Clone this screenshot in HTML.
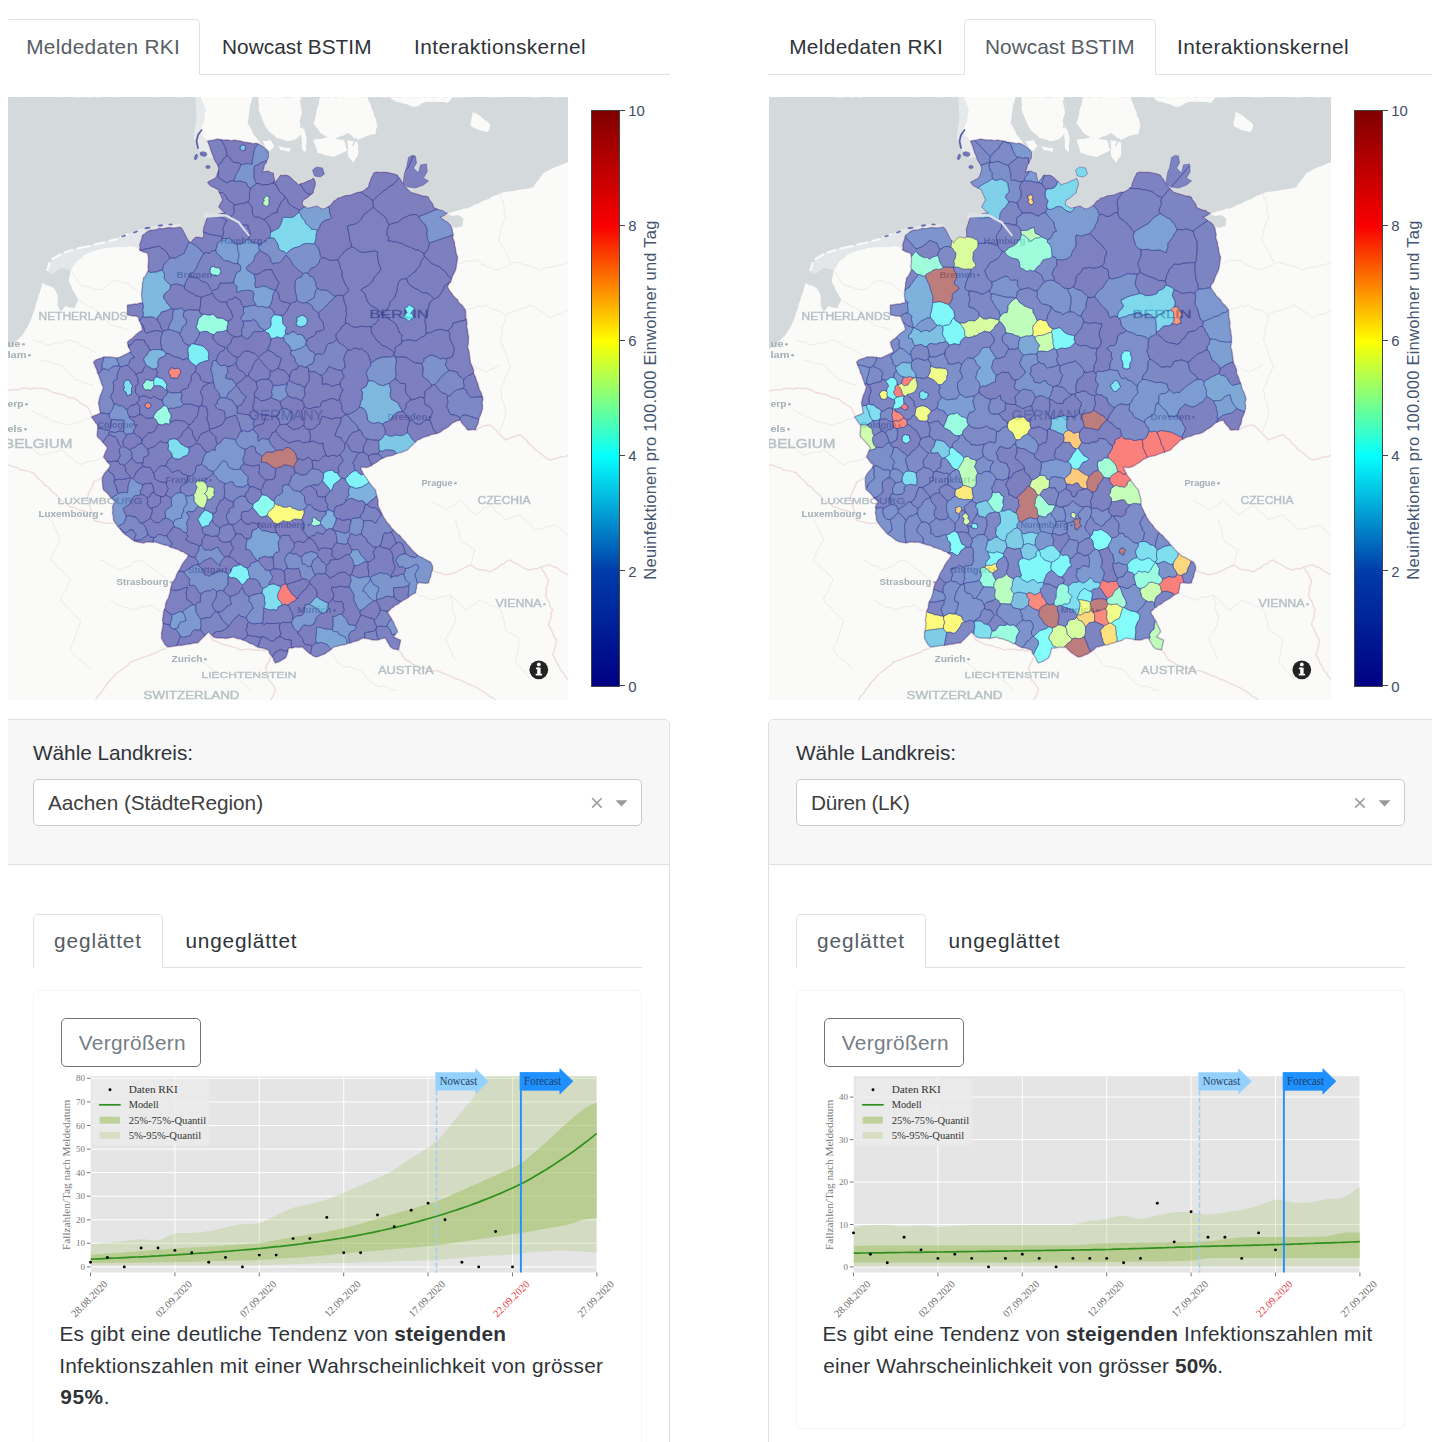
<!DOCTYPE html>
<html lang="de"><head><meta charset="utf-8"><title>BSTIM Covid-19 Dashboard</title>
<style>
html,body{margin:0;padding:0;background:#fff}
body{width:1440px;height:1442px;position:relative;overflow:hidden;font-family:"Liberation Sans",sans-serif;color:#212529}
.panel{position:absolute;top:0;height:1442px;overflow:hidden}
.pin{position:absolute;top:0;width:665px;height:1442px}
.abs,.t,.navline,.tabact,.map,.card,.cardhead,.dd,.inner,.btn{position:absolute;box-sizing:border-box}
.t{white-space:nowrap;font-size:20.8px;line-height:24px;transform-origin:0 50%}
.tab.tact{color:#565d64}.tab.tin{color:#2f3338}
.navline{height:1px;background:#dee2e6}
.tabact{border:1px solid #dee2e6;border-bottom:1px solid #fff;border-radius:5px 5px 0 0;background:#fff;height:56px}
.map{overflow:hidden;background:#fafaf8}
.map svg{filter:blur(.45px)}
.card{border:1px solid #dfdfdf;border-radius:5px 5px 0 0;background:#fff}
.cardhead{background:#f7f7f7;border-bottom:1px solid #dfdfdf;border-radius:4px 4px 0 0}
.lbl{color:#2f3338}
.dd{border:1px solid #ccc;border-radius:5px;background:#fff}
.ddt{color:#404040}
.inner{border:1px solid #f5f5f5;border-radius:5px;box-shadow:0 0 1px rgba(0,0,0,.04)}
.btn{border:1.3px solid #6c757d;border-radius:5px}
.btnt{color:#757e86}
.body{color:#2f3338}
b{font-weight:bold}
.cbar{border:1px solid #444;background:linear-gradient(to top,rgb(0,0,131) 0%,rgb(0,60,170) 20%,rgb(5,255,255) 40%,rgb(255,255,0) 60%,rgb(250,0,0) 80%,rgb(128,0,0) 100%)}
.cbl{font-size:14.9px;line-height:18px;color:#3d4d68;white-space:nowrap}
.cbt{font-size:16.5px;line-height:18px;letter-spacing:.25px;color:#44546e;white-space:nowrap;transform:translate(-50%,-50%) rotate(-90deg);transform-origin:50% 50%}
</style></head><body>
<div class="panel" style="left:8px;width:662.5px"><div class="pin" style="left:-3px">
<div class="navline" style="left:0;top:74px;width:665px"></div>
<div class="tabact" style="left:0px;top:19px;width:194.75px;height:56px"></div>
<span class="t tab tact" style="letter-spacing:0.347px;left:21.2px;top:34.7px">Meldedaten RKI</span>
<span class="t tab tin" style="letter-spacing:0.032px;left:217px;top:34.7px">Nowcast BSTIM</span>
<span class="t tab tin" style="letter-spacing:0.436px;left:409px;top:34.7px">Interaktionskernel</span>
<div class="map" style="left:0.5px;top:97px;width:562.5px;height:602.5px"><svg width="562.5" height="602.5" viewBox="5.5 97 562.5 602.5" style="display:block">
<rect x="0" y="90" width="580" height="620" fill="#fafaf8"/>
<path d="M5 97l4-.2 4-.1 3.9 .5 4-.6 4 .4 4-.1 4-.3 3.9 .4 4-.5 4 .4 4-.3 4 0 3.9 .3 4 .4 4-.7 4 .1 4 .4 3.9 .3 4-.3 4-.2 4 .6 4-1 3.9 .9 4-.6 4-.2 4 0 3.9 .2 4 .5 4-.6 4 .4 4 0 3.9-.2 4 .1 4-.4 4 0 4 .1 3.9 .5 4-.3 4-.1 4 .3 4-.1 3.9-.2 4 .5 4-.1 4-.5 4 .4 3.9-.1 4 .4 4-.4 1.5 4.4 2 4.2 1.5 4.4-1.3 4.2 0 4.5-1.2 4.3-1.4 3-1.8 2.9-1.3 3.1 2.7 2.3 2.3 2.7 4 4 1.5 4 1.5 4 1.9 3.8 1.1 4.2 2 5 1.3 3.1 1.7 2.9-1 5-2 5-4 2-4 2 3 4 4 2 4 2 2 5 2 5-2 3-2 4 3 3 4 3-3.5 .2-3.5 .8-3 .9-3 1.1-5 1-2 5-1.4 2.9-.6 3.1 0 5-1 5-4-1-3 0-3 3-2 3-3-4-2-4-2-4-3-4-3.7 .4-3.8-.1-3.8 .4-3.7 .3-3.8 .4-3.7 .6-3.8 .2-3.7 .8-4 2-4 3-1.4 3.4-.6 3.6-.5 3-.5 3-4.5-1.2-4.5-.8-4.3 .8-4.4-.3-4.3 .5-3.5 .1-3.5-.1-3.5 .4-3.5 .6-3.6 1.2-3.7 .9-3.7 .9-4.6 1.8-4.4 2.2-2.4 2.7-2.9 2-2.7 2.3-2.2 4.2-2.8 3.8-.3 3.4-.6 3.4-1.1 3.2 1.1 3.4 1.9 3.1 1 3.5 2.2 3.2 1.9 3.4 1.9 3.4-2.3 3.8-1.7 4.2-4.6-.6-4.4-1.4-2.5 3-2.5 3-1.5-3.5-1.5-3.5 .4-5-.4-5-1.7-3.7-2.3-3.3-3.5-2-3.9-1.1-3.6-1.9-.9 3.5-1.1 3.5-.9 3.4-1.5 3.2-.6 3.4-1.8 3.9-.5 4.2-1.7 3.9-1.4 4.4-1.7 4.4-1.9 4.2-1.8 3.5-2.2 3.2-2 3.3-3.6 3.4-3.4 3.6-2.8 2.7-3.2 2.3-4 2-.5-4 .4-4 0-4 .2-4 .4-4-.3-4-.2-4 .1-4 .1-4-.6-4 .8-4-.1-4 .1-4-.1-4-.4-4 0-4-.3-4 .5-4-.5-4 0-4 .1-4 0-4 .1-4-.2-4-.1-4 .2-4-.1-4 .3-4-.4-4 .9-4-.3-4-.5-4 .2-4 0-4 .1-4-.3-4 .7-4 .2-4-.5-4 0-4-.4-4 0-4 .2-4 0-4 .5-4-.6-4-.2-4 1-4-.5-4-.4-4 .4-4-.5-4 .5-4 .5-4-.1-4-.2-4-.4-4 .1-4-.2-4 .6-4-.3-4 .3-4zM252 97l4-.3 4 .8 4-.9 4 .6 4-.6 4 .1 4 .8 4-.8 4 .4 4-.1 4 0 4 0 4-.3 4 .6 4-.7 4 .1 4-.2 4 .3 4 .1 4 .5 4-.5 4-.3 4 .2 4 .7 4-.9 4 .5 4-.2 4 .3 4-.4 4 .4 4-.2 4 .1 4 .3 4-.3 4-.5 4 0 4 .8 4-.4 4-.3 4 .7 4-.3 4 .1 4 .2 4-.6 4 .1 4 .5 4-.8 4 .7 4-.7 4 .6 4 0 4 .2 4-.1 4-.3 4-.3 4 0 4 .3 4 0 4-.4 4 .8 4-.4 4 .2 4-.5 4 0 4-.2 4 .3 4 0 4 .1 4 0 4 .4 4 .1 4-.7 4 .2 4-.2 4 .5 4 .3 4-.8 4 .6 4-.3 .2 4.1 .3 4-.8 4.1 .5 4 .1 4.1-.2 4.1 .2 4-.2 4.1 0 4.1 0 4-.2 4.1 .3 4.1 .2 4 0 4.1 0 4-.4 4.1-4.3 1.6-4.3 1.9-4.4 1.5-4.1 1.7-3.9 2.3-4 2-2.7 3.4-2.3 3.6-2.9 3.2-2.1 3.8-3.9 1.2-4 .8-4 .6-4.1 .4-4.2 .9-4.3 .5-4.3 .6-4.2 1-3.7 1.9-4 1.2-3.3 2.6-4 1.3-3.9 1.4-3.5 2.4-4 1.1-3.6 2.1-3.2 1.4-3.6 .2-3.2 1.4-3.4 .8-3.4 .7-3.2 1.5-3 0-3.5-1.6-3.5-1.4-3.6-1.2-3.4-1.8-2-5-3-5-3.9-1.5-4.1-.5-3.5-.9-3.5-1.1-3-1-4-4-2.3-2.2-1.7-2.8-2-4-3-4-3.5-1.1-3.5-.9-3.5-.5-3.5-.5-5 0-5 1-1.5 3.5-1.5 3.5-.7 3.6-1.3 3.4-4 3-4 2-5 1-5 2-3.4 .9-3.6 .1-3 .9-3 1.1-4 3-3 4-3 2-4 2-3-1.5-3-1.5-5 1-5 1-5-3 1-5 5-3 2.3-2.3 2.7-1.7 1-5 1-5-2-5-3 1.6-3 1.4-4 2-5 2-4-4-4-4-5-2-5 0-2 3-3 5-1-4-.3-3-.7-3-5-2-3 .3-3 .7 1-3.5 1-3.5 1.9-3.6 2.1-3.4-.1-3 .1-3-2.7-2.3-2.3-2.7-2.2-2.3-1.8-2.7-2-2.5-2-2.5-2.3-3.3-1.7-3.7-1.8-3.6-2.2-3.4 .9-4.3 .5-4.3 .6-4.4 .5-4.4 1.4-4.3zM446 213.5l6 2.5 6-1 5 4-1 7-7 2-5-3-5-4-4-4z" fill="#d4dadc"/>
<path d="M200 97L205 110 202.5 123 198 132 203 137 207 141 210 149 213 157 206 158 198 150 193 138 196 118 195 97Z" fill="#e6eaeb"/>
<path d="M47 272 50 262 60 254 72 249.5 89 245.5 104 242 116 238.5 127 234 139 229 150 226.5 165 224.5 180 224 180 227 165 228 150 230 142 235 139 248 130 246 117 247 103 248 92 251 83 255 75 262 70 270 60 268 52 274Z" fill="#e3e7e9"/>
<path d="M262 141l4.1 0 3.9-1 1.8 3.1 2.2 2.9-2.2 2.3-1.8 2.7-5-3-1.1-3.7zM258 97l4.2-.4 4.2 .6 4.2 0 4.2-.2 4.2-.3 4.2 .7 4.2 0 4.2-.4 4.2 0 4.2 0 1 4.3 .9 4.3 .1 4.4-.8 4-1.3 4-.9 4 1.5 3.2 .2 3.6 1.3 3.2-2.8 3.7-3.2 3.3-3.3 1-3.3 .9-3.4 .1-3.2-1.6-3.4-.7-3.4-.7-2.4-2.7-2.8-2.1-2.8-2.2-2.5-3.4-1.7-3.8-1.8-3.8-1.3-4-1.8-3.9-.9-4.1 .5-3.7-.7-3.6zM300 124l1.5 3.3 2.5 2.7 1.1 3.9 .8 4 .1 4.1-.9 3.3 .6 3.4-.7 3.3-3-2-.8-4 .3-4-.5-4-.4-3.5 .4-3.5-1.1-3.5zM278 146l3.9 1.2 4 .7 4.1 .1-1 4-4.4-1.5-4.6-.5zM320 97l3.9 .3 3.9 .1 4-.8 3.9 1 3.9-1 3.9 .6 3.9-.7 3.9 .8 3.9-.7 4 .6 3.9 .1 3.9-.3 1.2 3.9 1.9 3.6 1 3.9 1.9 3.6 .4 3.7 2 3.2 .6 3.6 1 3.5-1.5 3.9-.5 4.1-4.6 .7-4.4 1.3-4.5 2.1-4.5 1.9-3.5-2.1-2.9-3-3.6-1.9-3.3 2.2-3.8 1-3.6 1.7-3.3 2.1-3.4-1.4-3.2-1.9-3.3-1.7-3.1-2-2.3-3.4-2.5-3.2-2.2-3.4 1.5-3.9 1-4 .3-4.2 1.2-3.9 1.5-3.2 0-3.6zM313 140l3.5-.9 3.6-.1 3.5-.8 3.4-1.2 4.1 .4 3.8 1.5 4.1 .5 4 .6 1.8 3.1 .4 3.8 1.8 3.1-3.4 2-3.5 1.7-3.6 1.6-3.5 1.7-4-1.1-4.1-.5-3.8-1.6-4.1-.8-1-4.5-1.7-4.2zM347 140l3.3 1 3.4 0 3.3 1 .7 3.6-.2 3.7 .5 3.7-1.2 3.6-2.4 2.9-1.4 3.5-2.3-3.2-2.7-2.8-.8-4.2 .5-4.3-.4-4.3zM389 97l3.9 .2 4 0 3.9 .3 4-.9 3.9-.1 3.9 .9 4-.6 3.9 0 3.9 .6 4-.8 3.9 .9 3.9-.5 4-.5 3.9 1 4-.4 3.9-.1-2.1 3.3-2.9 2.7-3.4-.9-3.6-.1-3.8-.3-3.7 0-3.7 .1-3.8 .2-3.8 1.5-3.2 2.5-3.5 .8-3.5-.3-3.8-2-4.2-1-4-1.2-4-.8-3.2-2zM472 112l3.2 1.3 3 1.6 2.8 2.1 2.9 2.8 3.4 2.2 2.7 3-1.1 3.7-1.9 3.3-4.5-1-4.5-1-4-1.9-4-2.1 .2-3.5 .7-3.5 1-3.4zM312 170l4-3 6 1 2 6-4 3-6-1zM402.5 183.3l1.5-10.3 2-5 2-10.5 3.5-2 3.5 .5 1 7-3 5 5 5 2-8 6-1 .7 7.7-3.7 6.3 5 3-5 4-8 3-8.3-1.3z" fill="#fafaf8"/>
<path d="M47 270L49 263M52 259L60 254.5M64 252.5L72 250M77 248.5L89 246M94 244.5L104 242.5M109 241L116 239M120 237L127 234.5" stroke="#fafaf8" stroke-width="2.2" stroke-linecap="round" fill="none"/>
<path d="M300 100L303 116 300 128M356 138L352 146M262 128 268 137" stroke="#d4dadc" stroke-width="1.6" fill="none"/>
<path d="M5 391l5-1 3.8-.4 3.9 .3 3.7-1.6 3.9 0 3.9 .8 3.8-1.1 4 .6 4-.5 4 .9 3.4 1.1 3 2.1 3.6 .8 4.3 1.2 4.4 .6 3.9 2.6 4.4 .6 4.1 1.7 3.3 3 3.8 2.2 3.8 2.1 2.1 3.3 1.3 3.7 2.6 3M102 477l-2.9 1.8-2.9 1.9-3.2 1.3-1 4.2-2 3.8-2.1 3.8-.9 4.2 .9 3.4 .8 3.4 1.3 3.2 .9 4 1.3 4 .8 4 3.6 1.4 3.7 .7 3.7 .9 3.7 .4 3.6-.1 3.7-.3M5 465l4 0 3.6 1.9 4 .7 3.4 2.4 4.4 .6 4.4 1 4.2 1.4 2.7 3.3 3.1 2.9 3.2 2.8 2.2 3.1 3.6 1.8 2.2 3.1 2.6 2.4 2.9 2.1 2.3 2.7 2.2 2.8 3.3 2.3 3.8 1.7 2.9 3 4.4 .8 4 1.9 4.3 1.1 4.3 1.2M167 647l-3.1 2.3-3.8 .6-3.1 2.4-3.6 1.2-3.4 1.5-4.1 1.1-4.1 1.3-3.8 1.9-4 1.3-4 1.4-2.5 3.1-3.4 2-3 2.6-3.1 2.3-3.1 2.3-2.3 3-2.6 2.7-3 3.1-2.3 3.6-2.7 3.3-1.9 3.6-3.2 2.7-1.9 3.7M208 632l2.1 3.9 1.9 4.1 4.3 1.7 4.2 2.2 4.5 1.1 3.9 .8 3.7 1.3 3.9 .9 3.5 2 3.8-.6 3.7-.2 3.7 .3 3.8 .5 4.3 0 4.4 .8 4.3-.8M270 657l-1.3 3.8-2 3.5-1.7 3.7 1.6 3.8 .7 4.1 .7 4.1 2.9 2.9 2.4 3.3 1.7 3.8-1.4 3.5-1.4 3.4-2.2 3.1M432 570l4.1 2.2 4.6 1 4.3 1.8 4.4-1.2 4.4-.9 4.2-1.9 3.8-2.4 4.2-1.6 4-2 3.3 1.8 3 2.2 3.7 1 3.5-.1 3.3 .8 3.2 1.3 3.2-2.6 3.8-1.6 3-2.8 3.6-1.2 2.8-2.7 3.6-1.1 3 2.6 3.6 1.4 3.4 2 3.1 2 3.3 1.3 3.6 .7 3.1-1.6 3.8 .3 3.1-1.7 3.3-.7 3.3-1.2 3.4-.1 3.6 2 3.9 1.4 3.1 2.9 3.8 1.8 3.6 1.9M475 430l3.9-2.2 4.1-1.8 3.5-.6 3.5-.4 2.7 2.6 2.8 2.6 2.5 2.8 3.5 3.5 3.5 3.5 3.9-1.7 4.1-1.3 3.3-1.7 3.7-.3 2.8 2.6 3.1 2.2 2.1 3.2 3.9 3.1 3.1 3.9 4.2 2.7 3.8 3.3 3.1 2.6 3.9 1.4 3.3-1 3.4-.9 3.3-1.1 4.2-.4 3.8-1.6M540 567l1.9 3.3 2.6 2.9 1.2 3.7 2.3 3.1-.4 3.8-1.8 3.6 .4 3.9-1.2 3.7 1.4 3.9 2.6 3.4 .6 4.3 2.4 3.4-1.6 3.6 .2 4.1-1.8 3.5-.8 3.8 2.4 3.5 1.6 4 1.5 4 2.5 3.5-.5 3.9-1.1 3.7-.7 3.8-1.7 3.6 2.6 3.4 1.4 4.1 2.5 3.5 1.5 4 3.1 3 2 3.9 2.9 3.1M398 650l2.9 2.9 1.9 3.7 2.2 3.4 4 1.5 3.3 2.9 3.9 1.6 3.8 2 4.1 .1 4 .8 3.8 1.9 4.2-.1 3.9 1.3 3.9 1.9 4 1.5 4.1 1.4 3.8 2.1 4.2 1.1 3.3 1.8 3.3 1.6 3.5 1.5 3.4 1.4 3.4 1.5 3.1 2.2 3.1 1.9 3 1.9 2.7 2.6 3.4 1.3 2.8 2.3" stroke="#efdcdc" stroke-width="1.4" fill="none" stroke-linejoin="round"/>
<path d="M70 270l2.3 2.8 1.6 3.3 2.5 2.6 1.1 3.6 2.5 2.7 4 .9 4.1 .8 3.7 2.1 4.1 .8 4.1 .4 3.4-1.4 2.8-2.3 2.5-2.8 3.2-1.7 3.1-1.8 3.9 .8 3.4 2.3 4.3-.3 3.4 2.2 2.4 2.9 3.5 1.6 2.6 2.7 2.5 2.8M78 300l3.4 2 3.3 2.1 3.2 2.4 3.9 1.2 3.2 2.3 3.3 2.7 2.4 3.6 3.3 2.7 3.2 2.8 2.8 3.2 4.3 1.1 4.3 1.1 4.3 .9 4.1 1.9M33 340l4 2.1 4.7-.2 3.8 2.8 4.5 .3 3.9-1.5 4.1-.6 4.2-.1 3.7-2.1 4.1-.7 3.3 1.7 3.7 1 2.6 3.1 3.3 1.7 4.1 .2 3 2.3 3.8 1.7 2.9 2.9 3.3 2.4M40 360l4 .9 4.1 .7 3.7 2.2 4.2 .2 4 1 3.6 2.4 2 4 4 2 2.8 3.2 2.6 3.4 3.8 .2 3.3 2 3.5 1.5 3.7 .5 3.7 .8M30 410l3.4 1.6 3.2 2 3.5 1.2 2.9 2.6 4.1 .1 2.9 2.5 3.8 1.9 4.1 .5 4 1.2 4 1 4.1 .4 3.3-1.9 3.9-.2 3.4-1.6 3.1-2.3 4.1 0 3.2-2M20 440l3.4 2.4 3.5 2.3 2.7 3.4 3.8 1.8 3.2 2.6 3.4 2.5 4-.9 3.9-1.4 4.2-.4 4.1-.5 3.8-1.8 3.8 1.8 2.8 3.3 3.7 2 2.8 3.1 3.4 2.5 3.5 2.3 3.5-2.2 3.9-1.2 4.1-.5 4.1-.8 3.8-1.4 3.6-1.9M50 520l2.4 2.9 1.1 3.7 2 3.2 1.3 3.5 2 3.1 1.2 3.6-2.3 3-1.1 3.6-2 3.2-2 3.2-.9 3.7-1.7 3.3 2.9 2.8 3.3 2.4 2 3.8 3.8 1.8 2.5 3.3 3.1 2.6 2.4 3.3-2.1 3.1-1.2 3.6-1.7 3.3-1.7 3.3-2.2 3.1-1.1 3.6 2.2 3.5 3.7 2 2.1 3.6 3.1 2.6 2.9 2.9 2.5 3.2 3.5 2.2-.7 3.9-1.5 3.7-1.5 3.7-.9 3.8-1.3 3.8-1 3.8-2.6 3.3-.5 4 2.2 3.5 3 2.7 3 2.8 3.4 2.3 3 2.7 2.7 3 2.7 3M100 560l3.7 .9 2.7 2.9 3.2 2 3.8 .7 2.9 2.6 3.7 .9 3.3-1.8 3.5-1.3 3.6-1.1 2.7-3 3.2-2 3.7-.8 3.7 2 3.5 2.3 2.9 3.1 3.7 2 3.4 2.5 2.8 3.1 3.2 1.7 2.9 2.1 2.5 2.8 3.4 1.4M110 600l3.1 2.1 3.2 2 3.5 1.3 3.2 2 4 .2 3 2.4 4-.8 4-1.3 3.9-1.4 4.3 .2 3.8-1.7 3.4 1.7 2.6 3.1 3.9 1 3.1 2.2M456 264l3.9-.4 3.5-2 3.9-.7 3.9 .1 3.8-1 3.5 1.4 2.8 2.7 3.4 1.4 3.3 1.8 3.7 .9 3.3 1.8 4.2-1 3.8-2.1 4.2-1.1 3.7-2.5 4.1-1.3 3.5 1.2 3.7 1 3.6 1.1 3.6 1.1 3.5 1.2 3.7 .6 3.4 1.8 3.8-1.8 4.1-.9 4.2-.4 4-1.2 4-.9 4-1.2 3.9-1.6M500 193l0 3.8 2.1 3.4 .5 3.8 1.4 3.5-.8 4.1 1.8 3.4-.5 4.4-2.2 3.8-1 4.2-1.4 4.2-.6 4.3-1.3 4.1 2.2 3.6 2 3.6 2.6 3.4 1.5 3.9 2.1 3.6 1.6 3.9M465 310l3.9-1.3 4.2-.5 3.7-2.2 4.4 .9 3.8-1.9 3 2.2 3.2 2 4 .4 3.4 1.5 3.5 1.4 2.9 2.5 3.3-2 3.5-1.7 4.1-.2 3.3-2.1 3.9-.6 3.5-1.5 3.4-1.9 3.5 1.9 3.5 1.9 3.2 2.4 3.6 1.7 2.7 3.2 3.5 1.9 3.3-2.2 3.6-1.6 4.2-.3 3.2-2.4 3.7-1.5M505 315l0 4.3-1.9 4-1.6 4 .5 4.4-1.3 4.1-.7 4.2 1.7 3.5 .7 3.8 1.5 3.6 1.6 3.5 .8 3.8 1.9 3.4 1.8 3.4-1.1 3.7-1.5 3.5-1.9 3.4-1.6 3.5-.5 4-2.5 3.1-.9 3.8 .9 4.1 .2 4.3 2.2 3.9 .4 4.3 1.4 4-.1 4.4-1.2 3.7-1.1 3.7-1.6 3.5-1.2 3.7-1.9 3.4M471 365l3.7 1.4 3.3 2.1 3.4 1.9 3.6 1.6 3.7-1.8 3.9-1.5 3.6-2 3.8-1.7M430 500l2.6 2.6 3.4 1.4 3.4 1.4 3 2 2.6 2.6 2.8-2.3 3.6-1.1 3.1-1.9 2.3-2.9 3.2-1.8 3.1 2.9 3 3 2.3 3.7 3.7 2.3 2.9 3.1 2.8-2.3 3.2-1.7 2.4-2.8 3.6-1.2 3-2M455 520l1.1 4 1 4 1.8 3.8-.4 4.3 1.5 3.9 2.8 2.3 3 2 3.2 1.7 2.8 2.3 3.2 1.7-2 3.5-.9 3.9-.6 3.9-1.5 3.7M490 505l3.2 2.8 2.2 3.8 4 2 2.9 3.1 2.7 3.3 3.7-1.4 3.6-1.6 3.8-1.1 3.9-.9 2.5 3.5 3.5 2.5 3.6 2.4 1.9 4.1 3.5 2.5 3.9-1.5 4.2 .1 3.7-2.5 4.3 .2 3.9-1.3 3.1 2.6 3.3 2.6 2.8 3.1 3.8 1.7M415 593l3.5 2.3 4.1 .9 3.9 1.6 3.5 2.2 4.2-.4 3.6-2.3 4.2-.3 4-.9 4-1.1 2.8 3.2 3.7 2.3 2.3 3.7 3.2 2.8 3 3 3.4-1.4 2.1-3.4 4-.4 2.1-3.3 3.4-1.5 3.1 2.2 3.6 1.1 3 2.3 3.9 .5 3.2 1.9 3.2 2M450 595l.2 4.3 2.3 3.9-.8 4.5 1.2 4.1 1.7 3.9 .4 4.3-1.5 3.4-1 3.7-1.9 3.2-2.5 2.9-1.9 3.2-1.2 3.6 2.2 3.1 .8 3.7 2.2 3.1 1.4 3.5 1.1 3.6 2.3 3M500 610l1.7 3.8 .6 4.1 1.4 3.9 .8 4.1 .5 4.1 2.8 2.3 3.6 1.1 2.8 2.4 3.1 1.7 2.7 2.5-1.9 3.8-.1 4.2-.6 4.1-1.2 3.9-1.2 4 2 3.7 3.2 2.8 1.8 3.9 3.2 2.8 2.7 3.2 2.1 3.6M330 652l2.9 3 2 3.6 2.3 3.4 2.8 3 3.8 1.9 4.3-.2 3.9 1.4 4.1 .7 3.9 1.2 2.9 3.1 2.6 3.4 2.8 3.2 3.1 2.9 3.6 2.4 3.8 1.9 4.4-.8 3.9 1.4 3.7 2.4 4.2 .1M200 660l3 2.4 3.1 2.3 2.8 2.6 3.2 2.1 2.9 2.6 3.9 1.3 4.2-.8 3.9 1.2 3.9 1.2 4.1 .1 2.8 3.2 2.6 3.4 3.9 2.1 2.9 3.1 2.8 3.2" stroke="#eeeae8" stroke-width="1" fill="none" stroke-linejoin="round"/>
<path d="M207 141l3.4-.5 3.3-.6 3.3-.9 2.7 .6 2.8 .4 2.7 0 2.8 0 3 .7 3-.7 3 .7 3 .3 3.2 1.1 3.4 .4 3.4 .5 2.6 .8 2.8-.6 2.6 .8 2.5 1.5 2.5 1.5 2.7 2.3 2.3 2.7 0 3 0 3-1.4 2.3-.8 2.6-1.8 2.1-.7 3.6-1.3 3.4 3-.7 3-.3 2.3 1.4 2.7 .6 .2 3 .8 3 1 4 1.2-2.7 1.8-2.3 2-3 2.5 .3 2.5-.3 2.6 .6 2.4 1.4 1.9 2.1 2.1 1.9 2.3 1.7 1.7 2.3 2.3-1.5 2.7-.5 4-2 3.2-1.1 2.8-1.9 1.3 2.4 .7 2.6-.2 2.6-.8 2.4-1 2.4 0 2.6-2.8 1.7-2.2 2.3-2.4 1.7-2.6 1.3-1 2.4 0 2.6 2.5 1.5 2.5 1.5 2.5-.3 2.5-.7 2.4-.8 2.6-.2 2.8 1.9 3.2 1.1 4-2 3-2 1.7-1.9 1.3-2.1 2.3-1.1 1.7-1.9 3.1-.6 2.9-1.4 3.5-.7 3.5-.3 2.4-1.1 2.6-.9 2.4-.9 2.6-.1 4-2 1.8-1.8 2.2-1.2 .5-3.6 1.5-3.4 .8-2.4 1.3-2.2 .9-2.4 2.4-1 2.6 0 2.5 .2 2.5-.2 3.5 .3 3.5 .7 3.6 .8 3.4 1.2 1.2 2.2 1.8 1.8 2 4 2 2.5 2 2.5 2.1 1.9 1.9 2.1 3 1 3.5 1 3.5 1 2.6 .9 2.9 0 2.5 1.1 1.1 2.8 1.9 2.2 1.5 2.3 .5 2.7 2.2 1.3 2.3 1 2.5 .7 2.5 .5 2 1.8 2.5 .7-1.9 1.6-2.1 1.4-3 1 2.4 2.1 2.6 1.9 2.8 1.6 2.2 2.4 1.5 3.4 .5 3.6 .7 2.6-.5 2.8 .8 2.6 1 2.6 .1 2.8 .9 2.6 .2 3.1 .7 3 1.1 2.9-.3 3.5-.7 3.5-.3 3-.7 3-1.4 3-1.5 2.9-1.1 3.1-.9 2.9-2 2.3-1.1 2.8 1.7 3.2 2.3 2.8 1.7 2.7 2.3 2.3 2.1 1.7 .9 2.6 2 1.7 2 1.7 1.5 2.2 1.5 2.1 .2 3.3 0 3.4 .8 3.3 .5 3.3-.3 3.4 .8 3.3 .3 3 .6 3 .1 3-.1 2.7-.2 2.7-.7 2.6 1.1 2.9 .6 3 .3 3.1 .5 3 .3 3.1 1.2 2.9 1.2 2.6 .9 2.6-.1 3 1.3 2.5 1 2.6 .7 2.7 1.3 2.6 .6 2.8 .8 2.7 1.3 2.5 1.1 2.7 .9 2.7 .5 2.7-1 2.6 .5 2.7 0 3.6-1 3.4-1 3-1.4 2.9-.6 3.1-.6 3.1-1.6 2.8-.8 3.1-2.7-.5-2.6 .4-2.7 .1-1.8-2.7-2.2-2.3-1.9-2.3-1.1-2.7-4 1-4 2-2 1.7-1.8 1.9-2.2 1.4-3.2 1.7-2.8 2.3-2.9 1.2-3.1 .8-3.2 .5-2.8 1.5-2.9 .6-2.8 .9-2.5 1.5-2.8 1-2.5 2.5-2.5 2.5-2.7 2.3-2.3 2.7-3 1-2.9 1.2-3.1 .9-3 .9-2.9 1.4-3.1 .7-3.2 .4-2.8 1.5-2.9 1.2-2.5 2-2.6 1.8-2.3 1.3-2.3 1.5-2.4 1.2-2.7 .5-2.6-.2-2.7-.3 .7 2.6 1.3 2.4 1.2 2.7 1.8 2.3 1.8 2.2 1.3 2.6 1.9 2.2 1.4 2.2 1.8 1.9 1.8 1.9 .5 2.7 .6 2.7 .9 2.6 .5 3-.1 3 .6 3 1.5 2.6 1.2 2.7 1.3 2.7 1.4 2.8 1.8 2.6 1.8 2.6 2.2 2.1 1.4 2.7 2.3 2.1 2.1 2.1 1.9 2.1 2.5 1.5 1.6 2.4 2 2 2 1.8 1.4 2.3 1.9 1.9 1.7 2 2.1 2.6 2.5 2.2 2.4 2.2 2.2 1.6 2.5 .9 2.3 1.5 2.9 1.6 3.1 1.4 2 4 0 4-1.3 3.4-.7 3.6-1.3 2.9-.7 3.1-3 .2-3-.2-2.5-.4-2.5 .4-.9 2.4-.1 2.6-.7 2.5-.3 2.5-2.9 1.2-2.7 1.7-2.4 2.1-2.3 1.3-2.4 1.3-2.3 1.4-2.1 2-2.8 1-2.1 2-2.3 1.3-1.7 2.1-2 1.6 1.3 2.6 1.7 2.4 1.3 2.6 1.7 2.4 .8 2.6 1.2 2.4 1.3 2.4 .7 2.6-2.2 2.3-1.8 2.7 2.3 1.1 2.3 1.1 2.4 .8-.4 2.5-.6 2.5-.6 2.5-.4 2.5-2.4-.8-2.6-.2-3-2-1.4-2.6-1.6-2.4-2-4-2.5 .3-2.5 .7-2.4 1-2.6 0-3.1-.1-2.9-.9-3-.4-3-.6-2.4 .8-2.1 1.5-2.5 .7-3.1 .8-2.9 1.2-3 .5-2.9 1.3-3.1 .2-2.7 .7-2.6 .9-2.7 .4-3 3-3 2-2.8 1.9-3.2 1.1-2.9 1.4-3.1 .6-2.6-1.3-2.4-1.7-2.7-1.7-2.3-2.3-3-3-3.5 .3-3.5-.3-3.4 1-3.6 0-.5 2.5-.5 2.5-.9 2.5-1.1 2.5-2.6 1.4-2.4 1.6-2.5 .9-2.5 1.1-1.6-2.2-.7-2.7-1.7-2.1-2-2.8-1-3.2-3-.9-3-1.1-2.5-.3-2.5-.7-2.6-1.4-2.4-1.6-2.7-.6-2.3-1.4-2.2-1.3-2.5-.6-2.3-1.1-3.6-.5-3.4-1.5-2.5 .4-2.5 .6-2.5 .4-2.5-.4-2.5 0-2.5 0-2.5-.3-2.5-.7-2.4-2.6-2.6-2.4-3 3-2 2-3 3-3 3-3.6 0-3.4 1-3.5 .2-3.5 .8-2.7 .4-2.7-.1-2.6 .7-2.7 .2-2.6 .6-2.7 .2-2.3-2.3-1.7-2.7-2-4 .1-2.5-.1-2.5 .6-2.5 .4-2.5 .5-2.7 0-2.6-.5-2.7 .6-3.5 .4-3.5 .5-2.7 1.3-2.5 .2-2.8 .5-2.5 1.1-2.3 1.4-2.2 .7-2.6 .8-2.7 .5-2.7 .6-3.6 1.4-3.4 1.5-2.6 1.6-2.5 .9-2.9 1.2-2.4 1.4-2.3 1.4-2.3 1.1-2.5 1.4-2.3 1.5-2.2 2.4-2.7 1.6-3.3-2.7-1.2-2.4-1.9-2.9-.9-2.2-1.4-2.4-.7-2.4-.9-3.1-.7-2.7-1.8-3.2-.5-3-1-3-.9-3-1.1-3 .2-3-.2-3.1 0-2.9 1-3-.5-3-.5-2.6-.8-2.4-1.2-2.5-2-2.5-2-2.8-1.7-2.2-2.3-1.6-2.1-1.8-1.9-1.6-2-2.2-2.9-1.8-3.1-.2-3.5-.8-3.5 .4-3-.4-3 1-2.8 2-2.2-2-2-2.2-1.8-1.8-2.2-1.7-2.3-2.1-1.9-2.2-1.8-.8-3.5-.2-3.5-.3-3 .3-3 1.7-3.2 2.3-2.8 2.4-2.7 1.6-3.3-2.2-1.8-1.8-2.2-1.4-2.1-1.6-1.9 1-2.5 1-2.5 2-4-1.5-2.1-1.7-2-1.8-1.9-2.3-2.7-2.7-2.3-.4-3 .4-3 .3-3-.3-3-1.7-1.9-1.3-2.1-1.5-2-1.5-2 2.4-1.2 2.6-.8 4-2-.7-2.5-.3-2.5-.5-2.5-.5-2.5 .6-2.7 .6-2.7 .8-2.6 1.3-2.6 .8-2.7 .9-2.7-1.5-2.1-.8-2.5-.7-2.4-1-2.3-.6-2.5-1.4-2.2-.6-3.1-1.4-2.9-1-2.5-1-2.5 2.2-2 2.8-1 2.6-.7 2.4-1.3 3.5-.1 3.5 .1 3.5 .6 3.5 .4 2.4-.8 2.3-1.1 2.3-1.1 3-1.5 3-1.5-.6-2.7-1.4-2.3-.6-2.5-.4-2.5 2.3-2.1 2.6-1.6 2.1-2.3 2.5-2.3 2.7-1.9 2.8-1.8-.7-3.6-1.3-3.4-1.5-2.8-.5-3.2-2.9-.9-3.1-.1-2.5-.7-2.5-.3-.1-2.5 .1-2.5-.2-2.5 .2-2.5 3.5-.2 3.5-.8 2.7 .1 2.6-1.2 2.7 .1-.4-2.7-.2-2.6-.4-2.7 .3-3 .2-3 .5-3 0-2.7 .8-2.6 .2-2.7 1.8-1.8 1.2-2.2 2-4-.5-3 .2-3 .3-3 0-2.7-.3-2.7-.7-2.6-4-1-4-2 .5-2.6-.4-2.8 .9-2.6 1.2-3.4 .8-3.6 2.3-1.1 1.7-1.9 4-2 3.1 .1 2.9-.7 2.9-1.1 3.1 .5 3-.8 3-.5 3 .3 3 .1 3-.5 3-.4 1.8 1.8 1.2 2.2 2 4 2 4 1.7 1.9 1.3 2.1 2-3 3-3 3 0 4 1 1-2.4 0-2.6-.4-2.5 .4-2.5 1.1-3 .9-3 .9-2.5 1.1-2.5 2.4-.9 2.6-.1 3-.9 3-1.1 3.4-1 3.6 0-2.3-1.2-1.7-1.8-3-3 2-4 2-3-1.1-2.5-.9-2.5-1.4-2.3-.6-2.7-4-2-4-2-1.9-1.7-1.1-2.3 4-2 4-2 1.1-2.5 .9-2.5 .8-2.4 .2-2.6-1.1-3.2-1.9-2.8-1.4-2.4-.6-2.6-1.1-2.6-1.1-2.7-.8-2.7-.9-2.7-1.1-2.6z" stroke="#ecd9d9" stroke-width="2" fill="none"/>
<text x="38" y="319.5" font-family="Liberation Sans,sans-serif" font-weight="normal" stroke="#b7c0c5" stroke-width=".38" font-size="10" fill="#b7c0c5" textLength="89" lengthAdjust="spacingAndGlyphs">NETHERLANDS</text>
<text x="3.5" y="448" font-family="Liberation Sans,sans-serif" font-weight="normal" stroke="#b7c0c5" stroke-width=".38" font-size="12.6" fill="#b7c0c5" textLength="68.5" lengthAdjust="spacingAndGlyphs">BELGIUM</text>
<text x="57" y="504" font-family="Liberation Sans,sans-serif" font-weight="normal" stroke="#b7c0c5" stroke-width=".38" font-size="9.6" fill="#b7c0c5" textLength="85" lengthAdjust="spacingAndGlyphs">LUXEMBOURG</text>
<text x="38" y="516.5" font-family="Liberation Sans,sans-serif" font-weight="bold"  font-size="8.8" fill="#a3aeb5" textLength="60" lengthAdjust="spacingAndGlyphs">Luxembourg</text>
<circle cx="101" cy="513.7" r="1.3" fill="#a3aeb5"/>
<text x="248" y="419.5" font-family="Liberation Sans,sans-serif" font-weight="normal" stroke="#c2cacf" stroke-width=".38" font-size="14" fill="#c2cacf" textLength="75" lengthAdjust="spacingAndGlyphs">GERMANY</text>
<text x="477" y="503.5" font-family="Liberation Sans,sans-serif" font-weight="normal" stroke="#b7c0c5" stroke-width=".38" font-size="10" fill="#b7c0c5" textLength="53" lengthAdjust="spacingAndGlyphs">CZECHIA</text>
<text x="495" y="607" font-family="Liberation Sans,sans-serif" font-weight="normal" stroke="#b7c0c5" stroke-width=".38" font-size="10" fill="#b7c0c5" textLength="46" lengthAdjust="spacingAndGlyphs">VIENNA</text>
<circle cx="544" cy="604.2" r="1.3" fill="#b7c0c5"/>
<text x="377.5" y="673.5" font-family="Liberation Sans,sans-serif" font-weight="normal" stroke="#b7c0c5" stroke-width=".38" font-size="10" fill="#b7c0c5" textLength="55.5" lengthAdjust="spacingAndGlyphs">AUSTRIA</text>
<text x="201" y="677.5" font-family="Liberation Sans,sans-serif" font-weight="normal" stroke="#b7c0c5" stroke-width=".38" font-size="9.6" fill="#b7c0c5" textLength="95" lengthAdjust="spacingAndGlyphs">LIECHTENSTEIN</text>
<text x="143" y="699" font-family="Liberation Sans,sans-serif" font-weight="normal" stroke="#b7c0c5" stroke-width=".38" font-size="10.4" fill="#b7c0c5" textLength="96" lengthAdjust="spacingAndGlyphs">SWITZERLAND</text>
<text x="116" y="585" font-family="Liberation Sans,sans-serif" font-weight="bold"  font-size="8.8" fill="#a3aeb5" textLength="52" lengthAdjust="spacingAndGlyphs">Strasbourg</text>
<circle cx="171" cy="582.2" r="1.3" fill="#a3aeb5"/>
<text x="171" y="662" font-family="Liberation Sans,sans-serif" font-weight="bold"  font-size="8.8" fill="#a3aeb5" textLength="31" lengthAdjust="spacingAndGlyphs">Zurich</text>
<circle cx="205" cy="659.2" r="1.3" fill="#a3aeb5"/>
<text x="421" y="486" font-family="Liberation Sans,sans-serif" font-weight="bold"  font-size="8.8" fill="#a3aeb5" textLength="31" lengthAdjust="spacingAndGlyphs">Prague</text>
<circle cx="455" cy="483.2" r="1.3" fill="#a3aeb5"/>
<text x="220" y="244" font-family="Liberation Sans,sans-serif" font-weight="bold"  font-size="8.8" fill="#b2bac4" textLength="42" lengthAdjust="spacingAndGlyphs">Hamburg</text>
<circle cx="265" cy="241.2" r="1.3" fill="#b2bac4"/>
<text x="176" y="278" font-family="Liberation Sans,sans-serif" font-weight="bold"  font-size="8.8" fill="#b2bac4" textLength="36" lengthAdjust="spacingAndGlyphs">Bremen</text>
<circle cx="215" cy="275.2" r="1.3" fill="#b2bac4"/>
<text x="369" y="317.5" font-family="Liberation Sans,sans-serif" font-weight="normal" stroke="#98a1ae" stroke-width=".38" font-size="11.5" fill="#98a1ae" textLength="59" lengthAdjust="spacingAndGlyphs">BERLIN</text>
<text x="387" y="420" font-family="Liberation Sans,sans-serif" font-weight="bold"  font-size="8.8" fill="#b2bac4" textLength="40" lengthAdjust="spacingAndGlyphs">Dresden</text>
<circle cx="430" cy="417.2" r="1.3" fill="#b2bac4"/>
<text x="97" y="428" font-family="Liberation Sans,sans-serif" font-weight="bold"  font-size="8.8" fill="#b2bac4" textLength="36" lengthAdjust="spacingAndGlyphs">Cologne</text>
<circle cx="136" cy="425.2" r="1.3" fill="#b2bac4"/>
<text x="165" y="483" font-family="Liberation Sans,sans-serif" font-weight="bold"  font-size="8.8" fill="#b2bac4" textLength="42" lengthAdjust="spacingAndGlyphs">Frankfurt</text>
<circle cx="210" cy="480.2" r="1.3" fill="#b2bac4"/>
<text x="257" y="528" font-family="Liberation Sans,sans-serif" font-weight="bold"  font-size="8.8" fill="#b2bac4" textLength="48" lengthAdjust="spacingAndGlyphs">Nuremberg</text>
<circle cx="308" cy="525.2" r="1.3" fill="#b2bac4"/>
<text x="187.5" y="572.5" font-family="Liberation Sans,sans-serif" font-weight="bold"  font-size="8.8" fill="#b2bac4" textLength="40" lengthAdjust="spacingAndGlyphs">Stuttgart</text>
<circle cx="230.5" cy="569.7" r="1.3" fill="#b2bac4"/>
<text x="297" y="613" font-family="Liberation Sans,sans-serif" font-weight="bold"  font-size="8.8" fill="#b2bac4" textLength="34" lengthAdjust="spacingAndGlyphs">Munich</text>
<circle cx="334" cy="610.2" r="1.3" fill="#b2bac4"/>
<text x="7" y="347" font-family="Liberation Sans,sans-serif" font-weight="bold"  font-size="8.8" fill="#a3aeb5" textLength="13" lengthAdjust="spacingAndGlyphs">ue</text>
<circle cx="23" cy="344.2" r="1.3" fill="#a3aeb5"/>
<text x="7" y="358" font-family="Liberation Sans,sans-serif" font-weight="bold"  font-size="8.8" fill="#a3aeb5" textLength="19" lengthAdjust="spacingAndGlyphs">lam</text>
<circle cx="29" cy="355.2" r="1.3" fill="#a3aeb5"/>
<text x="7" y="407" font-family="Liberation Sans,sans-serif" font-weight="bold"  font-size="8.8" fill="#a3aeb5" textLength="16" lengthAdjust="spacingAndGlyphs">erp</text>
<circle cx="26" cy="404.2" r="1.3" fill="#a3aeb5"/>
<text x="7" y="432" font-family="Liberation Sans,sans-serif" font-weight="bold"  font-size="8.8" fill="#a3aeb5" textLength="15" lengthAdjust="spacingAndGlyphs">els</text>
<circle cx="25" cy="429.2" r="1.3" fill="#a3aeb5"/>
<g fill-rule="evenodd" fill-opacity=".5" stroke="#2c3488" stroke-opacity=".42" stroke-width=".95" stroke-linejoin="round">
<path fill="#029ed4" d="M239.7 147.3l0 1.6 1 1 1.1 1 1.5-.4 1.4-.5 0-1.5 .6-1.4-.5-1.6-1.6-.4-1.6 0-1.3 .9z"/>
<path fill="#fa1a00" d="M144.4 404.6l.2 1.6 1 1.1 1 1 1.6 0 1.3-.6 .7-1.4 .2-1.5-1-1.1-1-1-1.5 .1-1.4 .5zM169.7 375l.5 2.9 3.5 .2 3.6 .2 1-2.8 1.9-2.3-.3-3-2.1-2.1-3.6 .6-3.5-1-1.6 2.4-1.3 2.7z"/>
<path fill="#50ffb2" d="M312 521.5l-1.8 2.4 1.7 1.3 1.8 1 3.4-.9 3.5-.8-.6-1.4 .1-1.5-3.1-1.6-2.7-2.2-1.4-.3-1.2 .9z"/>
<path fill="#3cffc7" d="M209.8 272.5l1 1.8 3.3 1 3.4 .5 1.8-1.9 1.1-2.4-.9-1.8-.3-2-3.5 .1-3.2-1.6-2.4 1.5-.5 2.8zM142.7 387.5l1.9 2.4 3-.2 2.9 .6 1.4-2.3 1.7-2.1-.4-2.8-.1-2.8-2.6 .6-2.5-.9-2.5-.3-1.3 2.7-2.1 2.1zM153.5 415.2l-.6 2.3 2.2 1.8 1.4 2.4 1.5 2.4 3.5 1 3.5-1.7 3.5 .8 1-1.3-.2-2.9 1.3-3-.3-2.8-2-2.6-.7-2.8-1.6-2.6-2.9-.8-1.8 2.2-2.4 1.7-2.3 1.6-1.8 2.4zM197.3 321.1l-.5 3.1-1.3 2.6 1.8 2.9 1.9 2.7 2.5-.6 2.6-.5 2.7 .3 3 2 3.4 1.2 1.3-1.4 1.4-1.3 2.7-.3 2.7-.1 2.6-.8 2.6-1-.2-2.9 1-2.9-.1-2.9-2.8-1.1-2.5-1.9-3.1 0-3-.5-1.7-1.9-1.6-1.9-2.5 1.1-2.7 .1-2.3-.5-2.3-.4-2.1 2.2-2.6 1.8z"/>
<path fill="#04e4f3" d="M202.7 512.2l-2.3 1.9-1.3 2.8-2 2.2 1.6 2.9 1.4 3 2.1 2.6 2.8-1.5 3.5-.6 1.2-3.4 2-2.4 .9-3.1-.8-3.1-2.4-1.2-2.3-1.3-2.5-1.1zM187.4 348.4l0 3.2 .7 3.4-.4 3.2 1.5 2.5 1.6 2.3 2.6 1.4 2.1 1.9 2.1-2.3 2.5-1.3 2.7-1 2.8-.9 2.9-.6-.8-3 .8-3.4-1.1-2.8-2.4-2.4-2.3-2.4-2.8-.9-3.1-.5-2.9-.8-2.5-.3-1.9 1.8z"/>
<path fill="#04d4ec" d="M296.6 320.6l-1 2.9 1.7 2.8 3.2 .6 2.8-.9 2.5-1.6 1.1-2.9-.5-3-2.1-2.1-2.8-1.3-2.5 1.5-2.8 1z"/>
<path fill="#0286ca" d="M313.6 598.9l-2.1 2.8-2.6 2.4 2.6 1.6 2.5 1.6 2.8 1.2 1.9 2.4 2.2 2.2 2.9 .3 2-2.1 1.9-2.5-.3-3 .4-2.8-3.1-1.1-3-1.5-2.8-1.6-2.6-2.2z"/>
<path fill="#04ebf6" d="M153.2 383.1l.4 2.8 3.1-.2 2.9 .1 2.5 1.3 2.1 2.1 2.4 1.5-.8-3 .5-3.1-1.8-2.8-1.9-2.8-3.3-1-3-1.3-2.2 1.3-1 2.3zM345.8 481.7l1.8 2.4 2 2.3 2.9 .7 2.8 1.4 3-.8 3-.7 2.8-1.7 3-1.5 1.1-1.8-.1-.2-1.3-2.6-1.8-2.2-1.8-2.3-.2-.4-2.3 .4-2.6-1.8-2.4-2.4-2.9 .7-2.2 1.6-2.2 1.8-1.7 2.3-2 1.9zM227.9 575.9l2.2 1.8 3.3-.1 2.7 1 2.1 1.9 1.6 2.7 2.3 1.6 2.6-2.2 1.9-3.1 3-1.7-1.3-3.2-.4-3.4-1.4-3.1-2.5-.8-2.1-1.6-2.2-1.2-3.1 1.3-3.7 .5-1.9 2.8-1.1 3.6-2.4 2.1zM323 477.2l-1 3.6 2 2.5 2.2 2.4 2.1 2.5 1.8 2.7 .7-.1 1.5-3 1-3.3 2.6-2.1 2.9-1.9 1.9-2.7-2.3-1.7-.8-2.8-3.3-.8-2.7-2.4-3.6 .5-2.7 1-2.3 1.9zM271.6 316.9l-1.4 2.8 .5 4.1-.8 3.1-2.7 2-3.3 1.5 1.9 1.9 2.6 1.3 .9 2.6 1.4 2.3 3-.2 3-1.6 3.2 1.4 3.1-.6 .7-2 1.6-1.4-.7-3.2 1.5-3-1.8-2.2-2-2.1-.1-3.1-.1-3.1-2.3-2-2.9-.3-3-.4z"/>
<path fill="#0050b2" d="M283.7 340.6l1.9 2.5 2.6 1.9 1.5 2.7 1.2 2.9 3.4-.2 2.9-1.2 3.1-.9 2.7-1.8 2.7-1.8-.6-1.6 1-1.4-1.6-2.8-1.6-3-3.1-1.6-2.9 .3-2.9-2.6-2.9-.1-2.9 2.3-2.9-.1-1.6 1.4-.7 2zM246.1 542.4l-.7 3.4-.1 3.5 2.4 .2 2.1 1.2 1.5 2.6 1.4 2.6 2.3 2.1 1.1 2.9 1.7 0 .9-2.9 3-.8 2.6-1.1 2.8 1.2 2.7-.4 2.7 0 1.2-2.6 1.9-2.2 1.9 .2 1.2-1.6-.4-2.9-.4-2.8-.3-2.9 1.8-2.8-.1-2.9-1-.8-1-.8-1-1.9-2.9-.4-2.9 .1-2.8-.9-2.8-.8-2.9-.1-2.3-1.8-1.6-2.5-2.3 2.5-3.9 1.4-.7 3.6-.5 3.6-2 1.4-2.4-.1z"/>
<path fill="#fa0500" d="M279.6 589.2l-1.5 2.7-1 2.8 0 3.1 1.4 2.5 2.3 2 .7 2.9 2.9-.9 2.9 .9 2.2-1.6 2.2-1.7 2.8-.9 1.5-2.6-1.7-2.3-2.5-1.7-1.6-2.4-1.6-2.3-1.6-2.4-.7-2.9-.9-.5-2.8 .6-1.9 1.9z"/>
<path fill="#0167bd" d="M325.6 514.5l-2.6 2-1.6 2.4-1.3 2.7-.1 1.5 .6 1.4 1.9 1.7 1.7 1.9 1.7 1.9 2.9-1.5 3.1 .6 1.1-2.6 1.3-2.6 1.1-2.7 .4-2.9-2.2-2.8-.3-3.5-2.4-1-2.5-1-1.7 0-1.1 1.2zM347.7 491.6l.8 3.3-1.3 2.4-2.3 2.1 .4 1.1 3.2-1.7 3.1-.5 3.1 1.5 3.2 1.4 3.1-.7 2.6 1.3 1.3 2.5 1.9-.2 2.1-2 2.3-1.9 2.5-1.6 1.9-2.3 .5-.6 0-.3-.6-2.7-.5-2.7-1.8-1.9-1.8-1.9-1.4-2.2-1.8-2-1.1 1.8-3 1.5-2.8 1.7-3 .7-3 .8-2.8-1.4-2.9-.7-1.1 2.6z"/>
<path fill="#04c4e6" d="M169.4 451.2l1.8 2.1 .4 2.9 2.3 2.3 2.9 .6 3.1-.3 2.8-2.2 3.4-1.1 2-2.3 .5-2.8-.5-3-3-.7-2.3-1.5-2.5-1.3-1.8-2.3-1.9-2.2-2.7-.6-2.7 .2-2.7 .8-1.1 2.6 .7 3.4-.6 3.4zM124 388.1l-1.5 1.9 3 2.2 1.2 3.6 .6 .1 1.7-1.1 2-.5 0-3.4 .2-3.4 1.2-1.5-2.2-2.8-1.7-3.2-.8-.1-2.2 .4-1.7 1.3-.7 3.3zM261.6 593.1l1.6 2 .9 2.4-.3 2.7 1 2.8-.9 2.6-.3 2.7 3.1 .9 3.1 .8 3.4-.6 3.1 1.2 1.5-3.8 3.7-1.6-.7-2.9-2.3-2-1.4-2.5 0-3.1 1-2.8 1.5-2.7 1.1-2.8-3-.5-2.9-1.7-3-.2-3.2 .8-2.8 2.2-3.4 1.5-.5 2.2z"/>
<path fill="#1effe5" d="M252.3 506l-.1 1.5 2.1 2.4 2 2.5 1.8 2.6 2.5 2.1 3.2-.5 3-1.4 .9-2.7 1.6-2.2 2.6-1.6 1.7-2.3 .6-2.9-.3-1.3-.5-1.3-3-1.4-2.4-2.7-2.9-1.5-3.5-.5-2 2.7-1.7 3-3.1 1.7-2.3 2.3z"/>
<path fill="#0276c4" d="M144.1 362.3l1.8 3.2 3 1.7 3.1 1.7 3.6 0 2-2.7-.3-4.2 1-3.2 3.4-1.6 3.3-1.6 .4-2.4-1.6-1.9-2.1-1.2-3-.6-3 .3-3.1-.4-2.9 1.1-2 1.8-1.2 2.4-1.8 2.1-1.7 2zM389.4 386.6l-.6-3.3-3 1.1-3 1.3-3.1-.7-3.1-1.2-2.6-2.2-3-.7-3.3-.1-.9 3-1.3 2.7-2.8 1.4-2.3 1.9 1.9 2.9-.7 3.4 .3 3.1-1.7 2.5-.4 2.8-1 2.8 3.7 .6 2.5 2.8 1.1 3 .7 3.2 .3 3.3 2.9 2.2 2.6 1 2.6-.3 2.6-.9 2.2 1 2.3 .9 2.3-2 3.3-.8 2.5-1.8 1.5-3 2.2-2.2 2.3-1.8 2.7-1 2.9 0-1.6-2.9-1.5-2.8-1.5-3-2.8-1.8-3.3-1.4-1.5-2.9-.1-3.4 .7-3.4zM158.8 270.9l-2.8 1.1-2.9 .1-2.9 .4-2.7-1.4-1.5 2.9-1.2 2.2-1.8 1.8-.2 2.7-.3 1-.5 1.6 0 2.7-.5 3-.2 3-.3 3 .2 1.7 .2 1 .2 2.6 .4 2.7 .2 .5 .8 3.2-1 3.5 1 3.1-.5 1.7-.1 1.6 2.8 .7 3.1-.5 2.9 .1 2.9 .8 2.6 1.7 .8-2.9 2.1-2.2 1.7-2.5 3.3-.7 3.1-1.2 3-1.6-1.8-2.6-2.2-2.3-1.6-2.8-2-2.6 0-2.2 1.7-2.7 2.6-2 2.2-2.3 .5-3.5-2.6-2.4-2.4-2.6-1.5-2.3 .5-3.1-1-2.5-1.5-2.4z"/>
<path fill="#000788" d="M365.7 441.7l-1.3 2.5-1.5 2.5 0 2.8-.3 2.7 3 1.4 2.2 2.3 3.2-1.5 3.5-.4 3.4-.1 .1-1.7 1.4-1-1-2.7 .3-2.7-.6-2.7 .4-2.7-3.1-.4-3.1 .1-3.1-.7-3.1-.4zM389.4 386.6l1 3.3-.7 3.4 .1 3.4 1.5 2.9 3.3 1.4 2.8 1.8 1.5 3 1.5 2.8 1.6 2.9 .6 0 1.7-2.2 1.4-2.4-.1-3.4 2.3-1.8 2.5-1.7-1.3-2.7-2.3-2.3-1.6-2.5-.3-3.1 .5-3.3-1.2-2.7-3.1 .2-2.3-1.2-2-2.2-2.3-1.2-3.1 1.9-2.6 2.4zM353 568.8l-1.1 3-1.1 3 2.8 1.2 2.8 1.3 2.9 .7 3-.9 3-.3 3-.4-.3-2.9 .1-2.9-.9-2.8 .5-3-.5-2.8-1.3-.5-3.1 .9-2.7 1.9-3 1.1-3.3 .3zM140.5 323.5l2.2 1.9 .9 2.8 .5 3 1.6 2.3 3.2-1.3 3.3-.9 3.2-.7 3.3 .2 3.4 1.3 1.2-1.4-2.7-2.2-.8-3.4-1.6-2.8-1.5-2.9-2.6-1.7-2.9-.8-2.9-.1-3.1 .5-2.8-.7-2 2.6-1.5 1.7 1.1 2.1 .1 .2zM312.9 488.2l2.8 1.9 .7 3.4 1.2 3 3.8 .4 3.7-.4 2.2-3.1 2.8-2.5-1.8-2.7-2.1-2.5-2.2-2.4-2-2.5-2.4 2.3-2.5 2.2-3.9-.8-2.7 1.6zM309.9 337.5l2.9-1.2 2.2-1.8 .9-3 2.9-.4 2.8-.7 2.5-1.5-1.1-2.6-.1-3-1.6-2.4-1.9-2.3-.9-2.7-.5-2.8 0-.1-2.4-2-2.6-1.8-1.3-3.3-2.5-1.9-2.9-1.5-1.9 .1-1.8 .5-3-.8-2.7-1.4-2.4 1-2.6 .7-2.1 1.6-1.8 3.3-1.4 3.4-2 1.9-1.8 2.2-3 .4 2.3 2 .1 3.1 .1 3.1 2 2.1 1.8 2.2-1.5 3 .7 3.2 2.9 .1 2.9-2.3 2.9 .1 2.9 2.6 2.9-.3 3.1 1.6 1.6 3 1.6 2.8 1.2-2.7zM303.3 326l-2.8 .9-3.2-.6-1.7-2.8 1-2.9-.4-3 2.8-1 2.5-1.5 2.8 1.3 2.1 2.1 .5 3-1.1 2.9zM348.5 235l.5 3 .6 3 1 2.9 .8 3 2.8 1.1 2.6 2.2 2.7 1.5 2.9 .7 3-.1 3.2-.6 3.1-.6 3.1 0 2.7 1.2-1 3.1 1 2.7 .3 2.9 .4 2.8 1.2 2.7 1.3 2.7-1.7 2.4-1.9 2.2-2.1 2-1.8 2.4-1 3-2.3 1.9-1.8 2.2-2.8 1.4-2.7 1.4-2.3 1.8 2.4 2 1.8 2.5 1.1 3.2 1.1 3.2 1.5 2.7 2.4 2.1 2.8 1.6 3 1.4 2.3 2.1 2.3 2.2 3-.8 2-1.9 1.4-2.6 1.7-2.2 .3-3 1.9-2 2.1-2.1 1.3-2.4 .7-2.7 1.3-2.5 .1-2.8 .5-2.7 .7-2.7 1.6-2.4 3-1.4 3.4 .2 1.8-2.2 2.7-1.6 1.8-2.2 2.7-1.5 1.4-2.6 2.2-1.9 1.4-2.6 .6-3.2 1.8-2.3 1.6-2.4-.7-1.5 .3-1.6-2.7-1.2-2.5-1.8-3-.5-2.7-1.2-2.7-1.2-2.9-.9-2.7-1.2-2.6-1.7-2.9-.6-2.7-1.3-3.2 .2-2.8-.8-3-.4 1.2-3.1-2.2-3.4 .2-3.2 .9-3.2 1.3-3.1-1.5-2.6-1.2-2.8-1.5-2.7-2.7-1.5-1.8-2.3-2.7-1.5-2.2-2-2.1-2.1-2.2 1.9-2.4 1.7-2.3 1.8-2.3 1.8-1.7 2.7-1.7 2.6-2.1 2.1-2.3 1.8-3 .9-3.2 .6-2.9 .8 .6 3 .6 3zM130.7 344.8l2-3.2 2.4-1.7 2.8-.3 3 .3 3 .2 .8 3 2.4 2 1.1 2.8 1.5 2.6 2.9-1.1 3.1 .4 3-.3 3 .6-.7-3.1-.8-3-.3-3 .4-3 1-3 .8-2.9-3.4-1.3-3.3-.2-3.2 .7-3.3 .9-3.2 1.3-1.6-2.3-.5-3-.9-2.8-2.2-1.9-.4-.3 1.2 3.2 .7 3.6-2.8 1.8-2.7 1.9-2.5 2.3-2.1 2.3-2.6 1.6-2.3 2.1 .4 2.5 0 .3 .4 .2zM237.1 368l1.6 2.2 3.3 1 2 2 1.4 2.4 1.3 .4 1.3-.5 .6-3 2.1-2.1 .8-2.8 1.3-2.6 1.3-2.6 1.7-2.3 2.4-2 1.9 2.2 1.8 2.2 1.9 2.3 2 2.1 2.1 2 1.9 2.2 2.9-.1 2.5-1.5 2.5-1.3 1.1-3.3 1.3-3.2 .9-3.4-2.7-1.7-3.1-1-2.1-2.8-2.9-1.4-3-1.3-2.3 1.7-2.3 1.7-2.2 1.8-2.4 1.6-2.1-1.8-2.1-1.9-2.8-.6-2.4-1.3-3.2-.3-2.6 1-1.9 2.2-1.8 2.4-2.5 1.1 .2 2.7-1.7 2.1 1.2 2.5zM269.4 344.5l-1.2 2.7-1 2.9 3 1.3 2.9 1.4 2.1 2.8 3.1 1 2.7 1.7-.9 3.4-1.3 3.2-1.1 3.3 2.5 1.5 3.2 .6 2.2 1.8 1.8 2.4 1.7 2.6 .7-3 .9-2.8 2.3-1.7 3.5-.7 1.4-2.4-1.2-2.8-2.1-2.1-.3-3.4-1.7-2.4-2.9-1.6 .6-1.8 .6-1.8-1.2-2.9-1.5-2.7-2.6-1.9-1.9-2.5-.7-3.1-3.1 .6-3.2-1.4-3 1.6-3 .2-.6 3zM343.7 301.8l1.2 2.9 1.1 2.8-.5 3.1 .6 2.9-.4 3.1-.8 3 .2 3 2.7 1.3 2.6 2 2.7 1.2 2.9 .1 3.1-.6 3-.5 2.8 .7 3-.4 2.9 .5 1.7-2.2 2.8-1.3 1.8-2.2 1-2.7 .8-2.9 2-2 .1-.7-2.3-2.2-2.3-2.1-3-1.4-2.8-1.6-2.4-2.1-1.5-2.7-1.1-3.2-1.1-3.2-1.8-2.5-2.4-2 2.3-1.8 2.7-1.4 2.8-1.4 1.8-2.2 2.3-1.9 1-3 1.8-2.4 2.1-2 1.9-2.2 1.7-2.4-1.3-2.7-1.2-2.7-.4-2.8-.3-2.9-1-2.7 1-3.1-2.7-1.2-3.1 0-3.1 .6-3.2 .6-3 .1-2.9-.7-2.7-1.5-2.6-2.2-2.8-1.1-2.8 1.6-3 1.4-2 2.5-2.3 2.1-2 2.5-1.8 2.7 .8 2.8 1.4 2.6 .2 3.1 1.4 2.6 .4 3-.2 3.2 1.5 2.6 .9 2.8 1.4 2.6 1.6 2.6 1.4 2.7-1.7 2-2 1.8-2 1.8 .7 2.9zM150.2 272.5l2.9-.4 2.9-.1 2.8-1.1 2.8-.9 1.1-2.6 .6-3.1 2.2-1.9 1.9-2.2 2-2.1-1.5-2.9-1.6-2.9-2.2-2.4-3.1-1.5-2.2-2.3-3 .7-3 .6-2.9 .7-3 .5-2.9 .6-2.9 1-1.6 .1 3.5 1.7 4 1 .7 2.6 .3 2.7 0 2.7-.3 3-.2 3 .5 3-.5 1.1zM140.4 319.2l2-2.6 .1-1.6 .5-1.7-1-3.1 1-3.5-.8-3.2-.2-.5-2.7-.1-2.6 1.2-2.7-.1-3.5 .8-3.5 .2-.2 2.5 .2 2.5-.1 2.5 .1 2.5 2.5 .3 2.5 .7 3.1 .1 2.9 .9 .5 3.2 .4 .7zM429.2 416.7l.1 3.2 1.2 2.7 1.1 2.8 .7 3 2 2.2 1.5 2.5 .3 .4 1-.3 2.9-1.2 2.8-2.3 3.2-1.7 2.2-1.4 1.8-1.9 2-1.7 4-2 3-.8 .4-2.1-2.3-2-3.2-1.2-3.8-.4-1.7-2.6-1.1-3.3-1.3-3.1 1.5-3-.7-3.3 .4-3.1-1.9-2.4-3.2-.7-2.4-1.6-1.9-2.2-1.6-2.7-2.2-1.8-1.4 .2-1.4-.1-1.2 2.8-3.1 1.6-2.6 2 .1 3.6-.8 3 .4 3.6 .8 3.2 3.4 1.7 2.5 2.1 1.4 3-.8 2.9zM182.2 612.1l2.2-2.6 2.8-1.7 2.6-2 3.2-1.2-2.2-1.9-2.1-2-2.6-1.6-.1-3.5-.5-3 .7-2.7 1.1-2.7-3 .5-3 1.4-3 .7-3 .6-3.1 0-2.1-1-.1 .6-.5 2.7-.8 2.7-.7 2.6-.1 .2-1.3 2-1.1 2.3-.5 2.5-.2 2.8-.9 1.6 2.4 1.6 2.3 2 2.6 1.6 3.1-.6 2.7-1.5 2.8-1.3 1 1.1zM444.6 365.1l2.2 2.7 1.3 2.8 3.3 .2 3 .6 2.8 1.2 1.3 3.4 2.5 1.5 2.1 2.1 2.3-1.8 2.1-2.1 2.8-1.1 2.5-1.6 .2-.1 .1-2.7-.9-2.6-1.2-2.6-1.2-2.9-.3-3.1-.5-3-.3-3.1-.6-2.9 0-.1-1.1-2.9 .7-2.6 .2-2.7 .1-2.7-.1-3-.6-3-.3-3-.8-3.3 .3-3.4-.5-3.3-.1-.3-2 .5-2.9 .7-2.9 .8-2.9 .8-2.9 .7-.5 3.2-1.9 2.2-2.3 2 1.7 2.5-.2 3.2 .4 2.9 1.2 2.7 1.5 2.6 1 2.8 .8 2.8-1.4 2.8-.5 3.7-2.9 1.2-3.4 .9 .2 3z"/>
<path fill="#002a9e" d="M422.4 366.5l.1 3-.1 3-.5 2.9 2.1 2.6 2.9 1.8 2.1 2.6 2.2 2.4 1.4 .1 1.4-.2 2-1.9 2-2.1 1.5-2.5 2-2 2-2.1 2.4-1.7 2.2-1.8-1.3-2.8-2.2-2.7 1.4-3.4-.2-3-2.9-.6-3.1 .9-2.6-1.5-2.8-1.3-2.7-1-3.1 .4-2.1 1.8-2.9 1-.4 3.3-2 2z"/>
<path fill="#000486" d="M423.3 254.9l.7 1.5 2.3 2.1 2.3 2 2 2.4 2.7 1.6 3 1.2 3.1 1.1 1.9 2.5 2.9 1.3 1.7 2.7 1.9 2.6 2.1 2.3 1.1 .8 1.1-3.1 1.5-2.9 1.4-3 .7-3 .3-3 .7-3.5 .3-3.5-1.1-2.9-.7-3-.2-3.1-.9-2.6-.1-2.8-1-2.6-.8-2.6 .4-2.4-23.5 7.9-.7 2.9-.8 2.9-1.3 2.7-2.7 1.9zM270.1 573.5l2 3-.7 2.8-2.5 2.6-.3 2.9 3.2-.8 3 .2 2.9 1.7 3 .5 1.9-1.9 2.8-.6-1.1-3 0-3.2-.2-3.1-.6-3.1-3-2.1-3.5-.4-3.6-.2-2 .5-1.8 1.3zM288.8 378.7l.3 1.5 2.2 1.9 2.7 1 2.5 1.2 3 .2 2.2 1.9 2.6 .9 .9-.6 1-2.6 2.1-2.4 .6-2.7-.3-2.9-.1-2.8-.4-2.8-.1-2.2-1.8-1.2-2.8 0-2.7-1.6-2.8 1-1.4 2.4-3.5 .7-2.3 1.7-.9 2.8-.7 3zM259.6 563.1l1.7 2.2 1.9 2 1.4 2.5 2.5 .5 2.5 .3 1.8-1.3 2-.5-.3-3 0-3-.4-3-.2-2.9-2.7 0-2.7 .4-2.8-1.2-2.6 1.1-3 .8-.9 2.9zM347.3 444.5l1.3 3.1 1.6 2.7 2.3 1.6 3.4 .1 2.9 .8 1.9-.3 1.9-.3 .3-2.7 0-2.8 1.5-2.5 1.3-2.5 .4-2.7-2.1-1.8-1.9-1.9-.7-2.8-1.3-2.2-1.4-.2-3 1.4-3.6 .8-2.1 2.3-1.8 2.7-1.5 3-1.8 2.7zM133.7 405l2.6-1.9 2.1-2.6 .5-3.3 .1-.1-2-2.4-2.5-2.4 .7-3.4-.1-3.2 1.5-.4 1.1-1.1-.1-3.3-.5-3.2-1.9-2.8 .3-.8-2-2.3-2.1-2.2-2.2-2.1-2.3-2-2.1-.2-1.6 1.3-1.7 0-1.8-.1-1 3.1-1.6 2.9-.4 3.2 0 3.2-2.4 1.2-1.7 2.1 .6 2.9-.2 2.9 0 2.9-1.7 2.8-1.4 2.9 1.5 2.4 1 2.6 1.4 2.4 2 .2 2.6 1.7 3.5-.3 2.1 2.5 2.7 1.5 2-2 1.7-2.2zM125.5 392.2l-3-2.2 1.5-1.9-.9-3.2 .7-3.3 1.7-1.3 2.2-.4 .8 .1 1.7 3.2 2.2 2.8-1.2 1.5-.2 3.4 0 3.4-2 .5-1.7 1.1-.6-.1zM216 317.7l3 .5 3.1 0 2.5 1.9 2.8 1.1 2.9-1.5 2.2-2.5-.9-2.6-.8-2.7-1.2-2.5-1.9-2.3-1-2.6-.4-2.8-3.4 .4-3.3-.3-2.4-1.8-2.5-1.9-1.6-2.5-1.4-2.8-2.4 1.7-2.9 .8-2.8 .9-2.7 1.2-.9 3.3 0 3.4-.4 3.3-.7 3.3 1 2.9 3 .6 2.3 .4 2.3 .5 2.7-.1 2.5-1.1 1.6 1.9zM415 188l8-3 5-4-5-3 3.7-6.3-.7-7.7-6 1-2 8-5-5 3-5-1-7-2.2-.3-5.1 12.1-2.2 2.1-.4 .3-1.1 2.8-1.5 10.3 4.2 3.4 1.5 .2zM416.3 214.7l1.9 2 18.7-7.6-1.7-.8-2.2-1.3-.5-2.7-1.5-2.3-1.9-2.2-1.1-2.8-2.5-1.1-2.9 0-2.6-.9-3.5-1-3.5-1-3-1-1.9-2.1-.2-.2-1.9-1.7-2-2.5-2-2.5-2-4-1.4-1.4-1.2 1.3-1.7 2.6-2.1 2.1-2.4 1.8-2.9 1.3-1.9 2.3-2.7 1.6-2.4 1.9-2.3 1.9-2.1 2.1-2.4 1.9-2 2.3 .1 3.2 .3 3.3 2.1 2.1 2.2 2 2.7 1.5 1.8 2.3 2.7 1.5 1.5 2.7 1.2 2.8 1.5 2.6 2.7-1.1 3-.8 3.1-.3 2.3-2.4 2.5-1.8 2.8-1.1 2.7-1.4 2.9-.9 3-.4zM304.4 395.7l-2 2.5-.8 2.6 1.7 2.6 .5 3 3.2 2 3.3 .2 3.4-1.5 3.3 .2 3-1 .5-3.3 1.8-2.1 2.8-.1 2.7-1.3 2.7-1 2.8 .2 2.9 1.7 2.8-.6 .5-2.7 .5-2.6 1.3-2.4 1.4-2.4-2.5-2.3-.4-3.3-3 .5-2.9 1.2-3 .4-3-1.8-3-.5-3 .5-.3-3 .5-3.2-1.6-2.8-2.9-1.6-2.8-2.1-3.7 .1-3-1.3 .4 2.8 .1 2.8 .3 2.9-.6 2.7-2.1 2.4-1 2.6-.9 .6-.6 2.7 .8 3zM160.4 502.5l-2 2.2-2.4 2-2.4 .6-2.3 .9 .6 3.5-1.3 3.3-.6 3.3 2.3 2.4 2.6 1.8 3.5 .3 2.1-1.8 1.9-2 2.7-.8-.2-3.2-.4-3.1 1.7-2.6 2.7-1.5 2.4-1.8-.3-2.8-.1-2.7-.6-2.7-2.7-1.4-2.7-1.3-2 1.6-2.6-.2-.4 2.8zM327.2 548.4l3.6 .4 2.1-1.7 1.1-2.6 2.2-1.6 .1-2.9-.2-2.7-.4-2.8-1.1-2.5-2.1-2.3-.6-.6-3.1-.6-2.9 1.5-1.6 2-1.6 2.2-3-.6-3.2-1.6-2.5 3.6-2.9 .3-1.3 1.2-1.7 .6 3.2 1.7 2.4 2.3 1.8 2.7 1.7 2.8 1.1 3.4 2.3-2.2 3.1-.6zM307.2 552.7l3.2-1.3 3.2 .9 3.1 1.1 .8 1.5-.4 1.7 2.5 1.9 1.6 2.8 2.8 1.5 2 2.4 2.5-1.6 1.2-3.6 3.2-.3 3.2-.4-2.7-2-2.4-2 1-3.8-1.2-2.7-3.6-.4-3.5-.6-3.1 .6-2.3 2.2-1.1-3.4-1.7-2.8-1.8-2.7-2.4-2.3-3.2-1.7-.5 0-2 2.9-2.8 2.1-3.1-1.4-3 .3-3 1.5 .2 3.7-2.1 3-1.8 3 2.5 1.4 3.2-.5 2.3 2.1 2.7 .7 2.2-1.1 1.1-2zM125.2 471l1.6 2.2 2.1 2.1 1 2.5-3.1 .7-3.1 .7-3.2 .2-3.2-.1-3.1 1-1 1.9 1.7 2.6 1 2.8 .6 3 1.1 2.8 3.1-.7 3.1-.3 3.2 .3 .3-3 .2-3 .6-2.9 1.2-2.8 1.5-2.6 1.2-.2 2.3-2.3 1.1-3.4 2.4-2.1 2.1-2.5 3.1-1.6-1.4-1.4 .8-1.8-3.2-.1-3.2-.2-2.4-2-2.2-2.6-2 1.7-1.7 2.1-2 1.7-1.9 1.8 1.3 2.4zM309.8 438.4l-.3 3.1 3.4-.5 3.2 1.3 3.1 1.7 3.5-1.1-.1 3.3 .7 3.2 1.2 3 1.1 3 1.9 1.3 2.8-1.1 3-.4 3.2 1.2 2.8-1.5 2.1-2.6 2.2-2.5 .8-3.1-.3-3.6-2.2-2.1-1.5-3.2-3.2-.8-2.8-1.3 1-3 1-2.9 1.5-2.8 1.4-2.8 1.1-2.9 .1-3.3-3.2-.4-3.2 .5-3.3 1.1-3.1-1.3-3.1-.9-3.1-.8-.8 2.5-1.1 2.4-.2 2.6-2.7 1.4-2 2.7-2.6 1.4-3.3 .3 .4 3 .8 2.9z"/>
<path fill="#000586" d="M392.9 590.7l.5 3 .1 3 1.7 2.6 3.1 1.6 2.4 .7 1.6-1 2.4-1.3 2.3-1.3 .8-.7-.1-2.9 .3-3 .2-3 .1-3-2.9 1-3 .9-3.1 0-3 .3-3.1 0zM133.9 540.9l.5 .3 2.6 .8 3 .5 3 .5 2.9-1 3.1 0 3 .2 .3 0 .4-1.6 .4-3-3.2-.8-2.5-2.3-2.3 2-2.5 1.5-2.3 2.2-3.2-.2-3 .5zM273.3 293l-1.2 2.7-.1 3.2-.9 2.9-1.1 2.7-1.8 2.6 2.8 1.8 2.3 2.3 .6 3.5 3 .4 2.9 .3 3-.4 1.8-2.2 2-1.9 1.4-3.4 1.8-3.3-2.6-1.5-3.5-.6-3.3-.9-1.7-2.5-.3-4-1.3-2.9-2.3-1.8-.4 .2zM377.7 603.7l1.3 3.1 .9 3.3 3.2 .5 3.1 .7 1.7 0 1.1-.9 1.7-2.1 2.3-1.3 2.1-2 2.8-1 2.1-2 .7-.4-2.4-.7-3.1-1.6-1.7-2.6-3 .2-3.1-.7-2.9 .5-2.7 1.6-2.8 .7-2.8 1.1-.8 .9zM356.5 454.8l-1.2 2.8-1.3 2.6-1.7 2.5 1.3 2.5 .2 3.1 1.9 2.2 2.4 2.4 2.6 1.8 2.3-.4-1-2.3-1.3-2.4-.7-2.6 2.7 .3 2.6 .2 2.7-.5 2.4-1.2 .4-.6-.7-3.1-2.1-3.1-.2-3.1-2.2-2.3-3-1.4-1.9 .3-1.9 .3zM159.6 314.3l-2.1 2.2-.8 2.9 1.5 2.9 1.6 2.8 .8 3.4 2.7 2.2 2.1-.4 2.1-.8 .9-2.8 .9-2.9 1.6-2.7 1.4-2.8-.1-3.1 .2-3.1 .8-2.9-1.3-.1-1.2-.8-3 1.6-3.1 1.2-3.3 .7zM243.8 593.1l2.5 1.8 2.5 1.8 3-1.8 3.2-.6 3.3-.8 3.3-.4 .3-2.4 .5-2.2-2.3-2.2-1.1-3.3-1.8-2.6-3.2-1.5-2.5 .4-1.9-1.5-3 1.7-1.9 3.1-2.6 2.2-2.3-1.6-1.6-2.7-2.1-1.9-2.7-1-3.3 .1-2.2-1.8-.6 3.2 .4 3.4-.6 3.1-3.1 2.4-.9 3 2 2 2.1 2.1 2.6 1.4 3-1 2.9-1.2 2.6-1.6 1.6-2.9 1.9-2.4 1.2 2.7zM229.5 554.6l-2.1 1.9 2.9 .8 2.5 1.4 2 2.3 2.2 1.9 2.6 1.3 .1 .3 2.2 1.2 2.1 1.6 2.5 .8 2.6-1.5 1.3-3.3 3.1-.9 2.6-1.5-1.1-2.9-2.3-2.1-1.4-2.6-1.5-2.6-2.1-1.2-2.4-.2 .1-3.5 .7-3.4 .2-3.5-3.1-1.6-1.9-2.9-3.2-.8-3.1 .9-1.2 2.6-1.8 2.1-2 1.9 1 3.6 2.3 2.8-1.5 2.2-1.3 2.4zM345.1 572.3l2.1 2 2.5 1.3 1.1-.8 1.1-3 1.1-3 .8-3.1-.9-3-.8-3-1.8-2.5-1.4-2.8-3.3 .4-2.6 1.9-2.8 1.5-2.8 1.6-1.3-.5-3.2 .4-3.2 .3-1.2 3.6-2.5 1.6-.5 2.8 .4 3-1.7 2.5 3.1 1.9 2.2 2.9 2.4-1.4 2.6-1.2 2.1-1.9 2.6-1.2 2.9-.3zM213.1 434.9l2.3 2.5 .2 3.6 1.4 3 2.9-1.1 2.2-3.5 2.7-1.7 3.6 .8 3.5 .5 1.6 .1 1.4 .6 2.4-2.4 1.1-3.3 2.1-2.6-.3-2.9-1.1-2.6-.2-3-1.7-2.4-.6-2.8-1.4-2.6-3.3 1.1-3.3 .9-3.3 1.2-1.8 3.2-1.9 3.1-3 1.6-3 1.1-3 1.4-3.4-.1-.2 1.2 1.3 3zM295 453l.8 3.1 1.1 2.9 2.8-.1 3 1.2 2.6-1 2.4-2.1 2.1 1.5 1.6 1.9 3.1-.3 3.5 .9 2.4-2.2 2.4-2.3 2.8-1.1-1.1-3-1.2-3-.7-3.2 .1-3.3-3.5 1.1-3.1-1.7-3.2-1.3-3.4 .5-.5 .4-3 .3-3.1 .7-3.1-1.7-3.1-.5-3 .7-3.1 1-1.1 1-2.8-1.5-2.6-1.7-2.6-1.7-2.3-2.1-1.9-2.5-1.9-2.6-1.7 .9-1.8 .4-1.4 3.5-2.3 3 1 3.4 2.2 2.6 2.1 2.6 1.9 2.8 3.5-.6 3.5 .2 2.5-2.1 3.1-.8 2.6 1.7 2.2 2zM225.9 196.6l1.1 3 2.5 1.7 2.5 1.6 2 2.1 2.8-.3 2.5-1.1 2.9-.1 2.6-.8 2.6-1.1 1.2-2 .5-2.3-.2-3.1 .4-3 1-2.9-2.7-1.7-1.8-3.9-3.1-.9-3.1-.7-3.5 .3-3.2-.6-3.6 .2-3 1.9-2.6-1.6-2.8-1.6-2.6-1.6-.5-3.2 .2-3.7-.2-.7 0 .1-.8 2.4-.9 2.5-1.1 2.5-4 2-4 2 1.1 2.3 1.9 1.7 4 2 4 2 .6 2.7 .1 .2 .1 0 3.1-.5 2.2 2zM205 232.6l2.6 1.3 2.8 .7 2.9 .5 3 .5 3 .4 2.5 1.4 .8-2.8 .7-2.8-1.2-3.4 1.4-2.6 1.2-2.7 1.7-2.5-2.8-1.4-2.5-1.8-3.2-.7-2.9-1.3-.2-.2-2.8 .8-2.6 .1-2.4 .9-1.1 2.5-.9 2.5-.9 3-1.1 3-.4 2.5 .2 1.4zM319.4 318.6l1.9 2.3 1.6 2.4 .1 3 1.1 2.6-2.5 1.5-2.8 .7-2.9 .4-.9 3-2.2 1.8-2.9 1.2-2.6 1.5-1.2 2.7-1 1.4 .6 1.6 2 2.8 1.6 3 3.4 1.5 2 2.7 3.6-1.1 3.5 1 2.2-2.2 1.1-3.1 .9-3.3 1.8-2.5 3.8-.6 2.8-1.7 2-2.3-1.2-2.5 .5-2.7 2.2-1.9 2-2.2 1.2-2.7 2.5-1.8 1.5-2.5-.2-3 .8-3 .4-3.1-.6-2.9 .5-3.1-1.1-2.8-1.2-2.9-.4-3-.7-2.9-2.5-.5-2.6-.3-2.4 1.3-2.4 1.9-1.7 2.5-2.4 1.8-1.9 2.3-2.2 2-2 2.3-2.4 1.7-2.1 2.1 0 .1 .5 2.8zM357.9 620.5l-1.3 2.7-1.6 2.4 .8 1.6-1.3 2.6-3.9 1.6-1.7 2.4-1.1 2.7 1 3.6 .4 3 .8-.1 2.9-1.2 3.1-.8 2.5-.7 2.1-1.5 2.4-.8 1.2 .2 0-2.5 0-3 2.9-.5 2.9-.5 2.9-.5 2.4-2 1.1-1.8-.9-2.5-1.3-2.3-.3-2.7-2.5-1.6-2.8-.6-2.8-.7-2.5-1.3-2.9-.5-1.3 2.6zM214.4 289.7l-2.6 1.4-1.8-2.1-1.2-2.5-1.3-2.4-2-1.9-2.9-.2-2.5-1.5-2.2-2.3-2.9-.5-2.8-.5-2.7-1-2.4 2.1-1.3 2.7-1.1 2.7-.7 3-.2 1.6 1 1.2 2.7 1.4 2.4 1.8 2.9 1 2.3 2 3.1 .5 2.7 1.2 2.7-1.2 2.8-.9 2.9-.8 2.4-1.7 1.4 2.8 1.6 2.5 2.5 1.9 2.4 1.8 3.3 .3 3.4-.4 2.2-2.3 3.6-.2 2.1-2.6 2.3 1.6 2.6 1.3 1.4 2.5 .9 2.9 1.8 2 3.1-.2 3.1-.8 3.1-.6 3.1 .1-1.3-2.7-1.7-2.6 .3-3.1 .5-3.2-1.3-2.8-3.2-.6-3.2 0-3.2 .2-3.1 .7-3.1 1.1 0-2.9 .4-2.9-2.6-2-1.1-2.5-3.3 1-3.3 0-3.4 .2-3.3-.3-1.2 2.8-1.2 2.8zM185.5 592.6l.5 3 .1 3.5 2.6 1.6 2.1 2 2.2 1.9 2 .3 2-2.4 3.1-.7-.3-2.8 .3-2.8 .8-2.7-2.7-1.3-1.4-2.4-1.3-2.4-1.7-2.1-2.4 .3-2.5-.3-.2-3.1 .5-3.4-2.8-2.1-1.6-2.5-1.7-2.5-2.8-.5-2.7 .7-.4 .7-1.2 2.4-.9 2.9-1.6 2.5-1.5 2.6-1.4 3.4-.5 3 2.1 1 3.1 0 3-.6 3-.7 3-1.4 3-.5-1.1 2.7zM146 467.3l3.8 0 1.6 3.1 1.7 2.9 1.8-2.1 1.7-2.2 2-1.8 2.2-1.6 2 .4 2-.4 1.5-2.4 1.2-2.8 2.4-1.8 1.7-2.4-.4-2.9-1.8-2.1-1.9-2 .6-3.4-.7-3.4-2.6 .4-2.5-.4-2.3-1.2-2.5 1.7-2 2.2-2.4 1.7-2.9 .9-2.6 1.4 0 2.5 .8 2.4-1.7 2.1-3.4 1-.4 3-.5 3-.8 1.8 1.4 1.4zM244 455.1l-1.4 2.8 0 2.9 1 2.9 2.9 1.2 3 .8 3 .1 3-.2 3.1-1.1 .4 3-.3 3-.2 3 2 2.5 2.5 2.1 2.5 2.1 2.8-.6 3 0 2.7-1.3 .5-3.2 .7-3.1-.1-3.2-.9-1.1-2.9-.8-2.1-2.4-2.6-1.5-3-.6-3-.4 .4-2.8 .2-2.8-1.7-2.2-3.2-1.2-1.2-2.6-.5-3.1-3-1.3-2.6 .6-2.3 2.1-2.6 .6 .4 2.9zM258.6 642.8l-.8 2.9-.6 1.4 2.3 .6 2.5 .3 3 1.1 3 .9 1 3.2 2 2.8 .7 .9 1.3-1.8 1.5-2.7 2.7-1.2 2.7-1.8 2.9 1.1 2.9 .5 1.8-.3 0-.2 .5-2.5 3.6 0 .2 0-.8-2.3-.3-2.7 .3-2.7-3.1-.6-3.2-.3-2.7-1.8-3.1-.9-3.4 1.5-2.3 2.9-3.1-.3-2.6-1.6-2.6-1.5-2.7-1.2-1.3 .8-1.2 2.7zM243.2 537.3l3.1 1.6 2.4 .1 2-1.4 .5-3.6 .7-3.6 3.9-1.4 2.3-2.5-1.2-1.1 .5-1.7-2.8-.6-2.8-.5-2.8 1.7-2.8-.1-3.3-1.9-1.9-3.4-2.6 1.7-2.3 2.3-2.7 1.6-3.5-.2 2.4 1.9 1 2.8 1.1 2.6 .6 2.9 3.1-.9 3.2 .8zM185.4 422.3l2.7 2.2 2.1-.2 1.6-1.5 1.5-2.6 2.1-2.3 1.5-2.6 .6-3 .8-2.9 .4-3-3.1-.4-3-1.2-3-.9-3.2 .4-3.2 0-.9 1.1-2.7 1.6-3.1 .2-2.8 1.1-3.2-.3-2.9 .8 .7 2.8 2 2.6 .3 2.8-1.3 3 .2 2.9 3-1.9 3.1-.9 3.5 .6 3.3-.1zM128.7 348.1l.7 1.2 .6 2.7-.3 .1 .5 1.1 2 2.1 1.9 2.1-3 .9-1.7 2.2-.7 3-1.8 2 2.3 2 2.2 2.1 2.1 2.2 2 2.3 3.1-1.3 3.3-.5 .8-2.6 1.3-2.3 1.9-1.9-1.8-3.2-1.1-3.5 1.7-2 1.8-2.1 1.2-2.4 2-1.8-1.5-2.6-1.1-2.8-2.4-2-.8-3-3-.2-3-.3-2.8 .3-2.4 1.7-2 3.2-2.9 .2 .8 2.7zM113.8 476.9l.4 3.4 3.1-1 3.2 .1 3.2-.2 3.1-.7 3.1-.7-1-2.5-2.1-2.1-1.6-2.2-.1-3.1-1.3-2.4-2-1.3-2.4 .3-.7-2-1.8-1.1-2.9-.4-3 .8-2.8-.5-1.7 .3 1.3 1.6 2.2 1.8-1.6 3.3-1 1.2 .3 .3 1.9 2.6 2.6 1.5zM214.1 340.5l2.1 2.4 2.3 2 2.8 1.3 3.1 .9-.9 3.2-3.3 1.7-2.4 2.3-1 3.2-1.1 3.1 2 3.3 2.7 1.8 3.9-.5 2.9 1.4 3-.7 2.8-1 2.1-2.4 1.7-2.1-.2-2.7-2.8-1.5-2.6-1.7-2.3-2-1.6-2.7-1.3-2.9 2.3-2.2 2.4-2.2 .6-3.5 2.3-2.3-2.9-1.6-2.7-2-1.3-3.2-2.6 1-2.6 .8-2.7 .1-2.7 .3-1.4 1.3-1.3 1.4-1.2 3z"/>
<path fill="#001a94" d="M445.9 372.4l-2.4 1.7-2 2.1-2 2-1.5 2.5-2 2.1-2 1.9 2.2 1.8 1.6 2.7 1.9 2.2 2.4 1.6 3.2 .7 1.9 2.4 2.9-.7 2-2.7 2.3-1.8 2.7-1.3 3-.6 2.9-.6 .7-2.9-.8-3 .2-2.9-2.1-2.1-2.5-1.5-1.3-3.4-2.8-1.2-3-.6-3.3-.2zM97.7 374l.1 .2 .6 1 .6 2.5 1 2.3 .7 2.4 .8 2.5 1.5 2.1-.9 2.7-.8 2.7-1.1 2.1-.2 .5-.8 2.6-.6 2.7-.6 2.7 .5 2.5 .5 2.5 .3 2.5 .7 2.4 2.8 .2 3 .4 3 .4 1.6-2.3 1.5-2.3 .9-2.7 1-2.6-1.4-2.4-1-2.6-1.5-2.4 1.4-2.9 1.7-2.8 0-2.9 .2-2.9-.6-2.9 1.7-2.1 2.4-1.2 0-3.2 .4-3.2 1.6-2.9 1-3.1-.8-.6-3 .1-2.8 .3-2.7 1.7-2.5 2.2-3.2-1.3-2.9 .1-1.9 2.8zM366.7 542l3 1.8 2.5 2.7 3.6 .8 1.8-.7 1.7-.7 1.4-2.5 .7-2.7 .6-2.8 .7-2.7 1.5-2.5 3.5 .7 3.2-1.6 2-2-2.3-2-1.4-2.7-2.2-2.1-1.8-2.6-1.8-2.6-1.4-2.8-.5-.9-.7 .3-1.2 2.3-1.8 2.1-1.3 2.3-1.3 2.3-2.8-1.9-2.9-1.1-3.3 .2-3.2 .2 0 3.4-.6 3.3-1.2 3.2-.3 3.4 1.6 2.2 2.4 1.4 1.5 2.2z"/>
<path fill="#000f8d" d="M131.1 452.4l.3 2.9 0 2.9 2.2 2.6 2.4 2 3.2 .2 3.2 .1 .5-3 .4-3 3.4-1 1.7-2.1-.8-2.4 0-2.5-2.4-1.4-1.8-2.2-1.9-2.1-2.8 .6-2.5 1.2-1.8 2.4-2.8 .5-2.1 1.8zM210.2 486.7l1.9 .8 1.7 1.1-.1 2.2-.6 2.2 1.2 2.2-2.2 1.4-1.3 2.4-2 .3-2.1 0-.7 3-1.2 3-1.4 2.8 1.2 1.8 2.5 1.1 2.3 1.3 2.4 1.2 2.5-.5 1.7-1.9-.4-3 1.7-2.5 1.5-2.2 .9-2.8 3-1 1.2-2.6-.2-.4 .5-2.9 0-2.9-.6-3 .4-2.9 .6-1.3-2.8-1.6-3-1.2-2-2.4-1.9-2.6-1.4-1.3-.7-1.7-2.2 2.6-2.6 2-2.5 2.1-2.9 1.6 1.8 1.8 1.7 1.9 .7 2.6 1.7-.6z"/>
<path fill="#000485" d="M359.4 613l1 2.2 2.9 .5 2.5 1.3 2.8 .7 2.8 .6 2.5 1.6 2.1-2.1 1.7-2.3 1.2-2.7 1-2.7-.9-3.3-1.3-3.1-2.3-2.7-1.3-.7-1.3 .7-2.5 2-2.8 1.8-2.4 2.3-2.6 1.9-2.9 1.6zM269.7 374l-.3 2.7-2.1 2.2 2.7 1.6 1.5 2.6 1.3 2.7 2.7-.7 2.9 .5 2.8-.7 2.7-.3 2.7-1.2 1-1.8 1.5-1.4-.3-1.5 .3-1.6-1.7-2.6-1.8-2.4-2.2-1.8-3.2-.6-2.5-1.5-2.5 1.3-2.5 1.5-2.9 .1zM248.2 489.3l-1 2.6-2.6 1.8 .2 3.1 1.7 2.2 1 2.8 2.4 1.5 2.6 1.2 2.3-2.3 3.1-1.7 1.7-3 2-2.7-.9-2.4-.7-2.6-2.6-.8-2.4-1.3-2.5-1.1-2.9 .3zM202.9 572.6l1.8 2.6 2.2-.2 1.8 1.3 2.5-2 2.7-1.4 3-1.1 2.7-1.5 2.9 1 2.8 1.3 2.2 2.2 2.4-2.1 1.1-3.6 1.9-2.8 3.7-.5 3.1-1.3-.1-.3-2.6-1.3-2.2-1.9-2-2.3-2.5-1.4-2.9-.8-1.6-.3-1.4 1-2.6 2.3-1.7 2.9-.8 3.5-2.2-2.3-2.6-1.8-2.1-2.4-2.7-1.6-2.4 1.5-2.7 .9-2.2 1.6-2.2 1.8-2.7 .9 .1-2.8-1.7-2-1.2-2.3-2.9-.3-2.7-1.1-1.2-.8-1.5 3.1-2.4 2.7-1.5 2.2-1.4 2.3-1.1 2.5-1.4 2.3-1 1.6 2.7-.7 2.8 .5 2.9-1.5 2.8-1.6 2.4-2.3 3.1-.9 3.2-.8 1.9 2.6 3 1.8zM187.8 541.3l2.6 1.6 3 .7 2.9 1 2.8 1.3 1.3-.5 1.2-2.6-.1-3.1 2.2-2.1 .9-2.7-2-2.2-.9-2.8 .5-2.3-2.1-2.6-1.4-3-1.6-2.9 2-2.2 1.3-2.8 2.3-1.9 1.9-2.3-1.2-1.8-3-.5-2.6-1.5-2 2.1-1.7 2.7-2.6 1-3.5-.5-2.4 1.5 2.3 1.9 .9 2.9-1.6 2.6-1.2 2.7 1 3-.3 2.7 .1 2.9-1.2 1.2 1.9 3.6-2.4 3.3zM176.6 439.4l2.3-1.8 2-2 1-2.9 2-2.1 2.2-1.8 1.8-2.2 .2-2.1-2.7-2.2-3-1.7-3.3 .1-3.5-.6-3.1 .9-3 1.9-1 1.3-3.5-.8-3.5 1.7-3.5-1-1.7 2.5-1.1 2.9-2.1 2.3-2.4 1.1-2.5-.5-1.6 2.2-1.9 2-2.2 1.8-1.2 2.6 .2 2.4 1.9 2.1 1.8 2.2 2.4 1.4 2.6-1.4 2.9-.9 2.4-1.7 2-2.2 2.5-1.7 2.3 1.2 2.5 .4 2.6-.4 1.1-2.6 2.7-.8 2.7-.2zM272.5 183.1l3.1 1.7 1.6 2.8 1.4 3 2 2.5 1.9 1.4 1.9 1.5 .1 1.3 2.4 2.2 1 3.7 2.6 1.9 2.4 2.1 3.2 1.3 2.8 1.7 2.5-1.4 2.2-1.7 .8-.6-2.4-1.5 0-2.6 1-2.4 2.6-1.3 2.4-1.7 2.2-2.3 .5-.3-1.7-.3-2.9-1-2.1-2.3-1.8-2.6-1.5-3-1.5-1-1.2 .8-.8-1.1-.9-1.2-2.3-1.7-2.1-1.9-1.9-2.1-2.4-1.4-2.6-.6-2.5 .3-2.5-.3-2 3-1.8 2.3-1.2 2.7-.7-2.7-.1 .2zM290.1 610.7l2 2.5 .3 3.1-.3 3.3 2.2-2.5 2.9-1.4 3.5 0 2.5-2.1 .4-2.9 .7-3 .1-3 2.3-.3 2.2-.3 2.6-2.4 2.1-2.8 2.7-2.3 .3-3.3-.7-3.2-2-2.5-2.2-2.1-2.6-1.9-2 2.5-1.5 2.8-2.8 1.9-2 2.5-2.1 2.4-1.5 2.9-1.2-.2-1.5 2.6-2.8 .9-2.2 1.7-2.2 1.6 2.1 2.5zM233 637l3.4 1.5 3.6 .5 2.1 1 .6-.7 2.9-1.7 1.7-2.5-.8-2.8-1.2-2.7 1.6-2.3-.2-2.9 1.2-2.5-1.3-1.9-.9-2.1-2.6-1-2.7-.6-2.2-1.7-1.8 2.5-2.7 1.7-1.9 2.4-1.6 2.7-2.2 2.2 0 .9-2.8 1.6-2.7 2-3.1 1-3.6 0-2.7 1.8-1.1 2.1-.2 .2 1.2 1.3 2.5 .7 2.5 .3 2.5 0 2.5 0 2.5 .4 2.5-.4 .4-.1 2.1-.5zM227.7 307.1l1.9 2.3 1.2 2.5 .8 2.7 .9 2.6-2.2 2.5-2.9 1.5 .1 2.9-1 2.9 .2 2.9 1.3 3.2 2.7 2 2.9 1.6 2.6 .3 2.6-.7 2.5-.7-.1-2.9-.2-2.9 1.6-2.7 .4-2.9-.5-2.9-1.2-1.5-1.5-1.3 1.7-2.6 1.9-2.6-.7-3.3 .5-3.1-1.8-2-.9-2.9-1.4-2.5-2.6-1.3-2.3-1.6-2.1 2.6-3.6 .2-2.2 2.3 .4 2.8zM395.9 363.1l-.9 3.2-.1 3.2 .6 3.1-.1 3.2-.9 3.2 2.3 1.2 2 2.2 2.3 1.2 3.1-.2 1.2 2.7-.5 3.3 .3 3.1 1.6 2.5 2.3 2.3 1.3 2.7 3.3-.7 3.1-1.2 3.3-1.1 3.5 .8 .8-3-.1-3.6 2.6-2 3.1-1.6 1.2-2.8-2.2-2.4-2.1-2.6-2.9-1.8-2.1-2.6 .5-2.9 .1-3-.1-3-1.2-2.8-3-.7-3.1 0-2.8-1.4-2.8-1.5-2.6-2.2-2.9-1-3.1 0-3.3 .3-3-.4 1.3 3.2z"/>
<path fill="#000687" d="M255.8 360.1l-1.7 2.3-1.3 2.6-1.3 2.6-.8 2.8-2.1 2.1-.6 3 2.1 2.7 2.7 1.9 2.9 1.8 2.7-1.5 2.9-1 3.1 .2 2.9-.7 2.1-2.2 .3-2.7 .1-2.9-1.9-2.2-2.1-2-2-2.1-1.9-2.3-1.8-2.2-1.9-2.2zM256.2 384.9l.9 3.1-1.6 2.9-1.7 2.8 .5 3.1 3.2 1.3 2.9 2.8 3.5-.5 3.6-1.2 1.7-.7 1.6-.8 .9-2.9-.8-3.2 .8-2.9 1.1-2.9-1.3-2.7-1.5-2.6-2.7-1.6-2.9 .7-3.1-.2-2.9 1-2.7 1.5zM462.9 382.5l.8 3-.7 2.9 2.7 1.6 .9 3.2 1.9 2.4 2.4 1.8 11-.7-.8-2.4-1.1-2.7-1.3-2.5-.8-2.7-.6-2.8-1.3-2.6-.7-2.7-1-2.6-1.3-2.5 0-.3-.2 .1-2.5 1.6-2.8 1.1-2.1 2.1-2.3 1.8zM407.3 282.1l1.8 2.6 2.5 1.9 2.7 1.7 2.9 1.3 2.6 1.8 2.7 1.4 3.5 0 2.8 1.4 2.3 2.3 2.1 2.4 2-.5 2.8-1.6 1.9-2.6 1.7-2.7 1.6-2.8 1.1-3.3 2.9-1.6 2.6-1.9 .3-.2 .9-2.7-1.1-.8-2.1-2.3-1.9-2.6-1.7-2.7-2.9-1.3-1.9-2.5-3.1-1.1-3-1.2-2.7-1.6-2-2.4-2.3-2-2.3-2.1-1.6 2.4-1.8 2.3-.6 3.2-1.4 2.6-2.2 1.9-1.4 2.6-2.7 1.5-1.8 2.2-2.7 1.6-1.8 2.2zM99.7 428.4l2.9 .8 2.9 .8 3 .5 1.1-2.6 .7-2.7 0-2.9 .9-2.6-2.3-2.4-.1-3.4-3-.4-3-.4-2.8-.2 0 .1-4 2-2.6 .8-2.4 1.2 1.5 2 1.5 2 1.3 2.1 1.7 1.9 .3 3 0 .4zM407.9 401.7l-2.3 1.8 .1 3.4-1.4 2.4-1.7 2.2 1.8 2.2 1.8 2.2 2.2 1.9 .6 3 2.9-.2 3 2.8 3 1 2.9-.5 2.7-3.2 2.9-.8 2.9 0-.1-3.2 2.1-2.4 .8-2.9-1.4-3-2.5-2.1-3.4-1.7-.8-3.2-.4-3.6-3.5-.8-3.3 1.1-3.1 1.2-3.3 .7zM253.6 168.9l-.1 2.9 .2 2.9-.4 3 1.2 2.8 1.1 2.9 3.1 .2 3.1 1.5 3.1-.6 3.2 .1 3.1-1.2 1.3-.3 1.7-2.6 .1-.2-.3-1.3-.8-3-.2-3-2.7-.6-2.3-1.4-3 .3-3 .7 1.3-3.4 .7-3.6 1.8-2.1 .6-2-.4 0-3.1 .7-2.9 1.5-2.9 1.8-3 1.1zM128.7 407.6l-2 2 .4 3.6 1.7 3.2 3 .8 2.7-.3 2.6-1.6 2.6-.9-.7-3.5 .4-3.5-1-2.5-2.1-1.8-2.6 1.9-3.3 .4zM153.5 415.2l1.3-1.9 1.8-2.4 2.3-1.6 2.4-1.7 1.8-2.2-.5-1.7-.5-1.6-.2-1.9-3.1-.8-2.9-1.3-2.6-1.9-1.6 1.4-2 .7-3.1-1.4-3.2-1.3-3.5 1.2-.4 .2-.5 .1-.1 .1-.5 3.3-2.1 2.6 2.1 1.8 1 2.5-.4 3.5 .7 3.5 2.4 .9 2 1.5 1 1.1 2.7 .4 2.5-.2 2.6-.6zM148.2 408.3l-1.6 0-1-1-1-1.1-.2-1.6 1.1-1.3 1.4-.5 1.5-.1 1 1 1 1.1-.2 1.5-.7 1.4zM278.6 190.6l-1.4-3-1.6-2.8-3.1-1.7-1.3 .3-3.1 1.2-3.2-.1-3.1 .6-3.1-1.5-3.1-.2-1.3 1.5-2.3 1.3-1.7 2.1-1 2.9-.4 3 .2 3.1-.5 2.3-1.2 2 1.6 2.3 1.9 2.1 1.1 2.7-.2 3.3 .7 3 2.4 2.4 3.2-.5 2.8 1.5 1.4 .5 1.4 .6 2.4-1.9 2.7-1.3 2.1-2.3 3.1-.8 1.3-.8 1.6 0-.3-3.1 2-2.4 .9-2.7 1.3-2.6 2.3-1.8 1.4-2.5-.1-1.3-1.9-1.5-1.9-1.4zM263.2 199.5l1-1.7 .9-1.7 1.2-.3 1.3 1.2 1.7 .4-1.1 2.2 .2 2.5 .3 .4-.6 1.9-1 1.7-1.5 .4-1.3-1.3-1.8-.5 0-2.3 1.4-1.8zM194.9 245.3l2.1 2 2.4 1.6 1.7 2.6 2.1 2 2.7-1 2.8 .8 2.9-2.4 3.6-.8 1.1-3.3 .7-3.6 3-2.1 2.3-2.6-.5-1.1-2.5-1.4-3-.4-3-.5-2.9-.5-2.8-.7-2.6-1.3-2.2-.7 .2 1.1 0 2.6-1 2.4-4-1-3 0-3 3-1.5 2.3 1.6 1.7zM161 248.4l3.1 1.5 2.2 2.4 1.6 2.9 1.5 2.9 2.7-.3 2.7 .4 2.7-1.8 3.1-1.5 3-1.6 1.3-3.1 1.5-3 1-3.5 2.1-1.5-.8-1.3-1.7-1.9-2-4-2-4-1.2-2.2-1.8-1.8-3 .4-3 .5-3-.1-3-.3-2.9 .5-.1 0-3 .8-3.1-.5-2.9 1.1-2.9 .7-3.1-.1-4 2-1.7 1.9-2.3 1.1-.8 3.6-1.2 3.4-.9 2.6 .4 2.8-.5 2.6 .5 .3 1.6-.1 2.9-1 2.9-.6 3-.5 2.9-.7 3-.6 3-.7zM343.2 358.3l.5 3.1 .5 3.2 .5 3.1-2.1 .8-1.3 1.9 .7 2.8 1.7 3-1.6 2.6-2.2 2.5-.1 2.8 .4 3.3 2.5 2.3-1.4 2.4-1.3 2.4-.5 2.6-.5 2.7 1.3 2.9 1 3 0 3.5 1.4 2.8 2.7 2.3 3.2-.3 2.9-1.1 2.6-1.5 2.5-1.9 2.2-2.2 1-2.8 .4-2.8 1.7-2.5-.3-3.1 .7-3.4-1.9-2.9 2.3-1.9 2.8-1.4 1.3-2.7 .9-3-.4-2.5-.7-2.5-1.1-2.4 1.2-2.7 1.4-2.6 2.1-2.3 0-3.2-.8-3.4-1.1-3.2-1.5-3-3-2-2.6-2.2-2.8 .5-2.8-1.2-2.8 .4-2.6 2-2.9-.7-1.6 2.8-1.3 2.8zM382.8 573.7l3.4-.1 2.5 1.8 2.2 2.4 .3-.4-.2-2.8 1.6-2.7 1.3-2.8 .6-2.8-1.6-2.9-.3-2.9-.3-.2 .3-3.1-.5-2.8-1.3-2.6-1.6-2.5-3.3-1-3.5-.6-3.1-1.8-1.7 .7-1.8 .7-1.8 2.5-1.3 2.5 .9 2.9 .6 2.9-2.3 1.4-2.1 1.7-2.6 .8 .5 2.8-.5 3 .9 2.8-.1 2.9 .3 2.9 1.3 1.3 2.4-1.8 2.6-1.1 2.8-1 2.6-1.3zM246.9 627.3l-1.6 2.3 1.2 2.7 .8 2.8 2.7 .7 2.7 .4 2.8 0 2.6 1 2.8 .1 1.3-.8 2.7 1.2 2.6 1.5 2.6 1.6 3.1 .3 2.3-2.9 3.4-1.5 1.7-3.1-1.4-3.3-.3-3.2 .5-3.2-1.5-1.1-2.9 .7-3 0-2.9 .1-3.1-.4-2.7 1.5-1.5-1.9-2.8 .7-2.8-.1-2.8 .6-2.8-.9-2.7-1.2-1.2 2.5zM207.7 357.2l.8 3-2.9 .6-2.8 .9-2.7 1-2.5 1.3-2.1 2.3 .1 2.8-.9 2.6 2.3 1.8 2.5 1.8 .5 4 2.3 1.8 2.9 1.3 3.2 .7 2.3-.3 2.3-.3 .1-.2-.7-2.9-.3-3-.4-3-1.3-2.9 .1-3 1.4-3.1-.2-2.9 1.8-1.1 2.2 .2 1.1-3.1 1-3.2 2.4-2.3 3.3-1.7 .9-3.2-3.1-.9-2.8-1.3-2.3-2-2.1-2.4-1.9-2.7 1.2-3-3.4-1.2-3-2-2.7-.3-2.6 .5-2.5 .6-.6 3.3-2 2.6-1.4 2.8-1.3 2.9 2.9 .8 3.1 .5 2.8 .9 2.3 2.4 2.4 2.4 1.1 2.8zM182.6 484.5l3.4-1.6 .7-3.6 1.2-3.2-2.5-1.3-2.8-.7-2.2-1.8-2-2.2-3.5 1.1-3.3 1.5-1.9-2.7-2.2-2.4-2.7-2-2 .4-2-.4-2.2 1.6-2 1.8-1.7 2.2-1.8 2.1 .9 2.7 .1 2.8 2.8 1.5 2.6 1.5 3 .5 3.2-.2 .4 3.3 1.7 3.3-1.5 3.2-1.4 3.2 2.7 1.3 2.7 1.4 2.5-1.7 2-2.6 3.1-.6 3.1-.3-1.3-2.7 .4-3zM163 642l1.7 2.7 2.3 2.3 2.7-.2 2.6-.6 2.7-.2 1.3-.3 3.6-9.3-1.4-2.7-1.6-2.6-2.3-2.1-1.6 0-1.3-.8-1.9-1.1-.3-2.1-2.9-.6-3-.8-1.1-.3 0 2-.5 2.7-.4 2.5-.6 2.5 .1 2.5-.1 2.5 .9 1.9zM197 643l3-3 3-3 1.6-1.6-.5-.2-2.1-2.6-1.9-2.9-3 .4-3.3-.4-2.4 2.5-.8 1.9-1.1 1.8-3.2 .4-3.1 1.1-3.3-1-3.6 9.3 1.3-.4 2.7 .1 2.7-.4 3.5-.8 3.5-.2 3.4-1 .2 0zM182.6 474.1l2.8 .7 2.5 1.3 1.8 .1 1.6-.7 2.2-2 1.5-2.4 .2-3 1-2.6 2.5-.4 2.2-1 1.3-3 .6-3.3 1.6-2.9 1.8-2.8-2.2-1.6-1.6-2.4-1.7-2.3-2.1-1.8-3-.6-2.2 1.9-2.5 1.3-2.8 .8 .5 3-.5 2.8-2 2.3-3.4 1.1-2.8 2.2-3.1 .3-2.9-.6-2.3-2.3-1.7 2.4-2.4 1.8-1.2 2.8-1.5 2.4 2.7 2 2.2 2.4 1.9 2.7 3.3-1.5 3.5-1.1 2 2.2zM265.9 415.1l3.1 .8 3.1 .9 3.3-.4 2.8-2.2 1.1-3.5 2.2-2.6-1.1-3.2-.9-3.3-2.8-1.5-3-1-2.9-1.4-1.6 .8-1.7 .7-3.6 1.2-3.5 .5-2.9-2.8-3.2-1.3-.4 .3-.1 2.8-.1 2.8-1.4 2.8 .2 2.8 1.6 2.8 2.5 2.1 2.8 1.3 3.1 .7 3.3-.3zM245.6 637.6l-2.9 1.7-.6 .7 .2 .1 2.5 .6 2.2 1.3 2.3 1.4 2.7 .6 2.4 1.6 2.6 1.4 .2 .1 .6-1.4 .8-2.9 1.1-2.8 1.2-2.7-2.8-.1-2.6-1-2.8 0-2.7-.4-2.7-.7zM273 655.1l-1.3 1.8 1 1.2 .7 2.7 1.6 2.2 2.5-1.1 2.5-.9 2.4-1.6 2.6-1.4 1.1-2.5 .9-2.5 .5-2.3-1.8 .3-2.9-.5-2.9-1.1-2.7 1.8-2.7 1.2zM145.6 528.3l.9 3.1 .9 3.1 2.5 2.3 3.2 .8 2.8-1 2-2.2 2.8 .2 2.6 1.3 2.9-.4 1.8-2.3 2-2.1 1.3-2.7 2.7-1.5-.9-2.2-.3-2.3-2.3-1.8-2.4-1.7-3-.7-2.7 .8-1.9 2-2.1 1.8-3.5-.3-2.6-1.8-2.3-2.4-2.8 1.8-2.8 1.6-2.9 1.5 2.4 2.4zM303.9 496.3l.2 3.4 .6 3.2 2.1 2.4 1.5-.9 1.7 .5 1.9 2 1.7 2.2 2.8 .8 2.9 1.4 3.1 .1 3.2-.2 1.1-1.2 1.7 0-1.4-2.5 .3-3-1.7-2.4-1-2.6 .5-3-3.7 .4-3.8-.4-1.2-3-.7-3.4-2.8-1.9-2.4-2.1-1.3-.4-2.8 .9-2.5 1.3-2 2.3-2.5 1.4 2 2.5zM243.6 473.2l2.3 2 1.9 2.3-.7 3.4 .6 3.4 .6 1.6 1.3 1 2.9-.3 2.5 1.1 2.4 1.3 2.6 .8 2.2-1.9 .4-3 1.3-2.4 1.6-2.3-2.5-2.1-2.5-2.1-2-2.5 .2-3 .3-3-.4-3-3.1 1.1-3 .2-3-.1-3-.8-2.9-1.2-2.9 2-1.2 3.2 2.7 1.5z"/>
<path fill="#000183" d="M308.9 275.7l3.6 1.4 1.4 2.6 1.3 2.7 .3 3.3 1.3 2.8 2.5 1.3 3 .3 3 .1 2.7 1 2.3 2.1 2.2 1.9 2.6 1.2 2.4-1.3 2.6 .3 2.5 .5 2-1.8 2-1.8 1.7-2-1.4-2.7-1.6-2.6-1.4-2.6-.9-2.8-1.5-2.6 .2-3.2-.4-3-1.4-2.6-.2-3.1-1.4-2.6-.8-2.8-3.4 .4-3.3 .4-3.2-.9-3.1-1.5-3.3-.4-2 2.2-.8 3.2-2.1 2.1-2.3 2-3.3 1-1.6 2.5-1.8 2.5z"/>
<path fill="#0046ae" d="M300.3 215l1.1 3.2 2.7 2.1 1 3.2 2.1 1.8 2.2 1.7 1.7 2.5 3.3-.1 2.4 1.3 1.9-2.8 1.3-3.4 2.1-2.5 2.8-1.7 3.5-.9 2.7-1.9-1.2-2.7-.9-2.7 0-3-1.4-2.5-.6 .4-4 2-3.2-1.1-2.8-1.9-2.6 .2-2.4 .8-2.5 .7-2.5 .3-2.5-1.5-.1 0-.8 .6-2.2 1.7-2.5 1.4-.4 2.1z"/>
<path fill="#000385" d="M99.9 371.8l1.9-2.8-.4-3 .4-3 1.1-3 .6-3-.5 0-2.4 1.3-2.6 .7-2.8 1-2.2 2 1 2.5 1 2.5 1.4 2.9 .6 3.1 .7 1zM408.3 423.8l-1 2.9-.3 2.9 0 3.1 1.9 2.3 1.6 2.5 1.8 2.4 2.1 2 .4 .3 2.2-2.2 2.8-1 2.5-1.5 2.8-.9 2.9-.6 2.8-1.5 3.2-.5 2.1-.5-.3-.4-1.5-2.5-2-2.2-.7-3-1.1-2.8-1.2-2.7-2.9 0-2.9 .8-2.7 3.2-2.9 .5-3-1-3-2.8-2.9 .2zM322.1 378.2l-.5 3.2 .3 3 3-.5 3 .5 3 1.8 3-.4 2.9-1.2 3-.5 .1-2.8 2.2-2.5 1.6-2.6-1.7-3-.7-2.8-3.4-.3-3.2-1.1-3.2-1.1-3.1-1.5-1.5 2.7-1.4 2.7-2.1 2.1-2.9 1.5zM163.6 623.6l3 .8 2.9 .6 .9-3.4 1-3.4-.2-3.6-2.6-1.6-2.3-2-2.4-1.6-.4 .9-.5 2.7-.4 3.5-.6 3.5 .5 2.7 0 .6zM218 171.2l-.2 3.7 .5 3.2 2.6 1.6 2.8 1.6 2.6 1.6 3-1.9 3.6-.2 1.5-2.6 .7-3 1.7-2.6 1.3-2.7 1.4-2.7 .8-2.9-1.3-1.2-3.2-.4-3.1-.5-2-2.3-1.9-2.6-2.5-1.6-2.4 2.1-1.8 2.8-1.9 2.6-2.6 1.9-.5 .3 .9 2.6-.2 2.5zM335.4 521.2l-1.1 2.7-1.3 2.6-1.1 2.6 .6 .6 3.1 1.5 3.3 .3 3.1 1.2 3.2 .4 3.5-1.2 .3-2.9 .2-2.9 1-2.8 .4-2.9-2.9-1.3-3.1 1.1-3.1 .1-2.8-1.5-2.9-.5zM141.7 488.1l-2.2 2.9 .8 3.4 3.6 .9 2.6 2.6 2.8-1.3 1.3-3.2 3-1-.4-3.2-.9-3.1-1.3-3-3 .3-3 .4-2.8 1.1zM201.5 539.7l.1 3.1-1.2 2.6 2.2 1.9 1.7 2.9 3.6-.7 2.6 1.1 3.2-2.1 3.5-1.4 1.6 2.7 1.7 2.6 1.7 2.5 2.2 2.3 1.4-1 1.6 .3 2.1-1.9 1-2.5 1.3-2.4 1.5-2.2-2.3-2.8-1-3.6-3.4 1.1-3.4 .2-3.4-1.5-1.2-2.6-1.6-2.2-3.2 0-3.1 .6-3-1.9-3.1 .1-.9 2.7zM182.2 309.2l1.6 1.8 3-.9 3-.4 3 .2 3 0 3.1 .8 .7-3.3 .4-3.3 0-3.4 .9-3.3-2.7-1.2-3.1-.5-2.3-2-2.9-1-2.4-1.8-2.7-1.4-1-1.2 .2-1.6-2.7-1.3-2.7-.8-2.8-.8-2.9 .8-2.8 .7-.5 3.5-2.2 2.3-2.6 2-1.7 2.7 0 2.2 2 2.6 1.6 2.8 2.2 2.3 1.8 2.6 1.2 .8 1.3 .1 3.6-.1 3.3-1.3zM111 461.8l3-.8 2.9 .4 1.4-2.8 1.6-2.9-1-3.2-.2-3.1 1.3-1.2 1.2-1.2-2.2-2-1.3-2.8-1-3.3-2.1-2-3.2-1-2.8-1.4-2.4 1.9-1.5 2.6-1.6 2.5-.6 1 1.3 1.4 1.7 2 1.5 2.1-1.4 2.8-.6 1.2-1 2.5-1 2.5 1.6 1.9 1.4 2.1 .5 .6 1.7-.3zM137.4 519.7l1.7 2.9 2.4 .6 2.9-1.5 2.8-1.6 2.8-1.8 .6-3.3 1.3-3.3-.6-3.5-2.1-.2-1.1-1.8-1.3-2.6 .5-3-.8-2.7-2.6-2.6-3.6-.9-2.9 1.1-3.4 .3-2 2.8 0 1-2 2.6-1.8 2.9-3.1 1.4-2.6 2.1 1.2 2.4 .7 2.6 1.5 2.2 3.2-.1 3.1 .8 3.1 .5zM276.3 532.9l1 1.9 1 .8 1 .8 3.1-.9 3.3-.3 3.2 .3 1 2.9 1.8 2.4 2 2.3 3-1.5 3-.3 3.1 1.4 2.8-2.1 2-2.9-1.6-2.7-2-2.4-1.9-2.4 .6-2.3 .6-2.2-.4-3.3-1.7-2.8-3.5-.4-3.4-.2-3.4 1.4-1.3 1.3-3.5 0-3.4-1.1-2.8 1.9-3.1 1.4-1.3 2.9-.7 3zM394.5 566.3l-.6 2.8-1.3 2.8-1.6 2.7 .2 2.8 2.8-1.5 3.2 .1 2.8-1.6 3.1-.1 1.4-2.7 .6-3-2.7-1.8-4.1 .1-1.3-3.6-1.8-2.8 1.7-2.6 1.7-2.5 2.9-1 3-.8-.2-3.4-1.2-3-.9-3.1-3-1.9-3.4 1-2.5 1.7-1.9 2.4-2.2 2 1.6 2.5 1.3 2.6 .5 2.8-.3 3.1 .3 .2 .3 2.9z"/>
<path fill="#0032a3" d="M172.4 312.1l-.2 3.1 .1 3.1-1.4 2.8-1.6 2.7-.9 2.9-.9 2.8 3 .4 2.8 1 2.9 1 2.8 1.1 1.8-1.9 .6-3 1.5-2.1 2.6-1.4 .6-2.8-.7-2.7-2.7-2.4 .3-2.8 .8-2.9-1.6-1.8-2.1-1.4-3.3 1.3-3.6 .1zM370.2 365.8l-2.1 2.3-1.4 2.6-1.2 2.7 1.1 2.4 .7 2.5 .4 2.5 3.3 .1 3 .7 2.6 2.2 3.1 1.2 3.1 .7 3-1.3 3-1.1 2.6-2.4 3.1-1.9 .9-3.2 .1-3.2-.6-3.1 .1-3.2 .9-3.2 0-3.1-1.3-3.2-.7-1.1-2.9 .9-3.1 .5-3.3-.2-3.1 .3-2.9 1-2.9 1.1-2.6 2.1-2.9 1.2zM111.2 419.7l3.2-.1 3.1 .4 3.2-.2 3.1 .7-.9 2.8 .3 2.8 .3 2.8-.4 2.8 1.3 1.7 1.9 1.1 3.4-.8 3.4-.8 .2-3.1 1.8-2.6-1.4-2.7-.1-3.5-3.1-1.5-2-2.2 .3-.9-1.7-3.2-.4-3.6-2.7-1.5-2.1-2.5-3.5 .3-2.6-1.7-2-.2-1 2.6-.9 2.7-1.5 2.3-1.6 2.3 .1 3.4z"/>
<path fill="#000284" d="M296 462.1l-2 2.7-.9 3.1 1.3 2.2 .1 2.5 2.9 .7 2.8 1.8 3.1-.1 3.1-.7 1.7-2.3 1.7-2.2 2.6-1.4-.3-2.7-.3-2.6-.4-2.7-1.6-1.9-2.1-1.5-2.4 2.1-2.6 1-3-1.2-2.8 .1zM302.1 416.3l.5 3 1.3 2.9-.6 3.2 1.8 3.2 3.7 .9 3.3-.3 2.6-1.4 2-2.7 2.7-1.4 .2-2.6 1.1-2.4 .8-2.5 3.1 .8 3.1 .9 3.1 1.3 3.3-1.1 3.2-.5 3.2 .4 2.2-1.9 2.6-1.6 .1-.2-2.7-2.3-1.4-2.8 0-3.5-1-3-1.3-2.9-2.8 .6-2.9-1.7-2.8-.2-2.7 1-2.7 1.3-2.8 .1-1.8 2.1-.5 3.3-3 1-3.3-.2-3.4 1.5-3.3-.2-3.2-2-.9 2.4-2 1.6 .7 2.9zM360.2 192l2.5 1.7 2.3 1.9 2.8 1.2 2.2 2.2 2.5 1.7 2-2.3 2.4-1.9 2.1-2.1 2.3-1.9 2.4-1.9 2.7-1.6 1.9-2.3 2.9-1.3 2.4-1.8 2.1-2.1 1.7-2.6 1.2-1.3-.4-.4-1.2-2.2-3.4-1.2-3.6-.8-3.5-.7-3.5-.3-2.5 .2-2.5-.2-2.6 0-2.4 1-.9 2.4-1.3 2.2-.8 2.4-1.5 3.4-.5 3.6-2.2 1.2-1.8 1.8-3.9 2zM405.5 169.9l2.2-2.1 5.1-12.1-1.3-.2-3.5 2-2 10.5-.9 2.2zM300.7 185.2l1.5 3 1.8 2.6 2.1 2.3 2.9 1 1.7 .3 2.3-1.4 0-2.6 1-2.4 .8-2.4 .2-2.6-.7-2.6-1.3-2.4-2.8 1.9-3.2 1.1-4 2-2.7 .5-1.1 .7zM324 174l-2-6-6-1-4 3 2 6 6 1zM202.1 397.2l.1 2.7-.6 2.8-.7 2.8 2.8 .7 2.6 1.3 .2 3 .9 2.9-.7 3.1-.2 3 1.2 2.8 .9 2.9 .2 2.9 .4 .5 3.4 .1 3-1.4 3-1.1 3-1.6 1.9-3.1 1.8-3.2-1-2.9-.2-3.7-2.6-1.5-3.4-.8-2.1-1.9-2.1-2 2.6-1.9 .7-3.6 2.6-2-.7-2.7-1-2.7-1.7-2.3-2.3-2.1-.3-3-.8-2.7-2.3 .3-2.3 .3-2.6 1.8-3 1.3-1.4 3-1.7 2.7 1.4 2.6zM211.7 519.7l1.1 2.8 1.9 2 2.3 1.7 2.3 1.7 2.9-2 3.2-.9 3.2-1.3-1.4-3.1-1.3-3.1 .2-3.5 2.3-1.5 .3-3.6 2.5-1.4 2.6-1.1-1.4-2.1 .7-2.4-3.4-1-3.1-1.6-2.7-2.3-1.2 2.6-3 1-.9 2.8-1.5 2.2-1.7 2.5 .4 3-1.7 1.9-2.5 .5 .8 3.1zM171.3 543.3l-1 2.9-.8 .8 .4 .3 3.1 .7 2.4 .9 2.4 .7 2.2 1.4 2.9 .9 .3 .2 2.1 1.7 .8 .3 .6 .1 .5 .5 .8 .3-.1 .2 1.2 .8 2.7 1.1 2.9 .3 1.1-2.9 1.8-2.6 .8-2.9 .7-3.1-2.8-1.3-2.9-1-3-.7-2.6-1.6-2.7-1.6 2.4-3.3-1.9-3.6-3-1.3-2.4-2.5-3.1-1-3.1-1.1-2.7 1.5-1.3 2.7-2 2.1-1.8 2.3 1.2 2.9 2.3 2.2zM312.1 465.7l.3 2.7 2.8 1 3.1 .3 2.4 1.8 2.3 2 2.3-1.9 2.7-1 3.6-.5 2.7 2.4 3.3 .8 .8-2.6-.9-3.3 1.6-2.3 1.8-2.2 1.9-2.2-1.6-3-1.9-2.8-2.8 1.5-3.2-1.2-3 .4-2.8 1.1-1.9-1.3-2.8 1.1-2.4 2.3-2.4 2.2-3.5-.9-3.1 .3 .4 2.7zM198.6 444l2.1 1.8 1.7 2.3 1.6 2.4 2.2 1.6 2.8-.3 2.4-2.3 3.1 1 .4-3.6 2.1-2.9-1.4-3-.2-3.6-2.3-2.5-2.8-2.1-1.3-3-2.4 1.7-3.1 1-2.7 1.4-1.8 2.5-1.2 3-1.7 2.4-1.2-2.6-1.6-2.4-1.4-2.6 0-3.2-2.1-2.2-1.9-2.2-1.8 2.2-2.2 1.8-2 2.1-1 2.9-2 2-2.3 1.8 1.9 2.2 1.8 2.3 2.5 1.3 2.3 1.5 3 .7 2.8-.8 2.5-1.3 2.2-1.9zM333.2 593.3l0 3-1.3 3 2.7 2.1 3 .3 3.3-.3 2 2.4-.3 3.3 1.3 2.7-1.2 2.3-1.2 2.2 1.7 2.5 2.5 2.1 1.3 2.8 1.2 2.9 3.4 .5 3.4 .5 1.6-2.4 1.3-2.7 1.2-2.7 1.3-2.6-1-2.2 .2-2.4-1.6-1.3-1.6-2.6-.9-2.8-1.6-2.6-.7-2.9 .4-3.3-1.2-2.7-.9-.5-1.1-2.7-1.6-2.4-2.9 .4-3-.5-3-.7-2.9 1-3 .3-3 .1 .1 3zM336.4 338.9l1.3 3.1 2.5 1.9 2.9 1.4 2.1 2.2 2.1 2.3 2.9 .7 2.6-2 2.8-.4 2.8 1.2 2.8-.5 2.6 2.2 3 2 1.5 3 1.1 3.2 .8 3.4 2.9-1.2 2.6-2.1 2.9-1.1 2.9-1 3.1-.3 3.3 .2 3.1-.5 2.9-.9-.5-1.3 .6-1.3-2.2-2.1-2.5-1.6-2.4-1.8-2.7-1.4-3.1-1-1.7-2.5-2.6-1.5-1.8-2.5-1.6-2.7-1.9-2.3-.8-3.3 .1-3.5-2.9-.5-3 .4-2.8-.7-3 .5-3.1 .6-2.9-.1-2.7-1.2-2.6-2-2.7-1.3-1.5 2.5-2.5 1.8-1.2 2.7-2 2.2-2.2 1.9-.5 2.7zM241.2 404.5l-2.9 1.2-1.8 2.1 .3 2.7-.2 2.8 3.2 .2 3.1 .8 3.3 .2 3.1 .9 2.4 2.5 2.2 2.4-1.4 3.9 1.3 2.8 2.7-1.6 3-.8 3.1-.8 1.3-2.8 .6-3.1 1.4-2.8-.1-.2-3.3 .3-3.1-.7-2.8-1.3-2.5-2.1-1.6-2.8-.2-2.8 1.4-2.8 .1-2.8 .1-2.8 .4-.3-.5-3.1 1.7-2.8 1.6-2.9-.9-3.1-.5-3-2.9-1.8-2.7-1.9-2.1-2.7-1.3 .5-1.3-.4-1.9 2.8-2.4 2.3-2.8 1.8-2.7 1.8 0 1.2 2.3 2.3 1.7 2.6 1.6 2.8 2.7 1.9 2 2.4-2.2 1.8-1 2.9z"/>
<path fill="#001c95" d="M152.7 540.6l-.4 1.6 2.7-.2 3 1.1 3 .9 3 1 3.2 .5 2.3 1.5 .8-.8 1-2.9-1.6-2.7-2.3-2.2-1.2-2.9-2.9 .4-2.6-1.3-2.8-.2-2 2.2-2.8 1z"/>
<path fill="#000587" d="M147.3 500.6l-.5 3 1.3 2.6 1.1 1.8 2.1 .2 2.3-.9 2.4-.6 2.4-2 2-2.2-.5-3.2 .4-2.8-2.5-1-2.6-.7-1.6-2.4-3 1-1.3 3.2-2.8 1.3zM382.7 535.2l-.7 2.7-.6 2.8-.7 2.7-1.4 2.5 3.1 1.8 3.5 .6 3.3 1 2.2-2 1.9-2.4 2.5-1.7-1.2-2.8-.8-3-1.7-2.7-1.2-2.9-3.2 1.6-3.5-.7zM431.7 355.2l2.7 1 2.8 1.3 2.6 1.5 3.1-.9 2.9 .6 3.4-.9 2.9-1.2 .5-3.7 1.4-2.8-.8-2.8-1-2.8-1.5-2.6-1.2-2.7-.4-2.9 .2-3.2-1.7-2.5-3.1 .1-3.3-1.3-3 .2-3.1 .6-2.9 1.3-3 1.2-3 .7-1.7 1.3-.9 1.9-1.9 .1-2.6 1.8-2.6 2-2.9 .3-3.2-.8-3.1-.1-2.9 .5-2.8 1-1.1 2.6-2.9 1.4-2.7 1.6-.1 3.3-.8 2.8-.6 1.3 .5 1.3 .7 1.1 3 .4 3.3-.3 3.1 0 2.9 1 2.6 2.2 2.8 1.5 2.8 1.4 3.1 0 3 .7 2-2 .4-3.3 2.9-1 2.1-1.8z"/>
<path fill="#000083" d="M383.8 427.1l1.1 3.3-.1 3.4 3 1.9 3.4 .8 3.3-1.5 3.5 .5 3.4 .2 2.9-1.4 2.7-1.6 0-3.1 .3-2.9 1-2.9 .7-3-.6-3-2.2-1.9-1.8-2.2-1.8-2.2-.6 0-2.9 0-2.7 1-2.3 1.8-2.2 2.2-1.5 3-2.5 1.8-3.3 .8-2.3 2zM373.4 336l1.6 2.7 1.8 2.5 2.6 1.5 1.7 2.5 3.1 1 2.7 1.4 2.4 1.8 2.5 1.6 2.2 2.1 .8-2.8 .1-3.3 2.7-1.6 2.9-1.4 1.1-2.6-.7-2.9 .8-3.4-2.8-2.2-.9-3-1.1-2.9-1.2-2.8-2.6-2-2.5-1.9-2.6-1.5-1.7-2.6-2.8-1.1-2.6-1.5-2 2-.8 2.9-1 2.7-1.8 2.2-2.8 1.3-1.7 2.2-.1 3.5 .8 3.3zM387.3 227.8l-.9 3.2-.2 3.2 2.2 3.4-1.2 3.1 3 .4 2.8 .8 3.2-.2 2.7 1.3 2.9 .6 2.6 1.7 2.7 1.2 2.9 .9 2.7 1.2 2.7 1.2 3 .5 2.5 1.8 2.7 1.2 2.7-1.9 1.3-2.7 .8-2.9 .7-2.9-1.7-2.7-.6-3.2-.5-3.2 .4-3.6-.8-3.1-1.5-2.8-2.5-2.3-2.2-2.5-1.5-2.8-1.9-2-2.7-.2-3 .4-2.9 .9-2.7 1.4-2.8 1.1-2.5 1.8-2.3 2.4-3.1 .3-3 .8-2.7 1.1zM243.2 142.1l-3.2-1.1-3-.3-3-.7-3 .7-3-.7-2.8 0-2.7 0-2.3-.4 0 .1 1.7 2.5 1.5 2.6 1.2 2.6 1 2.8 .7 2.7-.5 1.4 .5 1.4 2.5 1.6 1.9 2.6 2 2.3 3.1 .5 3.2 .4 1.3 1.2 2.9 .1 2.9-1 2.9 .4 2.9 .3-.4-3.4 1.1-3.3 .3-3.1 .6-3 .8-3 1.9-2.5 1.4-1.9-1.1-.3-1.1-.4-2.8 .6-2.6-.8-3.4-.5-2.7-.3zM239.7 148.9l0-1.6 .6-1.3 1.3-.9 1.6 0 1.6 .4 .5 1.6-.6 1.4 0 1.5-1.4 .5-1.5 .4-1.1-1zM281.5 408.1l3 .5 2.8 .7 2.1 2.3 2.7 1.1 .1 3.6-1.4 2.8-1.8 2.6-2.4 2.4 1.7 2.4 2.5 1.5 2 2 2.6-1.3 3-.1 2.4-1.9 2.5-1.3 .6-3.2-1.3-2.9-.5-3-.5-3-.7-2.9 2-1.6 .9-2.4-.5-3-1.7-2.6-2.8-1.1-2.7-1.5-3.1-.1-2.9-.9-2.7-1.5-2.3 2.3-2.9 1.7-2.7 1.9 .9 3.3zM230.7 342.5l-2.4 2.2-2.3 2.2 1.3 2.9 1.6 2.7 2.3 2 2.6 1.7 2.8 1.5 2.5-1.1 1.8-2.4 1.9-2.2 2.6-1 3.2 .3 2.4 1.3 2.8 .6 2.1 1.9 2.1 1.8 2.4-1.6 2.2-1.8 2.3-1.7 2.3-1.7 1-2.9 1.2-2.7 .7-3 .6-3-1.4-2.3-.9-2.6-2.6-1.3-1.9-1.9-2.6 1.1-3.1 .2-3.3-.3-2.5 1.1-1.7 2.9-2 2.4-2.4 1.5-2.5-1.8-2.5-1.9-2.5 .7-2.6 .7-2.6-.3-2.3 2.3zM313.9 587.6l2 2.5 .7 3.2-.3 3.3 2.6 2.2 2.8 1.6 3 1.5 3.1 1.1 2.2-1.6 1.9-2.1 1.3-3 0-3-2.1-2.9-.1-3 3-.1 3-.3 2.9-1 3 .7 3 .5 2.9-.4 .6-2.8 1.3-2.7-.6-2.9-.4-2.8-2.5-1.3-2.1-2-3 0-2.9 .3-2.6 1.2-2.1 1.9-2.6 1.2-2.4 1.4-2.2-2.9-3.1-1.9-3.2 .4-3.4-.6-3 1.7-1.9 2.3-2.2 2.2-1.6 2.6 .2 1.5 2.6 1.9zM315.5 237.3l-.7 3.3-.8 3.2 2.4 2.3 1.6 2.7 1.2 2.9 .4 3.3 1.6 2.7 3.3 .4 3.1 1.5 3.2 .9 3.3-.4 3.4-.4 1.8-2.7 2-2.5 2.3-2.1 2-2.5 3-1.4 2.8-1.6-.8-3-1-2.9-.6-3-.5-3-.5-3.1-.6-3-.6-3 2.9-.8 3.2-.6 3-.9 2.3-1.8 2.1-2.1 1.7-2.6 1.7-2.7 2.3-1.8 2.3-1.8 2.4-1.7 2.2-1.9-.3-3.3-.1-3.2-2.5-1.7-2.2-2.2-2.8-1.2-2.3-1.9-2.5-1.7-.1 0-.1 0-2.6 .1-2.4 .9-2.6 .9-2.4 1.1-3.5 .3-3.5 .7-2.9 1.4-3.1 .6-1.7 1.9-2.3 1.1-1.3 2.1-1.7 1.9-2.4 1.6 1.4 2.5 0 3 .9 2.7 1.2 2.7-2.7 1.9-3.5 .9-2.8 1.7-2.1 2.5-1.3 3.4-1.9 2.8-1.2 3.1zM133.7 424.5l1.4 2.7-1.8 2.6-.2 3.1 2.5 1.6 2 2 2.9 1.2 .8 3.3 1.2-2.6 2.2-1.8 1.9-2 1.6-2.2 2.5 .5 2.4-1.1 2.1-2.3 1.1-2.9 1.7-2.5-1.5-2.4-1.4-2.4-2.2-1.8-2.6 .6-2.5 .2-2.7-.4-1-1.1-2-1.5-2.4-.9-2.6 .9-2.6 1.6-2.7 .3-3-.8-.3 .9 2 2.2 3.1 1.5zM263.9 421l-1.3 2.8-3.1 .8-3 .8-2.7 1.6-1.2 2.2 2 2.7 3 2.4-.3 3.7 .6 3.4 2.3-1.9 2.5-1.1 2.9 .8 2.6-.1 2.3-3 1.4-3.5 1.8-.4 1.7-.9 .5-2.7 2-1.8 1.5-2-.3-3.3-1.7-2.6-2-2.5-3.3 .4-3.1-.9-3.1-.8-1.4 2.8zM267.4 224l1.7 2.4 .9 2.7 .3 3.1 2.6-1.3 2.5-1.4 2.6-1.2 1.7-2.6 1.1-2.5 .9-2.6 0-2.8 3.1-.4 3.1 .1 3 .1 3-1.2 2.2-2.1 2.4-2 .4-2.1-2.8-1.7-3.2-1.3-2.4-2.1-2.6-1.9-1-3.7-2.4-2.2-1.4 2.5-2.3 1.8-1.3 2.6-.9 2.7-2 2.4 .3 3.1-1.6 0-1.3 .8-3.1 .8-2.1 2.3-2.7 1.3-2.4 1.9 2 2.1z"/>
<path fill="#000e8c" d="M219.1 530.8l-.5 2.8-1.6 2.5 1.6 2.2 1.2 2.6 3.4 1.5 3.4-.2 3.4-1.1 2-1.9 1.8-2.1 1.2-2.6-.6-2.9-1.1-2.6-1-2.8-2.4-1.9-1.3-.6-3.2 1.3-3.2 .9-2.9 2zM201.7 529.9l.9 2.8 2 2.2 3.1-.1 3 1.9 3.1-.6 3.2 0 1.6-2.5 .5-2.8 .2-2.9-2.3-1.7-2.3-1.7-1.9-2-1.1-2.8-2 2.4-1.2 3.4-3.5 .6-2.8 1.5zM102.2 486.5l.8 3.5 2.2 1.8 2.1 1.9 1.7 2.3 1.8 2.1 2-1.5 2.7-1.3 2.1-1.9-1.1-2.8-.6-3-1-2.8-1.7-2.6 1-1.9-.4-3.4-1.6-3-2.6-1.5-1.9-2.6-.3-.3-1.4 1.5-2.3 2.8-1.7 3.2-.3 3 .3 3 .2 2.4z"/>
<path fill="#000285" d="M125 437.4l-2.4 2.6 0 3.2 .4 3.4 3.3 1.4 3.2 1.9 2.1-1.8 2.8-.5 1.8-2.4 2.5-1.2 2.8-.6-.2-2.4-.8-3.3-2.9-1.2-2-2-2.5-1.6-3.4 .8-3.4 .8zM287 587.3l1.6 2.4 1.6 2.3 1.6 2.4 2.5 1.7 1.7 2.3 1.2 .2 1.5-2.9 2.1-2.4 2-2.5 2.8-1.9 1.5-2.8 2-2.5-.2-1.5-2.8-2.7-3.8-.6-2.5 1.4-2.8 .7-2.6 1-2.7 .7-2.7 .9-2.7 .9zM279.2 630.3l1.4 3.3-1.7 3.1 3.1 .9 2.7 1.8 3.2 .3 3.1 .6-.3 2.7 .3 2.7 .8 2.3 3.2-1 3.5 .3 3.5-.3 3 3 2.3 2.3 2.5 1.6 .5-1.9 .5-3.1 .7-3-3.1-1.1-3.8-.3-1.9-2.6-.9-3.7-1.9-2.6-2.5-1.8 .2-1.7-2.4-2-2.2-2.1-1.1-2.8-.9-3-2.9 .3-3 0-3-.2-2.7 1.6-.5 3.2zM335.8 518.3l2.9 .5 2.8 1.5 3.1-.1 3.1-1.1 2.9 1.3 .9-1.6 1.8-.6 3.2 0 3.1-.7 .8-2.8 2-2.2 .9-2.7 .8-2.8 .8-2.7-1.3-2.5-2.6-1.3-3.1 .7-3.2-1.4-3.1-1.5-3.1 .5-3.2 1.7-.4 1.4-2.1 2.3-3.2 1-3.5 .7-1.7 2.7-1.1 3.4 .3 3.5zM368 459l2.1 3.1 .7 3.1-.4 .6 2.3-1.5 2.3-1.3 2.6-1.8 2.5-2 2.1-.9-2.2-2.1-2.1-2.3-3.4 .1-3.5 .4-3.2 1.5zM368.5 506.7l2.9 .9 3.5 .2 2.2 1.8 1.9 2.4 1.8 2.4 .7-.3-.8-1.8-1.2-2.7-1.5-2.6-.6-3 .1-3-.5-3-.9-2.3-.5 .6-1.9 2.3-2.5 1.6-2.3 1.9-2.1 2zM241 518.9l1.9 3.4 3.3 1.9 2.8 .1 2.8-1.7 2.8 .5 2.8 .6-.5 1.7 1.2 1.1 1.6 2.5 2.3 1.8 2.9 .1 2.8 .8 2.8 .9 2.9-.1 2.9 .4-1.5-3.1 .7-3 1.3-2.9-3.3-1.2-2-2.8-2.2-2.5-2.5-2.2-3 1.4-3.2 .5-2.5-2.1-1.8-2.6-2-2.5-2.1-2.4-2.3 2-2.4 1.8-3.1 .2-3 .4-.7 3.5zM137.8 470.4l-2.4 2.1-1.1 3.4-2.3 2.3 2.3 2.1 2.2 2.2 3 1 2.7 1.4 2.8-1.1 3-.4 3-.3 1.3 3 .9 3.1 .4 3.2 1.6 2.4 2.6 .7 2.5 1 2.6 .2 2-1.6 1.4-3.2 1.5-3.2-1.7-3.3-.4-3.3-3.2 .2-3-.5-2.6-1.5-2.8-1.5-.1-2.8-.9-2.7-1.7-2.9-1.6-3.1-3.8 0-3-1-3.1 1.6z"/>
<path fill="#000184" d="M284.1 574.6l.2 3.1 0 3.2 1.1 3 .9 .5 2.7-.9 2.7-.9 2.7-.7 2.6-1 2.8-.7 2.5-1.4-2.1-2.2-.4-2.9-.8-2.8-1.1-2.7-2.8 .4-2.9 .6-2.9-.8-2.8 .1-1.9 1.2-1.1 1.8zM254.4 277.5l.8 3.3-1 3.5 .9 3.3 2.8-.2 3-1.1 2.8 0 2.7 .5 2.6 1.7 2.7 1 2.7 .7 .4-.2 1.7-2.2 .8-2.7 1.5-2.3-2-2.4-1.5-2.6-1.4-2.8-1.6-2.5-1.1-2.9-3.1 .1-3.1 .2-2.8 1.1-2.6 2.1-2.9 1.2-3.1-.1zM332 551.5l-1 3.8 2.4 2 2.7 2 1.3 .5 2.8-1.6 2.8-1.5 2.6-1.9 3.3-.4 2.1-1.8 .4-2.8-1.4-2.1-.7-2.5-2-1.8-2.8 .9-2.8-.4-2.7-.5-2.8-.5-2.2 1.6-1.1 2.6-2.1 1.7zM226.9 369.5l.8 3.1-2.3 2.6-.1 2.9 2.9 1 3.5 0 1.7 3 2.2 2.2 2.7-1.8 2.8-1.8 2.4-2.3 1.9-2.8-1.4-2.4-2-2-3.3-1-1.6-2.2-.8-3-1.2-2.5-2.1 2.4-2.8 1-3 .7zM139.5 397l.4-.2 3.5-1.2 3.2 1.3 3.1 1.4 2-.7 1.6-1.4 2.6 1.9 2.9 1.3 3.1 .8 1.3-3.1 2.9-2.2 .9-3.3-.4-.9-2.4-1.5-2.1-2.1-2.5-1.3-2.9-.1-3.1 .2-1.7 2.1-1.4 2.3-2.9-.6-3 .2-1.9-2.4-.6-3 2.1-2.1 1.3-2.7 2.5 .3 2.5 .9 2.6-.6 1-2.3 2.2-1.3-.1-2.3 1-2.2-1.1-1.5-.5-1.8-3.6 0-3.1-1.7-3-1.7-1.9 1.9-1.3 2.3-.8 2.6-3.3 .5-3.1 1.3-.3 .8 1.9 2.8 .5 3.2 .1 3.3-1.1 1.1-1.5 .4 .1 3.2-.7 3.4 2.5 2.4 2 2.4zM262.6 484.9l-.4 3-2.2 1.9 .7 2.6 .9 2.4 3.5 .5 2.9 1.5 2.4 2.7 3 1.4 1.2-2.8 2-2.4 3.6-1.4 2-2.3-.3-3.7 .8-3 2.6-.7 2.6 .4 1.2-2.6 1-2.6 .5-2.9 2.4-1.9 1.5-2.4-.1-2.5-1.3-2.2-3-1.9-3.4-.8-3.5-.1-2.4 1.9-3.1 .4-2.6 1.4 .1 3.2-.7 3.1-.5 3.2-2.7 1.3-3 0-2.8 .6-1.6 2.3zM197.5 412.3l-.6 3-1.5 2.6-2.1 2.3-1.5 2.6-1.6 1.5-2.1 .2-.2 2.1 1.9 2.2 2.1 2.2 0 3.2 1.4 2.6 1.6 2.4 1.2 2.6 1.7-2.4 1.2-3 1.8-2.5 2.7-1.4 3.1-1 2.4-1.7 .2-1.2-.4-.5-.2-2.9-.9-2.9-1.2-2.8 .2-3 .7-3.1-.9-2.9-.2-3-2.6-1.3-2.8-.7-2.2 .9-.4 3zM314.7 621l-1.4 3.2-.9-.1-2.3 1.6-3.3-.3-3.5-.4-2.1 1.9-1.5 3.1-2.1 2.1-.2 1.7 2.5 1.8 1.9 2.6 .9 3.7 1.9 2.6 3.8 .3 3.1 1.1 1.9-1.8 2.3-1.1-.5-3.1 0-3.1 .6-3.1 .2-3.1-.1-3.1 3.3-.4 3 1.3 3.2 .5 3.2 .5 3.2-.2 .8-3.2-.3-3.1 .5-3.2-.8-3.2 3.2-.3 3-1.8 3.3-.1 1.2-2.2 1.2-2.3-1.3-2.7 .3-3.3-2-2.4-3.3 .3-3-.3-2.7-2.1-1.9 2.1-2.2 1.6-.4 2.8 .3 3-1.9 2.5-2 2.1-2.9-.3-2.9 2.1-2.2 2.6zM272.3 272.5l1.6 2.5 1.4 2.8 1.5 2.6 2 2.4-1.5 2.3-.8 2.7-1.7 2.2 2.3 1.8 1.3 2.9 .3 4 1.7 2.5 3.3 .9 3.5 .6 2.6 1.5 2.1-1.6 2.6-.7 2.4-1-.8-2.9-.3-3-.8-2.9-.4-3-.1-3 .1-3 .4-3.1 2.6-2 3.3-1.2 1.7-3.1-2.4-2-2.6-1.9-2.3-2.2-2.3-2.2-1.7-2.7-1.4-3-2.3-2.2-1.9-2.5-2.2 2.5-1.8 3-2.4 2.2-3.8 .1-3.1 1.2-1.9-2.6-.9-3.5-1.8-2.6-2.8-1.7-3.1-1.5-2.7-1.7-2.1 2.4-2.2 2.3-1 3.3-1.3 2.9-2.2 2.4-2.7 1.8-2.3 2.3 1.9 3.1 3.2 1.6 3.1 1.7 3.1 .1 2.9-1.2 2.6-2.1 2.8-1.1 3.1-.2 3.1-.1zM249.9 232l-.6 3.3-1.1 3.4 1.9 2.8 2.7 1.3 3.1 .6 2.9 1.1 3-1.1 2.4-2.2 2.1-2.6 3.3-.6 .2-2.9 .5-2.9-.3-3.1-.9-2.7-1.7-2.4-1.7-2.4-2-2.1-1.4-.6-1.4-.5-2.8-1.5-3.2 .5-2.4-2.4-.7-3 .2-3.3-1.1-2.7-1.9-2.1-1.6-2.3-2.6 1.1-2.6 .8-2.9 .1-2.5 1.1-2.8 .3-1 2.6 1 3.3-.9 2.7-2.1 2.3-1.2 2.5 2.6 2 2.9 1.5 2.8 1.5 2.9 1.5 3.4 .1 3.3 .4-.1 3.3z"/>
<path fill="#001490" d="M243 324.2l-.4 2.9-1.6 2.7 .2 2.9 .1 2.9 2.5 1.9 2.5 1.8 2.4-1.5 2-2.4 1.7-2.9 2.5-1.1 3.3 .3 3.1-.2 2.6-1.1-2.6-1.8-2.7-1.7-1.2-3.2-1.9-2.5-2.5-1.9-2.4 1.6-2.8-.2-2.6 .3-2.7 .3zM378.9 612.8l-1.2 2.7-1.7 2.3-2.1 2.1 .3 2.7 1.3 2.3 .9 2.5 3.1-1.6 3.4 .7 3.4 0 1.1-2.9 1.6-2.5 2-2.2-1-1.9-1.7-2.4-1.3-2.6 .9-.7-1.7 0-3.1-.7-3.2-.5zM277.4 418.9l1.7 2.6 .3 3.3 3.6-.4 3.6-.3 2.4-2.4 1.8-2.6 1.4-2.8-.1-3.6-2.7-1.1-2.1-2.3-2.8-.7-3-.5-2.2 2.6-1.1 3.5-2.8 2.2zM224.2 490.8l0 2.9-.5 2.9 .2 .4 2.7 2.3 3.1 1.6 3.4 1 1.8-2.8 2.8-1.8 3.5-1.4 3.6 .9-.2-3.1 2.6-1.8 1-2.6 1.4-2.4-1.3-1-.6-1.6-2.7 1.2-2.7 1.8-3.1-.6-3 0-2.5-1.3-1.2-3.2-3-.7-2.1 1.8-2.8 .3-.6 1.3-.4 2.9z"/>
<path fill="#002da0" d="M292.6 355.8l1.7 2.4 .3 3.4 2.1 2.1 1.2 2.8 2.8-1 2.7 1.6 2.8 0 2-2.3 3.8-1 1.4-2.7 .3-3.5 1-2.9-2-2.7-3.4-1.5-1.6-3-2-2.8-2.7 1.8-2.7 1.8-3.1 .9-2.9 1.2-3.4 .2-.6 1.8-.6 1.8z"/>
<path fill="#001591" d="M315.1 558.7l-2.6 1.6-.8 2.9-.9 2.8 1.1 3.1 1.2 3 1.5 2.9 3-1.7 3.4 .6 3.2-.4 1.7-2.5-.4-3 .5-2.8-2-2.4-2.8-1.5-1.6-2.8-2.5-1.9zM233.8 506.4l-2.6 1.1-2.5 1.4-.3 3.6-2.3 1.5-.2 3.5 1.3 3.1 1.4 3.1 1.3 .6 3.5 .2 2.7-1.6 2.3-2.3 2.6-1.7-.3-3.5 .7-3.5 3-.4 3.1-.2 2.4-1.8 2.3-2 .1-1.5 .2-1.5-2.6-1.2-2.4-1.5-1-2.8-1.7-2.2-3.6-.9-3.5 1.4-2.8 1.8-1.8 2.8-.7 2.4zM218.1 409.4l3.4 .8 2.6 1.5 .2 3.7 1 2.9 3.3-1.2 3.3-.9 3.3-1.1 1.4 2.6 .6 2.8 1.7 2.4 .2 3 1.1 2.6 .3 2.9 3-.8 3.3 1.1 3-.8 2.8-1.7 1.2-2.2-1.3-2.8 1.4-3.9-2.2-2.4-2.4-2.5-3.1-.9-3.3-.2-3.1-.8-3.2-.2 .2-2.8-.3-2.7-1.3-2.9-2-2.1-1.5-2.6-3.1-.9-2.7-1.4-3.1-.4-3 .5-2.6 2-.7 3.6-2.6 1.9 2.1 2zM160.3 338l-.4 3 .3 3 .8 3 .7 3.1 2.1 1.2 1.6 1.9 .4 0 3 .6 2.5 1.6 2.7 1.4 3.1 .5 2.8 1 2.7 1.5 2.5-1 2.6-.6 .4-3.2-.7-3.4 0-3.2 2.1-2.9-2.8-.8-2.5-1.4-1.9-2.3-.6-2.9-1.8-2.4-.9-2.7-2.8-1.1-2.9-1-2.8-1-3-.4-2.1 .8-2.1 .4-1.2 1.4-.8 2.9zM182.7 316.7l2.7 2.4 .7 2.7-.6 2.8-2.6 1.4-1.5 2.1-.6 3-1.8 1.9 .9 2.7 1.8 2.4 .6 2.9 1.9 2.3 2.5 1.4 2.8 .8 1.9-1.8 2.5 .3 1.3-2.9 1.4-2.8 2-2.6 .6-3.3-1.9-2.7-1.8-2.9 1.3-2.6 .5-3.1 .9-2.9 2.6-1.8 2.1-2.2-3-.6-1-2.9-3.1-.8-3 0-3-.2-3 .4-3 .9-.8 2.9z"/>
<path fill="#000787" d="M217.6 165.1l2.6-1.9 1.9-2.6 1.8-2.8 2.4-2.1-.5-1.4 .5-1.4-.7-2.7-1-2.8-1.2-2.6-1.5-2.6-1.7-2.5 0-.1-.5 0-2.7-.6-3.3 .9-3.3 .6-3.4 .5 1 2.7 1.1 2.6 .9 2.7 .8 2.7 1.1 2.7 1.1 2.6 .6 2.6 1.4 2.4 1.9 2.8 .2 .6zM413.6 340.8l2.9-.3 2.6-2 2.6-1.8 1.9-.1 .9-1.9 1.7-1.3-1-2.6 .3-2.8 0-2.8-1-2.6-.4-2.7 1.5-2.7 1.4-2.8 .3-3.1 .4-3.1 .9-2.9 .5-2.8 2.2-1.7 1.9-1.9-2.1-2.4-2.3-2.3-2.8-1.4-3.5 0-2.7-1.4-2.6-1.8-2.9-1.3-2.7-1.7-2.5-1.9-1.8-2.6-1.3-3.2-3.4-.2-3 1.4-1.6 2.4-.7 2.7-.5 2.7-.1 2.8-1.3 2.5-.7 2.7-1.3 2.4-2.1 2.1-1.9 2-.3 3-1.7 2.2-1.4 2.6-2 1.9-3 .8-.1 .7 2.6 1.5 2.8 1.1 1.7 2.6 2.6 1.5 2.5 1.9 2.6 2 1.2 2.8 1.1 2.9 .9 3 2.8 2.2-.8 3.4 .7 2.9 2.8-1 2.9-.5 3.1 .1zM406 319.1l-3.3-1 1-3.4 3-1.9-1.3-2.5-1.5-2.3 3-.9 1.6-2.6 2.5 2 3 1.4-1.8 2.8-2 2.6 2.4 1.7 .3 2.9-2.6 1.3-1.8 2.3zM217.9 216.7l3.2 .7 2.5 1.8 2.8 1.4-1.7 2.5-1.2 2.7-1.4 2.6 1.2 3.4-.7 2.8-.8 2.8 .5 1.1 3.1 .2 3.5-.7 2.4 2.2 2 3.1 3 .5 3.7 .4 3-1.2 2.3-2.9 2.9-1.4 1.1-3.4 .6-3.3-2.3-3.3 .1-3.3-3.3-.4-3.4-.1-2.9-1.5-2.8-1.5-2.9-1.5-2.6-2 1.2-2.5 2.1-2.3 .9-2.7-1-3.3 1-2.6-2-2.1-2.5-1.6-2.5-1.7-1.1-3-1.8-2.2-2.2-2-3.1 .5-.1 0 1.3 2.1 .9 2.5 1.1 2.5-2 3-2 4 3 3 1.7 1.8 2.3 1.2-3.6 0-3.4 1-3 1.1-.2 .1 .2 .2zM180.4 398.6l.7 3 2.1 2.7 3.2 0 3.2-.4 3 .9 3 1.2 3.1 .4 2.2-.9 .7-2.8 .6-2.8-.1-2.7-1-2.7-1.4-2.6 1.7-2.7 1.4-3 3-1.3 2.6-1.8-3.2-.7-2.9-1.3-2.3-1.8-.5-4-2.5-1.8-2.3-1.8-1.1 1.3-1.4 .9-1.4 2.5 .1 2.9-.7 2.8-2 2.3-.3 2.8-2.5 1.6-2.9 .7-1.5 .9-.4 1.7 1 3zM293.7 441.4l3-.7 3.1 .5 3.1 1.7 3.1-.7 3-.3 .5-.4 .3-3.1 .2-3-.8-2.9-.4-3-3.7-.9-1.8-3.2-2.5 1.3-2.4 1.9-3 .1-2.6 1.3-2-2-2.5-1.5-1.7-2.4-3.6 .3-3.6 .4-1.5 2-2 1.8-.5 2.7 1.9 2.6 1.9 2.5 2.3 2.1 2.6 1.7 2.6 1.7 2.8 1.5 1.1-1z"/>
<path fill="#001390" d="M233.5 387.9l-2.1 2.3-2.9 1.8-1.3 3-1.3 2.9 2.7 1.4 3.1 .9 1.5 2.6 2 2.1 1.3 2.9 1.8-2.1 2.9-1.2 1.5-2.3 1-2.9 2.2-1.8-2-2.4-2.7-1.9-1.6-2.8-1.7-2.6-2.3-2.3z"/>
<path fill="#000d8b" d="M364.1 507l-.8 2.8-.9 2.7-2 2.2-.8 2.8 1.7 1.6 1.7 1.7 3.2-.2 3.3-.2 2.9 1.1 2.8 1.9 1.3-2.3 1.3-2.3 1.8-2.1 1.2-2.3-1.8-2.4-1.9-2.4-2.2-1.8-3.5-.2-2.9-.9-1.7-2.6-1.9 .2zM215.9 594.5l-.3 3.1-1.4 2.6-1.6 2.6-1 2.8 1.7 3.2 1.9 3 2 .3 3.5-.5 2.7-1.7 2.1-2.7 2.7-1.8 2.9-1.4-1.1-2.3-.3-2.6 .1-2.6-2.6-1.4-2.1-2.1-2-2-3.5-.8-3.3 1.4z"/>
<path fill="#001d96" d="M116.5 360.3l1.4 2.7 1 2.9 .8 .6 1.8 .1 1.7 0 1.6-1.3 2.1 .2 1.8-2 .7-3 1.7-2.2 3-.9-1.9-2.1-2-2.1-.5-1.1-2.7 1.4-3 1.5-2.3 1.1-2.3 1.1-2.4 .8-.8-.1zM128.6 347.7l-.8-2.7-.4-.2 .6 2.2 .7 1.1z"/>
<path fill="#0041ac" d="M368.8 581.7l-1.8 2.2-2.4 1.9-1.1 2.6-1.4 2.5 2.8 1.4 1.8 2.3 1.7 2.5 2.3 1.9 2.1 2 1.3-.7 1.3 .7 .8-.9-.3-3.3 .4-3.2 1.5-3 .5-3.2-2.7-1.6-2.8-1.4-1.4-2.8-1.6-2.6z"/>
<path fill="#0030a2" d="M162.1 402.1l.5 1.6 .5 1.7 2.9 .8 1.6 2.6 2.9-.8 3.2 .3 2.8-1.1 3.1-.2 2.7-1.6 .9-1.1-2.1-2.7-.7-3 1.2-3.5-1-3-2.8 .5-2.7 .2-2.7 .1-2.7-.4-2.7-.9-.9 3.3-2.9 2.2-1.3 3.1zM294.6 283.1l-.1 3 .1 3 .4 3 .8 2.9 .3 3 .8 2.9 2.7 1.4 3 .8 1.8-.5 1.9-.1 2-2.1 3.1-1.3 2.4-1.8 .6-3.3 .7-3.1 1.7-2.4-1.3-2.8-.3-3.3-1.3-2.7-1.4-2.6-3.6-1.4-1.6-2.5-2.4-.3-2.3 .8-1.7 3.1-3.3 1.2-2.6 2zM238.1 169.9l-1.3 2.7-1.7 2.6-.7 3-1.5 2.6 3.2 .6 3.5-.3 3.1 .7 3.1 .9 1.8 3.9 2.7 1.7 1.7-2.1 2.3-1.3 1.3-1.5-1.1-2.9-1.2-2.8 .4-3-.2-2.9 .1-2.9 .5-2.9 3-1.1 2.9-1.8 2.9-1.5 3.1-.7 .4 0 .2-.6 1.4-2.3 0-3 0-3-2.3-2.7-2.7-2.3-2.5-1.5-2.5-1.5-.4-.1-1.4 1.9-1.9 2.5-.8 3-.6 3-.3 3.1-1.1 3.3 .4 3.4-2.9-.3-2.9-.4-2.9 1-2.9-.1-.8 2.9z"/>
<path fill="#00128f" d="M134.1 540.5l-.1-2.8 1.6-3-2-2.5-1.3-2.6-3.2 .6-3.5 2.7-3-1.3-2.8-2.7-.5-.2 1.1 1.2 1.6 2.1 2.2 2.3 2.8 1.7 2.5 2 2.5 2 1.9 .9zM380 456.2l2.2 2.1 .8-.3 2.8-1.5 3.2-.4 3.1-.7 2.9-1.4 1.1-.3-.4-.5-1.5-2.3-2.9-.8-3-.1-3.1-.4-2.8 1.5-3 .1-1.4 1-.1 1.7zM195 471.1l-1.5 2.4-2.2 2-1.6 .7-1.8-.1-1.2 3.2-.7 3.6-3.4 1.6-2.5 2.4-.4 3 1.3 2.7 2.3 1.2 1.9 1.7 2.7 .7 2.6-.8 2.5-.7 1.6-1.5 .8-3 1.4-3-1.9-3.3 1.2-3 3.2 .2 3.3 0 2.9-1.6 2.5-2.1 2.6-2 2.2-2.6-.1-1.2-2.7-1-2.6-1.1-1.5-2.8-2.7-1-2.3-1.6-2.2 1-2.5 .4-1 2.6z"/>
<path fill="#0031a3" d="M271.7 388.7l-.8 2.9 .8 3.2-.9 2.9 2.9 1.4 3 1 2.8 1.5 2.7-1.9 2.9-1.7 2.3-2.3-1.3-3-1.2-3 1.2-3.2 .5-3.1-2.7 1.2-2.7 .3-2.8 .7-2.9-.5-2.7 .7zM419.7 219.5l2.2 2.5 2.5 2.3 1.5 2.8 .8 3.1-.4 3.6 .5 3.2 .6 3.2 1.7 2.7 23.5-7.9 .1-.4-.7-2.6-.5-3.6-1.5-3.4-2.2-2.4-2.8-1.6-2.6-1.9-2.4-2.1 3-1 2.1-1.4 1.9-1.6-2.5-.7-2-1.8-2.5-.5-2.5-.7-.6-.2-18.7 7.6zM290.8 507l1.1 1.3 2.8 .7 2.8 1.2 2.9 .2 3-1 2-1.8 1.4-2.3-2.1-2.4-.6-3.2-.2-3.4-2.5-2.2-2-2.5-2.6-.6-2.7-.4-2.5-1.3-1.4-2.7-2.3-1.6-2.6-.4-2.6 .7-.8 3 .3 3.7-2 2.3-3.6 1.4-2 2.4-1.2 2.8 .5 1.3 .3 1.3 2.5 1.6 2.9 .5 2.6 1.4 3.6 .5 3.5-1.3z"/>
<path fill="#004db1" d="M350.3 557.2l1.8 2.5 .8 3 .9 3 3.3-.3 3-1.1 2.7-1.9 3.1-.9-1.6-2.5-2.1-2.2-2.1-2.1-1.2-2.8-1.8-2.4-2.8 .3-2.9 0-.4 2.8-2.1 1.8z"/>
<path fill="#0044ad" d="M216 252.9l2.2 1.8 2.1 1.8 1.4 2.4 2.2 1.8 2.8-.1 2.7 .9 2.5 1.4 2.7 .8 2.8-.2-.1-2.8 .9-2.9 .3-2.9-.6-2.7-.6-2.8-.4-2.8-.6-2.8-3-.5-2-3.1-2.4-2.2-3.5 .7-3.1-.2-2.3 2.6-3 2.1-.7 3.6-1.1 3.3z"/>
<path fill="#00118e" d="M286.1 386.5l-1.2 3.2 1.2 3 1.3 3 2.7 1.5 2.9 .9 3.1 .1 2.7 1.5 2.8 1.1 .8-2.6 2-2.5 .1-2.7-.8-3 .6-2.7-2.6-.9-2.2-1.9-3-.2-2.5-1.2-2.7-1-2.2-1.9-1.5 1.4-1 1.8zM277.6 542.1l.3 2.9 .4 2.8 .4 2.9-1.2 1.6-1.9-.2-1.9 2.2-1.2 2.6 .2 2.9 .4 3 0 3 .3 3 3.6 .2 3.5 .4 3 2.1 1.1-1.8 1.9-1.2-.1-2.8-1.2-2.9-1.3-2.9 1.3-2.8 1.5-2.9 1.5-1 1.8-.4 1.8-3 2.1-3-.2-3.7-2-2.3-1.8-2.4-1-2.9-3.2-.3-3.3 .3-3.1 .9 .1 2.9zM200.5 624.3l-.2 2.7-.2 2.7 1.9 2.9 2.1 2.6 .5 .2 .4-.4 3-3 2.6 2.4 1.2 1.3 .2-.2 1.1-2.1 2.7-1.8 3.6 0 3.1-1 2.7-2 2.8-1.6 0-.9-1.9-2.2-2.4-1.9-2.1-2.1-1.2-2.8-1.7-2.5-1.5-2.5-2-.3-3 2.3-2 3.2-3.1 .4-3.2 .3-3 1-1 2.6z"/>
<path fill="#00299e" d="M315.1 290.9l-.7 3.1-.6 3.3-2.4 1.8-3.1 1.3-2 2.1 2.9 1.5 2.5 1.9 1.3 3.3 2.6 1.8 2.4 2 2.1-2.1 2.4-1.7 2-2.3 2.2-2 1.9-2.3 2.4-1.8 1.7-2.5 2.4-1.9-2.6-1.2-2.2-1.9-2.3-2.1-2.7-1-3-.1-3-.3-2.5-1.3zM237.3 437.3l-2.4 2.4 .8 3 1.8 2.4 1.9 1.9 2.3 1.2 2.4 1.1 2.6-.6 2.3-2.1 2.6-.6 3 1.3 .5 3.1 1.2 2.6 3.2 1.2 1.7 2.2 2.3-1.8 2-2.4 2.9-.1 3 .1 2.8-.4 1.2-1.3-1.9-2.8-2.1-2.6-2.2-2.6-1-3.4-2.6 .1-2.9-.8-2.5 1.1-2.3 1.9-.6-3.4 .3-3.7-3-2.4-2-2.7-2.8 1.7-3 .8-3.3-1.1-3 .8-2.1 2.6z"/>
<path fill="#002fa1" d="M301.4 560.1l.3 3.6 3.1 .5 2.6 2.5 3.4-.7 .9-2.8 .8-2.9 2.6-1.6 2-2.1 .4-1.7-.8-1.5-3.1-1.1-3.2-.9-3.2 1.3-3.2 .7-1.1 2-2.2 1.1zM375.9 596.8l.3 3.3 2.8-1.1 2.8-.7 2.7-1.6 2.9-.5 3.1 .7 3-.2-.1-3-.5-3 .3-3.1 3.1 0 3-.3 3.1 0 3-.9 2.9-1 1.3-1.8-2.4-1.7-2.3-1.9-.4-3.1-1.4-2.6-3.1 .1-2.8 1.6-3.2-.1-2.8 1.5-.3 .4-2.2-2.4-2.5-1.8-3.4 .1-2.8-1.2-2.6 1.3-2.8 1-2.6 1.1-2.4 1.8 .2 1.3 1.6 2.6 1.4 2.8 2.8 1.4 2.7 1.6-.5 3.2-1.5 3z"/>
<path fill="#0037a7" d="M102.9 360l-1.1 3-.4 3 .4 3 2.9-.1 3.2 1.3 2.5-2.2 2.7-1.7 2.8-.3 3-.1-1-2.9-1.4-2.7-.3-2.4-2.7-.3-3.5-.6-3.5-.1-3 .1z"/>
<path fill="#0043ad" d="M171.4 618.2l-1 3.4-.9 3.4 .3 2.1 1.9 1.1 1.3 .8 1.6 0 2.8-.9 .9-3.3 1.5-2.6 3-.7 2.8-.9-.8-3-.9-2.9-1.7-2.6-1.4 .2-1-1.1-2.8 1.3-2.7 1.5-3.1 .6z"/>
<path fill="#82ff80" d="M263.2 199.5l.7 1.1-1.4 1.8 0 2.3 1.8 .5 1.3 1.3 1.5-.4 1-1.7 .6-1.9-.3-.4-.2-2.5 1.1-2.2-1.7-.4-1.3-1.2-1.2 .3-.9 1.7z"/>
<path fill="#aaff57" d="M205.3 492.2l-1.3 1.6 2.5 2.2 .2 3.3 2.1 0 2-.3 1.3-2.4 2.2-1.4-1.2-2.2 .6-2.2 .1-2.2-1.7-1.1-1.9-.8-1.7 .1-1.7 .6 0 2.6zM196.8 487.2l-1.4 3-.8 3-1.6 1.5 .7 3.1-.2 3.4 2.1 2.5 2.2 2.4 2.6 1.5 3 .5 1.4-2.8 1.2-3 .7-3-.2-3.3-2.5-2.2 1.3-1.6 1.5-2.2 0-2.6-.7-2.6-1.7-1.9-1.8-1.8-3.3 0-3.2-.2-1.2 3z"/>
<path fill="#05f3fa" d="M406.7 312.8l-3 1.9-1 3.4 3.3 1 2.5 2.4 1.8-2.3 2.6-1.3-.3-2.9-2.4-1.7 2-2.6 1.8-2.8-3-1.4-2.5-2-1.6 2.6-3 .9 1.5 2.3z"/>
<path fill="#faff05" d="M269.3 510.3l-1.6 2.2-.9 2.7 2.5 2.2 2.2 2.5 2 2.8 3.3 1.2 3.1-1.4 2.8-1.9 3.4 1.1 3.5 0 1.3-1.3 3.4-1.4 3.4 .2 3.5 .4 1.2-3.2 1.3-3.2-.2-1.9-.1-1.9-3 1-2.9-.2-2.8-1.2-2.8-.7-1.1-1.3-1.5-.8-3.5 1.3-3.6-.5-2.6-1.4-2.9-.5-2.5-1.6-.6 2.9-1.7 2.3z"/>
<path fill="#800000" d="M263.6 462.4l3 .6 2.6 1.5 2.1 2.4 2.9 .8 .9 1.1 2.6-1.4 3.1-.4 2.4-1.9 3.5 .1 3.4 .8 3 1.9 .9-3.1 2-2.7 .9-3.1-1.1-2.9-.8-3.1-2.2-2.1-2.2-2-2.6-1.7-3.1 .8-2.5 2.1-3.5-.2-3.5 .6-1.2 1.3-2.8 .4-3-.1-2.9 .1-2 2.4-2.3 1.8-.2 2.8-.4 2.8z"/>
<path fill="#0296d1" d="M378.4 448.5l1 2.7 3-.1 2.8-1.5 3.1 .4 3 .1 2.9 .8 1.5 2.3 .4 .5 1.9-.6 1.5-.4 1.6-.5 2.9-1.2 3-1 2.3-2.7 2.7-2.3 2.5-2.5 .3-.3-.4-.3-2.1-2-1.8-2.4-1.6-2.5-1.9-2.3-2.7 1.6-2.9 1.4-3.4-.2-3.5-.5-3.3 1.5-3.4-.8-3-1.9-1.8 2.5-1.8 2.5-2.7 1.6-.4 2.7 .6 2.7z"/>
<path fill="#03b5df" d="M270.3 232.2l-.5 2.9-.2 2.9 3.6 0 2.1 2.9 1.6 2.3 1 2.8 .4 3.3 2.6 1.4 3.2 1.1 1.7 2.2 2.3-2.8 2.9-1.9 2.8-1.5 3-.8 3-.9 2.7-2 3-.7 3.3 .2 3.3 .2 1.9 0 .8-3.2 .7-3.3 .1-3.5 1.2-3.1-2.4-1.3-3.3 .1-1.7-2.5-2.2-1.7-2.1-1.8-1-3.2-2.7-2.1-1.1-3.2-1.8-2.7-2.4 2-2.2 2.1-3 1.2-3-.1-3.1-.1-3.1 .4 0 2.8-.9 2.6-1.1 2.5-1.7 2.6-2.6 1.2-2.5 1.4z"/>
<path fill="#00138f" d="M322.7 534.2l1.6-2.2 1.6-2-1.7-1.9-1.7-1.9-1.9-1.7-3.5 .8-3.4 .9-1.8-1-1.7-1.3 1.8-2.4-.3-3.1 1.2-.9 1.4 .3 2.7 2.2 3.1 1.6 1.3-2.7 1.6-2.4 2.6-2 0-3.3-3.2 .2-3.1-.1-2.9-1.4-2.8-.8-1.7-2.2-1.9-2-1.7-.5-1.5 .9-1.4 2.3-2 1.8 .1 1.9 .2 1.9-1.3 3.2-1.2 3.2 1.7 2.8 .4 3.3-.6 2.2-.6 2.3 1.9 2.4 2 2.4 1.6 2.7 .5 0 1.7-.6 1.3-1.2 2.9-.3 2.5-3.6 3.2 1.6zM308.1 370.5l3 1.3 3.7-.1 2.8 2.1 2.9 1.6 2.9-1.5 2.1-2.1 1.4-2.7 1.5-2.7 3.1 1.5 3.2 1.1 3.2 1.1 3.4 .3 1.3-1.9 2.1-.8-.5-3.1-.5-3.2-.5-3.1 1.2-2.9 1.3-2.8 1.6-2.8-2.1-2.3-2.1-2.2-2.9-1.4-2.5-1.9-1.3-3.1-2 2.3-2.8 1.7-3.8 .6-1.8 2.5-.9 3.3-1.1 3.1-2.2 2.2-3.5-1-3.6 1.1-1 2.9-.3 3.5-1.4 2.7-3.8 1-2 2.3 1.8 1.2z"/>
<path fill="#000d8c" d="M200.1 280.5l2.5 1.5 2.9 .2 2 1.9 1.3 2.4 1.2 2.5 1.8 2.1 2.6-1.4 2.9-1.1 1.2-2.8 1.2-2.8 3.3 .3 3.4-.2 3.3 0 3.3-1 .6-2.5 .9-2.5 .7-2.4 1.7-2.4 2.9-1.5 .5-3.3-.7-2.5-2.2-1.5-2.8 .2-2.7-.8-2.5-1.4-2.7-.9-2.8 .1-2.2-1.8-1.4-2.4-2.1-1.8-2.2-1.8-.8-2.8-3.6 .8-2.9 2.4-2.8-.8-2.7 1-1.6 2.7-1.5 2.8-1.5 2.8-1.5 2.8-.9 3-1.7 2.7-2.2 2.1-2.9 1.3-.5 1.3 .6 1.2 2.7 1 2.8 .5 2.9 .5zM209.8 272.5l-.2-2 .5-2.8 2.4-1.5 3.2 1.6 3.5-.1 .3 2 .9 1.8-1.1 2.4-1.8 1.9-3.4-.5-3.3-1zM337.5 467.4l.9 3.3-.8 2.6 .8 2.8 2.3 1.7 2 .6 2 .4 2-1.9 1.7-2.3 2.2-1.8 2.2-1.6 2.9-.7-1.9-2.2-.2-3.1-1.3-2.5 1.7-2.5 1.3-2.6 1.2-2.8 2.3-2-2.9-.8-3.4-.1-2.3-1.6-1.6-2.7-1.3-3.1-2.4-1.5 1.8-2.7 1.5-3 1.8-2.7 2.1-2.3 3.6-.8 3-1.4-1.3-2.7-1.6-2.6-1.9-2.2-2.5-1.7-1.8-2.4-1.9-2.2-2.4-1.8-2.6 1.6-2.2 1.9-.1 3.3-1.1 2.9-1.4 2.8-1.5 2.8-1 2.9-1 3 2.8 1.3 3.2 .8 1.5 3.2 2.2 2.1 .3 3.6-.8 3.1-2.2 2.5-2.1 2.6 1.9 2.8 1.6 3-1.9 2.2-1.8 2.2zM325.6 502.1l1.7 2.4-.3 3 1.4 2.5 2.5 1 2.4 1 1.1-3.4 1.7-2.7 3.5-.7 3.2-1 2.1-2.3 .4-1.4-.4-1.1 2.3-2.1 1.3-2.4-.8-3.3 .8-2.6 1.1-2.6-2-2.3-1.8-2.4-1.1-2.9-2-.4-2-.6-1.9 2.7-2.9 1.9-2.6 2.1-1 3.3-1.5 3-.7 .1-2.8 2.5-2.2 3.1-.5 3z"/>
<path fill="#000888" d="M172.4 392.9l2.7-.1 2.7-.2 2.8-.5 .4-1.7 1.5-.9 2.9-.7 2.5-1.6 .3-2.8 2-2.3 .7-2.8-.1-2.9 1.4-2.5 1.4-.9 1.1-1.3 .9-2.6-.1-2.8-2.1-1.9-2.6-1.4-1.6-2.3-1.5-2.5-2.6 .6-2.5 1-2.7-1.5-2.8-1-3.1-.5-2.7-1.4-2.5-1.6-3-.6-.4 0-.4 2.4-3.3 1.6-3.4 1.6-1 3.2 .3 4.2-2 2.7 .5 1.8 1.1 1.5-1 2.2 .1 2.3 3 1.3 3.3 1 1.9 2.8 1.8 2.8-.5 3.1 .8 3 .4 .9 2.7 .9zM173.7 378.1l-3.5-.2-.5-2.9-1.9-2.2 1.3-2.7 1.6-2.4 3.5 1 3.6-.6 2.1 2.1 .3 3-1.9 2.3-1 2.8zM262.8 614.7l0 2.7 0 2.8-1 2.6 1.5 1.9 2.7-1.5 3.1 .4 2.9-.1 3 0 2.9-.7 1.5 1.1 2.7-1.6 3 .2 3 0 2.9-.3 .7-1.3 .4-1.3 .3-3.3-.3-3.1-2-2.5-.7-3-2.1-2.5-2.9-.9-2.9 .9-3.7 1.6-1.5 3.8-3.1-1.2-3.4 .6-3.1-.8-3.1-.9-.9 .9 .8 2.8zM455.2 322.5l2.9-.8 2.9-.8 2.9-.7 2-.5-.7-3 0-3.4-.2-3.3-1.5-2.1-1.5-2.2-2-1.7-2-1.7-.9-2.6-2.1-1.7-2.3-2.3-1.7-2.7-2.3-2.8-1.7-3.2 1.1-2.8 2-2.3 0-.2-.3 .2-2.6 1.9-2.9 1.6-1.1 3.3-1.6 2.8-1.7 2.7-1.9 2.6-2.8 1.6-2 .5-1.9 1.9-2.2 1.7-.5 2.8-.9 2.9-.4 3.1-.3 3.1-1.4 2.8-1.5 2.7 .4 2.7 1 2.6 0 2.8-.3 2.8 1 2.6 3-.7 3-1.2 2.9-1.3 3.1-.6 3-.2 3.3 1.3 3.1-.1 2.3-2 1.9-2.2 .5-3.2z"/>
<path fill="#002ca0" d="M335.7 534.5l.4 2.8 .2 2.7-.1 2.9 2.8 .5 2.7 .5 2.8 .4 2.8-.9-.2-3.5 1.9-3 .5-3.3 2.9 .4 2.7 1.8 2.9-1.5 2.9-.2 .3-3.4 1.2-3.2 .6-3.3 0-3.4-1.7-1.7-1.7-1.6-3.1 .7-3.2 0-1.8 .6-.9 1.6-.4 2.9-1 2.8-.2 2.9-.3 2.9-3.5 1.2-3.2-.4-3.1-1.2-3.3-.3-3.1-1.5 2.1 2.3zM186.4 576.7l2.8 2.1-.5 3.4 .2 3.1 2.5 .3 2.4-.3 1.7 2.1 1.3 2.4 1.4 2.4 2.7 1.3 2.7-1.7 2.9-1.1 3.4 .1 2.4-2.2 2.1 1.4 1.9 1.6 3.3-1.4 3.5 .8 .9-3 3.1-2.4 .6-3.1-.4-3.4 .6-3.2-.4-1.1-2.2-2.2-2.8-1.3-2.9-1-2.7 1.5-3 1.1-2.7 1.4-2.5 2-1.8-1.3-2.2 .2-1.8-2.6-.5-3.6-3-1.8-1.9-2.6-3.2 .8-3.1 .9-2.4 2.3-2.8 1.6-2.9 1.5 1.7 2.5z"/>
<path fill="#001993" d="M231.1 604l-2.9 1.4-2.7 1.8-2.1 2.7-2.7 1.7-3.5 .5 1.5 2.5 1.7 2.5 1.2 2.8 2.1 2.1 2.4 1.9 1.9 2.2 2.2-2.2 1.6-2.7 1.9-2.4 2.7-1.7 1.8-2.5 2.2 1.7 2.7 .6 2.6 1 1.3-2.7 1.8-2.3 1.4-2.6 2.6-1.7-1.2-3.1-1.2-3-2.9-1.9 1.3-1.8 0-2.1-2.5-1.8-2.5-1.8-.8-3-1.2-2.7-1.9 2.4-1.6 2.9-2.6 1.6-2.9 1.2-3 1-.1 2.6 .3 2.6z"/>
<path fill="#003ba9" d="M291 622.2l.9 3 1.1 2.8 2.2 2.1 2.4 2 2.1-2.1 1.5-3.1 2.1-1.9 3.5 .4 3.3 .3 2.3-1.6 .9 .1 1.4-3.2 1.1-3.2 2.2-2.6 2.9-2.1-2.2-2.2-1.9-2.4-2.8-1.2-2.5-1.6-2.6-1.6-2.2 .3-2.3 .3-.1 3-.7 3-.4 2.9-2.5 2.1-3.5 0-2.9 1.4-2.2 2.5-.4 1.3zM213.5 474.5l1.4 1.3 1.9 2.6 2 2.4 3 1.2 2.8 1.6 2.8-.3 2.1-1.8 3 .7 1.2 3.2 2.5 1.3 3 0 3.1 .6 2.7-1.8 2.7-1.2-.6-3.4 .7-3.4-1.9-2.3-2.3-2-1.4-2.8-2.7-1.5-2.1 .6-2.2 .2-3.1-.6-2.8-1-1.8-2.2-1-3.2-2.2-1.7-1.7-.2-2.1 2-1.7 2.5-1.7 2.4-1.9 2.3-2.5 1.6 .1 1.2z"/>
<path fill="#003fab" d="M350.7 581.3l-1.3 2.7-.6 2.8 1.6 2.4 1.1 2.7 .9 .5 1.2 2.7-.4 3.3 .7 2.9 1.6 2.6 .9 2.8 1.6 2.6 1.6 1.3 2.9-1.6 2.6-1.9 2.4-2.3 2.8-1.8 2.5-2-2.1-2-2.3-1.9-1.7-2.5-1.8-2.3-2.8-1.4 1.4-2.5 1.1-2.6 2.4-1.9 1.8-2.2 1-2.7-.2-1.3-1.3-1.3-3 .4-3 .3-3 .9-2.9-.7-2.8-1.3-2.8-1.2-1.1 .8 .4 2.8zM341.7 635.7l3 1.5 1.6 2.5 .4 3.4 .2 .5 .1-.1 2.2-.4-.4-3-1-3.6 1.1-2.7 1.7-2.4 3.9-1.6 1.3-2.6-.8-1.6-3.4-.5-3.4-.5-1.2-2.9-1.3-2.8-2.5-2.1-1.7-2.5-3.3 .1-3 1.8-3.2 .3 .8 3.2-.5 3.2 .3 3.1-.8 3.2 .2 1.5 1.4 .5 1.7 .6 1.9-.1 1.4 2.7zM174 526.9l3.1 1.1 3.1 1 2.4 2.5 3 1.3 1.2-1.2-.1-2.9 .3-2.7-1-3 1.2-2.7 1.6-2.6-.9-2.9-2.3-1.9 2.4-1.5 3.5 .5 2.6-1 1.7-2.7 2-2.1-2.2-2.4-2.1-2.5 .2-3.4-.7-3.1-2.5 .7-2.6 .8-2.7-.7 .4 3.4 1.2 3.4-1.3 3.1-2.5 3 .3 3.4-.5 0-1.5 2.6-.3 3.7-3.6 .6-3 1.2-1.6 2.5 .3 2.3z"/>
<path fill="#00108e" d="M310.8 648.9l-.5 3.1-.5 1.9 .2 .1 2.4 1.7 2.6 1.3 3.1-.6 2.9-1.4 3.2-1.1 2.8-1.9 3-2 .6-.6-.2-.4-2-2.3-1.8-2.5-2.7-.7-2.6-1.2-2.8 .6-2.8 .1-2.3 1.1-1.9 1.8zM364.2 635.7l0 2.5 1.8 .4 3 .4 2.9 .9 3.1 .1 2.6 0 1.1-.5-1.7-2-.8-2.7-.4-2.8-.5-2.8-2.4 2-2.9 .5-2.9 .5-2.9 .5z"/>
<path fill="#00259b" d="M299.8 573.7l.4 2.9 2.1 2.2 3.8 .6 2.8 2.7 1.6-2.6 2.2-2.2 1.9-2.3-1.5-2.9-1.2-3-1.1-3.1-3.4 .7-2.6-2.5-3.1-.5-.3-3.6-.7-3.6-2.7-.7-2.3-2.1-3.2 .5-2.5-1.4-1.8 .4-1.5 1-1.5 2.9-1.3 2.8 1.3 2.9 1.2 2.9 .1 2.8 2.8-.1 2.9 .8 2.9-.6 2.8-.4 1.1 2.7z"/>
<path fill="#001893" d="M478.3 419.3l.3-1.4 1.4-2.9 1-3 1-3.4 0-3.6-.5-2.7 1-2.6-.5-2.7-.1-.3-11 .7-2.4-1.8-1.9-2.4-.9-3.2-2.7-1.6-2.9 .6-3 .6-2.7 1.3-2.3 1.8-2 2.7-2.9 .7-.4 3.1 .7 3.3-1.5 3 1.3 3.1 1.1 3.3 1.7 2.6 3.8 .4 3.2 1.2 2.3 2 2.3-2.5 3.4-.8z"/>
<path fill="#0032a4" d="M414.4 575.7l1.4 3.1 .4 3 1.8 1 1.5-.2 2.5 .4 3 .2 3-.2 .7-3.1 1.3-2.9 .7-3.6 1.3-3.4 0-.8 0-3.2-2-4-3.1-1.4-2.9-1.6-2.3-1.5-2.5-.9-2.2-1.6-.1 .3-1.7 2.4-2.8-.8-3-.3-2.3-1.9-2.6-1.1-3 .8-2.9 1-1.7 2.5-1.7 2.6 1.8 2.8 1.3 3.6 4.1-.1 2.7 1.8 2.8-.6 2.6-.9 2.4-1.6 2.4-1.2 2.1 1 .8 2.1-1.4 2.8-1.7 2.7z"/>
<path fill="#000c8b" d="M387 642l1.6 2.4 1.4 2.6 3 2 2.6 .2 2.4 .8 .4-2.5 .6-2.5 .6-2.5 .4-2.5-2.4-.8-2.3-1.1-2.3-1.1 1.8-2.7 .3-.3-1 .1-2.9 .6-.8-3.2-1.5-2.8-2.6-2.2-3.4 0-3.4-.7-3.1 1.6-1.1 1.8 .5 2.8 .4 2.8 .8 2.7 1.7 2 1.3-.5 2.5-.7 2.5-.3 1.8 3.6zM360.1 554.7l2.1 2.1 2.1 2.2 1.6 2.5 1.3 .5 2.6-.8 2.1-1.7 2.3-1.4-.6-2.9-.9-2.9 1.3-2.5 1.8-2.5-3.6-.8-2.5-2.7-3-1.8-.3-2.1-1.5-2.2-2.4-1.4-1.6-2.2-2.9 .2-2.9 1.5-2.7-1.8-2.9-.4-.5 3.3-1.9 3 .2 3.5 2 1.8 .7 2.5 1.4 2.1 2.9 0 2.8-.3 1.8 2.4z"/>
<path fill="#0036a6" d="M403.1 574.3l1.4 2.6 .4 3.1 2.3 1.9 2.4 1.7-1.3 1.8-.1 3-.2 3-.3 3 .1 2.9 1.6-1.4 2.7-1.7 2.9-1.2 .3-2.5 .7-2.5 .1-2.6 .9-2.4 1-.2-1.8-1-.4-3-1.4-3.1 .7-2.8 1.7-2.7 1.4-2.8-.8-2.1-2.1-1-2.4 1.2-2.4 1.6-2.6 .9-2.8 .6-.6 3zM390.4 631.5l.8 3.2 2.9-.6 1-.1 1.9-2-.7-2.6-1.3-2.4-1.2-2.4-.8-2.6-1.7-2.4-.3-.7-2 2.2-1.6 2.5-1.1 2.9 2.6 2.2zM211.4 449.5l-2.4 2.3-2.8 .3-1.8 2.8-1.6 2.9-.6 3.3-1.3 3 2.3 1.6 2.7 1 1.5 2.8 2.6 1.1 2.7 1 2.5-1.6 1.9-2.3 1.7-2.4 1.7-2.5 2.1-2 1.7 .2 2.2 1.7 1 3.2 1.8 2.2 2.8 1 3.1 .6 2.2-.2 2.1-.6 1.2-3.2 2.9-2-1-2.9 0-2.9 1.4-2.8 .5-2.9-.4-2.9-2.4-1.1-2.3-1.2-1.9-1.9-1.8-2.4-.8-3-1.4-.6-1.6-.1-3.5-.5-3.6-.8-2.7 1.7-2.2 3.5-2.9 1.1-2.1 2.9-.4 3.6z"/>
<path fill="#002b9f" d="M210.5 367.5l-.1 3 1.3 2.9 .4 3 .3 3 .7 2.9-.1 .2 .8 2.7 .3 3 2.3 2.1 1.7 2.3 1 2.7 .7 2.7 3-.5 3.1 .4 1.3-2.9 1.3-3 2.9-1.8 2.1-2.3 2.1-2.4 0-1.2-2.2-2.2-1.7-3-3.5 0-2.9-1 .1-2.9 2.3-2.6-.8-3.1 .3-2.9-2.9-1.4-3.9 .5-2.7-1.8-2-3.3-2.2-.2-1.8 1.1 .2 2.9zM197.6 551.9l-1.8 2.6-1.1 2.9 1.2 2.3 1.7 2-.1 2.8 2.7-.9 2.2-1.8 2.2-1.6 2.7-.9 2.4-1.5 2.7 1.6 2.1 2.4 2.6 1.8 2.2 2.3 .8-3.5 1.7-2.9 2.6-2.3-2.2-2.3-1.7-2.5-1.7-2.6-1.6-2.7-3.5 1.4-3.2 2.1-2.6-1.1-3.6 .7-1.7-2.9-2.2-1.9-1.3 .5-.7 3.1z"/>
<path fill="#001691" d="M362.1 435.3l1.9 1.9 2.1 1.8 3.1 .4 3.1 .7 3.1-.1 3.1 .4 2.7-1.6 1.8-2.5 1.8-2.5 .1-3.4-1.1-3.3-1.5-3-2.3-.9-2.2-1-2.6 .9-2.6 .3-2.6-1-2.9-2.2-.3-3.3-.7-3.2-1.1-3-2.5-2.8-3.7-.6-2.2 2.2-2.5 1.9-2.6 1.5-2.9 1.1-3.2 .3-.1 .2 2.4 1.8 1.9 2.2 1.8 2.4 2.5 1.7 1.9 2.2 1.6 2.6 1.3 2.7 1.4 .2 1.3 2.2zM199.8 599l.3 2.8-3.1 .7-2 2.4 .4 3.4-.1 3.5 1.7 3 1.8 3 2.1 1.2 3-1 3.2-.3 3.1-.4 2-3.2 3-2.3-1.9-3-1.7-3.2 1-2.8 1.6-2.6 1.4-2.6 .3-3.1 .4-2.9-1.9-1.6-2.1-1.4-2.4 2.2-3.4-.1-2.9 1.1-2.7 1.7-.8 2.7zM110.3 425.2l-.7 2.7-1.1 2.6-3-.5-2.9-.8-2.9-.8-2.4 0-.3 2.6-.4 3 .4 3 2.7 2.3 2.3 2.7 .5 .5 .6-1 1.6-2.5 1.5-2.6 2.4-1.9-.5-1.4 .9-1.3 2.8 .1 2.8 .7 2.8-1.2 2.9-.1 2.8 .4 .4-2.8-.3-2.8-.3-2.8 .9-2.8-3.1-.7-3.2 .2-3.1-.4-3.2 .1-.9 2.6z"/>
<path fill="#0038a7" d="M185.6 620.6l-2.8 .9-3 .7-1.5 2.6-.9 3.3-2.8 .9 2.3 2.1 1.6 2.6 1.4 2.7 3.3 1 3.1-1.1 3.2-.4 1.1-1.8 .8-1.9 2.4-2.5 3.3 .4 3-.4 .2-2.7 .2-2.7-.6-2.7 1-2.6-2.1-1.2-1.8-3-1.7-3 .1-3.5-.4-3.4-2-.3-3.2 1.2-2.6 2-2.8 1.7-2.2 2.6 1.7 2.6 .9 2.9zM128.1 483.8l-.6 2.9-.2 3-.3 3-3.2-.3-3.1 .3-3.1 .7-2.1 1.9-2.7 1.3-2 1.5 0 .1 2.2 1.8 2 2-2 2.2-.2 .6-.8 2.2 .4 3-.4 3 .8 3.5 .2 3.5 1.8 3.1 2.2 2.9 .6 .8 1.1-1.2 3.1-1.4 2.1-2.3 1.1-2.9 .9-3.2-1.5-2.2-.7-2.6-1.2-2.4 2.6-2.1 3.1-1.4 1.8-2.9 2-2.6 0-1 2-2.8 3.4-.3 2.9-1.1-.8-3.4 2.2-2.9 .5-3.2-2.7-1.4-3-1-2.2-2.2-2.3-2.1-1.2 .2-1.5 2.6z"/>
<path fill="#004eb2" d="M252.6 300.1l1.7 2.6 1.3 2.7 1.7 1.5 2.7-.4 2.7-.2 2.7 1.5 2.8-.7 1.8-2.6 1.1-2.7 .9-2.9 .1-3.2 1.2-2.7 1.1-2.8-2.7-.7-2.7-1-2.6-1.7-2.7-.5-2.8 0-3 1.1-2.8 .2-.9-3.3 1-3.5-.8-3.3-.8-3.3-3.1-1.7-3.2-1.6-1.9-3.1 2.3-2.3 2.7-1.8 2.2-2.4 1.3-2.9 1-3.3 2.2-2.3 2.1-2.4-1.2-2.9 .8-3-2.9-1.1-3.1-.6-2.7-1.3-1.9-2.8-2.9 1.4-2.3 2.9-3 1.2-3.7-.4 .6 2.8 .4 2.8 .6 2.8 .6 2.7-.3 2.9-.9 2.9 .1 2.8 2.2 1.5 .7 2.5-.5 3.3-2.9 1.5-1.7 2.4-.7 2.4-.9 2.5-.6 2.5 1.1 2.5 2.6 2-.4 2.9 0 2.9 3.1-1.1 3.1-.7 3.2-.2 3.2 0 3.2 .6 1.3 2.8-.5 3.2z"/>
<path fill="#004fb2" d="M315.8 633.7l-.6 3.1 0 3.1 .5 3.1 2.8-.1 2.8-.6 2.6 1.2 2.7 .7 1.8 2.5 2 2.3 .2 .4 2.4-2.4 2.7-.4 2.6-.9 2.7-.7 3.1-.2 2.8-1.2-.2-.5-.4-3.4-1.6-2.5-3-1.5-3.3-1.3-1.4-2.7-1.9 .1-1.7-.6-1.4-.5-.2-1.5-3.2 .2-3.2-.5-3.2-.5-3-1.3-3.3 .4 .1 3.1z"/>
<path fill="#001b94" d="M290.6 476.9l-.5 2.9-1 2.6-1.2 2.6 2.3 1.6 1.4 2.7 2.5 1.3 2.7 .4 2.6 .6 2.5-1.4 2-2.3 2.5-1.3 2.8-.9 1.3 .4 2.7-1.6 3.9 .8 2.5-2.2 2.4-2.3 1-3.6 0-3.7-2.3-2-2.4-1.8-3.1-.3-2.8-1-2.6 1.4-1.7 2.2-1.7 2.3-3.1 .7-3.1 .1-2.8-1.8-2.9-.7-1.5 2.4z"/>
<path fill="#002a9f" d="M164.1 274.9l-.5 3.1 1.5 2.3 2.4 2.6 2.6 2.4 2.8-.7 2.9-.8 2.8 .8 2.7 .8 2.7 1.3 .7-3 1.1-2.7 1.3-2.7 2.4-2.1-.6-1.2 .5-1.3 2.9-1.3 2.2-2.1 1.7-2.7 .9-3 1.5-2.8 1.5-2.8 1.5-2.8 1.6-2.7-2.1-2-1.7-2.6-2.4-1.6-2.1-2-2.8-1.3-1.6-1.7-.5 .7-.5-.8-2.1 1.5-1 3.5-1.5 3-1.3 3.1-3 1.6-3.1 1.5-2.7 1.8-2.7-.4-2.7 .3-2 2.1-1.9 2.2-2.2 1.9-.6 3.1-1.1 2.6 1.5 2.4z"/>
<path fill="#001892" d="M123.9 521.9l-2.1 2.3-3.1 1.4-1.1 1.2 1 1.2 .7 .7 .5 .2 2.8 2.7 3 1.3 3.5-2.7 3.2-.6 1.3 2.6 2 2.5-1.6 3 .1 2.8 3-.5 3.2 .2 2.3-2.2 2.5-1.5 2.3-2-.9-3.1-.9-3.1-1.7-2.7-2.4-2.4-2.4-.6-1.7-2.9-2.1-2.7-3.1-.5-3.1-.8-3.2 .1-.9 3.2z"/>
<path fill="#00108d" d="M404.3 550.2l.2 3.4 2.6 1.1 2.3 1.9 3 .3 2.8 .8 1.7-2.4 .1-.3-2.4-2.2-2.5-2.2-2.1-2.6-1.7-2-1.9-1.9-1.4-2.2 0-.1-2-1.8-2-2-1.6-2.4-2.5-1.5-1.9-2.1-2.1-2.1 0-.1-2 2 1.2 2.9 1.7 2.7 .8 3 1.2 2.8 3.4-1 3 1.9 .9 3.1zM460 420l1.1 2.7 1.9 2.3 2.2 2.3 1.8 2.7 2.7-.1 2.6-.4 2.7 .5 .8-3.1 1.6-2.8 .6-3.1 .3-1.7-13.2-4.5-3.4 .8-2.3 2.5-.4 2.1zM119.9 455.7l-1.6 2.9-1.4 2.8 1.8 1.1 .7 2 2.4-.3 2 1.3 1.9-1.8 2-1.7 1.7-2.1 2-1.7 0-2.9-.3-2.9-1.6-2.5-3.2-1.9-3.3-1.4-.4-3.4 0-3.2 2.4-2.6 1.3-2.9-1.9-1.1-1.3-1.7-2.8-.4-2.9 .1-2.8 1.2-2.8-.7-2.8-.1-.9 1.3 .5 1.4 2.8 1.4 3.2 1 2.1 2 1 3.3 1.3 2.8 2.2 2-1.2 1.2-1.3 1.2 .2 3.1z"/>
<path fill="#003dab" d="M171 503.2l.3 2.8-2.4 1.8-2.7 1.5-1.7 2.6 .4 3.1 .2 3.2 3 .7 2.4 1.7 2.3 1.8 1.6-2.5 3-1.2 3.6-.6 .3-3.7 1.5-2.6 .5 0-.3-3.4 2.5-3 1.3-3.1-1.2-3.4-.4-3.4-1.9-1.7-2.3-1.2-3.1 .3-3.1 .6-2 2.6-2.5 1.7 .6 2.7z"/>
<path fill="#00299d" d="M265 253.6l2.8 1.7 1.8 2.6 .9 3.5 1.9 2.6 3.1-1.2 3.8-.1 2.4-2.2 1.8-3 2.2-2.5 1.9 2.5 2.3 2.2 1.4 3 1.7 2.7 2.3 2.2 2.3 2.2 2.6 1.9 2.4 2 2.3-.8 2.4 .3 1.8-2.5 1.6-2.5 3.3-1 2.3-2 2.1-2.1 .8-3.2 2-2.2-1.6-2.7-.4-3.3-1.2-2.9-1.6-2.7-2.4-2.3-1.9 0-3.3-.2-3.3-.2-3 .7-2.7 2-3 .9-3 .8-2.8 1.5-2.9 1.9-2.3 2.8-1.7-2.2-3.2-1.1-2.6-1.4-.4-3.3-1-2.8-1.6-2.3-2.1-2.9-3.6 0-3.3 .6-2.1 2.6-2.4 2.2-3 1.1-.8 3 1.2 2.9 2.7 1.7z"/>
<path fill="#0035a6" d="M248.3 574.6l1.3 3.2 1.9 1.5 2.5-.4 3.2 1.5 1.8 2.6 1.1 3.3 2.3 2.2 3.4-1.5 2.8-2.2 .3-2.9 2.5-2.6 .7-2.8-2-3-.5-2.9-2.5-.3-2.5-.5-1.4-2.5-1.9-2-1.7-2.2-1.8-2.2-1.7 0-2.6 1.5-3.1 .9-1.3 3.3-2.6 1.5 1.4 3.1z"/>
<path fill="#00289d" d="M248.8 612.9l-1.8 2.3-1.3 2.7 .9 2.1 1.3 1.9 2.7 1.2 2.8 .9 2.8-.6 2.8 .1 2.8-.7 1-2.6 0-2.8 0-2.7 .7-2.7-.8-2.8 .9-.9 .3-2.7 .9-2.6-1-2.8 .3-2.7-.9-2.4-1.6-2-3.3 .4-3.3 .8-3.2 .6-3 1.8 0 2.1-1.3 1.8 2.9 1.9 1.2 3 1.2 3.1-2.6 1.7z"/>
<path fill="#002c9f" d="M255.5 321.2l1.9 2.5 1.2 3.2 2.7 1.7 2.6 1.8 3.3-1.5 2.7-2 .8-3.1-.5-4.1 1.4-2.8 2.3-2.2-.6-3.5-2.3-2.3-2.8-1.8-2.8 .7-2.7-1.5-2.7 .2-2.7 .4-1.7-1.5-3.1-.1-3.1 .6-3.1 .8-3.1 .2-.5 3.1 .7 3.3-1.9 2.6-1.7 2.6 1.5 1.3 1.2 1.5 2.7-.3 2.6-.3 2.8 .2 2.4-1.6z"/>
<g fill="#000586" stroke-width=".4"><ellipse cx="203" cy="154" rx="3.6" ry="2.4" transform="rotate(10 203 154)"/><ellipse cx="195.5" cy="157" rx="1.5" ry="3" transform="rotate(20 195.5 157)"/><ellipse cx="207.5" cy="167" rx="2.4" ry="1.8" transform="rotate(0 207.5 167)"/><ellipse cx="123" cy="236" rx="2.4" ry="0.9" transform="rotate(-15 123 236)"/><ellipse cx="147" cy="228" rx="3" ry="0.9" transform="rotate(-8 147 228)"/><ellipse cx="160" cy="225.5" rx="2.6" ry="0.9" transform="rotate(-5 160 225.5)"/><ellipse cx="170" cy="224.5" rx="2.2" ry="0.8" transform="rotate(0 170 224.5)"/><ellipse cx="135" cy="232" rx="2.4" ry="0.9" transform="rotate(-18 135 232)"/></g>
<path d="M201 130l-3.5 5-1.5 6 1.5 7" fill="none" stroke="#000586" stroke-opacity=".6" stroke-width="1.8" stroke-linecap="round"/>
</g>
<path d="M204 212L213 213.6 226 214.6 239 221.6 249.5 235.5 248 236.3 237.6 223.4 225 216.6 211 217.2 204 218Z" fill="#dde2e8"/>
<circle cx="538.3" cy="669.8" r="9.4" fill="#222"/><rect x="536.7" y="667.6" width="3.4" height="7.6" fill="#fff"/><rect x="535.4" y="667.6" width="3" height="1.6" fill="#fff"/><rect x="535.2" y="673.8" width="6.4" height="1.6" fill="#fff"/><circle cx="538.3" cy="664.4" r="1.9" fill="#fff"/>
</svg></div>
<div class="abs cbar" style="left:586px;top:110px;width:28.5px;height:576.5px"></div>
<div class="abs" style="left:614px;top:109.8px;width:6px;height:1.2px;background:#444"></div>
<span class="abs cbl" style="left:623.2px;top:102.1px">10</span>
<div class="abs" style="left:614px;top:224.9px;width:6px;height:1.2px;background:#444"></div>
<span class="abs cbl" style="left:623.2px;top:217.2px">8</span>
<div class="abs" style="left:614px;top:340.0px;width:6px;height:1.2px;background:#444"></div>
<span class="abs cbl" style="left:623.2px;top:332.3px">6</span>
<div class="abs" style="left:614px;top:455.1px;width:6px;height:1.2px;background:#444"></div>
<span class="abs cbl" style="left:623.2px;top:447.4px">4</span>
<div class="abs" style="left:614px;top:570.2px;width:6px;height:1.2px;background:#444"></div>
<span class="abs cbl" style="left:623.2px;top:562.5px">2</span>
<div class="abs" style="left:614px;top:685.3px;width:6px;height:1.2px;background:#444"></div>
<span class="abs cbl" style="left:623.2px;top:677.6px">0</span>
<span class="abs cbt" style="left:645.1px;top:399.5px">Neuinfektionen pro 100.000 Einwohner und Tag</span>
<div class="card" style="left:0;top:719px;width:665px;height:760px"></div>
<div class="cardhead" style="left:1px;top:720px;width:663px;height:144.5px"></div>
<span class="t lbl" style="letter-spacing:-0.043px;left:28px;top:741.2px">Wähle Landkreis:</span>
<div class="dd" style="left:28px;top:778.5px;width:609px;height:47px"></div>
<span class="t ddt" style="letter-spacing:-0.057px;left:43px;top:791.3px">Aachen (StädteRegion)</span>
<svg class="abs" style="left:584px;top:795.3px" width="44" height="16" viewBox="0 0 44 16"><path d="M3.2 3.2l9.4 9.4M12.6 3.2l-9.4 9.4" stroke="#999" stroke-width="1.5" fill="none"/><path d="M26.5 5.2h12l-6 6.2z" fill="#999"/></svg>
<div class="navline" style="left:28px;top:967px;width:609px"></div>
<div class="tabact" style="left:28px;top:914px;width:130px;height:54px"></div>
<span class="t tab tact" style="letter-spacing:0.911px;left:49px;top:929px">geglättet</span>
<span class="t tab tin" style="letter-spacing:0.825px;left:180.4px;top:929px">ungeglättet</span>
<div class="inner" style="left:28px;top:990px;width:609px;height:480px"></div>
<div class="btn" style="left:56.2px;top:1018px;width:139.7px;height:49px"></div>
<span class="t btnt" style="letter-spacing:0.325px;left:73.7px;top:1031px">Vergrößern</span>
<div class="abs" style="left:40px;top:1070px;width:580px;height:262px"><svg width="580" height="262" viewBox="40 1070 580 262" style="display:block;overflow:visible">
<defs><clipPath id="cp0"><rect x="85.5" y="1076.25" width="506.4" height="196.25"/></clipPath></defs>
<rect x="85.5" y="1076.25" width="506.4" height="196.25" fill="#e5e5e5"/>
<path d="M85.5 1266.9H591.9M85.5 1243.3H591.9M85.5 1219.8H591.9M85.5 1196.2H591.9M85.5 1172.6H591.9M85.5 1149.1H591.9M85.5 1125.5H591.9M85.5 1101.9H591.9M85.5 1078.3H591.9M85.5 1076.25V1272.5M169.9 1076.25V1272.5M254.3 1076.25V1272.5M338.7 1076.25V1272.5M423.1 1076.25V1272.5M507.5 1076.25V1272.5M591.9 1076.25V1272.5" stroke="#fff" stroke-width="1" fill="none" clip-path="url(#cp0)"/>
<path d="M85.5 1244.1 89.7 1243.9 93.9 1243.5 98.2 1243.1 102.4 1242.7 106.6 1242.3 110.8 1241.9 115.0 1241.4 119.3 1241.0 123.5 1240.5 127.7 1239.9 131.9 1239.4 136.1 1239.2 140.4 1239.4 144.6 1240.0 148.8 1240.6 153.0 1240.3 157.2 1239.1 161.5 1237.1 165.7 1235.0 169.9 1233.6 174.1 1233.0 178.3 1233.0 182.6 1233.0 186.8 1233.0 191.0 1232.7 195.2 1232.3 199.4 1231.7 203.7 1231.1 207.9 1230.4 212.1 1229.6 216.3 1228.7 220.5 1227.6 224.8 1226.5 229.0 1225.4 233.2 1224.7 237.4 1224.3 241.6 1224.1 245.9 1223.9 250.1 1223.7 254.3 1222.9 258.5 1221.5 262.7 1219.5 267.0 1217.4 271.2 1215.4 275.4 1213.3 279.6 1211.3 283.8 1209.4 288.1 1207.8 292.3 1206.7 296.5 1205.8 300.7 1204.9 304.9 1204.0 309.2 1203.1 313.4 1202.1 317.6 1200.8 321.8 1199.4 326.0 1197.8 330.3 1196.2 334.5 1194.6 338.7 1192.8 342.9 1191.0 347.1 1189.1 351.4 1187.3 355.6 1185.4 359.8 1183.6 364.0 1181.7 368.2 1179.9 372.5 1178.0 376.7 1176.2 380.9 1174.1 385.1 1171.8 389.3 1169.2 393.6 1166.5 397.8 1163.8 402.0 1161.0 406.2 1158.3 410.4 1155.6 414.7 1152.9 418.9 1150.1 423.1 1147.4 427.3 1144.7 431.5 1141.2 435.8 1136.9 440.0 1131.8 444.2 1126.8 448.4 1121.7 452.6 1116.6 456.9 1111.5 461.1 1106.5 465.3 1101.4 469.5 1095.8 473.7 1089.5 478.0 1082.7 482.2 1076.2 486.4 1070.1 490.6 1065.0 494.8 1060.9 499.1 1057.5 503.3 1054.2 507.5 1050.8 511.7 1047.5 515.9 1044.2 520.2 1040.8 524.4 1037.5 528.6 1034.1 532.8 1030.8 537.0 1027.5 541.3 1024.1 545.5 1020.8 549.7 1017.5 553.9 1014.1 558.1 1010.8 562.4 1007.4 566.6 1004.1 570.8 1000.8 575.0 997.4 579.2 994.1 583.5 990.7 587.7 987.4 591.9 985.2 591.9 1252.6 587.7 1252.4 583.5 1252.1 579.2 1251.7 575.0 1251.4 570.8 1251.2 566.6 1251.1 562.4 1250.9 558.1 1250.8 553.9 1250.8 549.7 1250.9 545.5 1251.1 541.3 1251.3 537.0 1251.6 532.8 1251.8 528.6 1252.0 524.4 1252.4 520.2 1252.9 515.9 1253.5 511.7 1254.1 507.5 1254.5 503.3 1254.8 499.1 1255.0 494.8 1255.2 490.6 1255.4 486.4 1255.6 482.2 1255.8 478.0 1256.1 473.7 1256.4 469.5 1256.8 465.3 1257.1 461.1 1257.5 456.9 1257.9 452.6 1258.2 448.4 1258.6 444.2 1259.0 440.0 1259.3 435.8 1259.7 431.5 1260.0 427.3 1260.2 423.1 1260.3 418.9 1260.5 414.7 1260.6 410.4 1260.7 406.2 1260.9 402.0 1261.0 397.8 1261.1 393.6 1261.3 389.3 1261.4 385.1 1261.5 380.9 1261.7 376.7 1261.8 372.5 1261.9 368.2 1262.1 364.0 1262.2 359.8 1262.3 355.6 1262.5 351.4 1262.6 347.1 1262.8 342.9 1262.9 338.7 1263.0 334.5 1263.1 330.3 1263.1 326.0 1263.1 321.8 1263.1 317.6 1263.2 313.4 1263.2 309.2 1263.4 304.9 1263.5 300.7 1263.7 296.5 1263.8 292.3 1263.9 288.1 1264.1 283.8 1264.2 279.6 1264.4 275.4 1264.5 271.2 1264.7 267.0 1264.8 262.7 1265.0 258.5 1265.1 254.3 1265.2 250.1 1265.3 245.9 1265.3 241.6 1265.3 237.4 1265.3 233.2 1265.3 229.0 1265.3 224.8 1265.3 220.5 1265.3 216.3 1265.3 212.1 1265.3 207.9 1265.3 203.7 1265.3 199.4 1265.3 195.2 1265.3 191.0 1265.3 186.8 1265.3 182.6 1265.3 178.3 1265.3 174.1 1265.3 169.9 1265.3 165.7 1265.3 161.5 1265.3 157.2 1265.3 153.0 1265.3 148.8 1265.3 144.6 1265.3 140.4 1265.3 136.1 1265.3 131.9 1265.3 127.7 1265.3 123.5 1265.3 119.3 1265.3 115.0 1265.3 110.8 1265.3 106.6 1265.3 102.4 1265.3 98.2 1265.3 93.9 1265.3 89.7 1265.3 85.5 1265.3Z" fill="#a5c161" fill-opacity="0.25" clip-path="url(#cp0)"/>
<path d="M85.5 1254.8 89.7 1254.6 93.9 1254.2 98.2 1253.9 102.4 1253.6 106.6 1253.3 110.8 1253.0 115.0 1252.7 119.3 1252.3 123.5 1252.0 127.7 1251.7 131.9 1251.4 136.1 1251.1 140.4 1250.7 144.6 1250.4 148.8 1250.1 153.0 1249.8 157.2 1249.5 161.5 1249.2 165.7 1248.8 169.9 1248.5 174.1 1248.3 178.3 1248.0 182.6 1247.7 186.8 1247.5 191.0 1247.2 195.2 1247.0 199.4 1246.7 203.7 1246.4 207.9 1246.2 212.1 1245.9 216.3 1245.7 220.5 1245.4 224.8 1245.1 229.0 1244.9 233.2 1244.6 237.4 1244.4 241.6 1244.1 245.9 1243.8 250.1 1243.6 254.3 1243.2 258.5 1242.5 262.7 1241.8 267.0 1241.0 271.2 1240.2 275.4 1239.4 279.6 1238.6 283.8 1237.9 288.1 1237.1 292.3 1236.5 296.5 1235.8 300.7 1235.2 304.9 1234.6 309.2 1234.0 313.4 1233.3 317.6 1232.5 321.8 1231.7 326.0 1230.8 330.3 1229.9 334.5 1229.0 338.7 1228.0 342.9 1227.1 347.1 1226.0 351.4 1224.9 355.6 1223.7 359.8 1222.4 364.0 1221.2 368.2 1220.0 372.5 1218.8 376.7 1217.5 380.9 1216.3 385.1 1215.1 389.3 1213.9 393.6 1212.6 397.8 1211.4 402.0 1210.2 406.2 1209.0 410.4 1207.7 414.7 1206.5 418.9 1205.3 423.1 1204.1 427.3 1202.8 431.5 1201.4 435.8 1199.7 440.0 1197.9 444.2 1196.0 448.4 1194.1 452.6 1192.2 456.9 1190.4 461.1 1188.5 465.3 1186.6 469.5 1184.7 473.7 1182.9 478.0 1181.0 482.2 1179.1 486.4 1177.3 490.6 1175.4 494.8 1173.5 499.1 1171.6 503.3 1169.8 507.5 1167.9 511.7 1166.0 515.9 1163.5 520.2 1160.4 524.4 1156.7 528.6 1153.1 532.8 1149.4 537.0 1145.7 541.3 1141.9 545.5 1138.1 549.7 1134.2 553.9 1130.4 558.1 1126.5 562.4 1122.7 566.6 1118.9 570.8 1115.3 575.0 1111.9 579.2 1108.9 583.5 1106.2 587.7 1104.0 591.9 1102.4 591.9 1218.4 587.7 1218.6 583.5 1218.9 579.2 1219.6 575.0 1220.7 570.8 1222.2 566.6 1223.6 562.4 1224.8 558.1 1225.6 553.9 1226.4 549.7 1227.1 545.5 1227.8 541.3 1228.6 537.0 1229.3 532.8 1230.0 528.6 1230.8 524.4 1231.5 520.2 1232.2 515.9 1232.9 511.7 1233.6 507.5 1234.2 503.3 1234.8 499.1 1235.5 494.8 1236.1 490.6 1236.7 486.4 1237.3 482.2 1238.0 478.0 1238.6 473.7 1239.2 469.5 1239.8 465.3 1240.5 461.1 1241.1 456.9 1241.7 452.6 1242.3 448.4 1243.0 444.2 1243.6 440.0 1244.2 435.8 1244.8 431.5 1245.4 427.3 1245.8 423.1 1246.2 418.9 1246.5 414.7 1246.9 410.4 1247.3 406.2 1247.6 402.0 1248.0 397.8 1248.3 393.6 1248.7 389.3 1249.1 385.1 1249.4 380.9 1249.8 376.7 1250.2 372.5 1250.5 368.2 1250.9 364.0 1251.2 359.8 1251.6 355.6 1252.0 351.4 1252.3 347.1 1252.7 342.9 1253.0 338.7 1253.4 334.5 1253.8 330.3 1254.3 326.0 1254.7 321.8 1255.2 317.6 1255.6 313.4 1256.0 309.2 1256.3 304.9 1256.6 300.7 1256.9 296.5 1257.2 292.3 1257.4 288.1 1257.7 283.8 1258.0 279.6 1258.3 275.4 1258.6 271.2 1258.9 267.0 1259.2 262.7 1259.5 258.5 1259.8 254.3 1260.0 250.1 1260.2 245.9 1260.3 241.6 1260.4 237.4 1260.5 233.2 1260.6 229.0 1260.7 224.8 1260.8 220.5 1260.9 216.3 1261.0 212.1 1261.1 207.9 1261.2 203.7 1261.3 199.4 1261.4 195.2 1261.5 191.0 1261.7 186.8 1261.8 182.6 1261.9 178.3 1262.0 174.1 1262.1 169.9 1262.2 165.7 1262.2 161.5 1262.3 157.2 1262.3 153.0 1262.4 148.8 1262.4 144.6 1262.5 140.4 1262.5 136.1 1262.6 131.9 1262.6 127.7 1262.7 123.5 1262.7 119.3 1262.8 115.0 1262.8 110.8 1262.8 106.6 1262.9 102.4 1262.9 98.2 1263.0 93.9 1263.0 89.7 1263.1 85.5 1263.1Z" fill="#92b747" fill-opacity="0.4" clip-path="url(#cp0)"/>
<path d="M85.5 1259.1 89.7 1259.0 93.9 1258.8 98.2 1258.6 102.4 1258.4 106.6 1258.2 110.8 1258.0 115.0 1257.8 119.3 1257.6 123.5 1257.4 127.7 1257.2 131.9 1257.0 136.1 1256.8 140.4 1256.6 144.6 1256.4 148.8 1256.1 153.0 1255.9 157.2 1255.6 161.5 1255.4 165.7 1255.1 169.9 1254.9 174.1 1254.6 178.3 1254.4 182.6 1254.1 186.8 1253.8 191.0 1253.5 195.2 1253.2 199.4 1253.0 203.7 1252.7 207.9 1252.3 212.1 1252.0 216.3 1251.7 220.5 1251.4 224.8 1251.1 229.0 1250.7 233.2 1250.4 237.4 1250.0 241.6 1249.7 245.9 1249.3 250.1 1248.9 254.3 1248.5 258.5 1248.1 262.7 1247.7 267.0 1247.2 271.2 1246.7 275.4 1246.3 279.6 1245.8 283.8 1245.3 288.1 1244.8 292.3 1244.3 296.5 1243.8 300.7 1243.2 304.9 1242.7 309.2 1242.1 313.4 1241.6 317.6 1241.0 321.8 1240.4 326.0 1239.8 330.3 1239.1 334.5 1238.5 338.7 1237.8 342.9 1237.1 347.1 1236.4 351.4 1235.6 355.6 1234.8 359.8 1234.0 364.0 1233.2 368.2 1232.3 372.5 1231.4 376.7 1230.5 380.9 1229.5 385.1 1228.6 389.3 1227.6 393.6 1226.6 397.8 1225.6 402.0 1224.5 406.2 1223.4 410.4 1222.3 414.7 1221.1 418.9 1219.9 423.1 1218.7 427.3 1217.5 431.5 1216.2 435.8 1215.0 440.0 1213.7 444.2 1212.3 448.4 1211.0 452.6 1209.6 456.9 1208.1 461.1 1206.7 465.3 1205.2 469.5 1203.6 473.7 1202.1 478.0 1200.4 482.2 1198.8 486.4 1197.1 490.6 1195.3 494.8 1193.6 499.1 1191.7 503.3 1189.8 507.5 1187.9 511.7 1186.0 515.9 1183.9 520.2 1181.7 524.4 1179.4 528.6 1177.0 532.8 1174.6 537.0 1172.1 541.3 1169.5 545.5 1166.8 549.7 1164.1 553.9 1161.3 558.1 1158.5 562.4 1155.6 566.6 1152.7 570.8 1149.6 575.0 1146.5 579.2 1143.3 583.5 1140.1 587.7 1136.7 591.9 1133.3" stroke="#2f8f1f" stroke-width="1.7" fill="none" clip-path="url(#cp0)"/>
<path d="M431.5 1090.25V1272.5" stroke="#9ccff5" stroke-width="1.5" stroke-dasharray="5 2.5" fill="none"/>
<path d="M515.9 1090.25V1272.5" stroke="#1e90ff" stroke-width="1.9" fill="none"/>
<circle cx="85.5" cy="1262.2" r="1.45" fill="#000"/>
<circle cx="102.4" cy="1257.5" r="1.45" fill="#000"/>
<circle cx="119.3" cy="1266.9" r="1.45" fill="#000"/>
<circle cx="136.1" cy="1248.0" r="1.45" fill="#000"/>
<circle cx="153.0" cy="1248.0" r="1.45" fill="#000"/>
<circle cx="169.9" cy="1250.4" r="1.45" fill="#000"/>
<circle cx="186.8" cy="1252.8" r="1.45" fill="#000"/>
<circle cx="203.7" cy="1262.2" r="1.45" fill="#000"/>
<circle cx="220.5" cy="1257.5" r="1.45" fill="#000"/>
<circle cx="237.4" cy="1266.9" r="1.45" fill="#000"/>
<circle cx="254.3" cy="1255.1" r="1.45" fill="#000"/>
<circle cx="271.2" cy="1255.1" r="1.45" fill="#000"/>
<circle cx="288.1" cy="1238.6" r="1.45" fill="#000"/>
<circle cx="304.9" cy="1238.6" r="1.45" fill="#000"/>
<circle cx="321.8" cy="1217.4" r="1.45" fill="#000"/>
<circle cx="338.7" cy="1252.8" r="1.45" fill="#000"/>
<circle cx="355.6" cy="1252.8" r="1.45" fill="#000"/>
<circle cx="372.5" cy="1215.0" r="1.45" fill="#000"/>
<circle cx="389.3" cy="1226.8" r="1.45" fill="#000"/>
<circle cx="406.2" cy="1210.3" r="1.45" fill="#000"/>
<circle cx="423.1" cy="1203.3" r="1.45" fill="#000"/>
<circle cx="440.0" cy="1219.8" r="1.45" fill="#000"/>
<circle cx="456.9" cy="1262.2" r="1.45" fill="#000"/>
<circle cx="473.7" cy="1266.9" r="1.45" fill="#000"/>
<circle cx="490.6" cy="1231.5" r="1.45" fill="#000"/>
<circle cx="507.5" cy="1266.9" r="1.45" fill="#000"/>
<path d="M430.7 1072.5H470.5V1068.7L483.5 1081.3L470.5 1093.8999999999999V1090.2H430.7Z" fill="#93d0fb" stroke="#a6d9fb" stroke-width=".8"/><text x="434.7" y="1084.9" font-family="Liberation Serif,serif" font-size="12" fill="#1f3f66" textLength="37.5" lengthAdjust="spacingAndGlyphs">Nowcast</text>
<path d="M515.1 1072.5H554.9V1068.7L567.9 1081.3L554.9 1093.8999999999999V1090.2H515.1Z" fill="#1e90ff" stroke="#1e90ff" stroke-width=".8"/><text x="519.1" y="1084.9" font-family="Liberation Serif,serif" font-size="12" fill="#1f3f66" textLength="37" lengthAdjust="spacingAndGlyphs">Forecast</text>
<path d="M81.9 1266.9H85.5M81.9 1243.3H85.5M81.9 1219.8H85.5M81.9 1196.2H85.5M81.9 1172.6H85.5M81.9 1149.1H85.5M81.9 1125.5H85.5M81.9 1101.9H85.5M81.9 1078.3H85.5M85.5 1272.5V1276.3M169.9 1272.5V1276.3M254.3 1272.5V1276.3M338.7 1272.5V1276.3M423.1 1272.5V1276.3M507.5 1272.5V1276.3M591.9 1272.5V1276.3" stroke="#666" stroke-width=".9" fill="none"/>
<text x="80.1" y="1269.9" font-family="Liberation Serif,serif" font-size="9" fill="#777" text-anchor="end">0</text>
<text x="80.1" y="1246.3" font-family="Liberation Serif,serif" font-size="9" fill="#777" text-anchor="end">10</text>
<text x="80.1" y="1222.8" font-family="Liberation Serif,serif" font-size="9" fill="#777" text-anchor="end">20</text>
<text x="80.1" y="1199.2" font-family="Liberation Serif,serif" font-size="9" fill="#777" text-anchor="end">30</text>
<text x="80.1" y="1175.6" font-family="Liberation Serif,serif" font-size="9" fill="#777" text-anchor="end">40</text>
<text x="80.1" y="1152.1" font-family="Liberation Serif,serif" font-size="9" fill="#777" text-anchor="end">50</text>
<text x="80.1" y="1128.5" font-family="Liberation Serif,serif" font-size="9" fill="#777" text-anchor="end">60</text>
<text x="80.1" y="1104.9" font-family="Liberation Serif,serif" font-size="9" fill="#777" text-anchor="end">70</text>
<text x="80.1" y="1081.3" font-family="Liberation Serif,serif" font-size="9" fill="#777" text-anchor="end">80</text>
<text transform="translate(103.3 1284.8) rotate(-45)" font-family="Liberation Serif,serif" font-size="10.4" fill="#666" text-anchor="end">28.08.2020</text>
<text transform="translate(187.7 1284.8) rotate(-45)" font-family="Liberation Serif,serif" font-size="10.4" fill="#666" text-anchor="end">02.09.2020</text>
<text transform="translate(272.1 1284.8) rotate(-45)" font-family="Liberation Serif,serif" font-size="10.4" fill="#666" text-anchor="end">07.09.2020</text>
<text transform="translate(356.5 1284.8) rotate(-45)" font-family="Liberation Serif,serif" font-size="10.4" fill="#666" text-anchor="end">12.09.2020</text>
<text transform="translate(440.9 1284.8) rotate(-45)" font-family="Liberation Serif,serif" font-size="10.4" fill="#666" text-anchor="end">17.09.2020</text>
<text transform="translate(525.3 1284.8) rotate(-45)" font-family="Liberation Serif,serif" font-size="10.4" fill="#e8343a" text-anchor="end">22.09.2020</text>
<text transform="translate(609.7 1284.8) rotate(-45)" font-family="Liberation Serif,serif" font-size="10.4" fill="#666" text-anchor="end">27.09.2020</text>
<text transform="translate(65 1174.9) rotate(-90)" font-family="Liberation Serif,serif" font-size="10.4" fill="#777" text-anchor="middle" textLength="150" lengthAdjust="spacingAndGlyphs">Fallzahlen/Tag nach Meldedatum</text>
<rect x="87.7" y="1078.8" width="116.6" height="66.6" rx="2" fill="#ebebeb" fill-opacity=".8"/>
<circle cx="105.0" cy="1089.8" r="1.45" fill="#000"/>
<path d="M94.10000000000001 1104.8H115.7" stroke="#2f8f1f" stroke-width="1.7"/>
<rect x="94.60000000000001" y="1116.7" width="20.2" height="6.9" fill="#92b747" fill-opacity=".5"/>
<rect x="94.60000000000001" y="1131.9" width="20.2" height="6.9" fill="#a5c161" fill-opacity=".27"/>
<text x="123.7" y="1093.2" font-family="Liberation Serif,serif" font-size="11" fill="#333" textLength="49" lengthAdjust="spacingAndGlyphs">Daten RKI</text>
<text x="123.7" y="1108.4" font-family="Liberation Serif,serif" font-size="11" fill="#333" textLength="30" lengthAdjust="spacingAndGlyphs">Modell</text>
<text x="123.7" y="1123.6" font-family="Liberation Serif,serif" font-size="11" fill="#333" textLength="77.5" lengthAdjust="spacingAndGlyphs">25%-75%-Quantil</text>
<text x="123.7" y="1139" font-family="Liberation Serif,serif" font-size="11" fill="#333" textLength="72.5" lengthAdjust="spacingAndGlyphs">5%-95%-Quantil</text>
</svg></div>
<span class="t body" style="letter-spacing:0.224px;left:54.5px;top:1322.2px">Es gibt eine deutliche Tendenz von <b>steigenden</b></span><span class="t body" style="letter-spacing:0.269px;left:54.2px;top:1353.5px">Infektionszahlen mit einer Wahrscheinlichkeit von grösser</span><span class="t body" style="letter-spacing:0.648px;left:55.2px;top:1384.8px"><b>95%</b>.</span>
</div></div>
<div class="panel" style="left:768px;width:663.5px"><div class="pin" style="left:0">
<div class="navline" style="left:0;top:74px;width:665px"></div>
<span class="t tab tin" style="letter-spacing:0.347px;left:21.2px;top:34.7px">Meldedaten RKI</span>
<div class="tabact" style="left:195.75px;top:19px;width:191.75px;height:56px"></div>
<span class="t tab tact" style="letter-spacing:0.032px;left:217px;top:34.7px">Nowcast BSTIM</span>
<span class="t tab tin" style="letter-spacing:0.436px;left:409px;top:34.7px">Interaktionskernel</span>
<div class="map" style="left:0.5px;top:97px;width:562.5px;height:602.5px"><svg width="562.5" height="602.5" viewBox="5.5 97 562.5 602.5" style="display:block">
<rect x="0" y="90" width="580" height="620" fill="#fafaf8"/>
<path d="M5 97l4-.2 4-.1 3.9 .5 4-.6 4 .4 4-.1 4-.3 3.9 .4 4-.5 4 .4 4-.3 4 0 3.9 .3 4 .4 4-.7 4 .1 4 .4 3.9 .3 4-.3 4-.2 4 .6 4-1 3.9 .9 4-.6 4-.2 4 0 3.9 .2 4 .5 4-.6 4 .4 4 0 3.9-.2 4 .1 4-.4 4 0 4 .1 3.9 .5 4-.3 4-.1 4 .3 4-.1 3.9-.2 4 .5 4-.1 4-.5 4 .4 3.9-.1 4 .4 4-.4 1.5 4.4 2 4.2 1.5 4.4-1.3 4.2 0 4.5-1.2 4.3-1.4 3-1.8 2.9-1.3 3.1 2.7 2.3 2.3 2.7 4 4 1.5 4 1.5 4 1.9 3.8 1.1 4.2 2 5 1.3 3.1 1.7 2.9-1 5-2 5-4 2-4 2 3 4 4 2 4 2 2 5 2 5-2 3-2 4 3 3 4 3-3.5 .2-3.5 .8-3 .9-3 1.1-5 1-2 5-1.4 2.9-.6 3.1 0 5-1 5-4-1-3 0-3 3-2 3-3-4-2-4-2-4-3-4-3.7 .4-3.8-.1-3.8 .4-3.7 .3-3.8 .4-3.7 .6-3.8 .2-3.7 .8-4 2-4 3-1.4 3.4-.6 3.6-.5 3-.5 3-4.5-1.2-4.5-.8-4.3 .8-4.4-.3-4.3 .5-3.5 .1-3.5-.1-3.5 .4-3.5 .6-3.6 1.2-3.7 .9-3.7 .9-4.6 1.8-4.4 2.2-2.4 2.7-2.9 2-2.7 2.3-2.2 4.2-2.8 3.8-.3 3.4-.6 3.4-1.1 3.2 1.1 3.4 1.9 3.1 1 3.5 2.2 3.2 1.9 3.4 1.9 3.4-2.3 3.8-1.7 4.2-4.6-.6-4.4-1.4-2.5 3-2.5 3-1.5-3.5-1.5-3.5 .4-5-.4-5-1.7-3.7-2.3-3.3-3.5-2-3.9-1.1-3.6-1.9-.9 3.5-1.1 3.5-.9 3.4-1.5 3.2-.6 3.4-1.8 3.9-.5 4.2-1.7 3.9-1.4 4.4-1.7 4.4-1.9 4.2-1.8 3.5-2.2 3.2-2 3.3-3.6 3.4-3.4 3.6-2.8 2.7-3.2 2.3-4 2-.5-4 .4-4 0-4 .2-4 .4-4-.3-4-.2-4 .1-4 .1-4-.6-4 .8-4-.1-4 .1-4-.1-4-.4-4 0-4-.3-4 .5-4-.5-4 0-4 .1-4 0-4 .1-4-.2-4-.1-4 .2-4-.1-4 .3-4-.4-4 .9-4-.3-4-.5-4 .2-4 0-4 .1-4-.3-4 .7-4 .2-4-.5-4 0-4-.4-4 0-4 .2-4 0-4 .5-4-.6-4-.2-4 1-4-.5-4-.4-4 .4-4-.5-4 .5-4 .5-4-.1-4-.2-4-.4-4 .1-4-.2-4 .6-4-.3-4 .3-4zM252 97l4-.3 4 .8 4-.9 4 .6 4-.6 4 .1 4 .8 4-.8 4 .4 4-.1 4 0 4 0 4-.3 4 .6 4-.7 4 .1 4-.2 4 .3 4 .1 4 .5 4-.5 4-.3 4 .2 4 .7 4-.9 4 .5 4-.2 4 .3 4-.4 4 .4 4-.2 4 .1 4 .3 4-.3 4-.5 4 0 4 .8 4-.4 4-.3 4 .7 4-.3 4 .1 4 .2 4-.6 4 .1 4 .5 4-.8 4 .7 4-.7 4 .6 4 0 4 .2 4-.1 4-.3 4-.3 4 0 4 .3 4 0 4-.4 4 .8 4-.4 4 .2 4-.5 4 0 4-.2 4 .3 4 0 4 .1 4 0 4 .4 4 .1 4-.7 4 .2 4-.2 4 .5 4 .3 4-.8 4 .6 4-.3 .2 4.1 .3 4-.8 4.1 .5 4 .1 4.1-.2 4.1 .2 4-.2 4.1 0 4.1 0 4-.2 4.1 .3 4.1 .2 4 0 4.1 0 4-.4 4.1-4.3 1.6-4.3 1.9-4.4 1.5-4.1 1.7-3.9 2.3-4 2-2.7 3.4-2.3 3.6-2.9 3.2-2.1 3.8-3.9 1.2-4 .8-4 .6-4.1 .4-4.2 .9-4.3 .5-4.3 .6-4.2 1-3.7 1.9-4 1.2-3.3 2.6-4 1.3-3.9 1.4-3.5 2.4-4 1.1-3.6 2.1-3.2 1.4-3.6 .2-3.2 1.4-3.4 .8-3.4 .7-3.2 1.5-3 0-3.5-1.6-3.5-1.4-3.6-1.2-3.4-1.8-2-5-3-5-3.9-1.5-4.1-.5-3.5-.9-3.5-1.1-3-1-4-4-2.3-2.2-1.7-2.8-2-4-3-4-3.5-1.1-3.5-.9-3.5-.5-3.5-.5-5 0-5 1-1.5 3.5-1.5 3.5-.7 3.6-1.3 3.4-4 3-4 2-5 1-5 2-3.4 .9-3.6 .1-3 .9-3 1.1-4 3-3 4-3 2-4 2-3-1.5-3-1.5-5 1-5 1-5-3 1-5 5-3 2.3-2.3 2.7-1.7 1-5 1-5-2-5-3 1.6-3 1.4-4 2-5 2-4-4-4-4-5-2-5 0-2 3-3 5-1-4-.3-3-.7-3-5-2-3 .3-3 .7 1-3.5 1-3.5 1.9-3.6 2.1-3.4-.1-3 .1-3-2.7-2.3-2.3-2.7-2.2-2.3-1.8-2.7-2-2.5-2-2.5-2.3-3.3-1.7-3.7-1.8-3.6-2.2-3.4 .9-4.3 .5-4.3 .6-4.4 .5-4.4 1.4-4.3zM446 213.5l6 2.5 6-1 5 4-1 7-7 2-5-3-5-4-4-4z" fill="#d4dadc"/>
<path d="M200 97L205 110 202.5 123 198 132 203 137 207 141 210 149 213 157 206 158 198 150 193 138 196 118 195 97Z" fill="#e6eaeb"/>
<path d="M47 272 50 262 60 254 72 249.5 89 245.5 104 242 116 238.5 127 234 139 229 150 226.5 165 224.5 180 224 180 227 165 228 150 230 142 235 139 248 130 246 117 247 103 248 92 251 83 255 75 262 70 270 60 268 52 274Z" fill="#e3e7e9"/>
<path d="M262 141l4.1 0 3.9-1 1.8 3.1 2.2 2.9-2.2 2.3-1.8 2.7-5-3-1.1-3.7zM258 97l4.2-.4 4.2 .6 4.2 0 4.2-.2 4.2-.3 4.2 .7 4.2 0 4.2-.4 4.2 0 4.2 0 1 4.3 .9 4.3 .1 4.4-.8 4-1.3 4-.9 4 1.5 3.2 .2 3.6 1.3 3.2-2.8 3.7-3.2 3.3-3.3 1-3.3 .9-3.4 .1-3.2-1.6-3.4-.7-3.4-.7-2.4-2.7-2.8-2.1-2.8-2.2-2.5-3.4-1.7-3.8-1.8-3.8-1.3-4-1.8-3.9-.9-4.1 .5-3.7-.7-3.6zM300 124l1.5 3.3 2.5 2.7 1.1 3.9 .8 4 .1 4.1-.9 3.3 .6 3.4-.7 3.3-3-2-.8-4 .3-4-.5-4-.4-3.5 .4-3.5-1.1-3.5zM278 146l3.9 1.2 4 .7 4.1 .1-1 4-4.4-1.5-4.6-.5zM320 97l3.9 .3 3.9 .1 4-.8 3.9 1 3.9-1 3.9 .6 3.9-.7 3.9 .8 3.9-.7 4 .6 3.9 .1 3.9-.3 1.2 3.9 1.9 3.6 1 3.9 1.9 3.6 .4 3.7 2 3.2 .6 3.6 1 3.5-1.5 3.9-.5 4.1-4.6 .7-4.4 1.3-4.5 2.1-4.5 1.9-3.5-2.1-2.9-3-3.6-1.9-3.3 2.2-3.8 1-3.6 1.7-3.3 2.1-3.4-1.4-3.2-1.9-3.3-1.7-3.1-2-2.3-3.4-2.5-3.2-2.2-3.4 1.5-3.9 1-4 .3-4.2 1.2-3.9 1.5-3.2 0-3.6zM313 140l3.5-.9 3.6-.1 3.5-.8 3.4-1.2 4.1 .4 3.8 1.5 4.1 .5 4 .6 1.8 3.1 .4 3.8 1.8 3.1-3.4 2-3.5 1.7-3.6 1.6-3.5 1.7-4-1.1-4.1-.5-3.8-1.6-4.1-.8-1-4.5-1.7-4.2zM347 140l3.3 1 3.4 0 3.3 1 .7 3.6-.2 3.7 .5 3.7-1.2 3.6-2.4 2.9-1.4 3.5-2.3-3.2-2.7-2.8-.8-4.2 .5-4.3-.4-4.3zM389 97l3.9 .2 4 0 3.9 .3 4-.9 3.9-.1 3.9 .9 4-.6 3.9 0 3.9 .6 4-.8 3.9 .9 3.9-.5 4-.5 3.9 1 4-.4 3.9-.1-2.1 3.3-2.9 2.7-3.4-.9-3.6-.1-3.8-.3-3.7 0-3.7 .1-3.8 .2-3.8 1.5-3.2 2.5-3.5 .8-3.5-.3-3.8-2-4.2-1-4-1.2-4-.8-3.2-2zM472 112l3.2 1.3 3 1.6 2.8 2.1 2.9 2.8 3.4 2.2 2.7 3-1.1 3.7-1.9 3.3-4.5-1-4.5-1-4-1.9-4-2.1 .2-3.5 .7-3.5 1-3.4zM312 170l4-3 6 1 2 6-4 3-6-1zM402.5 183.3l1.5-10.3 2-5 2-10.5 3.5-2 3.5 .5 1 7-3 5 5 5 2-8 6-1 .7 7.7-3.7 6.3 5 3-5 4-8 3-8.3-1.3z" fill="#fafaf8"/>
<path d="M47 270L49 263M52 259L60 254.5M64 252.5L72 250M77 248.5L89 246M94 244.5L104 242.5M109 241L116 239M120 237L127 234.5" stroke="#fafaf8" stroke-width="2.2" stroke-linecap="round" fill="none"/>
<path d="M300 100L303 116 300 128M356 138L352 146M262 128 268 137" stroke="#d4dadc" stroke-width="1.6" fill="none"/>
<path d="M5 391l5-1 3.8-.4 3.9 .3 3.7-1.6 3.9 0 3.9 .8 3.8-1.1 4 .6 4-.5 4 .9 3.4 1.1 3 2.1 3.6 .8 4.3 1.2 4.4 .6 3.9 2.6 4.4 .6 4.1 1.7 3.3 3 3.8 2.2 3.8 2.1 2.1 3.3 1.3 3.7 2.6 3M102 477l-2.9 1.8-2.9 1.9-3.2 1.3-1 4.2-2 3.8-2.1 3.8-.9 4.2 .9 3.4 .8 3.4 1.3 3.2 .9 4 1.3 4 .8 4 3.6 1.4 3.7 .7 3.7 .9 3.7 .4 3.6-.1 3.7-.3M5 465l4 0 3.6 1.9 4 .7 3.4 2.4 4.4 .6 4.4 1 4.2 1.4 2.7 3.3 3.1 2.9 3.2 2.8 2.2 3.1 3.6 1.8 2.2 3.1 2.6 2.4 2.9 2.1 2.3 2.7 2.2 2.8 3.3 2.3 3.8 1.7 2.9 3 4.4 .8 4 1.9 4.3 1.1 4.3 1.2M167 647l-3.1 2.3-3.8 .6-3.1 2.4-3.6 1.2-3.4 1.5-4.1 1.1-4.1 1.3-3.8 1.9-4 1.3-4 1.4-2.5 3.1-3.4 2-3 2.6-3.1 2.3-3.1 2.3-2.3 3-2.6 2.7-3 3.1-2.3 3.6-2.7 3.3-1.9 3.6-3.2 2.7-1.9 3.7M208 632l2.1 3.9 1.9 4.1 4.3 1.7 4.2 2.2 4.5 1.1 3.9 .8 3.7 1.3 3.9 .9 3.5 2 3.8-.6 3.7-.2 3.7 .3 3.8 .5 4.3 0 4.4 .8 4.3-.8M270 657l-1.3 3.8-2 3.5-1.7 3.7 1.6 3.8 .7 4.1 .7 4.1 2.9 2.9 2.4 3.3 1.7 3.8-1.4 3.5-1.4 3.4-2.2 3.1M432 570l4.1 2.2 4.6 1 4.3 1.8 4.4-1.2 4.4-.9 4.2-1.9 3.8-2.4 4.2-1.6 4-2 3.3 1.8 3 2.2 3.7 1 3.5-.1 3.3 .8 3.2 1.3 3.2-2.6 3.8-1.6 3-2.8 3.6-1.2 2.8-2.7 3.6-1.1 3 2.6 3.6 1.4 3.4 2 3.1 2 3.3 1.3 3.6 .7 3.1-1.6 3.8 .3 3.1-1.7 3.3-.7 3.3-1.2 3.4-.1 3.6 2 3.9 1.4 3.1 2.9 3.8 1.8 3.6 1.9M475 430l3.9-2.2 4.1-1.8 3.5-.6 3.5-.4 2.7 2.6 2.8 2.6 2.5 2.8 3.5 3.5 3.5 3.5 3.9-1.7 4.1-1.3 3.3-1.7 3.7-.3 2.8 2.6 3.1 2.2 2.1 3.2 3.9 3.1 3.1 3.9 4.2 2.7 3.8 3.3 3.1 2.6 3.9 1.4 3.3-1 3.4-.9 3.3-1.1 4.2-.4 3.8-1.6M540 567l1.9 3.3 2.6 2.9 1.2 3.7 2.3 3.1-.4 3.8-1.8 3.6 .4 3.9-1.2 3.7 1.4 3.9 2.6 3.4 .6 4.3 2.4 3.4-1.6 3.6 .2 4.1-1.8 3.5-.8 3.8 2.4 3.5 1.6 4 1.5 4 2.5 3.5-.5 3.9-1.1 3.7-.7 3.8-1.7 3.6 2.6 3.4 1.4 4.1 2.5 3.5 1.5 4 3.1 3 2 3.9 2.9 3.1M398 650l2.9 2.9 1.9 3.7 2.2 3.4 4 1.5 3.3 2.9 3.9 1.6 3.8 2 4.1 .1 4 .8 3.8 1.9 4.2-.1 3.9 1.3 3.9 1.9 4 1.5 4.1 1.4 3.8 2.1 4.2 1.1 3.3 1.8 3.3 1.6 3.5 1.5 3.4 1.4 3.4 1.5 3.1 2.2 3.1 1.9 3 1.9 2.7 2.6 3.4 1.3 2.8 2.3" stroke="#efdcdc" stroke-width="1.4" fill="none" stroke-linejoin="round"/>
<path d="M70 270l2.3 2.8 1.6 3.3 2.5 2.6 1.1 3.6 2.5 2.7 4 .9 4.1 .8 3.7 2.1 4.1 .8 4.1 .4 3.4-1.4 2.8-2.3 2.5-2.8 3.2-1.7 3.1-1.8 3.9 .8 3.4 2.3 4.3-.3 3.4 2.2 2.4 2.9 3.5 1.6 2.6 2.7 2.5 2.8M78 300l3.4 2 3.3 2.1 3.2 2.4 3.9 1.2 3.2 2.3 3.3 2.7 2.4 3.6 3.3 2.7 3.2 2.8 2.8 3.2 4.3 1.1 4.3 1.1 4.3 .9 4.1 1.9M33 340l4 2.1 4.7-.2 3.8 2.8 4.5 .3 3.9-1.5 4.1-.6 4.2-.1 3.7-2.1 4.1-.7 3.3 1.7 3.7 1 2.6 3.1 3.3 1.7 4.1 .2 3 2.3 3.8 1.7 2.9 2.9 3.3 2.4M40 360l4 .9 4.1 .7 3.7 2.2 4.2 .2 4 1 3.6 2.4 2 4 4 2 2.8 3.2 2.6 3.4 3.8 .2 3.3 2 3.5 1.5 3.7 .5 3.7 .8M30 410l3.4 1.6 3.2 2 3.5 1.2 2.9 2.6 4.1 .1 2.9 2.5 3.8 1.9 4.1 .5 4 1.2 4 1 4.1 .4 3.3-1.9 3.9-.2 3.4-1.6 3.1-2.3 4.1 0 3.2-2M20 440l3.4 2.4 3.5 2.3 2.7 3.4 3.8 1.8 3.2 2.6 3.4 2.5 4-.9 3.9-1.4 4.2-.4 4.1-.5 3.8-1.8 3.8 1.8 2.8 3.3 3.7 2 2.8 3.1 3.4 2.5 3.5 2.3 3.5-2.2 3.9-1.2 4.1-.5 4.1-.8 3.8-1.4 3.6-1.9M50 520l2.4 2.9 1.1 3.7 2 3.2 1.3 3.5 2 3.1 1.2 3.6-2.3 3-1.1 3.6-2 3.2-2 3.2-.9 3.7-1.7 3.3 2.9 2.8 3.3 2.4 2 3.8 3.8 1.8 2.5 3.3 3.1 2.6 2.4 3.3-2.1 3.1-1.2 3.6-1.7 3.3-1.7 3.3-2.2 3.1-1.1 3.6 2.2 3.5 3.7 2 2.1 3.6 3.1 2.6 2.9 2.9 2.5 3.2 3.5 2.2-.7 3.9-1.5 3.7-1.5 3.7-.9 3.8-1.3 3.8-1 3.8-2.6 3.3-.5 4 2.2 3.5 3 2.7 3 2.8 3.4 2.3 3 2.7 2.7 3 2.7 3M100 560l3.7 .9 2.7 2.9 3.2 2 3.8 .7 2.9 2.6 3.7 .9 3.3-1.8 3.5-1.3 3.6-1.1 2.7-3 3.2-2 3.7-.8 3.7 2 3.5 2.3 2.9 3.1 3.7 2 3.4 2.5 2.8 3.1 3.2 1.7 2.9 2.1 2.5 2.8 3.4 1.4M110 600l3.1 2.1 3.2 2 3.5 1.3 3.2 2 4 .2 3 2.4 4-.8 4-1.3 3.9-1.4 4.3 .2 3.8-1.7 3.4 1.7 2.6 3.1 3.9 1 3.1 2.2M456 264l3.9-.4 3.5-2 3.9-.7 3.9 .1 3.8-1 3.5 1.4 2.8 2.7 3.4 1.4 3.3 1.8 3.7 .9 3.3 1.8 4.2-1 3.8-2.1 4.2-1.1 3.7-2.5 4.1-1.3 3.5 1.2 3.7 1 3.6 1.1 3.6 1.1 3.5 1.2 3.7 .6 3.4 1.8 3.8-1.8 4.1-.9 4.2-.4 4-1.2 4-.9 4-1.2 3.9-1.6M500 193l0 3.8 2.1 3.4 .5 3.8 1.4 3.5-.8 4.1 1.8 3.4-.5 4.4-2.2 3.8-1 4.2-1.4 4.2-.6 4.3-1.3 4.1 2.2 3.6 2 3.6 2.6 3.4 1.5 3.9 2.1 3.6 1.6 3.9M465 310l3.9-1.3 4.2-.5 3.7-2.2 4.4 .9 3.8-1.9 3 2.2 3.2 2 4 .4 3.4 1.5 3.5 1.4 2.9 2.5 3.3-2 3.5-1.7 4.1-.2 3.3-2.1 3.9-.6 3.5-1.5 3.4-1.9 3.5 1.9 3.5 1.9 3.2 2.4 3.6 1.7 2.7 3.2 3.5 1.9 3.3-2.2 3.6-1.6 4.2-.3 3.2-2.4 3.7-1.5M505 315l0 4.3-1.9 4-1.6 4 .5 4.4-1.3 4.1-.7 4.2 1.7 3.5 .7 3.8 1.5 3.6 1.6 3.5 .8 3.8 1.9 3.4 1.8 3.4-1.1 3.7-1.5 3.5-1.9 3.4-1.6 3.5-.5 4-2.5 3.1-.9 3.8 .9 4.1 .2 4.3 2.2 3.9 .4 4.3 1.4 4-.1 4.4-1.2 3.7-1.1 3.7-1.6 3.5-1.2 3.7-1.9 3.4M471 365l3.7 1.4 3.3 2.1 3.4 1.9 3.6 1.6 3.7-1.8 3.9-1.5 3.6-2 3.8-1.7M430 500l2.6 2.6 3.4 1.4 3.4 1.4 3 2 2.6 2.6 2.8-2.3 3.6-1.1 3.1-1.9 2.3-2.9 3.2-1.8 3.1 2.9 3 3 2.3 3.7 3.7 2.3 2.9 3.1 2.8-2.3 3.2-1.7 2.4-2.8 3.6-1.2 3-2M455 520l1.1 4 1 4 1.8 3.8-.4 4.3 1.5 3.9 2.8 2.3 3 2 3.2 1.7 2.8 2.3 3.2 1.7-2 3.5-.9 3.9-.6 3.9-1.5 3.7M490 505l3.2 2.8 2.2 3.8 4 2 2.9 3.1 2.7 3.3 3.7-1.4 3.6-1.6 3.8-1.1 3.9-.9 2.5 3.5 3.5 2.5 3.6 2.4 1.9 4.1 3.5 2.5 3.9-1.5 4.2 .1 3.7-2.5 4.3 .2 3.9-1.3 3.1 2.6 3.3 2.6 2.8 3.1 3.8 1.7M415 593l3.5 2.3 4.1 .9 3.9 1.6 3.5 2.2 4.2-.4 3.6-2.3 4.2-.3 4-.9 4-1.1 2.8 3.2 3.7 2.3 2.3 3.7 3.2 2.8 3 3 3.4-1.4 2.1-3.4 4-.4 2.1-3.3 3.4-1.5 3.1 2.2 3.6 1.1 3 2.3 3.9 .5 3.2 1.9 3.2 2M450 595l.2 4.3 2.3 3.9-.8 4.5 1.2 4.1 1.7 3.9 .4 4.3-1.5 3.4-1 3.7-1.9 3.2-2.5 2.9-1.9 3.2-1.2 3.6 2.2 3.1 .8 3.7 2.2 3.1 1.4 3.5 1.1 3.6 2.3 3M500 610l1.7 3.8 .6 4.1 1.4 3.9 .8 4.1 .5 4.1 2.8 2.3 3.6 1.1 2.8 2.4 3.1 1.7 2.7 2.5-1.9 3.8-.1 4.2-.6 4.1-1.2 3.9-1.2 4 2 3.7 3.2 2.8 1.8 3.9 3.2 2.8 2.7 3.2 2.1 3.6M330 652l2.9 3 2 3.6 2.3 3.4 2.8 3 3.8 1.9 4.3-.2 3.9 1.4 4.1 .7 3.9 1.2 2.9 3.1 2.6 3.4 2.8 3.2 3.1 2.9 3.6 2.4 3.8 1.9 4.4-.8 3.9 1.4 3.7 2.4 4.2 .1M200 660l3 2.4 3.1 2.3 2.8 2.6 3.2 2.1 2.9 2.6 3.9 1.3 4.2-.8 3.9 1.2 3.9 1.2 4.1 .1 2.8 3.2 2.6 3.4 3.9 2.1 2.9 3.1 2.8 3.2" stroke="#eeeae8" stroke-width="1" fill="none" stroke-linejoin="round"/>
<path d="M207 141l3.4-.5 3.3-.6 3.3-.9 2.7 .6 2.8 .4 2.7 0 2.8 0 3 .7 3-.7 3 .7 3 .3 3.2 1.1 3.4 .4 3.4 .5 2.6 .8 2.8-.6 2.6 .8 2.5 1.5 2.5 1.5 2.7 2.3 2.3 2.7 0 3 0 3-1.4 2.3-.8 2.6-1.8 2.1-.7 3.6-1.3 3.4 3-.7 3-.3 2.3 1.4 2.7 .6 .2 3 .8 3 1 4 1.2-2.7 1.8-2.3 2-3 2.5 .3 2.5-.3 2.6 .6 2.4 1.4 1.9 2.1 2.1 1.9 2.3 1.7 1.7 2.3 2.3-1.5 2.7-.5 4-2 3.2-1.1 2.8-1.9 1.3 2.4 .7 2.6-.2 2.6-.8 2.4-1 2.4 0 2.6-2.8 1.7-2.2 2.3-2.4 1.7-2.6 1.3-1 2.4 0 2.6 2.5 1.5 2.5 1.5 2.5-.3 2.5-.7 2.4-.8 2.6-.2 2.8 1.9 3.2 1.1 4-2 3-2 1.7-1.9 1.3-2.1 2.3-1.1 1.7-1.9 3.1-.6 2.9-1.4 3.5-.7 3.5-.3 2.4-1.1 2.6-.9 2.4-.9 2.6-.1 4-2 1.8-1.8 2.2-1.2 .5-3.6 1.5-3.4 .8-2.4 1.3-2.2 .9-2.4 2.4-1 2.6 0 2.5 .2 2.5-.2 3.5 .3 3.5 .7 3.6 .8 3.4 1.2 1.2 2.2 1.8 1.8 2 4 2 2.5 2 2.5 2.1 1.9 1.9 2.1 3 1 3.5 1 3.5 1 2.6 .9 2.9 0 2.5 1.1 1.1 2.8 1.9 2.2 1.5 2.3 .5 2.7 2.2 1.3 2.3 1 2.5 .7 2.5 .5 2 1.8 2.5 .7-1.9 1.6-2.1 1.4-3 1 2.4 2.1 2.6 1.9 2.8 1.6 2.2 2.4 1.5 3.4 .5 3.6 .7 2.6-.5 2.8 .8 2.6 1 2.6 .1 2.8 .9 2.6 .2 3.1 .7 3 1.1 2.9-.3 3.5-.7 3.5-.3 3-.7 3-1.4 3-1.5 2.9-1.1 3.1-.9 2.9-2 2.3-1.1 2.8 1.7 3.2 2.3 2.8 1.7 2.7 2.3 2.3 2.1 1.7 .9 2.6 2 1.7 2 1.7 1.5 2.2 1.5 2.1 .2 3.3 0 3.4 .8 3.3 .5 3.3-.3 3.4 .8 3.3 .3 3 .6 3 .1 3-.1 2.7-.2 2.7-.7 2.6 1.1 2.9 .6 3 .3 3.1 .5 3 .3 3.1 1.2 2.9 1.2 2.6 .9 2.6-.1 3 1.3 2.5 1 2.6 .7 2.7 1.3 2.6 .6 2.8 .8 2.7 1.3 2.5 1.1 2.7 .9 2.7 .5 2.7-1 2.6 .5 2.7 0 3.6-1 3.4-1 3-1.4 2.9-.6 3.1-.6 3.1-1.6 2.8-.8 3.1-2.7-.5-2.6 .4-2.7 .1-1.8-2.7-2.2-2.3-1.9-2.3-1.1-2.7-4 1-4 2-2 1.7-1.8 1.9-2.2 1.4-3.2 1.7-2.8 2.3-2.9 1.2-3.1 .8-3.2 .5-2.8 1.5-2.9 .6-2.8 .9-2.5 1.5-2.8 1-2.5 2.5-2.5 2.5-2.7 2.3-2.3 2.7-3 1-2.9 1.2-3.1 .9-3 .9-2.9 1.4-3.1 .7-3.2 .4-2.8 1.5-2.9 1.2-2.5 2-2.6 1.8-2.3 1.3-2.3 1.5-2.4 1.2-2.7 .5-2.6-.2-2.7-.3 .7 2.6 1.3 2.4 1.2 2.7 1.8 2.3 1.8 2.2 1.3 2.6 1.9 2.2 1.4 2.2 1.8 1.9 1.8 1.9 .5 2.7 .6 2.7 .9 2.6 .5 3-.1 3 .6 3 1.5 2.6 1.2 2.7 1.3 2.7 1.4 2.8 1.8 2.6 1.8 2.6 2.2 2.1 1.4 2.7 2.3 2.1 2.1 2.1 1.9 2.1 2.5 1.5 1.6 2.4 2 2 2 1.8 1.4 2.3 1.9 1.9 1.7 2 2.1 2.6 2.5 2.2 2.4 2.2 2.2 1.6 2.5 .9 2.3 1.5 2.9 1.6 3.1 1.4 2 4 0 4-1.3 3.4-.7 3.6-1.3 2.9-.7 3.1-3 .2-3-.2-2.5-.4-2.5 .4-.9 2.4-.1 2.6-.7 2.5-.3 2.5-2.9 1.2-2.7 1.7-2.4 2.1-2.3 1.3-2.4 1.3-2.3 1.4-2.1 2-2.8 1-2.1 2-2.3 1.3-1.7 2.1-2 1.6 1.3 2.6 1.7 2.4 1.3 2.6 1.7 2.4 .8 2.6 1.2 2.4 1.3 2.4 .7 2.6-2.2 2.3-1.8 2.7 2.3 1.1 2.3 1.1 2.4 .8-.4 2.5-.6 2.5-.6 2.5-.4 2.5-2.4-.8-2.6-.2-3-2-1.4-2.6-1.6-2.4-2-4-2.5 .3-2.5 .7-2.4 1-2.6 0-3.1-.1-2.9-.9-3-.4-3-.6-2.4 .8-2.1 1.5-2.5 .7-3.1 .8-2.9 1.2-3 .5-2.9 1.3-3.1 .2-2.7 .7-2.6 .9-2.7 .4-3 3-3 2-2.8 1.9-3.2 1.1-2.9 1.4-3.1 .6-2.6-1.3-2.4-1.7-2.7-1.7-2.3-2.3-3-3-3.5 .3-3.5-.3-3.4 1-3.6 0-.5 2.5-.5 2.5-.9 2.5-1.1 2.5-2.6 1.4-2.4 1.6-2.5 .9-2.5 1.1-1.6-2.2-.7-2.7-1.7-2.1-2-2.8-1-3.2-3-.9-3-1.1-2.5-.3-2.5-.7-2.6-1.4-2.4-1.6-2.7-.6-2.3-1.4-2.2-1.3-2.5-.6-2.3-1.1-3.6-.5-3.4-1.5-2.5 .4-2.5 .6-2.5 .4-2.5-.4-2.5 0-2.5 0-2.5-.3-2.5-.7-2.4-2.6-2.6-2.4-3 3-2 2-3 3-3 3-3.6 0-3.4 1-3.5 .2-3.5 .8-2.7 .4-2.7-.1-2.6 .7-2.7 .2-2.6 .6-2.7 .2-2.3-2.3-1.7-2.7-2-4 .1-2.5-.1-2.5 .6-2.5 .4-2.5 .5-2.7 0-2.6-.5-2.7 .6-3.5 .4-3.5 .5-2.7 1.3-2.5 .2-2.8 .5-2.5 1.1-2.3 1.4-2.2 .7-2.6 .8-2.7 .5-2.7 .6-3.6 1.4-3.4 1.5-2.6 1.6-2.5 .9-2.9 1.2-2.4 1.4-2.3 1.4-2.3 1.1-2.5 1.4-2.3 1.5-2.2 2.4-2.7 1.6-3.3-2.7-1.2-2.4-1.9-2.9-.9-2.2-1.4-2.4-.7-2.4-.9-3.1-.7-2.7-1.8-3.2-.5-3-1-3-.9-3-1.1-3 .2-3-.2-3.1 0-2.9 1-3-.5-3-.5-2.6-.8-2.4-1.2-2.5-2-2.5-2-2.8-1.7-2.2-2.3-1.6-2.1-1.8-1.9-1.6-2-2.2-2.9-1.8-3.1-.2-3.5-.8-3.5 .4-3-.4-3 1-2.8 2-2.2-2-2-2.2-1.8-1.8-2.2-1.7-2.3-2.1-1.9-2.2-1.8-.8-3.5-.2-3.5-.3-3 .3-3 1.7-3.2 2.3-2.8 2.4-2.7 1.6-3.3-2.2-1.8-1.8-2.2-1.4-2.1-1.6-1.9 1-2.5 1-2.5 2-4-1.5-2.1-1.7-2-1.8-1.9-2.3-2.7-2.7-2.3-.4-3 .4-3 .3-3-.3-3-1.7-1.9-1.3-2.1-1.5-2-1.5-2 2.4-1.2 2.6-.8 4-2-.7-2.5-.3-2.5-.5-2.5-.5-2.5 .6-2.7 .6-2.7 .8-2.6 1.3-2.6 .8-2.7 .9-2.7-1.5-2.1-.8-2.5-.7-2.4-1-2.3-.6-2.5-1.4-2.2-.6-3.1-1.4-2.9-1-2.5-1-2.5 2.2-2 2.8-1 2.6-.7 2.4-1.3 3.5-.1 3.5 .1 3.5 .6 3.5 .4 2.4-.8 2.3-1.1 2.3-1.1 3-1.5 3-1.5-.6-2.7-1.4-2.3-.6-2.5-.4-2.5 2.3-2.1 2.6-1.6 2.1-2.3 2.5-2.3 2.7-1.9 2.8-1.8-.7-3.6-1.3-3.4-1.5-2.8-.5-3.2-2.9-.9-3.1-.1-2.5-.7-2.5-.3-.1-2.5 .1-2.5-.2-2.5 .2-2.5 3.5-.2 3.5-.8 2.7 .1 2.6-1.2 2.7 .1-.4-2.7-.2-2.6-.4-2.7 .3-3 .2-3 .5-3 0-2.7 .8-2.6 .2-2.7 1.8-1.8 1.2-2.2 2-4-.5-3 .2-3 .3-3 0-2.7-.3-2.7-.7-2.6-4-1-4-2 .5-2.6-.4-2.8 .9-2.6 1.2-3.4 .8-3.6 2.3-1.1 1.7-1.9 4-2 3.1 .1 2.9-.7 2.9-1.1 3.1 .5 3-.8 3-.5 3 .3 3 .1 3-.5 3-.4 1.8 1.8 1.2 2.2 2 4 2 4 1.7 1.9 1.3 2.1 2-3 3-3 3 0 4 1 1-2.4 0-2.6-.4-2.5 .4-2.5 1.1-3 .9-3 .9-2.5 1.1-2.5 2.4-.9 2.6-.1 3-.9 3-1.1 3.4-1 3.6 0-2.3-1.2-1.7-1.8-3-3 2-4 2-3-1.1-2.5-.9-2.5-1.4-2.3-.6-2.7-4-2-4-2-1.9-1.7-1.1-2.3 4-2 4-2 1.1-2.5 .9-2.5 .8-2.4 .2-2.6-1.1-3.2-1.9-2.8-1.4-2.4-.6-2.6-1.1-2.6-1.1-2.7-.8-2.7-.9-2.7-1.1-2.6z" stroke="#ecd9d9" stroke-width="2" fill="none"/>
<text x="38" y="319.5" font-family="Liberation Sans,sans-serif" font-weight="normal" stroke="#b7c0c5" stroke-width=".38" font-size="10" fill="#b7c0c5" textLength="89" lengthAdjust="spacingAndGlyphs">NETHERLANDS</text>
<text x="3.5" y="448" font-family="Liberation Sans,sans-serif" font-weight="normal" stroke="#b7c0c5" stroke-width=".38" font-size="12.6" fill="#b7c0c5" textLength="68.5" lengthAdjust="spacingAndGlyphs">BELGIUM</text>
<text x="57" y="504" font-family="Liberation Sans,sans-serif" font-weight="normal" stroke="#b7c0c5" stroke-width=".38" font-size="9.6" fill="#b7c0c5" textLength="85" lengthAdjust="spacingAndGlyphs">LUXEMBOURG</text>
<text x="38" y="516.5" font-family="Liberation Sans,sans-serif" font-weight="bold"  font-size="8.8" fill="#a3aeb5" textLength="60" lengthAdjust="spacingAndGlyphs">Luxembourg</text>
<circle cx="101" cy="513.7" r="1.3" fill="#a3aeb5"/>
<text x="248" y="419.5" font-family="Liberation Sans,sans-serif" font-weight="normal" stroke="#c2cacf" stroke-width=".38" font-size="14" fill="#c2cacf" textLength="75" lengthAdjust="spacingAndGlyphs">GERMANY</text>
<text x="477" y="503.5" font-family="Liberation Sans,sans-serif" font-weight="normal" stroke="#b7c0c5" stroke-width=".38" font-size="10" fill="#b7c0c5" textLength="53" lengthAdjust="spacingAndGlyphs">CZECHIA</text>
<text x="495" y="607" font-family="Liberation Sans,sans-serif" font-weight="normal" stroke="#b7c0c5" stroke-width=".38" font-size="10" fill="#b7c0c5" textLength="46" lengthAdjust="spacingAndGlyphs">VIENNA</text>
<circle cx="544" cy="604.2" r="1.3" fill="#b7c0c5"/>
<text x="377.5" y="673.5" font-family="Liberation Sans,sans-serif" font-weight="normal" stroke="#b7c0c5" stroke-width=".38" font-size="10" fill="#b7c0c5" textLength="55.5" lengthAdjust="spacingAndGlyphs">AUSTRIA</text>
<text x="201" y="677.5" font-family="Liberation Sans,sans-serif" font-weight="normal" stroke="#b7c0c5" stroke-width=".38" font-size="9.6" fill="#b7c0c5" textLength="95" lengthAdjust="spacingAndGlyphs">LIECHTENSTEIN</text>
<text x="143" y="699" font-family="Liberation Sans,sans-serif" font-weight="normal" stroke="#b7c0c5" stroke-width=".38" font-size="10.4" fill="#b7c0c5" textLength="96" lengthAdjust="spacingAndGlyphs">SWITZERLAND</text>
<text x="116" y="585" font-family="Liberation Sans,sans-serif" font-weight="bold"  font-size="8.8" fill="#a3aeb5" textLength="52" lengthAdjust="spacingAndGlyphs">Strasbourg</text>
<circle cx="171" cy="582.2" r="1.3" fill="#a3aeb5"/>
<text x="171" y="662" font-family="Liberation Sans,sans-serif" font-weight="bold"  font-size="8.8" fill="#a3aeb5" textLength="31" lengthAdjust="spacingAndGlyphs">Zurich</text>
<circle cx="205" cy="659.2" r="1.3" fill="#a3aeb5"/>
<text x="421" y="486" font-family="Liberation Sans,sans-serif" font-weight="bold"  font-size="8.8" fill="#a3aeb5" textLength="31" lengthAdjust="spacingAndGlyphs">Prague</text>
<circle cx="455" cy="483.2" r="1.3" fill="#a3aeb5"/>
<text x="220" y="244" font-family="Liberation Sans,sans-serif" font-weight="bold"  font-size="8.8" fill="#b2bac4" textLength="42" lengthAdjust="spacingAndGlyphs">Hamburg</text>
<circle cx="265" cy="241.2" r="1.3" fill="#b2bac4"/>
<text x="176" y="278" font-family="Liberation Sans,sans-serif" font-weight="bold"  font-size="8.8" fill="#b2bac4" textLength="36" lengthAdjust="spacingAndGlyphs">Bremen</text>
<circle cx="215" cy="275.2" r="1.3" fill="#b2bac4"/>
<text x="369" y="317.5" font-family="Liberation Sans,sans-serif" font-weight="normal" stroke="#98a1ae" stroke-width=".38" font-size="11.5" fill="#98a1ae" textLength="59" lengthAdjust="spacingAndGlyphs">BERLIN</text>
<text x="387" y="420" font-family="Liberation Sans,sans-serif" font-weight="bold"  font-size="8.8" fill="#b2bac4" textLength="40" lengthAdjust="spacingAndGlyphs">Dresden</text>
<circle cx="430" cy="417.2" r="1.3" fill="#b2bac4"/>
<text x="97" y="428" font-family="Liberation Sans,sans-serif" font-weight="bold"  font-size="8.8" fill="#b2bac4" textLength="36" lengthAdjust="spacingAndGlyphs">Cologne</text>
<circle cx="136" cy="425.2" r="1.3" fill="#b2bac4"/>
<text x="165" y="483" font-family="Liberation Sans,sans-serif" font-weight="bold"  font-size="8.8" fill="#b2bac4" textLength="42" lengthAdjust="spacingAndGlyphs">Frankfurt</text>
<circle cx="210" cy="480.2" r="1.3" fill="#b2bac4"/>
<text x="257" y="528" font-family="Liberation Sans,sans-serif" font-weight="bold"  font-size="8.8" fill="#b2bac4" textLength="48" lengthAdjust="spacingAndGlyphs">Nuremberg</text>
<circle cx="308" cy="525.2" r="1.3" fill="#b2bac4"/>
<text x="187.5" y="572.5" font-family="Liberation Sans,sans-serif" font-weight="bold"  font-size="8.8" fill="#b2bac4" textLength="40" lengthAdjust="spacingAndGlyphs">Stuttgart</text>
<circle cx="230.5" cy="569.7" r="1.3" fill="#b2bac4"/>
<text x="297" y="613" font-family="Liberation Sans,sans-serif" font-weight="bold"  font-size="8.8" fill="#b2bac4" textLength="34" lengthAdjust="spacingAndGlyphs">Munich</text>
<circle cx="334" cy="610.2" r="1.3" fill="#b2bac4"/>
<text x="7" y="347" font-family="Liberation Sans,sans-serif" font-weight="bold"  font-size="8.8" fill="#a3aeb5" textLength="13" lengthAdjust="spacingAndGlyphs">ue</text>
<circle cx="23" cy="344.2" r="1.3" fill="#a3aeb5"/>
<text x="7" y="358" font-family="Liberation Sans,sans-serif" font-weight="bold"  font-size="8.8" fill="#a3aeb5" textLength="19" lengthAdjust="spacingAndGlyphs">lam</text>
<circle cx="29" cy="355.2" r="1.3" fill="#a3aeb5"/>
<text x="7" y="407" font-family="Liberation Sans,sans-serif" font-weight="bold"  font-size="8.8" fill="#a3aeb5" textLength="16" lengthAdjust="spacingAndGlyphs">erp</text>
<circle cx="26" cy="404.2" r="1.3" fill="#a3aeb5"/>
<text x="7" y="432" font-family="Liberation Sans,sans-serif" font-weight="bold"  font-size="8.8" fill="#a3aeb5" textLength="15" lengthAdjust="spacingAndGlyphs">els</text>
<circle cx="25" cy="429.2" r="1.3" fill="#a3aeb5"/>
<g fill-rule="evenodd" fill-opacity=".5" stroke="#2c3488" stroke-opacity=".42" stroke-width=".95" stroke-linejoin="round">
<path fill="#b4ff4c" d="M307.6 513.8l-.2 1.8 1.3 1.8 1.9 1.3 1.5-1.9 .5-2.4-1-1-1.1-1-1.7 .2zM288.9 630.9l-1.8 2.9-1.9 2.9 .5 2.9 2.3 2.9 .8 2.9 3.1 1.5 1.1 .7 2-.6 3.5 .3 2.4-.2 1.2-1.5 2-2.3 3.1-1.8 1.4-2.6-2.2-2-2.2-2-.8-2.7-.3-3.1-1.4-2.4-3.4-1.4-3.5-.5-2.9 2-3.2 1.1zM303.1 629.1l.3 3.1 .8 2.7 2.2 2 2.2 2 2.9-1 3.4 .9 3-.5 2.8-2 .7-.9 .8-2.7-.3-2.9 .2-2.8-1.6-3-1.9-2.7-3.5-1.2-1.8-2.8-2.2 2-3.5 .3-2.9 1.2-.9 3.6-2.1 2.3zM267 483.3l-1 3.3 2.6 1.7 2.6 1.7 1.3 2.9 2 2.3 1.8-.2 1.6-2.8 1.7-2.6 3.4-.6 2.6-1.7 .2-3.6 .2-3.7-2.6-.8-1.4-3.3-2.7-.5-2.9-.1-2.5 2.1-2.7 1.6-2.9 1.2zM198.4 516.3l1.3 1.3 1 1.6-.7 1.5-.4 1.7 1.2 1.3 1.5 1.2 .7 0 2.1-1.3 1.4-1.9-.8-1.9-1.5-1.4 .7-1.3 .5-1.5-1.8-.9-.8-1.8-.2 0-1 .1-1.6 1.7zM201.2 330.6l-.1 3.3 .7 3 3.2 .6 3.1-.4 2.9-1.5 1.4 .5 2.5-2.2 3.2-1.1 2.8-1.7 2.5 .7 2.6 .5 2.3-1.9 2.3-1.9 1.2-2.9 2.6-1.7 1.4-2.8-.3-1.1-3.1-.8-3.1-.7-3.1-.6-3.2 1.2-3.1-.3-2-1.5-1.9-1.5-1.9 3-2.9 2.1-3.1-.4-3.1 .3-2.9 1.8-3.1 .5-3.1-.3 2 2.5 1.7 2.6z"/>
<path fill="#fa0500" d="M139.3 408.5l1.7 1.9 1.3-.8 1.5-.2 .5-1.5 0-1.5-1.7-2-2.2-1.1-1.6 2-1.7 2zM138.9 380.1l-1 3.3 2.9 2.4 3.7-.8 1.8-3 2.3-2.6 3-1.8-2.8-.2-2.8-.9-3 1-2.8-.6zM131.5 389.5l-1.7 2.5 1.4 3 2.4 2.2 3.5-.8 3.6-.6-2-2.5-.7-3.2-1.7-2.7-2-2.5-.7-.2-1.1 .9-1.1 .9zM346.2 481.5l2.1 2.5 1.7 2.7 2.9-1.4 2.8 1.4 2.8 0 2.7 .7 2.2-2.1 .8-3.4 2.6-1.5 .4-.3-.4-.9-1.8-2.2-1.8-2.3-.4-.9-3 .7-2.6-2.4-3.1-.5-2.8 1.9-2.9 1.7-2 2.8zM394.7 435.4l1.4 2.7 .9 2.9 .7 3 1.7 2.6 .9 2.9 .7 2.7 .1 0 2.9-1.2 3-1 2.3-2.7 2.7-2.3 2.5-2.5 2.5-2.5 2-.7-.4-2.3-3.1-.7-2.7-1.8-2.9-1.2-2.8-1.5-3.2-.2-3.1-.6-3.1-.5-2.2 .7-1.8 1.3zM337.7 589.1l1.4 2.4 1.5 2.3 1.5 2.2 1.6 2.3 2.9-1.1 2.3-1.7 1.2-2.8 1.5-2.5 2.6-1.4 1.5-2.5-1.3-2.7-1.3-2.7-2.8 .8-2.6-.4-2.8 1.1-2.6-1.1-2.7-.9-1.5 1.2-1.4 1.4-.1 2.2-1 2.1zM379 442.4l.5 2.4-.2 2.6 1.4 2.8 1.2 2.9 1.4 2.8 1 1.4 1.5-.8 3.2-.4 3.1-.7 2.9-1.4 3-.9 3-.9-.7-2.7-.9-2.9-1.7-2.6-.7-3-.9-2.9-1.4-2.7-1-2.9-2.5-1.6-2.9 1.1-2.6-.6-1.2 2.6-1 2.7-2.1 1.8-2.6 1.4zM397.4 589.4l.8 2.6 2.8-.6 2.8-.1 2.6 .9 2.7 1 2 1.6 1-.6 2.9-1.2 .3-2.5 .7-2.5 .1-2.6 .9-2.4 2.5-.4 .9 .2-.3-2.1-.9-2.7-.8-2.8-2.6 .1-2.2-1.6-1.3 3-3.2 .7-3.6-1-3.2 1.5-3.2 1.3-1 3.1-2.8 1.9 1.6 2.4zM378.8 439.9l-2.9-.4-3 .9-2.9 .1-2.9-1.5-2.9 .1-3.8-.5-2.3-3.1-1.8 2.2-2.8 1.1-2.2 1.6-.3 3.5-2.1 1.7 .2 1.3-.2 1.3-1.4 2.3-1.2 2.3-1.7 2.2-.1 2.9 2.4 1.3 1.9 2.1 2 1.8 1.7 2.6 .9 2.9 .7 3 3.1 .5 2.6 2.4 3-.7-.8-1.8-1.3-2.4-.7-2.6 2.7 .3 1.6 .1 1 .1 2.7-.5 2.4-1.2 2.3-1.5 2.3-1.3 .1-.1 2.5-1.7 2.5-2 2.9-1.2 1.3-.7-1-1.4-1.4-2.8-1.2-2.9-1.4-2.8 .2-2.6-.5-2.4z"/>
<path fill="#05f3fa" d="M208.1 525.2l.2 2.2 .3 .8 2 0 2 .7 1.2-1.1 .5-1.5-.7-1.2-.2-1.3-2.2-.1-2.1-.6zM138.6 440.2l1.6 2.3 1.7 .7 1.9 .2 1.4-1.7 2-1.1-1.2-2.4-.2-2.7-1.8-.2-1.8-.7-2.3 .6-1.1 2.2zM311.2 451.6l-2 2.4-1.4 2.8-1.7 2.6-1.8 2.5 2.8 2.1 .8 3.4 3.1 1.6 3.6 .1 2-2.1 1.4-2.7 1.9-2.3 3.4-.7 1.9-2.2-2-2.2-3.1-1.3-1.7-2.5-1.9-2.4-1.6-2.6-2.2 .7zM183.3 459.4l1.7 2.2 1.7 2.3 1.4 2.4 1.8 2.1 2.7 1.2 1.5 0 1.9-2.8 1.6-3 1.9-2.7 1-3.3-2-2.5-2.4-2.1-2.7-1.8-2.1-2.3-2.7-1.7-1.9 .7-1.1 2.6 .6 3.7-2.5 1.8-2.8 1.6zM225.2 554.6l1.3 3-2.2 2.5-2.2 2.6 .3 2.9 2.8-.4 2.8 .3 2.6-1.5 2.7-.7 1.4-3.1 2.8-1.7 2.6-2.1 0-1.4-.6-1.4-3-.9-3-1.1-3.3 1.5-3.1-.6-3-.9zM288.9 334.7l-.2 2.9 .9 2.7-.4 2.9 1.1 2.6-.1 2.8 1.5 .1 .9 1.2 2.9-.9 2.7-1 3.4 .6 2.9-.7 2.8-1 2.2-2.5 2.5-1.6-1.5-3.2 .7-3.5-2.8-1-3.1-.5-2.7-1.2-2.4-1.7-1.9-2.4-2.4-1.7-3.1 .9-3.2 .7-1.3 1.2-.4 1.7zM168.8 305.5l-.4 3.1-.5 3-1.1 2.9 .2 3.1 2.3 2.5 1.9 2.8 2.5 2.4 2.8-.3 2.5 1.4 2.6-1.2 3.4-.2 2.2-1.8 1-3.3 2.1-2 1-2-.5-2.2-.4-2.8-1.8-2-1.9-2-1.1-2.4-2.5-.6-2.5-.9-2.4-1-2.9-.3-2.9 .5-2.9 .4zM287.6 565l-.4 2.7 .9 2.8 2.6 1.7 2.2 2.3 2.4 2.1 3.4 .4 1.7-2.4 2-2.3 1.4-2.7 1.7-2.5 3-1.3-2.1-3.2 0-3.8-1.6-2.7-2.3-1.4-3.5 .8-2.1-1.8-.9 3.4-2.4 2-2.6 1.7-2.8 1.6zM179.7 329.4l-.8 3.3 .5 3 1.9 2.7 1 2.9 2.1 1.4 .9 2.4 2.7-.5 2.8-1 2.7 .6 2.8 .8 .6-3.5 2.2-2.5 2.7-2.1-.7-3 .1-3.3-1.6-2.7-1.7-2.6-2-2.5-3.4-1.8-2.2-3.1-2.1 2-1 3.3-2.2 1.8-3.4 .2-2.6 1.2zM357.7 356.8l.1 2.7 .5 .5 .8 2.5 .5 2.5-.6 2.6 2 .7 1.9 1 1.7-.7 1.8-.4-.3-2.8 .6-2.6 1.6-2.3-.1-.2 .2-2.7-1.3-2.5 0-2.7-1.7-1.6-2.3 .1-1.9-.1-1.4 1.2-1.7 2.2zM123.3 388.5l-.2 3 .8 1-.5 2.1 .4 2.1 2.4 1.2 2.3 1.2 2.5 .9 .5-2.1 2.1-.7-2.4-2.2-1.4-3 1.7-2.5-.1-3 1.1-.9 1.1-.9 0-2.8-1.1-2.4-2.2-1.9-3.3-.2-2.4 2.2-3 .9 2.1 2.7 1.5 3zM364 571.2l2.4 .9 2.5 .8 2 1.8 2.6-1.3 1.5-2.5 3.1 1.3 3.5-.7 3.1 1.3 2.1-2.3 1.5-2.7 1.7-2.7 2.1-2.3-.3-.5-2.7-1.3-2.4-2.5-2.9-.5-3.3 1.8-3.1 .3-2.6-1.5-1.2-1.1-3.2 1-2.9 1.7-2 2.2-2 2.2 1 3.2zM265.5 560l-3-1.1-3-.8-3.4 1.5-1.4 3.3 .7 2.8 .6 2.8 .6 2.8 1 2.8 .4 1.7-1.4 1.3 1.9 2.4 2.7 1.3 2.5 1.5 3-1.6 3.2-1.3 2.2 1.8 2.2 1.9 3.1-.9 2.6 .5 .7-3 1.4-2.6 .8-2.9 2.4-2.2 2.8-1.5-.9-2.8 .4-2.7 .6-2.6-2.4-.9-2.5-.7-2.5-.9-1.7-2.3-2.2-1.9-.2-3.1-1.5-2.5-.3-.1-2.2 2.5-.3 4.1-3.2 1.5-3.1 1.7z"/>
<path fill="#fee500" d="M223.7 569.5l2.4 2.2 3.1 1.3 2.7-1.9 2.7-2-1.8-2.6 .5-3.2-2.7 .7-2.6 1.5-2.8-.3-2.8 .4-1.1 1.8z"/>
<path fill="#800000" d="M356 550.2l-.4 2.6 1.9 .7 1.2 1.6 1.8-.3 0-2.7 1.9-1.9-1.3-1.4-1.8-.9-1.8 .3zM326.7 604.9l.8 2.6-.2 2.7 .9 1.3 1.5 .6 3.3-.5 3.1-.8 3-1.3 3.1-.8 1.4-2.5 1.1-2.6-1.4-1.5 .2-2-3.1-1-3.1-.5-3.1 .2-3 .6-3.1 1-1.3 1.8zM324.3 479.2l-1.4 3 .6 3.3 .3 3.3 2.3 1.7 2.4 1.5 2.2-.1 1.9-1.2 1.4-2.7 .6-3.2 2.2-2.4 1.8-2.5 1.5-2.8-1.4-2.5-1.6-2.3-2.2-1.8-3 .5-2.3 1.5-2.1 1.8-2.1 1.8zM307.2 641.5l-3.1 1.8-2 2.3-1.2 1.5 1.1-.1 3 3 2.3 2.3 2.7 1.7 2.4 1.7 2.6 1.3 3.1-.6 2.9-1.4 3.2-1.1 2.6-1.8-.3-1.7-1.6-2.7-1-2.9-1.1-2.8-1.2-2.8-.9-2.9-2.8 2-3 .5-3.4-.9-2.9 1zM318 417.7l1.5 3.1 .6 3.2 .6 3.2 2.8 .8 3 .4 3 .3 2.8 1.1 3 .2 1.5-3 1.9-2.5 2.2-2.4 2.6-2-1.9-2.1-1.9-2.3-2.8-1-2.3-1.6-2.3-1.6-2.5-1.4-2.3 2.2-3 .5-2.9 .7-2.9 .8zM276.6 617.7l2.1 2.3 1.5 2.8 2.3 2.1 2.4 2.1 2 .2 1.8 .7 3.2-1.1 2.9-2-.3-3.1 .9-3.1 .2-3.1-.9-3.1-.8-3.1 .2-3.1-2.3-.4-1.3-1.9-3.6 .8-3.7-.7-3.1 1.7-3 1.8-1.9 3.1 .6 2.3-.9 2.1zM311.4 523.4l-.3 2.9 .4 3 1.4-.1 1.1 1 1.3-2.8 2.9-1.3-1-1.2-.9-1.1-.1-2.7 .9-2.4-3.2 0-3.2 .6-.9 2.3zM254.8 503l1.1 2.5-1.3 2.4-1.4 2.3-.8 2.7 1.8 2.7 .3 3.2 1.1 2.9 3.1-.1 2.8-1.7 2.9-1.5 2.9-.9 3.4 1.3 3-.4 1.2-1.1 .1-1.6-1-2.6 0-2.9-1-2.6-2.3-2.1 1.2-2.5-.1-2.9 1.1-2.5 1.6-2.4-2-2.3-1.3-2.9-2.6-1.7-2.6-1.7-1.6-.4-1.3 1-1.4 2.6-2.1 2-2.2 1.9-2.2 1.9-1.8 2.3 1.9 2.1zM191 281.2l2-3 .1-2.8-1-2.7-1.6-2.7-.6-2.8-3.5 .2-3.5-.4-3.4 .2-1.3 1.5-2.8 .8-3.1-.3-2.7 .8-2.4 1.9-2.6 1.3-1.9 .9-.8 1.9 1 2.9 1.1 2.8 1.8 2.4-.2 .6 .8 2.9 1 2.8 .8 2.9 1.1 2.8 .2 2.9-.6 3.2 .6 .4 2.9-.4 2.9-.5 2.9 .3 2.4 1 2.5 .9 2.5 .6 1.8-2.7 1.4-2.9-.1-3.8 1.8-2.7 3.5-1.7 1.6-2.8-2.2-2.1-2.5-1.8z"/>
<path fill="#feb300" d="M192.2 509.9l-.3 2.4 1.7 .5 1.3 1.1 2-1.7 1.2-2.3 0-2.2-1.4-.9-1.7-.7-1.2 1.4-1.8 .1zM315.1 620.1l3.5 1.2 1.9 2.7 1.6 3 1.9-2.1 1.7-2.2 2.9-.3 2.6-.9-.2-3.2 .3-3.2-1.6-3-1.5-.6-.9-1.3-2.3 1.8-2.8 .3-2.6 1.1-2.4 1.6-3-.4-.6 .7-.3 2zM414.8 553.5l-.6 3-2 2.4-1.6 2.5-1 2.7 .3 3.6 2.1 2.9 1.6 3.1 2.2 1.6 2.6-.1 2.1-1.5 2.4-.5 1.1-2.9 .8-2.9 1.6-2.6 1-2.9 .3-.9-.8-.4-2.9-1.6-2.3-1.5-2.5-.9-2.2-1.6-2-1.8zM265.5 200l-1.2 1.4 1.3 1.7 1 1.8 .4 0 1.7-.6 1.4-1.2-.4-2-1.4-1.7 1.3-1.8-.9-1.9-1.5-1.4-1.5 1.2-1.8 .4 .5 2.2z"/>
<path fill="#faff05" d="M116.6 396.1l.8 2.5 1.7 .6 1.8 .2 2.1-.6 .8-2.1-.4-2.1 .5-2.1-.8-1-1.9-.9-2.1 0-1.8 1.4-1.6 1.7zM272.1 323.2l-2.2 2-.9 2.8 .7 3.7-.6 3.6 1.3 .8 .9 1.1 2.6-1.4 2.9-.4 2.9-.3 2.7-1.1 2.7-1.1 2.8-.8 .4-1.7 1.3-1.2-2.4-1.5-2-1.9-1-2.7-1.5-2.3-3.1-.4-3-1-3 1.4z"/>
<path fill="#04d4ec" d="M156.2 395.3l-.1 2.4 1.9 1.5 2.4 .5 2.1-1 1.8-1.7 .4-2.4-.8-2.3-2.7 .1-1.6-2.1-2 1.2-1.9 1.5zM348 388.1l1.8 2.8 1.7 .8 1.7-.4 1.9-2.4 2.2-2-1.6-2.9-1.5-2.9-1.7-.6-1.7 .2-1.6 2.7-2.5 1.7z"/>
<path fill="#fa1a00" d="M129.1 412l-1 3.3 .9 3.2 .5 3.2 2.6-1.2 3.4 .8 2.4-2 2.6-1.5-.4-1-2.2-2.2-2.2-2.1-3.3-.7-1.7-2.8-1.4-.2zM129.7 424.3l.7 2.5 .9 1.4 1.6 .3 2.5-.3 2.4-1 2.6 .5 1.7-1.6 1.7-1.8-.4-2.2 .5-2.3-2.1-.4-1.3-1.6-2.6 1.5-2.4 2-3.4-.8-2.6 1.2zM331.3 615.1l-.3 3.2 .2 3.2 3.2 1.3 3.2 1.4 3 1.6 2.6-1.1 2.3-1.6-1.7-2.7-.7-2.9 .3-3 .2-3.1-1.4-2.7-3.1 .8-3 1.3-3.1 .8-3.3 .5zM263.3 596.7l2.5 2.6-.7 3-.1 2.9 2.4 1.6 2.3 1.9 2.8 .9 2.7 1 1.9-3.1 3-1.8 3.1-1.7-.8-2.6-1.4-2.4-2.2-1.9-.5-2.8-1.4-2.3-3.1 1.8-3 .9-3.3-1.9-3.1 0-.9 1z"/>
<path fill="#96ff6b" d="M272.2 340.1l1.8 2.6 2.2 2.6-1.7 3.4-.1 3.1 3.1-.7 3.4 .2 3.3 .4 3-1.7 3-1.4 .1-2.8-1.1-2.6 .4-2.9-.9-2.7 .2-2.9-1-2.6-2.8 .8-2.7 1.1-2.7 1.1-2.9 .3-2.9 .4-2.6 1.4zM376.5 591.2l1 2.6 .6 3.2 2.2 2 2.4 1.8 2.7 1.1 3.2-.6 2.4 1.9 .5-3.6 1.5-3 2.9-2.1 2.3-2.5-.8-2.6-.5-2.8-1.6-2.4-3.3-1-3.3-1.1-3.5 .4-1.9 3-2.8 1.9-3.3 1z"/>
<path fill="#e6ff1a" d="M166.6 368.9l.2 3-1.3 2.5-1.4 2.6 3 1.5 3.1 1.4 2.3 2.5 2.4 2.3 .1 0 3.7-.3 2.1-2.8 2.5-2.2-.1-2.8 1.1-2.9-.3-2.8-2-2.5-2.9-.1-2.9-.4-3 .2-2.9-.8-2.8-1.1zM316.4 602.8l0 3-.5 2.9-1 3-.7 2.9 3 .4 2.4-1.6 2.6-1.1 2.8-.3 2.3-1.8 .2-2.7-.8-2.6 .1-2.7-2.9-1.3-3.1-.6-3-.6-3.1 0zM343.6 611.4l-.2 3.1-.3 3 .7 2.9 1.7 2.7 1.2 .2 1.4 .1 1.7-2.1 2.7-1.6 3.2-1.1 1.1-2.7 .7-2.9 1-2.8 1-2.7-2.9-1.2-2.6-2.2-3.1 0-3.4 .7-2.8-1.2-1.1 2.6-1.4 2.5zM152.1 410l-.3 2.6-.8 2.5 2.2 2.1 1.6 3.1 3.1 .7 3.3 .3 2.3-.2 1.2-2.4-.3-3.2 2.1-2.1 1.3-2.4-2-2-2.2-1.8-2.7-1.1-2.9-.4-2.6 .9-2.6 .9z"/>
<path fill="#04c4e6" d="M103.5 408.5l1.8 2.9 .6 3.3 1.3 3 1.9 2.8 3.5 .1 3.4-.9 1.2-2.8-.5-3.1 1.2-2.7-2.3-2.3-3-1.3-2.1-2.6-2.7 0-2.5-1-1.4 .6-1.3 .9zM211 624.4l.2 3-.7 3.1-.2 3-.1 .5 .4 .4 2.4 2.6 2.5 .7 2.5 .3 2.5 0 2.5 0 2.5 .4 1.2-.2 .1-1.1 .9-3 .9-3-.9-2.6-1.2-2.4-2.5-1.7-3.3-.6-2.8-2.5-3.3-.6-3.6 .6-.5 .2zM138.7 477.5l-.1 3.6 1.5 2.5 2.4 1.8 2.7-.7 2.8-.5 2.8 .9 2.7-.4-.1-2.8 .1-2.9-.7-2.9-.1-2.9-2.3-1.3-2.6-.5-2.5-.5-3.2 .7-2.1 2.4zM393.1 552.8l-.1 3.2 .6 3.3-1.8 3 .3 .5 .8 .5 2.8 0 2.8-1.4 2.8-.5 2.7 1.5 2.8 1.5 2.8-.3 1-2.7 1.6-2.5 2-2.4 .6-3 .2-.3-.4-.4-2.5-2.2-2.1-2.6-1.7-2-.9-.9-1.7 .5-3.1 .3-3 1.1-2.9 1.8-3 .9zM371.8 551.5l.8 3 1 3 1.2 1.1 2.6 1.5 3.1-.3 3.3-1.8 2.9 .5 2.4 2.5 2.7 1.3 1.8-3-.6-3.3 .1-3.2 .6-3.1-.9-1.3-.9-1.3-2.4-2-3-.4-2.2-2.3-2.8-.9-3.2 0-2 .4-1.4 1.4 0 2.8-1.6 2.3z"/>
<path fill="#04ebf6" d="M318.7 590l-2.3 2.2-1.3 3.1-1.6 2.8 1.2 1.6 3.1 0 3 .6 3.1 .6 2.9 1.3 1.3-1.8 .4-3.1 .6-3-1.4-3-3.5-.7-2.7-2.4z"/>
<path fill="#029ed4" d="M212 506.8l2.1 2.9 .1 3.2 1 2.9 2.9 .8 2 .4 1.8 1 1.6-3 2.2-1.8 3.2-.5 2.8-.9-2.3-2.4-1.9-2.8-2-2.7-1.6-2.9-3-.3-2.6 1.1-2.7 .6-2.6 1.1zM257.6 551.7l.6 3.3 1.3 3.1 3 .8 3 1.1 .6-.2 3.1-1.7 3.2-1.5 .3-4.1 2.2-2.5-1.7-2.3-1.4-2.5-3-.3-3-1.3-3 .1-3.1 1.4-.7 2.3-2.2 1.1zM177 628.6l-3 .4-3 .3-3 .4-3 .2-2.9 .9-.6 0-.5 2.2 .1 2.5-.1 2.5 2 4 1.7 2.7 2.3 2.3 2.7-.2 2.6-.6 2.7-.2 2.6-.7 2.7 .1 .6-.1 2.4-13-2.1-1.6-1.2-2.4zM287.6 421l.4 2.7-.8 2.6-.6 2.6 2.6 1.3 2.7 .9 2.5 1.4 2.8 .9 2.6 1.3 1.9-3 3.3-1.4-2-2.6 .2-2.8 .2-2.8-.4-2.7 .6-2.8-1.5-.4-1.1-1.1-3.1 1.2-3.3 .4-3 1.7-3.4 0zM171.2 443.5l-1 3.2-2.2 2.7-.9 3.3 3.4 .5 3.9-.6 2.1 3.3 2.4 2.4 2-.5 2.8-1.6 2.5-1.8-.6-3.7 1.1-2.6-2.3-2-2-2.7-2.3-2-3.1-.8-3.2-.7-1.5 .4zM223.5 543.5l-.4 2.9-1.2 2.7 .9 1.4 1.3 1.1 3 .9 3.1 .6 3.3-1.5 3 1.1 3 .9 2.1-2.9 1.6-3.3-.1-3.5-1.5-3.1-3-.4-2.4-1.3-2-2.1-3.5 .6-2.8 2.1-3.3 1zM248.5 530.8l-2.5 1.9-2.6 1.8-.6 3.4-1.2 2.9 1.5 3.1 .1 3.5 2.8 .1 2.6 1.2 2.7 .4 2.8-.5 2.7-.1 2.2-1.1 .7-2.3 .3-3-.6-3-.9-2.9-.1-3-1.6-3.6-3.4-2-1.3 .8-1.4 .2z"/>
<path fill="#82ff80" d="M260.5 235.4l2.2 1.9 2.3 1.8 2 2.3 2.5-1.5 2.5-1.8 3.2-.1 2.6-1.3-2.4-1.9-3.4-1.2-.9-3-.6-3.3-3.1 1.1-3.1 1.7-3.3 .4-3.5-.1 0 2 .2 1.9zM197.6 463.8l-1.6 3-1.9 2.8 1.5 1.4 .7 2.8 .9 2.8 .7 2.8 .7 2.9 .9 2.8 3.1 .9 3 .9 2.9 1.2 2.3-1.2 1.6-2.1 .3-3-.1-3 .1-3.1 1.6-2.7-.4-.5-1.1-2.9-1.9-2.8 1.5-3.1 .3-3.1-2.8-1.2-3-.7-2.1-2.4-2.3 .4-2 1.1-1 3.3zM390.7 625.5l-.1 3.5-2.8 2.4-1.7 2.8-.5 1.4 1.2 1-1.2 2.5 1.4 2.9 1.6 2.4 1.4 2.6 3 2 2.6 .2 2.4 .8 .4-2.5 .6-2.5 .6-2.5 .4-2.5-2.4-.8-2.3-1.1-2.3-1.1 .1-.2 1.7-2.5 2.2-2.3-.7-2.6-1.3-2.4-1.2-2.4-.8-2.6-1.1-1.6-.5 1.9zM238.8 314.3l-1.9 1.8-1 1.8-.4 2.1 .3 1.1 2.5 2 1.7 2.6 1.7 2.6 .2 2.3 .9 2.2 3.1 .6 3.2 .5 2.8 1.6 3.2 .7 1.5 1.4 3.1-.7 3.1-1 3.2 .1 3.1-.7 .6-3.6-.7-3.7 .9-2.8 2.2-2 1.5-2.4-1-3-1.4-2.8-1.7-2.7-.1-1.7 .4-1.6-3.1-.7-2.8-1.2-2.9-1.2-2.5-1.9-2.6-1.6-1.3-2.5-2.3-1.8-.5 .2-3 2.1-2.2 2.5-2.1 2.6-.1 3.8-.8 3.3-2.8 .1z"/>
<path fill="#001893" d="M282.1 577.1l-1.4 2.6-.7 3 .4 1.2 3 0 2.8 .4 2.5 1.5 2.5 1.2 2.6 1 1.9-3.6 3.9-.7 1.3-3.5-2.2-3.2-3.4-.4-2.4-2.1-2.2-2.3-2.6-1.7-2.8 1.5-2.4 2.2zM279.3 586.7l-2.5 2.1 .1 3.2 1.4 2.3 .5 2.8 2.2 1.9 1.4 2.4 .8 2.6 3.7 .7 3.6-.8 .5-3.3 1.6-2.9 .2-3.3 .1-3.3 .9-3.1-2.6-1-2.5-1.2-2.5-1.5-2.8-.4-3 0zM308.5 565.8l-3 1.3-1.7 2.5-1.4 2.7-2 2.3-1.7 2.4 2.2 3.2-1.3 3.5 2.6 1 2.3 1.5 2.6-1.7 2.4-2.1 3.4 .2 2.9-1.1-1.7-3-1.7-3 1.2-3.7-.4-3.2 3.1 .1 2.7-2.7 3.1-.2 3.2 1.4 .7-3.1 .1-3.1-.4-3.1-1.4-2.9-3.7 .9-3.1-2.4-3.4-.5-2.7 1.7-2 2.7-3 1.4 0 3.8z"/>
<path fill="#50ffb2" d="M272.9 497.6l-1.1 2.5 .1 2.9-1.2 2.5 2.3 2.1 1 2.6 0 2.9 1 2.6 3.4 .7 3.4 .9 2.5-3.1 3-1.3 2.1-2.1 1.1-2.8 1.8-2.4-3.3-.8-3.9 0-2.2-2.5-2-2.7-2.3-2.4-2.3-2.2-1.8 .2zM354.2 588.8l-2.6 1.4-1.5 2.5-1.2 2.8-2.3 1.7-2.9 1.1-.2 1.8-.2 2 1.4 1.5 2.8 1.2 3.4-.7 3.1 0 2.6 2.2 2.9 1.2 1.1-.2 2.1-2.6-.1-3.4-1.5-2.9-1.6-2.9-1.1-3.1-1-3.1-1.6-2.9-.1-.1zM333.8 464.1l.6 3.2 .5 3.2 2.2 1.8 1.6 2.3 1.4 2.5 3.1 .8 3.2 .1 2-2.8 2.9-1.7 2.8-1.9-.7-3-.9-2.9-1.7-2.6-2-1.8-1.9-2.1-2.4-1.3-3.6 .1-2.7 2.6-3.5 .3z"/>
<path fill="#0286ca" d="M134.5 373.7l2.5 2 3.2 1.2 2.8 .6 3-1 2.8 .9 2.8 .2 .6-.3 .1-3.2-1.8-2.7-2.2-2.5-.4-3.1-.1-3.2-3.1 .5-3.5-.7-3.1 .4-2.6 2.3-2.9 1.3-.6 2.2 1 2zM151.7 345.6l2.9-.5 2.9-.9 2.7 2 3.3 .5 1.2-2.1 2.1-1.3 3.2 .6 3.2 .1 3-1.4 3.1-.1 3-1.2-1-2.9-1.9-2.7-.5-3 .8-3.3-.7-3-2.5-1.4-2.8 .3-2.2 2.5-2.9 1.9-2.6 2-3-1.5-2.8 .5-2.8 1.5-1.7-2.3-2.6-.7-2.2-1.4-.9-.1-.2 .1-1.2 2.5-.8 2.8-2.7 1.8-.1 3 3.7 1.3 .9 3.7z"/>
<path fill="#fedb00" d="M191.5 492.7l.1 3.3 2 1.1 1.6 1.5 2.7 .3 2.6 .9 2.8-.4 2.7 .1 2.7 .3 1.2-3-.8-2.9-.3-2.9-.3-2.9-2.9-1.2-3-.9-3.1-.9-1.9 2.3-2.8 1-2.7 1.1z"/>
<path fill="#fffa00" d="M162.1 630.8l2.9-.9 3-.2 3-.4 3-.3 3-.4 3-.3 .1-3 1.1-2.9-1.1-3-.1-3-.2-.2-2.9-.4-2.8-.9-3-.2-2.7-1.3-2.9-.6-2.2-1.3-.3 1.5-.4 3.5-.6 3.5 .5 2.7 0 2.6-.5 2.7-.4 2.5-.1 .3zM180.1 619.4l1.1 3-1.1 2.9-.1 3 1.2 2.4 2.1 1.6 3.5-.1 3.6 1.3 3.2-2.4 1.6-2.6 1.8-2.3 1.1-3 3-1.4-2-2.1-1-3.3-3-1.1-2.7-1.3-3.2 0-3.4-.6-2.9 1.5-2.9 1.5z"/>
<path fill="#fec700" d="M339 628.1l-2.5 2.1 1.1 3.1 .2 2.8 1.1 2.7 .6 3.1 1.5 2.5 .1 .6 3-.2 2.9-1.3 3-.5 2.9-1.2 .8-.2-.3-.6 .4-3.1-1.2-2.9 .2-3-.5-2.9-.2-3-2.1-1.2-1.9-1.5-1.4-.1-1.2-.2-2.3 1.6-2.6 1.1z"/>
<path fill="#0afffa" d="M131.4 403.1l-1.4 2.7-.9 2.9 .2 .1 1.4 .2 3.4-.2 3-1.5 1.7-2 1.6-2-.2-2.5-.2-2.5 .8-2.5-.1 0-3.6 .6-3.5 .8-2.1 .7-.5 2.1zM328.8 540.1l1 3 .2 3.5 1.9 2.6 1.7 .5 1.7 .6 3.1-.8 3-1 2.9-1.5 1.4-3.3 2-2.9 .3-1.6 .4-1.5-2.3-1.7-1.6-2.5-2.5-1.4-2.4-1.6-2.6-1.3-2.9 1.4-4.2-.3-.9 4.1-2.2 2.4-.5 1zM184.1 540.2l2.2 1.8 .9 2.5-.6 2.6 .8 2.9-1.8 2.4 3.2 .1 2.5 1.7 2.6 1.5 2.1-2.2 1.3-2.8 2.5-1.8 2.4-1.8-1.3-2.2-2.4-.7-1.3-2.9-1-3-1.2-3-1.2-2.9-1.5-.5-1.3-.9-2.9 1.4-2.6 1.9-3.1 .8 1.4 2.2zM274.7 640.7l.4 3.6-1.4 2.7-1.5 2.6-1.2 2.8-1.1 2 1.1 1.6 1.7 2.1 .7 2.7 1.6 2.2 2.5-1.1 2.5-.9 2.4-1.6 2.6-1.4 1.1-2.5 .9-2.5 .5-2.5 .5-2.5 3.6 0 1.4-.4-1.1-.7-3.1-1.5-.8-2.9-2.3-2.9-.5-2.9 1.9-2.9 1.8-2.9-.2-3-1.8-.7-2-.2-2.4 1.7-2.9 .9-3 .7-2.2 2-2.1 2.2-2.5 1.6 2.4 2.4zM352.5 619.7l-2.7 1.6-1.7 2.1 1.9 1.5 2.1 1.2 .2 3 .5 2.9-.2 3 1.2 2.9-.4 3.1 .3 .6 2.3-.6 2.5-.7 2.1-1.5 .7-.2 1.7-.6 3 .6 3 .4 2.9 .8-.3-1.3 .2-3 .5-3-.2-3.1 .2-3 .2-.3 .1 0 .8-2.5 1.2-2.3 1.5-2.1 .3-3.8-2.5-2.9-3.1-1.1-3.3-.5-3-1.3-3-1.4-.9-.9-1.1 .2-1 2.7-1 2.8-.7 2.9-1.1 2.7z"/>
<path fill="#0157b6" d="M255.8 340.1l-.7 2.6-.1 2.8-.6 2.6 1.8 2.4 1.7 2.5 2.2 2.1 3.3-.5 3.2-.6 3.3 .2 3.2-.3 1.3-2.1 .1-3.1 1.7-3.4-2.2-2.6-1.8-2.6-.9-2.9-.9-1.1-1.3-.8-3.1 .7-3.2-.1-3.1 1-3.1 .7z"/>
<path fill="#3cffc7" d="M292.9 591.1l-.1 3.3-.2 3.3-1.6 2.9-.5 3.3 1.3 1.9 2.3 .4 1.9-1 2.2 .4 2.2-1.7 3.7 .1 2.3-1.5 .5-3.8 1.9-2-2.3-2.1-1.9-2.3 .6-3.4-.7-2.7-2.3-1.5-2.6-1-3.9 .7-1.9 3.6zM225.5 503.9l2 2.7 1.9 2.8 2.3 2.4 1.9 .4 1.9 .4 1.1-1.1 1.4-.5 .8-2.8 1.5-2.6-1-3.1 .3-2.9 1-2.7-2.8-1.6-2.1-3.3-3.7 .8-3.2-.6-.4 3.6-1.7 2.9-2.8 2.3zM217.4 572.4l.6 2.7-1 2.6-1.5 2.5 1.8 1.9 .8 2.6 2.1 1.7 3.3 .6 3.5-.1 3.3 .6 0-2.6 .7-2.5 1.5-2.3-1.4-2.2-1.4-2.3-.5-2.6-3.1-1.3-2.4-2.2-2.4-2.1-3-.1-1.9 2.4zM183.3 418.3l-.7 2.8-1.4 2.6-1 2.6 .7 1.9 2.7 1 2.4 1.3 2.2 1.8 2 2.2 2.5 1.2 3.1 0 1.4-.8 1.6-.3 .6-3.1 1.6-2.4 2.5-2 1.3-2.5-1.3-2.8-.1-3.2-2.4-1.3-2.9-.7-2.3-1.6-1.7-2.5-3.1 1.4-3.6 .1-3 1.7zM371.5 581.4l.8 3.3 1.6 3 3.3 .7 3.3-1 2.8-1.9 1.9-3 3.5-.4 3.3 1.1 3.3 1 2.8-1.9 1-3.1-1.5-2.5-2.5-2.1 .5-3.2 .3-3.2-1.6-2.4-1.4-2.5-.8-.5-2.1 2.3-1.7 2.7-1.5 2.7-2.1 2.3-3.1-1.3-3.5 .7-3.1-1.3-1.5 2.5-2.6 1.3-.4 3.4zM226.8 637.1l-.1 1.1 1.3-.2 2.5-.6 2.5-.4 3.4 1.5 3.2 .4 .4 .1 2.3 1.1 2.5 .6 2.2 1.3 2.3 1.4 2.2 .5 .1-.4 1.1-2.9 0-3.3 1.3-2.8 1.8-2.7-1.2-3.1-2.4-2.2-2.6-1.7-3.2 .7-2.6-1.4-.7 .9-3.2 .6-3.7-.6-2.2 2.7-2.1 3-3.3 .4-.9 3z"/>
<path fill="#fd9e00" d="M300.7 438.2l-.8 3.6 2.9 .7 3.5-.3 1.7 3.1 1.9 2.4 2.8 1.1 2.2-.7 1.5-2.8 1.8-2.7-1.2-2.5-.9-2.5-.2-2.6 .2-2.7-2.9 0-3 1.1-2.5-2.2-2.7-.9-3.3 1.4-1.9 3zM307 473.3l-2.1 1.9-2.4 1.8-1.6 2.2 1.1 2.5 .9 2.5 2.9 0 3 .9 2.7-1.7 2.9-.5 1.7 2.9 2.4 2.2 3.4 .7 1.9 .1-.3-3.3-.6-3.3 1.4-3 1.1-3.1-2.9-1.3-2.7-1.5-2.6-1.7-2.4-2-.2-.5-3.6-.1-3.1-1.6-.4 3z"/>
<path fill="#03b5df" d="M99.6 405.8l-1 .2 .4 2 .3 2.5 .7 2.5-4 2-2.6 .8-2.4 1.2 1.5 2 1.5 2 1.3 2.1 1.5 1.7 .1 0 3 .2 3 .1 2.3-1.2 2.3-1.3 1.6-2.1-1.9-2.8-1.3-3-.6-3.3-1.8-2.9-.9-3.1zM399.5 312.8l-2.9 1.4-2.6 2-2.9 1.4 1 2.7 .5 2.9 .2 2.9-.2 3 .4 2.9 2.7-1.1 1.9-2.6 2.1-2 3-.5 3.2-.1 2.3-1.9 2-2.4 .5-3.1-.6-1.8 .2-1.9-.5-2.9-2.6-1.5-2.7 .8-2.8-.7zM313 190.4l1-2.4 .8-2.4 .2-2.6-.7-2.6-1.3-2.4-2.8 1.9-3.2 1.1-2.9 1.5-1.1 .5-2.7 .5-2.3 1.5-1.7-2.3-1.6-1.2-.9 .7-1.3 3.6-2.3 2.1-3.3 .9-2.2-.1-2.1 .9-.9 3.1 0 3.2 1 2.6 1.9 2.5-1.3 3-.1 2.8 .8 2.2 .1 0 2.8 .5 3.1-.9 3.2-1.9 3-.3 2.8 1.1 2.6 2.5 2.8 1.3 2.8 .9 2.1-1.7 1.5-2 .2-1.2-1.5 .4-2.5 .3-2.5-1.5-2.5-1.5 0-2.6 .3-.7 .7-1.7 2.6-1.3 2.4-1.7 2.2-2.3 .6-.4 2.2-1.3zM314 176l6 1 4-3-2-6-6-1-4 3zM354.2 314l-.1 3 1 .8 1.2 .6 2.9-1.3 3.2-.5 2.8-1.7 3.3-.3 3-1.3 2.9-1.4 2.5 1 2.3 2.2 2.8-.7 2.8-.8 2.8 2.3 3.3 1.4 .2 .3 2.9-1.4 2.6-2 2.9-1.4 2.2-2.5 2.8 .7 2.7-.8 1.6-1.8 1.9-1.5 .9-2.9 0-2.9-1.6-2.9-1.1-2.8 .6-2.9 1.2-2.9-2.3-2-2.7-1.4-2.9-1-1.4 .8-.3 1.6-2.8 1.8-3.2 1.2-1.8 3-2.7 .9-2.6 .8-2.8 .1-2.7 .4-3.4-1.7-3.6-.8-.9 .8-3 .7-3 .4-2.7 1.1-2.9 1-2.6 1.7-2.9 .5 .6 3.1 2 3.4-1.8 2.7-2.5 2.6z"/>
<path fill="#f0ff0f" d="M243.8 426.1l.7 2.9 2 2.1 2.5 1.6 1.2 2.5 1 2.7 2.1 2 3.5-.4 2.1-2.9 2.8-1.5 2.8-1.5 .9-3.1 2.2-2.4-1-2.9-.1-3.2-2.7-.9-1.9-3.1-2.6-1.3-3.3 .7-2.9-.4-2.8 1.2-2.6 1.4-2.5 1.5-1.1 3.2z"/>
<path fill="#000e8c" d="M397.4 200.8l.6 3.2-1.3 3.1-1.4 3 1.2 3.3 2.6 1.5 2.4 1.6 2.6 1.6 3 1 1.5 2.7 2.2 1.9 1.2 3.1 1.6 2.5 3.2 .2 3.2 .4 3.3-1.2 3 1.5 3.2 .7 14.9-10.4-2-1.4-2.4-2.1 3-1 2.1-1.4 1.9-1.6-2.5-.7-2-1.8-2.5-.5-2.5-.7-2.3-1-2.2-1.3-.5-2.7-1.5-2.3-1.9-2.2-1.1-2.8-2.5-1.1-2.9 0-2.6-.9-3.5-1-3.5-1-3-1-1.9-2.1-1.6-1.5-8.1 9.3zM407.8 186.9l7.2 1.1 8-3 5-4-5-3 3.7-6.3-.5-5.9zM109.1 437.8l-.2 2.5 .7 2.6 .9 2.4 1.9 1.9 3.1 .1 3.2 .5 2.2-2.2 2.3-2.1 2.6-1-1-3.4-1.1-3.3-1.7-3.1-1.9-.9-2-.6-2.6 1.4-2.5 1.6-2.7 1.4zM246 168.4l.6 3.1 .7 2.9-.2 3.2 1.2 2.9 3.5-.4 3.3 1.5 3.4 0 1.1-.5 1.3-.8 .6-2.8 2.4-2.4 1.2-2.7 .3-1.2-.4 .1-3 .7 1.3-3.4 .7-3.6 1-1.2 0-2.9-.1-2.9-2.7-.3-2.8 .7-2.7-1.2-2.8 .1-2 2.3-2.5 1.8-2.6 1.8-2 2.4zM322.2 632.7l-.8 2.7-.7 .9 .9 2.9 1.2 2.8 1.1 2.8 1 2.9 1.6 2.7 .3 1.7 .2-.1 3-2 3-3 2.7-.4 2.6-.9 2.7-.7 .1 0-.1-.6-1.5-2.5-.6-3.1-1.1-2.7-.2-2.8-1.1-3.1 2.5-2.1 1.6-2.3-3-1.6-3.2-1.4-3.2-1.3-2.6 .9-2.9 .3-1.7 2.2-1.9 2.1-.2 2.8zM431.2 236.8l1.7 2.9 .6 2.9 .1 3-.1 3.1 0 3-.3 3.1-.5 3.1 .3 3-1.5 1.7 .2 3-.2 3-.1 3 .7 2.9 0 3 .6 2.9 1.5 2.8 .3 3 .5 2.9 3-.2 2.9-.1 3-.7 2.9-.3 .6-.1-.4-.7 1.1-2.8 2-2.3 .9-2.9 1.1-3.1 1.5-2.9 1.4-3 .7-3 .3-3 .7-3.5 .1-1.9 .2-1.6-1.1-2.9-.7-3-.2-3.1-.9-2.6-.1-2.8-1-2.6-.8-2.6 .5-2.8-.7-2.6-.5-3.6-1.5-3.4-2.2-2.4-2.8-1.6-.6-.5-14.9 10.4 1 3z"/>
<path fill="#001792" d="M254.8 393.6l-2.6 2.1-.9 2.6 1.2 3.4-.4 2.8 .9 1.1 3 1 3 2 3-1.1 3.1-1.1 3-.5 1.2-2.8 1.4-2.8 1.2-2.8-.9-2.7-1.6-2.2-1.8-2.2-2.8-.1-2.9-1.2-2.8 .3-2.7 1.8zM149.7 348.4l-2.1 2.8-.4 3.6 1.2 3 .4 3.1 3-1.7 3.1-.9 3.5 1.4 3.3 .8 3.1-1.7 1-2-.4-3.4-.5-3.4-1.4-3.3-3.3-.5-2.7-2-2.9 .9-2.9 .5zM195 535.3l1.2 3 1 3 1.3 2.9 2.4 .7 1.3 2.2 2.3 .3 2.3-.5 .9-2.7 1.2-2.6-.5-2.9-1.9-2.5-1.4-2.7-.4-.2-3.3-1.2-3.4-.3-2.1 .4-2.1 .2zM105.7 427.1l2.9 1.8 .2 3.8 1.5 2.9 2.7-1.4 2.5-1.6 2.6-1.4-1.4-2.6-.7-2.9-.2-2.9 .4-2.9-.2-.2-3.4 .9-3.5-.1-1.6 2.1-2.3 1.3-2.3 1.2zM403.9 387.1l1.7 2.2 2.1 2.1 2.1 2.1 3.3-1.4 2.6 .8 1.8-2.4 2.5-1.5 2-2.2 2.4-1.6 2.4-1.6 2.3-1.8 2.4-1.6 3-.9-1.3-2.5-2.2-2.1-2.6-1.8-1.8-2.2-1.1-2.7-.4-3.1-.8-2.8-2.4-.9-2.4-.8-2.5-.6-3.1 1.1-3.6 .4-1.2 3.8-2.3 2.1-3.1-.7-3.7 .7-3.1-.5-2.5-2.4-2.7-1.6-2.5-2.4-2.9-1-1.6 1.7-.2 2.9-.1 3-.5 2.8-1.4 2.6-2 2.3-1.5 2.4 0 2.4 3.2 .1 3 1 3.1 .5 2.9 1.5 3.2-.1 3.2-.1 3 .9 3 1z"/>
<path fill="#0047af" d="M369.7 235.1l.3 3.6 1.1 3.2 1 3.4 2.2 2.6 3.2 1.8 3.2-.1 3.3-.4 3.1 1 3.2 .3 3.2-.3 3.2-.1 3.1 1.5 3 1.1 .5-3 1.1-2.6-.2-3.2 1.9-2.3 1.4-2.5 2.1-2.2 .9-2.7 1.9-2.3 1.2-2.6-1.6-2.5-1.2-3.1-2.2-1.9-1.5-2.7-3-1-2.6-1.6-2.4-1.6-2.6-1.5-2.5 2-2.8 1.5-2.2 2.2-2.2 2.4-2.3 2.2-2.8 1.4-2.7 1.7-2.6 1.7-2.9 1.3-2.4 2.1z"/>
<path fill="#000d8b" d="M359.2 192.1l-1.5 2.7-2.4 2.6-1.2 2.8-.4 3 .6 3.3 .4 3.2-.5 3.1 1.1 3.2 1.7 2.8 3 1.6 2.4 2.1 2.4 2.1 1.9 2.6 1.7 2.8 2.7 1.9 2.4-2.1 2.9-1.3 2.6-1.7 2.7-1.7 2.8-1.4 2.3-2.2 2.2-2.4 2.2-2.2 2.8-1.5 2.5-2-1.2-3.3 1.4-3 1.3-3.1-.6-3.2 1-3.1-2.8-1.2-2.8-1.3-2.4-2.5-2.7-1.4-3-.7-2.9-.8-3.1-.1-2.9-1.1-3.1 0-3.2 0-3-.6-.3-.1-.4 .3-1.8 1.8-4 2-.8 0zM266.9 435.7l2.4 2.2 2.6 2 1.8 2.6 1.3 3.1 2.4-1.2 2.2-1.5 2.8-.2 .9-2.9 .5-3 .2-3 0-3-2.6-1.2-2.5-1.5-2.7-1-2.7-.2-3.1 1.3-2.8-.1-2.2 2.4-.9 3.1zM168.8 503.2l2.6 1.9 1.4 2.7-1.8 2.4-.2 2.9 0 2.8 1.8 2 2 1.1 2.1 1 2.8-.4 2.9-.3 2.1-2.4 .4-1.3-1-2.7-.9-2.8 .1-2.9-.3-2.9 .7-1 .4-2-1.8-2.4-2.2-1.9-2-2.2-1.7-2.4-2.5 1-2.8 .3-2.2 1.7-1.9 2 0 .1 .8 2.9z"/>
<path fill="#003caa" d="M439.7 324.1l-.6 2.6 2 2.1 .9 2.8 1.8 2.2 1.1 2.6 1.5 2.4 3.1 .4 3 .4 3 1.6 3 .3 3.1 .5 3 .1 3.1-.3 .2 0 0-.1 .1-2.7-.1-3-.6-3-.3-3-.8-3.3 .3-3.4-.5-3.3-.8-3.3 0-3.4-.2-3.3-.6 .3-2.3 2.1-3 .6-2.5 1.7-2.6 1.4-3.1 .5-2.6 1.5-2.8 1.1-2.8 1.1-2.8 1.1zM160.7 319.7l-3.1 1.2-2.4 2.2-2.1 2.4-2.2 2.3 2.2 1.4 2.6 .7 1.7 2.3 2.8-1.5 2.8-.5 3 1.5 2.6-2 2.9-1.9 2.2-2.5-2.5-2.4-1.9-2.8-2.3-2.5-1.8 .3-1.9 0zM391.5 410l-.8 3.4-2.3 2.3-3.5 1.5-2.9 1.9-1.2 3.1 1.9 2.9 2 2.9 1 3.4 2.6 .6 2.9-1.1 2.5 1.6 1.8-1.3 2.2-.7 3.1 .5 3.1 .6 3.2 .2 2.8 1.5 2.9 1.2 2.7 1.8 3.1 .7 1-3.1 1.7-2.8 .7-3.3-1.7-2.4-1.3-2.7-1.8-2.3-1.9-2.4-2.1-2-2.6 .8-2.8-.6-2.6 .5-1-2.9-1.3-2.7-2.2-1.8-2.3-1.9-1.6-2.4-2.3-1.9-1.4 .3-1.1 3.1z"/>
<path fill="#00108d" d="M238.1 227.1l-1.4 2.9-2 2.8-1.8 2.8-.1 3.1 1.4 3.4-.1 3.1 1.2 2.3 1.6 2 1.9 1.7 2.2 .9 2.2-1.8 2-2.4 2.8-1.1 2.7-1.2 2.3-1.9 1.3-2.2 2.3-1.8 .8-2.6 .3-2.8-.2-1.9 0-2-1.9-3.2-3.1-2.1-2.9-.2-2.8-.9-2.8-.3-2.9-.2-2.9 .5zM177.6 600.7l-2.9 .6-2.9 .8-3 .1-3 0-.3 .1 0 .2-.5 2.5-.2 2.8-1.3 2.5-.2 1.2 2.2 1.3 2.9 .6 2.7 1.3 3 .2 2.8 .9 2.9 .4-.8-3.2-1.5-3.3 1.1-3.2 2.1-3.1-.2-3.2zM141.5 290.8l1.9-2.3 2.5-1.1 1.3-2.9 2.3-2.2 1.4-2.7 2.3-2.2 1.5-2.7-2.5-1.7-2.2-2.5-2.1-1.2 .1 .7-2 4-1.2 2.2-1.8 1.8-.2 2.7-.8 2.6 0 2.7-.5 3-.1 1.9zM141.8 419.4l2.1 .4 2.8-.8 1.7-2.6 2.6-1.3 .8-2.5 .3-2.6 .7-2.5-1.8-1.4-.3-2.2-.2-2.3-2.1-2.6-2.6-1.9-2.5-2-1 1.1-1.5-.4-.8 2.5 .2 2.5 .2 2.5 2.2 1.1 1.7 2 0 1.5-.5 1.5-1.5 .2-1.3 .8-1.7-1.9-2.2-1.2-3 1.5-3.4 .2 1.7 2.8 3.3 .7 2.2 2.1 2.2 2.2 .4 1zM114.9 496.3l-2.9 1.2-1.8-.1 .6 .8 2.2 1.8 2 2-2 2.2-1 2.8 .1 .8 1.5 .3 3.5-.6 3 .6 2.5-1.3 2.6-1.2 2.6-1.3-.7-3.2-.8-3.2 1.2-3.2 2-1.2-.5-2.9 .1-2.8 1.7-2.5 .8-2.6-1.4-2.3-1.8-1.9-2.6-.9-2.8 .8-2.1 1.9-2.3 1.7 .3 3.3 .3 3.3 .3 3.3-2.5 2z"/>
<path fill="#001f97" d="M353.8 579.6l-.7 1.3 1.3 2.7 1.3 2.7 .1 .1 2.8 .4 2.9 1.2 2.8 .6 2.6-1.6 2.6-2.6 2.8 .3-.8-3.3-1-3.3 .4-3.4-2-1.8-2.5-.8-2.4-.9-2.3 2-1.7 3.1-3.1 .9-3.1 .9zM394.2 535.1l-.6 3-1 2.8-.5 3.1-.2 3.1 .9 1.3 .9 1.3 3-.9 2.9-1.8 3-1.1 3.1-.3 1.7-.5-1-1-1.4-2.3-2-1.8-2-2-1.6-2.4-2.5-1.5-1.4-1.6zM278 262.1l-1.2 2.6-2.4 1.5-1.8 2.1-1.5 2.3 2.5 1.7 2.9 1.5 2 2.3 .9 3.1 1.7 2.6 3-1.3 3.2-.4 3.3 .5-.2-3.1-1.9-3.3 1-2.9 1.1-2.9 2.7-2.7-.1-3.1 .2-3-1.7-2.4-2.9-.6-2.8 1.8-3.3 .6-3.2 .9zM285.8 483.7l-.2 3.6 2.8 .7 3.2-.3 1.5 2.9 1.8 2.1 2.5-1.2 2.4-1.3 2.2-1.5 1.1-2.1-.2-2.4-.9-2.5-1.1-2.5-3.1-1.7-3.5-.2-3.3-.8-3.2 .7-1.8 2.8zM304.3 541.3l-1.6 2.3-1.5 2.3-2.1 2-1.4 2.4-1 2.7 .2 .7 2.1 1.8 3.5-.8 2.3 1.4 1.6 2.7 3-1.4 2-2.7 2.7-1.7-.6-3.5 1-3.2 .6-3.3-1.7-2.6-3.1-.4-2.3-.3-2.2-.8zM123.7 435.8l1.1 3.3 1 3.4 1.4 .6 3-1.6 3-1.6 .6-3.7 .3-2.7-.1-2.5-1.1-2.5-1.6-.3-.9-1.4-2.5 2.4-3.8 .6-2.1 2.9zM376.1 619.2l-1.5 2.1-1.2 2.3-.8 2.5-.1 0-.2 .3-.2 3 .2 3.1-.5 3-.2 3 .3 1.3 0 .1 3.1 .1 2.6 0 2.4-1 2.5-.7 2.5-.3 .6 1.1 1.2-2.5-1.2-1 .5-1.4 1.7-2.8 2.8-2.4 .1-3.5 .7-3.2 .5-1.9-.6-.8-.8-1.5-.5-1.1-1.7-2.4-1.3-2.6 2-1.6 1.7-2.1 1.2-.7-.8-1.1-.1-3.3-2.4-1.9-3.2 .6-2.7-1.1-1.3 2.7-1.7 2.4-2.2 2-2.2 2-1.4 2.6 2.5 2.9zM188.7 295.1l.1 3.8-1.4 2.9-1.8 2.7 1.1 2.4 1.9 2 1.8 2 .4 2.8 .5 2.2-1 2 2.2 3.1 3.4 1.8 3.1 .3 3.1-.5 2.9-1.8 3.1-.3 3.1 .4 2.9-2.1 1.9-3-1-1.8 .2-2.1-2.3-1.5-2.1-1.8-2.5-1-2.7-.7-.6-3.2 1.3-3.1-.1-3.2-1-3.1 .6-3.2-3-.7-1.6-2.6 .9-2.7 .4-2.8 1.4-2.5 .7-2.8 1.7-2.4 .6-2.7 1.2-2.6-3-.4-3 .3-3-.3-2.8-1.2-3-.6-2.9-.3-.5 .4 .6 2.8 1.6 2.7 1 2.7-.1 2.8-2 3-.1 2.8 2.5 1.8 2.2 2.1-1.6 2.8-3.5 1.7zM193.4 451.4l2.7 1.8 2.4 2.1 2 2.5 2-1.1 2.3-.4 2.1 2.4 3 .7 2.8 1.2 2.5-1.4 2.4-1.4 2.4-1.6-.7-3-.6-2.9 1.1-2.9 .7-3-.5-.3-3.1 .7-3 .7-3.2-.8-3.1 .2-1.3-2.5-2.2-1.6-2.3-1.7-1.2-2.5-1.8-2-1.6 .3-1.4 .8-.7 2.8-1.8 2.1-2.8 1.5-1.6 2.3-.3 3 2.7 1.7z"/>
<path fill="#0046ae" d="M445.5 351.9l1.2 2.6 1 2.9 1 2.8 2.7 1.6 2 2.1 2.2 2 1 2.8 2.5-1.7 2.4-1.7 2.8-1.3 2.8-1.3 2.7-.7-.3-3-.5-3-.3-3.1-.6-3-1.1-2.9 .7-2.6 .2-2.6-.2 0-3.1 .3-3-.1-3.1-.5-3-.3-3-1.6-3-.4-3.1-.4-.3 2.8-.6 2.7-1.8 2.4 0 2.9z"/>
<path fill="#002199" d="M239.4 342.3l2.4 2.1 2.6 1.8 .6 3.2 3.2-.4 3.2 .3 3-1.2 .6-2.6 .1-2.8 .7-2.6 .8-2.5-1.5-1.4-3.2-.7-2.8-1.6-3.2-.5-3.1-.6-2.3 1.5-1.6 2-.1 2.9zM184.1 477.5l.8 3.8-1.2 3.2 3.1 1.2 2.4 2.4 2.9 1.4 2.7-1.1 2.8-1 1.9-2.3-.9-2.8-.7-2.9-.7-2.8-.9-2.8-.7-2.8-1.5-1.4-1.5 0-2.5 1.1-2.2 1.6-1.6 2.2zM380.5 374.6l2-2.3 1.4-2.6 .5-2.8 .1-3 .2-2.9 1.6-1.7-1-2.9-1-2.8-1.1-2.8 1.5-3-.1-2.9 .2-2.9-.1-1.5 .5-1.4-2.7-1.8-2.9-1.2-3.1-.6-3.3-.2-2.7-1.7-2.9-1.3-3.1-.7-1.6-1-2.6 2-3.7 1.2-2.5 2.1-.4 3.8-1 3.4-2 2.5-2.9-.1-2.5 1-2.1 2 2.9 1.9 2 2.4-.4 3.7 1.3 2.7-2 2.2-.4 2.6-.4 2.7-.2 2.7 2.7 .4 2.7 .8 2.8-.2 .9 2.5 1.1 2.4 1.3 2.3 2.5 1.3 2.3-1.6 1.6 2.7 3.2 .8 2.4 1.7 2.2 2 2.2 1.9 .9-2.9 2.3-1.9 1.9-2.2 0-2.4zM361 368.3l-2-.7 .6-2.6-.5-2.5-.8-2.5-.5-.5-.1-2.7 .4-2.6 1.7-2.2 1.4-1.2 1.9 .1 2.3-.1 1.7 1.6 0 2.7 1.3 2.5-.2 2.7 .1 .2-1.6 2.3-.6 2.6 .3 2.8-1.8 .4-1.7 .7zM227.9 428.7l2.9 .8 2.3 1.9 3.2-.3 1.9-2.7 2.7-1.4 2.9-.9 .3-1.8-1.1-3.4-3.6-1.5-1.8-2.8-2-2.7-2.7 0-2.8 .3-2.7-.8-1.1-.9-.6-1.2-.4-3 0-3 1.3-2.9 .3-3-2.6-.9-2.6-1-2.1-1.8-2.5-1.2-1.6-2.4-2 2.2-2.5 1.5-.8 2.8-.8 2.8 .8 2.6 .5 2.7 1 2.7-2 2.4-3.7 .8-1.3 3-1.3 3 .1 3.2 1.3 2.8 2.8 2.1 3 1.3 3.3 .4 3.4-.4 2.9-.8 2.7-1.4 2.2 1.9zM138.4 315l2.8-1.7 3.2-.4 .3-2.7-.6-2.7-.1-2.6 .5-2.7-2.4-1.7-.4-.1 .3 2.6-2.7-.1-2.6 1.2-2.7-.1-3.5 .8-3.5 .2-.2 2.5 .2 2.5-.1 2.5 .1 2.5 2.5 .3 2.5 .7 3.1 .1 1.5 .5zM106.5 367.6l1.5-.6 1.2-1 2.2-2.6 1.4-2.9 .5-3-3.3-.5-3.5-.1-3.5 .1-2.4 1.3-2.6 .7-2.8 1-2.2 2 1 2.5z"/>
<path fill="#001993" d="M218.3 610.9l-1.1 3.2-1.1 3.2-3.2 1.5-1.9 2.5 3.6-.6 3.3 .6 2.8 2.5 3.3 .6 1.7-2.2 1.9-2.2 1.3-2.6 2.1-2-1.9-2.6-1.8-2.9-3.5-.1-3-1zM229.5 353l1.3 2.8 2 2.4 2.6 .4 2.4-1.2 2.6-.2 1.7-2.5 1.2-2.8 1.7-2.5-.6-3.2-2.6-1.8-2.4-2.1-.6-3.1 .1-2.9 1.6-2 2.3-1.5-.9-2.2-.2-2.3-1.7-2.6-1.7-2.6-2.5-2-1.4 2.8-2.6 1.7-1.2 2.9-2.3 1.9-2.3 1.9 2.3 2.6 1.9 3 .7 3.5-1.4 2.1-1.9 1.9-1.2 2.3 1.2 2.9zM272.6 317.8l1 3 3-1.4 3 1 3.1 .4 1.1-2.8 .4-3 1.6-2.7 1.7-2.6-.3-3.3-2.5-1.1-2.5-1-2.8-.1-2.4-1.5-1.5-2.8-2.1-2.6 .5-3.4-.3-3.1-2.8-.3-2.7-1.2-2.7-1.4-2.8 .3-2.9 .8-2.8 .7-3.2 1.9-.3 3.5-1.1 3 2.3 1.8 1.3 2.5 2.6 1.6 2.5 1.9 2.9 1.2 2.8 1.2 3.1 .7-.4 1.6 .1 1.7 1.7 2.7z"/>
<path fill="#002098" d="M147.9 365.8l.4 3.1 2.2 2.5 1.8 2.7-.1 3.2 .4 .2 3.1 .1 3 .8 2.8-.2 2.6-1.2 1.4-2.6 1.3-2.5-.2-3 .9-2.7-.4-2.6-1.5-2.3-.8-2.5-3.1 1.7-3.3-.8-3.5-1.4-3.1 .9-3 1.7-1 1.7zM116.7 413.8l.5 3.1-1.2 2.8 .2 .2 3.5-1.1 3.4 .2 3 2.4 3.4 .3-.5-3.2-.9-3.2 1-3.3 .2-3.2-.2-.1-2.5-.9-2.7 .6-2.6 2.2-3.4 .5zM361.2 536.3l2.6 .9 2.5 1.9 2.4 2.3 2.8 1.5 3.4 .4 1.4-1.4 2-.4 1.6-2.9 .6-3.3 .5-3.2-2.3-1.9-.2-2.9-1.4-2.2-.8-2.6 1.7-2.5 1.1-2.8 2.1-2.3 .4-.7-.9-1.9-1.2-2.7-1.5-2.6-.6-3 0-.2-1.3 .2-3.1-.4-3.1-.2-3.1 1.2-1.7 2.5-2.5 2 .1 3.6-2 2.4-3.3 1.8-3.6-1.1-3.5 .5 1.3 2.8 2.7 2.3 1.1 2.9-.1 3.2-.6 3.3 .9 2.9 2.4-.5 2.3 .6zM271.1 230.6l.9 3 3.4 1.2 2.4 1.9 3.1 1.7 3.3 1.2 3-1.3 1.5-2.9 1.3-3.1 3.2-1.1-1.6-2.6-.7-3.1-.5-3.3-2-2.3-2.4-2.2-1.8-2.5-1.8-2.5-2.9 .3-2.3 1.4-2.2 1.8-2-.7-2.7-1.6-2.8-1-2.9 0-2.9 .1-3 0-1.5 2.3-3.2 1.4-.9 2.6 .2 3.1-.8 2.7 3.1 2.1 1.9 3.2 3.5 .1 3.3-.4 3.1-1.7 3.1-1.1z"/>
<path fill="#000687" d="M318.2 271l-1.9 2.4-2.6 2-1.2 2.8-.3 3.3-.9 2.9-1.7 2.5 2.6 1.6 2.6 1.5 3.2 .6 2 2.4 2.5 1.7 2 2.5 3.5 .3 3.3-.9 1.4-2.7 1.8-2.3 2.3-2 2.4-1.8 1.3-2.8 1.8-2.3 1.6-2.5 2.3-2-1.3-2.6 .1-3.5-1-2.9-3.6-1.2-1.9-2.2-3 1.5-3.1 .5-3.2 .4-3.3-.9-3.1 .7-3.1 .3zM456.3 371.1l-.6 2.4 2.3 1.9 3.4 .6 2.1 2.2 1.6 2.7 1.7 2.5 2.2 2 8.2-2.1-1.2-2.3-.7-2.7-1-2.6-1.3-2.5 .1-3-.9-2.6-1.2-2.6-1.2-2.9 0-.1-2.7 .7-2.8 1.3-2.8 1.3-2.4 1.7-2.5 1.7zM101.2 383.7l.3 1.2 1.5 2.1-.9 2.7-.8 2.7-1.3 2.6-.8 2.6-.6 2.7-.6 2.7 .5 2.5 .1 .5 1-.2 3-.4 1.3-.9 1.4-.6 .4-3-.2-3.1 .6-3 1.4-2.9-.1-2.8-1.2-2.5-1.7-2.2-1.3-.8zM331.3 207.2l2.3 1.9 1 3 1.3 2.7 3-.6 3.3 2 3.1 .3 3-1.6 2.8-2.2 3.1 .1 .5-3.1-.4-3.2-.6-3.3 .4-3 1.2-2.8 2.4-2.6 1.5-2.7 0-.1-1.8 .1-2.4 .9-2.6 .9-2.4 1.1-3.5 .3-3.5 .7-2.9 1.4-3.1 .6-1.7 1.9-2.3 1.1-1.3 2.1-1.7 1.9-.4 .3zM278 183.9l-2.7-1.4-.1 0-.2 .5-.1-.5-2.6-.1-2.8-.7-2.8-.9-3 .5-2.8-1-1.3 .8-1.1 .5-1.6 3.1-.9 3.1 1.4 3.2 .4 3.2-.6 3.4-1.8 2.8-2.3 2.5 .1 .1 1.4 2.2 .4 2.9 2 1.8 1.4 2.2 .3 .9 3 0 2.9-.1 2.9 0 2.8 1 2.7 1.6 2 .7 2.2-1.8 2.3-1.4 2.9-.3 .1-2.2 1.5-1.5-.8-2.2 .1-2.8 1.3-3-1.9-2.5-1-2.6 0-3.2 .9-3.1-1.8-2.9-2.5-2.3zM265.5 200l-1.1-1.9-.5-2.2 1.8-.4 1.5-1.2 1.5 1.4 .9 1.9-1.3 1.8 1.4 1.7 .4 2-1.4 1.2-1.7 .6-.4 0-1-1.8-1.3-1.7z"/>
<path fill="#000b8a" d="M115.8 422.8l.2 2.9 .7 2.9 1.4 2.6 2 .6 1.9 .9 2.1-2.9 3.8-.6 2.5-2.4-.7-2.5-.2-2.6-3.4-.3-3-2.4-3.4-.2-3.5 1.1zM373 277.3l-.9 3.3-.4 3.3 .9 3.2 2.3 3 .6 3.2 3.6 .8 3.4 1.7 2.7-.4 2.8-.1 2.6-.8 2.7-.9 1.8-3 3.2-1.2 2.8-1.8 .3-1.6 1.4-.8-.3-2.1-.7-2-3.1-.5-3.2 .1-2.7-1.5-2.7-1.3-2.9-.8-2.9-.9-2.6-1.6-2.9-1-2.4-2.1-.6 1.9-1.9 .6zM418.6 437l.4 2.3 .8-.3 2.5-1.5 2.8-.9 2.9-.6 2.8-1.5 3.2-.5 3.1-.8 2.9-1.2 2.8-2.3 3.2-1.7 2.2-1.4 .5-.4 1.3-1.5 2-1.7 1.2-.6 0-.1 .9-3-.5-3.2 .6-3.4-1.3-2.9-.2-3.2-1.6-2.9-1.4-2.9-2.9-2.4-3.4-1.7-2.3 2.3-1.8 2.9-3.2 1.1-2.5 2-2.8 1.7-3.4 .1-3.1-1.2-2.9-1.7-1.8 2.3-2.5 1.8-1.6 2.5-.8 3-1.5 2.5 2.1 2 1.9 2.4 1.8 2.3 1.3 2.7 1.7 2.4-.7 3.3-1.7 2.8zM241.8 410.2l-3.5 1.6-2.7 2.1 2 2.7 1.8 2.8 3.6 1.5 1.1 3.4 1.1-3.2 2.5-1.5 2.6-1.4 2.8-1.2 2.9 .4 3.3-.7 2.6 1.3 1.9 3.1 2.7 .9 .4-3.2 1.7-2.4 2.4-1.9-1.6-2.6-.6-3-.7-3-3 .5-3.1 1.1-3 1.1-3-2-3-1-.9-1.1-3.3 0-3.2-.4-3.1-1-.9 3.2zM377.5 256l-1.4 3-1.4 3-.1 3.2 1.6 3.2 .2 3.1 2.4 2.1 2.9 1 2.6 1.6 2.9 .9 2.9 .8 2.7 1.3 2.7 1.5 3.2-.1 3.1 .5 .7-3.2 .7-3.2 1.7-2.8 1.1-3.1 2.9-2.1 1.7-2.7 3 .3 3-.1 2.9-1.1 3-.1 3-.2 3-.1 3-.1 1.5-1.7-.3-3 .5-3.1 .3-3.1 0-3 .1-3.1-.1-3-.6-2.9-1.7-2.9-.7-2.9-1-3-3.2-.7-3-1.5-3.3 1.2-3.2-.4-3.2-.2-1.2 2.6-1.9 2.3-.9 2.7-2.1 2.2-1.4 2.5-1.9 2.3 .2 3.2-1.1 2.6-.5 3-3-1.1-3.1-1.5-3.2 .1-3.2 .3-3.2-.3-3.1-1-3.3 .4-3.2 .1 0 3.1z"/>
<path fill="#0036a6" d="M431.8 301.9l-.2 3.2 1.9 2.6 1 2.9 .8 3 .7 3.1 1.2 2.8 2.7 1.9 2.8-1.1 2.8-1.1 2.8-1.1 2.6-1.5 3.1-.5 2.6-1.4 2.5-1.7 3-.6 2.3-2.1 .6-.3-1.5-2.1-1.5-2.2-2-1.7-2-1.7-.9-2.6-2.1-1.7-2.3-2.3-1.7-2.7-2.3-2.8-1.3-2.5-.6 .1-2.9 .3-3 .7-2.9 .1-3 .2-1.9 2-1.6 2.3 .9 2.7-.7 2.7z"/>
<path fill="#002ea1" d="M219.1 588.9l-1.9 2.2-1.1 2.5-1.8 2.2-1.5 2.3 2.3 1.5 3 .6 1.4 2.4 1.3 2.6 2.2-2.7 3.1-1 3.3-.9 2.7-1.8-1-3.1 .4-3.1 .4-3.2-1.6-1.9-3.3-.6-3.5 .1-3.3-.6zM258.7 614.6l-.2 2.8 1.2 2.5 2.6 1.1 2.9-.5 2.6 .7 1.8 3.3 .4 3.3-2.1 3.4 .2 3.3 1.3 1.5-2 2.1-1.9 2.2-2.6 1.5-1.4 2.7-2.1 2-.9 1 1 .2 2.5 .3 3 1.1 3 .9 1 3.2 .9 1.2 1.1-2 1.2-2.8 1.5-2.6 1.4-2.7-.4-3.6-2.5-2.2-2.4-2.4 2.5-1.6 2.1-2.2 2.2-2 3-.7 2.9-.9 2.4-1.7-2.4-2.1-2.3-2.1-1.5-2.8-2.1-2.3-1.7-2.7 .9-2.1-.6-2.3-2.7-1-2.8-.9-2.3-1.9-2.4-1.6-2.6 1.4-2.2 2-3 .7-.2 2.9z"/>
<path fill="#001892" d="M154.4 489.6l-.9 2.7-.8 2.7-1 2.7-1.7 2.3-2.3 2 1.4 2.9 2.6 1.8 2.5 1.8 2.3-1.6 1.9-2 1.2-3 1.8-2.1 2.5-1.3 2.9-1 0-.1-1.8-2.6-2.2-2.3-1.9-2.5-2.1-2.4-1.6-.3-1.6-.3zM214.3 241.2l.1 2 2.8 .1 2.8 .1 3-.9 2.8 .7 2.7 .5 2.8 1.3 2.8 .2 .1-3.1-1.4-3.4 .1-3.1 1.8-2.8 2-2.8 1.4-2.9 .1-3.1-1.2-1.9-1.6-1.7-2.6-1.8-3.2-.1-3.2-.9-3.1-.4-3.2 .8-3.2 .2-2.3-2.1-.3-.8-2.3 .7-2.6 .1-2.4 .9-1.1 2.5-.9 2.5-.9 3-1.1 3-.4 2.5 .4 2.5 0 2.6-.4 .9 1.2 .4 3.2 .4 3 1 2.9 1.6zM183 645l3.5-.8 3.5-.2 3.4-1 3.6 0 2.7-2.7 .3-.3 3-3 2-2 3-3 2.2 2 .1-.5 .2-3 .7-3.1-.2-3-.5-2.9-1.9-.7-2.6-.6-2.4 1.2-2.5 .4-3 1.4-1.1 3-1.8 2.3-1.6 2.6-3.2 2.4-3.6-1.3-3.5 .1-2.4 13zM177 440.6l3.1 .8 2.3 2 2 2.7 2.3 2 1.9-.7 .3-3 1.6-2.3 2.8-1.5 1.8-2.1 .7-2.8-3.1 0-2.5-1.2-2-2.2-2.2-1.8-2.4-1.3-2.7-1-.7-1.9-2.8-2-2.4-3.3-3.5 .3-3.7 1.7-3.2-.7 .9 2.8 1.1 2.7 .3 2.8-1.1 2.9 0 2.8 2.3 1.1 1.7 2.1 2.5 .8 1.5-.4z"/>
<path fill="#001c95" d="M238.3 143l-1.7 2.4-1.2 2.9-2.6 1.7-2.2 2-1.9 2.3-1.8 2.4-.7 2.7 .5 2.8 .1 .1 3 .3 3.4-1.3 3 .6 2.8 1.5 2.9 1 2.9 1.2 2-2.4 2.6-1.8 2.5-1.8 2-2.3-2.3-2-1.2-2.8-1.5-2.7-.6-3.2-1.5-2.7-3.1-1.2-2.4-1.2-.6-.3zM226.9 156.7l1.8-2.4 1.9-2.3 2.2-2 2.6-1.7 1.2-2.9 1.7-2.4 2.4-1.8-.7-.2-3-.3-3-.7-3 .7-3-.7-2.8 0-2.7 0-2.8-.4-2.7-.6-3.3 .9-2.6 .5zM105.4 370.7l-.3 3.3-1.2 3.1-.8 3.1 .1 3.4 1.3 .8 3.1-.1 2.7-1.2 2.9-.6 2.9-.8 1.7-.3 .5-1.6-.1-3.1 1.1-3.2-1.5-3-2.7-1.8-3.1-1.2-2.8-1.5-1.2 1-1.5 .6zM338.2 460.6l2.7-2.6 3.6-.1 .1-2.9 1.7-2.2 1.2-2.3 1.4-2.3 .2-1.3-.2-1.3-2.7-1.4-2.1-2.6-2.2-2.4-3.2-.5-3.3-.3-.9 2.7-2.6 1-2.7-.1-2.7 1.4-2.8 .2-2.7-.6-2.8-.4-1.8 2.7-1.5 2.8 1.6 2.6 1.9 2.4 1.7 2.5 3.1 1.3 2 2.2-1.9 2.2-3.4 .7-1.9 2.3-1.4 2.7-2 2.1 .2 .5 2.4 2 2.6 1.7 2.7 1.5 2.9 1.3 2.1-1.8 2.1-1.8 2.3-1.5 3-.5-.5-3.2-.6-3.2 .9-3.2zM298.3 329.3l1.9 2.4 2.4 1.7 2.7 1.2 3.1 .5 2.8 1 1.7-2.3 1.9-2.1 1.9-2.2 1.7-2.3 .7-2.8 1.2-2.6-1.1-3.1-1.8-2.6-2.8-.7-2.4-1.7-2.3-1.6-3-.3-2.9 .2-2.5 1.1-2.2 1.8-2-2.3-3.1-.6-3-.9-1.7-2.8-2.2-2-.1 .1 .3 3.3-1.7 2.6-1.6 2.7-.4 3-1.1 2.8 1.5 2.3 1 2.7 2 1.9 2.4 1.5 3.2-.7 3.1-.9z"/>
<path fill="#001490" d="M243.5 204.5l-1.4 2.6-2.6 2-1.8 2.4-1.3 2.7-.2 3.2-.8 3 1.6 1.7 1.2 1.9 2.9-.5 2.9 .2 2.8 .3 2.8 .9 2.9 .2 .8-2.7-.2-3.1 .9-2.6 3.2-1.4 1.5-2.3-.3-.9-1.4-2.2-2-1.8-.4-2.9-1.4-2.2-.1-.1-2.6-.6-2.5-.8-2.7 .6zM288.9 389.8l-1.1 2.9-.7 3-1.7 2.6 .6 1.1 2.8 .5 2.3 2.1 2.5 1.4 2.9 .1 2.9 .2 1.1-3.6 2.9-1.7 2.8-1.8 2.5-2.2-3-.8-2.3-2-1.9-2.8-2.5-1.7-3.2-.3-2.9-.9-1.6 .3-1.6 .7zM163.6 407.2l2.2 1.8 2 2 3.4-.8 2.3-2.7 1.1-2.6 0-2.9 2-2.1 1.3-2.5-1.6-2.9-1.2-3.1 1.5-3.7-1.6-3-.1 0-2.4-2.3-2.3-2.5-3.1-1.4-3-1.5-2.6 1.2-2.8 .2-3-.8-3.1-.1-.1 2.7 1 2.8 .4 2.8-.8 2.6-1.3 2.7-2.4 1.7-2.8 1-2.9 .6-.4 .7 2.5 2 2.6 1.9 2.1 2.6 .2 2.3 .3 2.2 1.8 1.4 2.6-.9 2.6-.9 2.9 .4zM156.2 395.3l-.5-2.3 1.9-1.5 2-1.2 1.6 2.1 2.7-.1 .8 2.3-.4 2.4-1.8 1.7-2.1 1-2.4-.5-1.9-1.5zM236.2 256.7l-2 1.9-2.7 1.4-2.5 1.6-2.7 1.3-1.4 2.6-1.4 2.6-2.2 1.8 .6 2.9 1 2.6 1 2.6 2 2.1 2.3 1.9 3.2-.8 2.9-1.5 2.9-1.7 3.1-1.2 3.1-1 2.1 2.5 2.3 2.1 3.5-.6 2.9 .6-.4 3.5 .8 3.1 2.3 2.7 2.8-.7 2.9-.8 2.8-.3 2.7 1.4 2.7 1.2 2.8 .3 1.9-2.2 1.8-2.3 1.7-2.4 2.1-2.1-1.7-2.6-.9-3.1-2-2.3-2.9-1.5-2.5-1.7-2.5 .5-2.1-1.3-2 1.5-2.4-.5-2.3-1.8-3.2-1.2-.3-3.2-.5-3-1.5-2.3-3-.7-3-.7-2.8-1.4-2.6-1.8-.7-1.5-1.2-1.1-2.2-.9-1.3 2.7zM248.1 378.5l3.3 1.6 3.3-.6 2.5-2.1 2.3-2.1 2.4-2.1-.8-3.1-2.5-2.1-1.4-2.7-1.2-2.8 1.6-2.4 .6-2.9 1.9-2.1-2.2-2.1-1.7-2.5-1.8-2.4-3 1.2-3.2-.3-3.2 .4-1.7 2.5-1.2 2.8-1.7 2.5-2.6 .2-2.4 1.2-2.6-.4-2.6 1.6-1 2.5-.5 2.7-.8 2.6 1.2 2.7 1.5 2.5 2.2 2 3-.6 2.8-2.2 3.3 .6 3.1-.2 1.9 2.7zM156.1 436l1.2 3.3 2.6-1.7 2.9-.7 3-.6 0-2.8 1.1-2.9-.3-2.8-1.1-2.7-.9-2.8-1.1-1.2-2.3 .2-3.3-.3-3.1-.7-1.6-3.1-2.2-2.1-2.6 1.3-1.7 2.6-2.8 .8-.5 2.3 .4 2.2 3.2 1.4 2.5 2.5 2.7 2 .1 0 1.9 2.9zM239.3 502.5l1 3.1-1.5 2.6-.8 2.8 2.9 .1 3.2-1.6 2.9 .4 2.6 2.1 2.8 .9 .8-2.7 1.4-2.3 1.3-2.4-1.1-2.5 .5-3-1.9-2.1-2.9-.7-2.5-1.7-2.8-.7 .1-2.8-.8-2.8-1.8-2.8-.3-2.9 1.9-2.8 1.1-2.8-.6-.3-2.9 1.9-3 .8-3.3-1.1-3.1 .2-1.5 2.3-.4 2.8-1.9 2.2-.7 2.7 1.3 1.1-.5 1.7 3.2 .6 3.7-.8 2.1 3.3 2.8 1.6-1 2.7zM420.1 580.7l.3 2.1 1.6 .2 3 .2 3-.2 .7-3.1 1.3-2.9 .3-1.3 .4-2.3 1.3-3.4 0-4-2-4-2.3-1-.3 .9-1 2.9-1.6 2.6-.8 2.9-1.1 2.9-2.4 .5-2.1 1.5 .8 2.8z"/>
<path fill="#000989" d="M319.1 324.4l-.7 2.8-1.7 2.3-1.9 2.2-1.9 2.1-1.7 2.3-.7 3.5 1.5 3.2 1.4 1.6 2.8 1.2 2.9 .1 3-.3 2.8 1.1 2.6 1.7 3 .1 2.9 .1 1.7-.5 1.3-1.2 1-2.9 .4-2.9-1.4-3-.7-3 .2-2.9 .8-2.9 1.4-2.8 .2-2.9-3.1 .4-2.9-1.2-3.1 .3-3 .6-3-.7-2.9-1zM288.7 536.9l1.7 2.7-.7 3.1 .2 3 2.3 2.4 2.3 2.4 2.2 2.5 1-2.7 1.4-2.4 2.1-2 1.5-2.3 1.6-2.3 1.5-2.4-.4-3.3-2.5-2.3-2.8 .6-2.8 1.3-2.8 .1-2.8-1.5-2.8-.3-.7 .5zM239.8 401l2.7 2.1 3.1 1 3.2 .4 3.3 0 .4-2.8-1.2-3.4 .9-2.6 2.6-2.1 1.6-2.4-2.7-1.2-2.3-1.5-.7-3.1 1.5-2.5-.8-2.8-3.3-1.6-1.2-3.4-1.9-2.7-3.1 .2-3.3-.6-2.8 2.2-3 .6-.6 3.6-.2 3.5-2.8 .5-2.4 1.4-2.5 1.3-2.5 1.2-3-.3-2.3 1.7-1.2 2 .2 2.4 1.6 2.4 2.5 1.2 2.1 1.8 2.6 1 2.6 .9 2.6-.8 3 .1 2-2.4 2.5-1.1 .1 3.8zM384.7 347.8l-1.5 3 1.1 2.8 1 2.8 1 2.9 2.9 1 2.5 2.4 2.7 1.6 2.5 2.4 3.1 .5 3.7-.7 3.1 .7 2.3-2.1 1.2-3.8 3.6-.4 3.1-1.1 2.5 .6 2.4 .8 2.4 .9 2.6-1.3 1.8-2.6 2.4-1.5 2.1-2.1 2.6-1.4 2.8-.9 2.4-1.6 2.7-1.1 0-2.9 1.8-2.4 .6-2.7 .3-2.8-1.5-2.4-1.1-2.6-1.8-2.2-.9-2.8-2-2.1-2.7-.2-1.9 2-2.5 2-3.4 .8-3.5 .7-2 2.8-1.9 3-2.7 1.7-1.8 3.3-3.4 1.7-2.7-1.1-3.2-.2-2.9-.8-2.8-1.1-2.1-2.2-2.1-2.1-2.4-1.9-2.4-1.6-2.3 2.1-3.3 .8-1.9 2.7-.5 1.4 .1 1.5-.2 2.9z"/>
<path fill="#000d8c" d="M291.6 452.9l-1 3 1.4 2.9 3 1 3.1 .5 2.9 1.5 3.3 .1 1.8-2.5 1.7-2.6 1.4-2.8 2-2.4 1.5-2.8-2.8-1.1-1.9-2.4-1.7-3.1-3.5 .3-2.9-.7-2.2 1.9-1.5 2.6-2.7 1.4-1.8 2.3zM269.4 411.9l1.6 2.6-2.4 1.9-1.7 2.4-.4 3.2 .1 3.2 1 2.9 2.8 .1 3.1-1.3 2.7 .2 2.7 1 2.5 1.5 2.6 1.2 .7-1.8 1.9-.1 .6-2.6 .8-2.6-.4-2.7 .6-2.6-1.8-2.3-2.2-2 1.8-2.8-.2-3 .8-2.8-.4-3.1-.2-3-.6-1.1-2.7-.1-2.6-1.8-2.7-.7-2.7 .6-2.8 1.2-1.2 2.8-1.4 2.8-1.2 2.8 .7 3z"/>
<path fill="#000c8b" d="M408.9 266.7l-2.9 2.1-1.1 3.1-1.7 2.8-.7 3.2-.7 3.2 .7 2 .3 2.1 2.9 1 2.7 1.4 2.3 2 2.9 1.1 2.7 1.7 2.9 1.1 3.2-.6 3.2-.6 3 .3 2.9 .8 1.6-2.3 1.9-2-.5-2.9-.3-3-1.5-2.8-.6-2.9 0-3-.7-2.9 .1-3 .2-3-.2-3-3 .1-3 .1-3 .2-3 .1-2.9 1.1-3 .1-3-.3zM425.1 364.9l.4 3.1 1.1 2.7 1.8 2.2 2.6 1.8 2.2 2.1 1.3 2.5 3.4 .2 2.7 2 2.4-1.5 2.6-1.3 2.3-1.7 2.6-1.1 2.6-1.3 2.6-1.1 .6-2.4 .3-2.4-1-2.8-2.2-2-2-2.1-2.7-1.6-1-2.8-1-2.9-1.2-2.6-1.8-2.3-2.7 1.1-2.4 1.6-2.8 .9-2.6 1.4-2.1 2.1-2.4 1.5-1.8 2.6-2.6 1.3zM341.4 257l-.4 3.1-.3 3.1-2.2 2.6 1.9 2.2 3.6 1.2 1 2.9-.1 3.5 1.3 2.6 2.1 .9 2.8-.9 2.8-.3 2.8-.9 2.7-1.4 2.7-1.1 2.8-1.1 3.1 .7 2.9-.2 3 .1 1.9-.6 .6-1.9-.2-3.1-1.6-3.2 .1-3.2 1.4-3 1.4-3 0-3.2 0-3.1-3.2-1.8-2.2-2.6-1-3.4-1.1-3.2-.3-3.6 1.4-3.2-2.7-1.9-1.7-2.8-1.9-2.6-2.4-2.1-2.4-2.1-3-1.6-1.7-2.8-1.1-3.2-3.1-.1-2.8 2.2-3 1.6-3.1-.3-3.3-2-3 .6-1.5 2.6-.1 3.3-1.5 2.6-1.3 2.6-.9 2.9-2.5 2.1-1.5 2.6 1.9 2.4 2.3 1.9 2 2.3 2.1 2.2 2.4 1.8 2 2.3 1.7 2.6 2.1 2-.3 3.2zM366.5 188l3 .6 3.2 0 3.1 0 2.9 1.1 3.1 .1 2.9 .8 3 .7 2.7 1.4 2.4 2.5 2.8 1.3 2.8 1.2 8.1-9.3-.5-.4-2-2.5-2-2.5-2-4-1.8-1.8-1.2-2.2-3.4-1.2-3.6-.8-3.5-.7-3.5-.3-2.5 .2-2.5-.2-2.6 0-2.4 1-.9 2.4-1.3 2.2-.8 2.4-1.5 3.4-.5 3.6-1.8 .9zM426.2 165.8l-.2-1.8-6 1-2 8-5-5 3-5-1-7-3.5-.5-3.5 2-2 10.5-2 5-1.5 10.3 4.2 3.4 1.1 .2zM281 175.3l-1.1 2.8-1 2.9-.9 2.9 .3 .5 2.5 2.3 1.8 2.9 2.1-.9 2.2 .1 3.3-.9 2.3-2.1 1.3-3.6 .9-.7-.7-.5-2.1-1.9-1.9-2.1-2.4-1.4-2.6-.6-2.5 .3-1.5-.2zM273.2 451.8l-2.3 2.5 .3 2.4 1.1 2.1 3.1 1.1 2.3 2.3 3.2-.4 3.1-.7 3.1-1 3.2 .1 1.7-1.4-1.4-2.9 1-3 .1-2.9 1.8-2.3 2.7-1.4 1.5-2.6 2.2-1.9 .8-3.6-.9-3.5-2.6-1.3-2.8-.9-2.5-1.4-2.7-.9-2.6-1.3-1.9 .1-.7 1.8 0 3-.2 3-.5 3-.9 2.9-2.8 .2-2.2 1.5-2.4 1.2-.7 3.3z"/>
<path fill="#001691" d="M166.5 413.4l-2.1 2.1 .3 3.2-1.2 2.4 1.1 1.2 3.2 .7 3.7-1.7 3.5-.3 2.4 3.3 2.8 2 1-2.6 1.4-2.6 .7-2.8 1.1-2.6-2.2-1.7-1.3-2.7-2.7-.9-3-.6-1.7-2.3-2.3 2.7-3.4 .8zM293.9 609.3l.8 3.1 .9 3.1-.2 3.1-.9 3.1 .3 3.1 3.5 .5 3.4 1.4 2.1-2.3 .9-3.6 2.9-1.2 3.5-.3 2.2-2 .3-2-1.8-2.9-1.8-2.7-3.2-.7-3-.9-3-1-2.6-1.5-2.2-.4-1.9 1zM200 520.7l.7-1.5-1-1.6-1.3-1.3 1.6-1.6 1.6-1.7-1.1-2.3-2.4-.8-1.2 2.3-2 1.7 1 1.9-.6 3.1-1.9 2.2-2.1 2.2 .4 1.2-.2 3.3-.5 3.2 1.3 .9 1.5 .5 2.1-.2 2.1-.4 3.4 .3 3.3 1.2 .4-2.6-.3-2.5-1-2.4 2.4 .5 2.1 1.1-.2-2.2 1-2.1-.7-1.1 1.9-2.7 1.8-2.7 1.3-3.1 .8-.6-.1-3.2-2.1-2.9 1-3.3-1.7-.8-1.4-1.2-.7-.8-3.2 1.5-2.6 2.3-2.8 2 .8 3.3 1.2 3.1 .2 0 .8 1.8 1.8 .9-.5 1.5-.7 1.3 1.5 1.4 .8 1.9-1.4 1.9-2.1 1.3-.7 0-1.5-1.2-1.2-1.3zM206.2 297.4l.1 3.2-1.3 3.1 .6 3.2 2.7 .7 2.5 1 2.1 1.8 2.3 1.5-.2 2.1 1 1.8 1.9 1.5 2 1.5 3.1 .3 3.2-1.2 3.1 .6 3.1 .7 3.1 .8 .4-2.1 1-1.8-.7-2.9-1-2.6-2.1-2.1-1.3-2.6-1.8-2.2-1.1-2.6-1.6-2.3 .3-2.5 .5-2.4-1.8-1.4 .1-2.3-2.9 1.5-2.9 1.9-2.9 .5-3-1.6-3-.8-3-.6-2.9 0-.6 3.2zM209.5 358.3l2.5-1.6 2.3-1.9 1.9-2.2 1.3-2.7 1.9-2.2 3.5-.6 3.5 .6 1.2-2.3 1.9-1.9 1.4-2.1-.7-3.5-1.9-3-2.3-2.6-2.6-.5-2.5-.7-2.8 1.7-3.2 1.1-2.5 2.2-1.4-.5-2.9 1.5-3.1 .4-3.2-.6-2.7 2.1-2.2 2.5-.6 3.5-2.8-.8-2.7-.6-2.8 1-2.7 .5-1.3 2.6-2.2 2.1-.2 3.1-.6 3.1 1.9 2.5 1.3 2.6 .6 2.8 3.4 .5 3.3-.7 3.5-1.3 3.3 1.9 1.7-2.4 2-2.3 2.3-1.9 2.5 .6zM313.9 362.8l2.3 1.8 1.6 2.3 1.8 2.3 1.3 2.6 3.1 .7 2.9-.9 3.1-.4 .4-2.9 .2-2.9 1.4-2.7 .9-2.7 .4-2.9-.9-3.1 .7-2.8 .3-2.8-2.9-.1-3-.1-2.6-1.7-2.8-1.1-3 .3-2.9-.1-2.8-1.2-1.4-1.6-2.5 1.6-2.2 2.5-2.8 1-2.9 .7-3.4-.6-2.7 1-2.9 .9 1 3 1.1 2.9-1.7 3.4 1 2.9 1.2 2.9 1.5 1 2.9-1.5 3-.8 3.1-1 3.1-.5 2.9-1.3zM283.7 383.6l3.1 1.5 2.9 1.8 1.6-.7 1.6-.3 3-1.8 1.3-2.9 .7-3.2 1.5-2.7-2.4-2.6-.8-3.2 .5-3.5-1.5-1-2.7 .9-2.8 1-2.9 .3-2.6 1-2.1-1.7-1.5-2.6-2.9-.5-2.4-1.2-2.3 2-3.5 1.1-2.1 2.3 .2 3.9-1.5 2.7 2.5 2.1 1.4 2.6 .8 3.1 3 .6 3 .6 2.6-1.9 2.7-1zM344.5 520.5l-2.7 1.8-1.6 2.8-3.2 1.4-2-2-2.8-1.3-2.1-2-.9-3.1-2-2.1-1.2 2.7-2.2 2.2-.9 2.9-1.4 2.6 .5 3.1 1.7 2.3 2.3 2.1 .8 2.9 2.2-2.4 .9-4.1 4.2 .3 2.9-1.4 2.6 1.3 2.4 1.6 2.5 1.4 1.6 2.5 2.3 1.7 3-.2 2.4-1.3 1.8-2.5-.9-2.9 .6-3.3 .1-3.2-1.1-2.9-2.7-2.3-1.3-2.8-2.2-1-1.1 3.3zM314.6 399l2.1 2.4 1.5 2.5-1.5 3.3-.7 3.1 .1 2.8-2.8 2.1-2.9 1.8-3.5-.6-3.3 .2-.6 2.8 .4 2.7-.2 2.8-.2 2.8 2 2.6 2.7 .9 2.5 2.2 3-1.1 2.9 0 1.7-3 2.9-2.1-.6-3.2-.6-3.2-1.5-3.1 .7-3.4 2.9-.8 2.9-.7 3-.5 2.3-2.2 .9-2.9 1.5-2.8-.8-3-.3-3 .2-2.9-3.1-.2-2.9-1.6-2.7-2.4-3.1-.4-3.4 1.4-3.2 .4-1.3 1.2 .3 2.9zM162.3 457.7l-2.2 1.8-.5 2.9 .8 2.2-.3 2.4 2.7 .9 2.8 .7 2.3 1.6 2 2.1 1.3-.3 .9-.9 2.3-2.1 2.7-1.8 .3-3.2 .1-3.1 1.4-2.6-2.4-2.4-2.1-3.3-3.9 .6-3.4-.5 .9-3.3 2.2-2.7 1-3.2 1.1-3.2-2.5-.8-1.7-2.1-2.3-1.1-3 .6-2.9 .7-2.6 1.7-.7 1.8-1 1.6 .2 2.4 2.4 2 2.1 2.5 2.3 2.1 2.8 1.6-2 1.9z"/>
<path fill="#0044ae" d="M357 321.2l.5 2.8 .9 2.7 2.5 1.8 2 2.1 1.6 1 3.1 .7 2.9 1.3 2.7 1.7 3.3 .2 3.1 .6 2.9 1.2 2.7 1.8 1.9-2.7 3.3-.8 2.3-2.1 .3-1.5-.4-2.9 .2-3-.2-2.9-.5-2.9-1-2.7-.2-.3-3.3-1.4-2.8-2.3-2.8 .8-2.8 .7-2.3-2.2-2.5-1-2.9 1.4-3 1.3-3.3 .3-2.8 1.7-3.2 .5-2.9 1.3z"/>
<path fill="#0030a2" d="M103.2 383.6l-.1-3.4 .8-3.1 1.2-3.1 .3-3.3 1.1-3.1-12.5-3.1 1 2.5 1.4 2.9 .6 3.1 1.4 2.2 .6 2.5 1 2.3 .7 2.4 .5 1.3zM271 394.8l.9 2.7 2.8-1.2 2.7-.6 2.7 .7 2.6 1.8 2.7 .1 1.7-2.6 .7-3 1.1-2.9 .8-2.9-2.9-1.8-3.1-1.5-1.6-3.3-2.7 1-2.6 1.9-3-.6-3-.6-.8-3.1-1.4-2.6-2.5-2.1 1.5-2.7-.2-3.9 2.1-2.3 3.5-1.1 2.3-2-1.4-2.6 0-3-.8-2.7-3.2 .3-3.3-.2-3.2 .6-3.3 .5-1.9 2.1-.6 2.9-1.6 2.4 1.2 2.8 1.4 2.7 2.5 2.1 .8 3.1-2.4 2.1-2.3 2.1-2.5 2.1-3.3 .6 .8 2.8-1.5 2.5 .7 3.1 2.3 1.5 2.7 1.2 2.7-1.8 2.8-.3 2.9 1.2 2.8 .1 1.8 2.2z"/>
<path fill="#002b9f" d="M305 291.5l1.2 2.8 1.2 2.7 .1 3 .1 2.9-.7 3-.5 3 .5 2.9 3 .3 2.3 1.6 2.4 1.7 2.8 .7 1.1-2.7 1.4-2.5 2.1-2.3 .5-2.9 .2-3 1-2.8 .8-2.7-2-2.5-2.5-1.7-2-2.4-3.2-.6-2.6-1.5-2.6-1.6-2.8 1.5-3.1 .3zM126.3 474.3l-.5 3.3 2.6 .9 1.8 1.9 1.4 2.3 3.6-.2 3.4-1.4 .1-3.6 1.3-3.5-2.3-1.8-2.2-2.2-2.7-1-3.2 0-1.5 .8-1.1 1.3z"/>
<path fill="#00269c" d="M288.7 516.1l2.5 2.5 1.2 3.2 2.8-.6 2.9 .2 2.9-.4 .9-2.3 .2-2.4-.4-3.3-.9-3.1-1.5-2.9-3.6 .2-3.1-1.7-.3 .1-1.8 2.4-1.1 2.8-2.1 2.1zM329.2 518.1l.9 3.1 2.1 2 2.8 1.3 2 2 3.2-1.4 1.6-2.8 2.7-1.8 2.5-1.9 1.1-3.3-2.8-2.9-.1-4-2.9 1.1-3 1.9-2.9-1.4-2.9-1.9-3 .2-2.9-.1 .7 3.8-1.2 3.6 .1 .4zM201 590.3l1.6 2.5 3.9 .9 2.1 2.1 1.1 2.8 1.6-.2 1.5-.3 1.5-2.3 1.8-2.2 1.1-2.5 1.9-2.2 1.1-2.5-2.1-1.7-.8-2.6-1.8-1.9-3 1.3-3.2 .4-3.1 .5-3.2 .3-3 1.3 .3-2.8 1.1-2.8-.9-2.8 .8-2.7-.8-2.9 .1-2.8-2.7-.3-2.1-1.7-2.4 2.3-2.8 1.2-3.3 .2 .6 2.9 1.4 2.8-1.2 3-.4 2.9 2.4 1.2 2.8 0 2 2.2 2.4 .9 1.2-.6 1.4-.2 1.4 2.6z"/>
<path fill="#001e96" d="M164.9 350l.5 3.4 .4 3.4 3.3 0 3.4 .2 3-1.7 3-1.2 3.1-1.2 .2-3.1 2.2-2.1 1.3-2.6-.9-2.4-2.1-1.4-3 1.2-3.1 .1-3 1.4-3.2-.1-3.2-.6-2.1 1.3-1.2 2.1zM167.6 530l-.6 3.2 2.6 .7 2.2 2.7 2.8 .2 3.1-1 2-1 1.4-.3 1.3 .6 3.1-.8 2.6-1.9 2.9-1.4 .5-3.2 .2-3.3-.4-1.2-2.3-2.2-1.9-2.5-2.6-1.7-2.1 2.4-2.9 .3-2.8 .4-2.1-1-2-1.1-2.2 2.5-2.6 1.8-2.6 1.9 2 2.8z"/>
<path fill="#002da1" d="M228.7 285l-.7 2.7-1.6 2.5-.1 2.3 1.8 1.4 3-.1 2.9 1.3 2.9 .5 2.9 .9 3 .5 3 .4 3.1-.3 2.9 1.2 .5-.2 1.1-3 .3-3.5 3.2-1.9-2.3-2.7-.8-3.1 .4-3.5-2.9-.6-3.5 .6-2.3-2.1-2.1-2.5-3.1 1-3.1 1.2-2.9 1.7-2.9 1.5-3.2 .8z"/>
<path fill="#0034a5" d="M133.9 350.2l-2.4 1.9-2.6 1.7-1.9 2.5 1.3 2.5 1.1 2.6 .2 2.9 1.4 1.1 1.6 1 2.9-1.3 2.6-2.3 3.1-.4 3.5 .7 3.1-.5 1-1.7-.4-3.1-1.2-3-2.9-1.4-2.3-2.6-2.7-2-3.3-.9zM206.8 546.9l1.9 .6 .9 1.7 .5 3.3-.5 3.1 .2 3.2 0 3.2-1.5 3.1-2.6 .5-2.7 .2-2.4 1.4-.1 2.8 .8 2.9-.8 2.7 .9 2.8-1.1 2.8-.3 2.8 3-1.3 3.2-.3 3.1-.5 3.2-.4 3-1.3 1.5-2.5 1-2.6-.6-2.7-1-2.7 1.9-2.4 3 .1 1.1-1.8-.3-2.9 2.2-2.6 2.2-2.5-1.3-3-1.1-3-1.3-1.1-.9-1.4 1.2-2.7 .4-2.9 1.1-2.8-.4-2.7-1.9-1.8-1.9-1.7-2.9 .2-3-.1-2.8 2.4-3.3 1.7 .5 2.9-1.2 2.6z"/>
<path fill="#002198" d="M273.9 356.6l0 3 1.4 2.6 2.4 1.2 2.9 .5 1.5 2.6 2.1 1.7 2.6-1 2.9-.3 2.8-1 2.7-.9-1.2-2.9-1-2.9 1.7-3.4-1.1-2.9-1-3-.9-1.2-1.5-.1-3 1.4-3 1.7-3.3-.4-3.4-.2-3.1 .7-1.3 2.1zM134.8 511.2l-.2 1.7 2.4 1.5 2.1 1.9 1.8 2.1 1.6 2.4 1.6-2.7 1.9-2.1 3.1-.4 2.5-1.3 2.3-1.5-.2-1.4 .9-1.1-.4-1.8-2.5-1.8-2.6-1.8-1.4-2.9-1.4 .2-1.2-.5-2.2 2.6-2.7 1.9-2.9 1.6-2.8 1.8zM227 466.3l-.1 2.9-.3 2.8 2.7 1.8 2.2 2.4 1 3.2 3.1-.2 3.3 1.1 3-.8 2.9-1.9 .6-2.9 .4-2.8 .1-2.8-1.7-2.7-.9-2.7-3.2-1-3.2-1.1-2.7-2.1 0-3.2-1.6-3.4 2.1-2.9 1.1-3 2.8-.3 3.2 1.6 2.9 .1 2.7-.7 2.3-3.1 2.6-1-.2-2.1 1.2-1.6-2.1-2-1-2.7-1.2-2.5-2.5-1.6-2-2.1-.7-2.9-2.9 .9-2.7 1.4-1.9 2.7-3.2 .3-.2 3-.2 3-.3 3-1.2 2.8-2.8-1-2.8-.2-2.5 1.3-2.6 1.1-.7 3-1.1 2.9 .6 2.9 .7 3 2.3 1.8 2.1 2.2 3.1 .3 2.7 1.1-1.8 2.3z"/>
<path fill="#002da0" d="M394.3 565.8l1.6 2.4-.3 3.2-.5 3.2 2.5 2.1 1.5 2.5 3.2-1.3 3.2-1.5 3.6 1 3.2-.7 1.3-3-1.6-3.1-2.1-2.9-.3-3.6-2.8 .3-2.8-1.5-2.7-1.5-2.8 .5-2.8 1.4-2.8 0zM289.5 308.3l1.7 2.8 3 .9 3.1 .6 2 2.3 2.2-1.8 2.5-1.1 2.9-.2-.5-2.9 .5-3 .7-3-.1-2.9-.1-3-1.2-2.7-1.2-2.8-1.3-2.8-1.3-.6-1.4 .3-2.5-2.1-2.2-2.4-3.1-1.3-2.6-2-3.3-.5-3.2 .4-3 1.3-2.1 2.1-1.7 2.4-1.8 2.3-1.9 2.2 .3 3.1-.5 3.4 2.1 2.6 1.5 2.8 2.4 1.5 2.8 .1 2.5 1 2.5 1.1 .1-.1zM192.6 611.1l-.2 2.9 2.7 1.3 3 1.1 1 3.3 2 2.1 2.5-.4 2.4-1.2 2.6 .6 1.9 .7 .5-.2 1.9-2.5 3.2-1.5 1.1-3.2 1.1-3.2 2.5-2.1 .4-1.8-.4-1.8-1.3-2.6-1.4-2.4-3-.6-2.3-1.5-1.5 .3-1.6 .2-1.1-2.8-2.1-2.1-3.9-.9-1.6-2.5 .3-3.7-1.4-2.6-1.4 .2-1.2 .6-1.6 2.6-1.7 2.4-1.3 2.7-.9 2.9-.9 2.9 .9 3.4 3.4 1.1-.9 2.7-.5 2.9zM144.7 240.2l2.1 2.1 2 2.3 1.9 2.2 2 2.3 2.6-1.2 2.7-.8 2.2-1.6 2.4-1.5 1.8-2.3 2.4-1.4 3 1.6 3.5 1 1.4 3.3 1.5 3.2 2.6-1.3 2.6-1.6 2.9 0 3 .5 .6-2.8 .2-3 .2-.8-1.3-1.4-2-4-2-4-1.2-2.2-1.8-1.8-3 .4-3 .5-3-.1-1-.1-2-.2-3 .5-3 .8-3.1-.5-2.9 1.1-2.9 .7-3.1-.1-4 2-1.7 1.9-2.3 1.1-.3 1.6 1 1.4zM221 164.2l-3 .6-.9 .6 .9 2.6-.2 2.6-.8 2.4-.9 2.5-1.1 2.5-4 2-4 2 1.1 2.3 1.9 1.7 4 2 .3 .2 2.2-1.9 2.5-1.6 2.5-1.6 2.8-1.2 2.3-1.8 2.7-1.3-1-2.7 .6-2.8-2.1-2.5-.7-2.7-.7-2.7 1.4-3.1-.1-.1-3 .8z"/>
<path fill="#0281c8" d="M249.4 596.2l-.2 2.8-1.1 2.5-.8 2.6 1.4 1.8 1.1 2 2.5 .3 2.5 .5 2.4 .6 3-.7 2.2-2 2.6-1.4 .1-2.9 .7-3-2.5-2.6 .2-2.9-3.2-.7-3.3-.8-3.2 0-3.3 1.4z"/>
<path fill="#000586" d="M453.2 422.3l0 .1 2.8-1.4 4-1 1.1 2.7 1.9 2.3 2.2 2.3 1.8 2.7 2.7-.1 2.6-.4 2.7 .5 .8-3.1 1.6-2.8 .6-3.1 .6-3.1 1.4-2.9 1-3 .1-.3-7.9-3.1-2.4 2.1-2.3 2.3-3.2 .7-3.1 .8-3.1 .9-2.5 1.8-2.5 2.1zM347.1 505.1l-1.9 3.3 .1 4 2.8 2.9 2.2 1 3.5-.5 3.6 1.1 3.3-1.8 2-2.4-.1-3.6 2.5-2 1.7-2.5-3-.4-1.4-2.4-1.7-2-3.2 0-3.1 1-3.2 .8-3.2-.1zM303.1 486.6l-1.1 2.1 2.7 1.4 2.6 1.4 .6 3.3 1.9 2.2 2.8-1.1 1.1-3.6 2.3-1.9 3-.7 2.9-1-3.4-.7-2.4-2.2-1.7-2.9-2.9 .5-2.7 1.7-3-.9-2.9 0zM242.4 483.5l.3 2.9 1.8 2.8 .8 2.8-.1 2.8 2.8 .7 2.5 1.7 2.9 .7 1.8-2.3 2.2-1.9 2.2-1.9 2.1-2 1.4-2.6 1.3-1 1.6 .4 1-3.3 1.3-3.1-1.8-2.2-.9-2.7-2.8-1.5-1.6-2.3-.4-3-2.6 1.2-2.6 1.1-2.7 1-2.6 1.1-1.5 2.6-1.7 2.4-1.7 0-1.1 2.8z"/>
<path fill="#0033a4" d="M130.8 485.3l-1.7 2.5-.1 2.8 .5 2.9 3 1.3 3.1-.3 3.2-.3 2-2.6-.3-3.6 2-2.6-2.4-1.8-1.5-2.5-3.4 1.4-3.6 .2zM272.2 538.6l-.5 3.2 .1 3.4 1.4 2.5 1.7 2.3 .3 .1 3-.7 2.9-.9 2.6-2.1 3-.8 3.2 .1-.2-3 .7-3.1-1.7-2.7-.5-2.9-2.8-.7-2.8-.8-2.7-.6-2.9-.5-.7-3.3-.2-3.4-1.7-3-.7-3.3-3 .4-3.4-1.3-2.9 .9-2.9 1.5-2.8 1.7-3.1 .1-2.1 2.5-.1 3.4 3.4 2 1.6 3.6 2.8 .7 2.9-1 2.8-.5 2.9 0 2.9 1.3 2.8-.9-1.6 2.9z"/>
<path fill="#03b4de" d="M258.5 536.2l.9 2.9 .6 3-.3 3 3.1-1.4 3-.1 3 1.3 3 .3-.1-3.4 .5-3.2 1.7-2.9 1.6-2.9-2.8 .9-2.9-1.3-2.9 0-2.8 .5-2.9 1-2.8-.7zM236.8 517.7l.3 2.7-.3 2.7-1.9 2.4-2.3 2.3 0 3.1-.6 3.3 2.2 2.8 2 2.1 2.4 1.3 3 .4 1.2-2.9 .6-3.4 2.6-1.8 2.5-1.9 2.2-2.2 1.4-.2 1.3-.8 .1-3.4 2.1-2.5-1.1-2.9-.3-3.2-1.8-2.7-2.8-.9-2.6-2.1-2.9-.4-3.2 1.6-2.9-.1-1.4 .5-1.1 1.1 .9 2.5z"/>
<path fill="#000f8d" d="M177.9 494.8l2 2.2 2.2 1.9 1.8 2.4 2.9-1.3 2.1-2.3 2.7-1.7-.1-3.3 .6-3.2-2.9-1.4-2.4-2.4-3.1-1.2-3.2 .7-2.8 1.8-2.1 2.3 .6 3.1zM395.9 594.5l-2.9 2.1-1.5 3-.5 3.6 .1 3.3 .8 1.1 1.1-.6 2.1-2 2.8-1 2.1-2 2.3-1.4 2.4-1.3 2.3-1.3 2.4-2.1 1.7-1.1-2-1.6-2.7-1-2.6-.9-2.8 .1-2.8 .6zM131.4 403.1l-.4-3.1-2.5-.9-2.3-1.2-2.4-1.2-.8 2.1-2.1 .6-1.8-.2-1.7-.6-.8-2.5-.9-2.4 1.6-1.7 1.8-1.4 2.1 0 1.9 .9 .2-3 1.9-2.3-1.5-3-2.1-2.7-1.4-1.2-1.9 .5-.5 1.6-1.7 .3-2.9 .8-2.9 .6-2.7 1.2-3.1 .1 1.7 2.2 1.2 2.5 .1 2.8-1.4 2.9-.6 3 .2 3.1-.4 3 2.5 1 2.7 0 2.1 2.6 3 1.3 2.3 2.3 3.4-.5 2.6-2.2 2.7-.6 2.5 .9 .9-2.9zM150.4 253.5l2.1-2.4 1.5 2.4 2.2 2 2.4 1.2 2.4 1.1 2.9-.3 2.2 1.8 2.4-1.9 2.8-1 2.9-.9 .6-3.2 1.4-2.9-1.5-3.2-1.4-3.3-3.5-1-3-1.6-2.4 1.4-1.8 2.3-2.4 1.5-2.2 1.6-2.7 .8-2.6 1.2-2-2.3-1.9-2.2-2-2.3-2.1-2.1-2-2.2-1-1.4-.5 2-1.2 3.4-.9 2.6 .4 2.8-.5 2.6 4 2 4 1 .7 2.6 .1 1 .7-.6z"/>
<path fill="#00118e" d="M329.1 594.3l-.6 3-.4 3.1 3.1-1 3-.6 3.1-.2 3.1 .5 3.1 1 .2-1.8-1.6-2.3-1.5-2.2-1.5-2.3-1.4-2.4-2.1-1.8-2.6 1.4-3.2 .2-2.1 2.4zM220.8 608.8l3 1 3.5 .1 1.8 2.9 1.9 2.6-2.1 2-1.3 2.6-1.9 2.2-1.7 2.2 2.5 1.7 1.2 2.4 .9 2.6 3.3-.4 2.1-3 2.2-2.7 3.7 .6 3.2-.6 .7-.9-.3-1-3-1.5-2-2.7-2.5-2.1-2.7-1.8-.1-3.1 .8-2.9 2.1-2.4 .7-2.9-1.7-3.1-3-1.8-2.7 1.8-3.3 .9-3.1 1-2.2 2.7 .4 1.8z"/>
<path fill="#002fa2" d="M274.4 521.7l1.7 3 .2 3.4 .7 3.3 2.9 .5 2.7 .6 2.8 .8 2.8 .7 .7-.5 .5-3 1.4-2.8 1.3-2.8 .3-3.1-1.2-3.2-2.5-2.5-1.4-3.2-3 1.3-2.5 3.1-3.4-.9-3.4-.7-.1 1.6-1.2 1.1zM334.7 301.2l1.9 2.2 1.7 2.3 2.1 2.1 2.3 1.8 1.7 2.4 .7 3 1.2 2.7 2.6-.9 2.5-.9 2.7 1.1 .1-3 1.6-2.7 2.5-2.6 1.8-2.7-2-3.4-.6-3.1 2.9-.5 2.6-1.7 2.9-1 2.7-1.1 3-.4 3-.7 .9-.8-.6-3.2-2.3-3-.9-3.2 .4-3.3 .9-3.3 .9-3.3-3-.1-2.9 .2-3.1-.7-2.8 1.1-2.7 1.1-2.7 1.4-2.8 .9-2.8 .3-2.8 .9-2.1-.9-2.3 2-1.6 2.5-1.8 2.3-1.3 2.8-2.4 1.8-2.3 2-1.8 2.3-1.4 2.7 1.6 2.3z"/>
<path fill="#00259b" d="M212.4 463.7l-1.5 3.1 1.9 2.8 1.1 2.9 .4 .5 3.2 .9 2.9-2.1 3-.5 3.2 .7 .3-2.8 .1-2.9 1.4-2.4 1.8-2.3-2.7-1.1-3.1-.3-2.1-2.2-2.3-1.8-2.4 1.6-2.4 1.4-2.5 1.4zM176.3 394.5l1.6 2.9 2.9 1.2 3 1.5 3.1-.8 3-.2 3.1-.3 1.5-2.4 2-2.1-1.3-2.8-1-2.9-.1-3.1-.2-3.1 2.8-1.9 2.1-2.7-.6-3.4-1.9-3.3 .9-3.4 1.1-3.4-3.3-1.9-3.5 1.3-3.3 .7-3.4-.5-.6-2.8-1.3-2.6-1.9-2.5 .6-3.1-3.1 1.2-3 1.2-3 1.7-3.4-.2-3.3 0-1 2 .8 2.5 1.5 2.3 .4 2.6 2.8 1.1 2.9 .8 3-.2 2.9 .4 2.9 .1 2 2.5 .3 2.8-1.1 2.9 .1 2.8-2.5 2.2-2.1 2.8-3.7 .3 1.6 3-1.5 3.7zM196.3 371.1l1.9 3.3 .6 3.4-2.1 2.7-2.8 1.9 .2 3.1 .1 3.1 1 2.9 1.3 2.8 2.8 1.3 2.7 1.9 3-.5 3-.6 3-.6 2.5-1.5 2-2.2-.2-2.4 1.2-2-.2-3.5-1.4-3-2.6-2.4 .4-3.1 .8-3 .9-2.8 2.8-2.1-2.6-1.9-1.8-2.4-1-3.1-2.3-2.1-2.7 0-2.5-.6-2.3 1.9-2 2.3-1.7 2.4-1.1 3.4z"/>
<path fill="#001d96" d="M226.6 402.4l-1.3 2.9 0 3 .4 3 .6 1.2 1.1 .9 2.7 .8 2.8-.3 2.7 0 2.7-2.1 3.5-1.6-.2-3.9 .9-3.2-2.7-2.1-2.7-2-.1-3.8-2.5 1.1-2 2.4-3-.1-2.6 .8zM297.2 381.2l-1.3 2.9-3 1.8 2.9 .9 3.2 .3 2.5 1.7 1.9 2.8 2.3 2 3 .8 1.4-.4 1.5-.1 1.3-1.2-.5-3.4-.1-3.3 .9-3.2 .9-3.3 3.2-1.8 2.3-2.5 1.3-3.4-1.3-2.6-1.8-2.3-1.6-2.3-2.3-1.8-2.2-1.9-2.9 1.3-3.1 .5-3.1 1-3 .8-2.9 1.5-.5 3.5 .8 3.2 2.4 2.6-1.5 2.7zM378.5 527.3l.2 2.9 2.3 1.9-.5 3.2-.6 3.3-1.6 2.9 3.2 0 2.8 .9 2.2 2.3 3 .4 2.4 2 .2-3.1 .5-3.1 1-2.8 .6-3 1.3-2.6-.5-.5-2.1-2.1-1.9-1.8-.4-.3-1.4-2.7-2.2-2.1-1.8-2.6-1.8-2.6-1.4-2.8-.4-.8-.4 .7-2.1 2.3-1.1 2.8-1.7 2.5 .8 2.6z"/>
<path fill="#002fa1" d="M252.5 445.6l1.2 1.5 2.9 1.3 3.3 .1 2.8 1.3 2.6 1.9 2.8 1.3 2.8 1.3 2.3-2.5 1.1-2.9 .7-3.3-1.3-3.1-1.8-2.6-2.6-2-2.4-2.2-2.4-2.1-2.8 1.5-2.8 1.5-2.1 2.9-3.5 .4-1.2 1.6 .2 2.1zM338.3 395l2.3 2.2 2.7 .7 .8 3.3 1.4 2.8 2.8 1.8 2.6 1.9 2.7-2.1 3-1.5 3.6 0 3 .9 3-.9 1.9-2.5 1.3-3 1.9-2.5 2.5-2 .5-2.9-.9-2.8 .5-2-2.2-1.9-2.2-2-2.4-1.7-3.2-.8-1.6-2.7-2.3 1.6-2.5-1.3-1.3-2.3-1.1-2.4-.9-2.5-2.8 .2-2.7-.8-2.7-.4-1 .7-3.1 .8-3.2 .7-3.5-.4-3 1.6 .7 2.8-.9 3.2 .3 2.9 2.7 2.3-1 2.6-.9 2.5-.5 2.6 0 2.8 2.8 .4zM348 388.1l-1.3-3 2.5-1.7 1.6-2.7 1.7-.2 1.7 .6 1.5 2.9 1.6 2.9-2.2 2-1.9 2.4-1.7 .4-1.7-.8z"/>
<path fill="#0031a3" d="M228.9 301.1l1.1 2.6 1.8 2.2 1.3 2.6 2.1 2.1 1 2.6 .7 2.9 1.9-1.8 2-1.6 2.8-.1 .8-3.3 .1-3.8 2.1-2.6 2.2-2.5 3-2.1-2.9-1.2-3.1 .3-3-.4-3-.5-2.9-.9-2.9-.5-2.9-1.3-3 .1-.5 2.4-.3 2.5z"/>
<path fill="#001b95" d="M177.5 460.9l-.1 3.1-.3 3.2-2.7 1.8-2.3 2.1 2.9 .7 2.9 .5 2.6 1.2 3.2-.4 2.6 1.4 1.6-2.2 2.2-1.6 2.5-1.1-2.7-1.2-1.8-2.1-1.4-2.4-1.7-2.3-1.7-2.2-2.4-1.6-2 .5zM349.7 567.4l.6 2.9 1 2.6 1 2.7 1.5 2.5 3.1-.9 3.1-.9 1.7-3.1 2.3-2 .5-3.4-1-3.2-2.8-.1-2.6-.7-2.5-1.3-2.9 .9-3.1 .2-.8 1.1zM141.2 313.3l-2.8 1.7-1.8 1.6 1.4 .4 .5 3.2 1.2 2.2 2.1 1.3 2.5 2 2.8 1.1 2.7 1 .2-.1-.7-2.8-.7-2.9-.7-2.8 .6-3-2-1.7-2.1-1.6zM205.1 533.5l1.4 2.7 1.9 2.5 3.3-1.7 2.8-2.4 3 .1 2.9-.2 1.5-3.3 .6-3.5 1.2-1.5-.4-2.8 .1-2.9-1.5-2.5-1.8-1-2-.4-2.9-.8-1-2.9-.8 .6-1.3 3.1-1.8 2.7-1.9 2.7 .7 1.1 2.1 .6 2.2 .1 .2 1.3 .7 1.2-.5 1.5-1.2 1.1-2-.7-2 0-.3-.8-2.1-1.1-2.4-.5 1 2.4 .3 2.5-.4 2.6zM347.9 412.6l-1.8 2.2-1 2.7-1.4 2.6 2.4 2 2.7 1.5 2 2.8 2.6 1.7 3.2 .8 .9 3.3 .6 3.3 2.3 3.1 3.8 .5 2.9-.1 2.9 1.5 2.9-.1 3-.9 2.9 .4 2.6-1.4 2.1-1.8 1-2.7 1.2-2.6-1-3.4-2-2.9-1.9-2.9-3.1-1.6-3-1.8-3.4-1-1.5-2.6-1.2-2.7-3-1.9 .3-3.3 .3-3.2-3 .9-3-.9-3.6 0-3 1.5-2.7 2.1-1.3 2.6zM109.2 366l2.8 1.5 3.1 1.2 2.7 1.8 1.5 3-1.1 3.2 .1 3.1 1.9-.5 1.4 1.2 3-.9 2.4-2.2 3.3 .2 .3-3.9 2.4-3.1-1-2 .6-2.2-1.6-1-1.4-1.1-.2-2.9-1.1-2.6-1.3-2.5 1.9-2.5 2.6-1.7 2.4-1.9 2.1-2.3-.9-3.6 1.1-3.6-2.3-2-1.2-1.3-.8 .9-2.6 1.6-2.3 2.1 .4 2.5 .6 2.5 1.4 2.3 .6 2.7-3 1.5-2.5 1.2-.5 .3-2.3 1.1-2.3 1.1-2.4 .8-3.5-.4-.2-.1-.5 3-1.4 2.9z"/>
<path fill="#04d1eb" d="M276.7 552.6l.2 3.1 2.2 1.9 1.7 2.3 2.5 .9 2.5 .7 2.4 .9 2.8-1.6 2.6-1.7 2.4-2 .9-3.4-.2-.7-2.2-2.5-2.3-2.4-2.3-2.4-3.2-.1-3 .8-2.6 2.1-2.9 .9-3 .7z"/>
<path fill="#00289d" d="M292.1 524.9l-1.3 2.8-1.4 2.8-.5 3 2.8 .3 2.8 1.5 2.8-.1 2.8-1.3 2.8-.6 .9-1.8-.2-2.7-.1-2.7-.2-2.7-.9-1.4-1.4-1-2.9 .4-2.9-.2-2.8 .6zM156.6 519.2l1.7 3 3.8-.4 3.1 2.3 2.6-1.9 2.6-1.8 2.2-2.5-1.8-2 0-2.8 .2-2.9 1.8-2.4-1.4-2.7-2.6-1.9-1.2-2.8-.8-2.9-2.9 1-2.5 1.3-1.8 2.1-1.2 3-1.9 2-2.3 1.6 .4 1.8-.9 1.1 .2 1.4 .7 3.5zM128.7 453.8l-1.9 2.9 2.5 2.7 1.9 3.1-1.9 3 .3 3.5 3.2 0 2.7 1 2.2 2.2 2.3 1.8 2.1-2.4 3.2-.7-1.1-2.8-.7-2.9-1.1-2.8-.3-3.1 .7-1.8 1.3-1.4-2.4-2.3-2.8-1.8-2.6-2.1-2.4-2.2-1.9-.2-1.9-.2-.5 3.3z"/>
<path fill="#001a94" d="M175.5 258.5l.5 3.2 1.8 2.8 1.7 2.7 3.4-.2 3.5 .4 3.5-.2 .5-.4 .8-2.8-1-3 1.6-2.7 .6-2.8-.1-2.9-1.9-1.7-1.1-2.3-2-1.6-3-.5-2.9 0-2.6 1.6-2.6 1.3-1.4 2.9-.6 3.2zM229.2 573l.5 2.6 1.4 2.3 1.4 2.2 2.4-2.1 3.4-.4 2.8-1.6 2.2-2.3-.4-2.2 1.3-2.7 .4-2.9 .2-3-1.2-2.4-1-2.6-2.5-1.5-2.6 2.1-2.8 1.7-1.4 3.1-.5 3.2 1.8 2.6-2.7 2zM153.5 479l-.1 2.9 .1 2.8-2.7 .4-2.8-.9-2.8 .5-2.7 .7-2 2.6 .3 3.6-2 2.6-3.2 .3-3.1 .3-3-1.3-2 1.2-1.2 3.2 .8 3.2 .7 3.2 3 .7 2.7 1.3 1 3.3 2.8-1.8 2.9-1.6 2.7-1.9 2.2-2.6 1.2 .5 1.4-.2 2.3-2 1.7-2.3 1-2.7 .8-2.7 .9-2.7 1.2-2.6 1.6 .3 1.6 .3 2.4-1.4 2.4-1.3 2.2-1.6 2.3-1.4 1.7-2.3-.5-3.7 .6-3.6-2-2.1-2.3-1.6-2.8-.7-2.7-.9-2.4 2.2-2.9 1.4-2.1 2.6 .1 2.9zM201.8 439.1l2.3 1.7 2.2 1.6 1.3 2.5 3.1-.2 3.2 .8 3-.7 3.1-.7 .5 .3 2.6-1.1 2.5-1.3 2.8 .2 2.8 1 1.2-2.8 .3-3 .2-3 .2-3-2.3-1.9-2.9-.8-2.8-1-2.2-1.9-2.7 1.4-2.9 .8-3.4 .4-3.3-.4-3-1.3-2.8-2.1-1.3 2.5-2.5 2-1.6 2.4-.6 3.1 1.8 2z"/>
<path fill="#00279c" d="M119.1 511.2l.7 3 1.4 2.9 2.1 2.4 3.2 0 3.3-1.5 2.1-3 2.7-2.1 .2-1.7-.3-1.6-1-3.3-2.7-1.3-3-.7-2.6 1.3-2.6 1.2-2.5 1.3zM306.6 522.5l3.2-.9 .9-2.3 3.2-.6 3.2 0 .2-.2-2.2-1.7-.8-2.6 1.9-2.4 2.2-2.2 1.6-2.7-3.2-.4-2.6-1.8-2.6-1.6-2-2.2-2.3 2.1-2.3 1.9-2.8 1.2-1.5 .3-1.4 .6 1.5 2.9 .9 3.1 .4 3.3-.2 2.4-.9 2.3 1.4 1 .9 1.4zM308.7 517.4l-1.3-1.8 .2-1.8 1.2-1.2 1.7-.2 1.1 1 1 1-.5 2.4-1.5 1.9z"/>
<path fill="#001591" d="M278.6 497.2l2.3 2.4 2 2.7 2.2 2.5 3.9 0 3.3 .8 .3-.1 0-3.3 .7-3.2 1.7-3-.1-3.3-1.8-2.1-1.5-2.9-3.2 .3-2.8-.7-2.6 1.7-3.4 .6-1.7 2.6-1.6 2.8zM314.5 546.3l-1 3.2 .6 3.5 3.4 .5 3.1 2.4 3.7-.9 2.8-1.5 1.9-2.7 2.9-1.6-1.9-2.6-.2-3.5-1-3-2.5-2.3-1.9 .4-3.3 1.1-2.9 2-3.1 1.7zM209.2 258.3l.5 2.8 1.9 2.5 .9 2.7-2.5 1.1-1.9 1.9-1.2 2.6-.6 2.7-1.7 2.4-.7 2.8-1.4 2.5-.4 2.8-.9 2.7 1.6 2.6 3 .7 2.9 0 3 .6 3 .8 3 1.6 2.9-.5 2.9-1.9 2.9-1.5 1.6-2.5 .7-2.7-.5-3-2.3-1.9-2-2.1-1-2.6-1-2.6-.6-2.9 2.2-1.8 1.4-2.6 1.4-2.6 2.7-1.3 2.5-1.6 2.7-1.4 2-1.9 1.3-2.8 1.3-2.7-1.9-1.7-1.6-2-1.2-2.3-2.8-.2-2.8-1.3-2.7-.5-2.8-.7-3 .9-2.8-.1-2.8-.1-.1 3.8-2.4 2.7-2.2 2.7 0 2.9zM169.8 479.6l-1.7 2.3-2.3 1.4-2.2 1.6-2.4 1.3-2.4 1.4 2.1 2.4 1.9 2.5 2.2 2.3 1.8 2.6 1.9-2 2.2-1.7 2.8-.3 2.5-1-.6-3.1 2.1-2.3 2.8-1.8 3.2-.7 1.2-3.2-.8-3.8 2.2-3-2.6-1.4-3.2 .4-2.6-1.2-2.9-.5-2.9-.7-.9 .9-1.3 .3-.6 3.6z"/>
<path fill="#0045ae" d="M451.1 403.7l1.6 2.9 .2 3.2 1.3 2.9-.6 3.4 .5 3.2 2.5-2.1 2.5-1.8 3.1-.9 3.1-.8 3.2-.7 2.3-2.3 2.4-2.1-1.8-2.6-2-2.4-1.3-2.8-.8-3.1-.7-3.1-2.9 1-2.8 .9-2.1 3.1-2.8 1.1-3.2-.1-3.1 .2z"/>
<path fill="#001994" d="M218 164.8l3-.6 2.7-1.2 3-.8-.5-2.8 .7-2.7-15.8-16.3-.7 .1-3.4 .5 1 2.7 1.1 2.6 .9 2.7 .8 2.7 1.1 2.7 1.1 2.6 .6 2.6 1.4 2.4 1.9 2.8 .2 .6z"/>
<path fill="#000787" d="M171.1 589.6l2.9 1.1 2.9 .9 2.8 1.1-.4-3.6 1-3.2 2.2-2.9-2.5-1.6-2.3-2.2-2.3-2-.1 0-.2 .7-1.6 2.5-1.5 2.6-1.4 3.4-.5 3.2zM155.6 442.7l1-1.6 .7-1.8-1.2-3.3-1.9-2.9-1.9-2.9-.1 0-2.7-2-2.5-2.5-3.2-1.4-1.7 1.8-1.7 1.6-2.6-.5-2.4 1-2.5 .3 1.1 2.5 .1 2.5-.3 2.7-.6 3.7-3 1.6-3 1.6 .3 2.9 2.6 1.3 1.9 .2 1.9 .2 2.4 2.2 2.6 2.1 2.8 1.8 2.4 2.3 2.1-1.1 .5-1.1 1.8-2.6 2.8-1.6 2.2-2.4 2.3-2.2zM145.2 441.7l-1.4 1.7-1.9-.2-1.7-.7-1.6-2.3 .2-2.8 1.1-2.2 2.3-.6 1.8 .7 1.8 .2 .2 2.7 1.2 2.4z"/>
<path fill="#fb3800" d="M410.1 316.5l.6 1.8-.5 3.1-2 2.4 2.7-.1 2.6 1.2 1.8-1.5 2.3 0-.3-2.4-1.1-2.2 1-2.6 2.2-1.8-1.4-.8-1.8-3.1-1.7-3.1-1.8-.8-2 .3-1.9 1.5-1.6 1.8 2.6 1.5 .5 2.9z"/>
<path fill="#d2ff2e" d="M138 390.1l.7 3.2 2 2.5 .1 0 1.5 .4 1-1.1 .4-.7 2.9-.6 2.8-1 2.4-1.7 1.3-2.7 .8-2.6-.4-2.8-1-2.8 .1-2.7-.4-.2-.6 .3-3 1.8-2.3 2.6-1.8 3-3.7 .8-2.9-2.4-1.8 .9-1.8 .6 2 2.5z"/>
<path fill="#a0ff61" d="M109.1 437.8l1.2-2.2-1.5-2.9-.2-3.8-2.9-1.8-2.8-2-3-.1-3-.2-.1 0 .2 .2 .3 3-.3 3-.4 3 .4 3 2.7 2.3 .9 1.1 1.4 1.6 1.8 1.9 1.7 2 1.5 2.1-1.4 2.7 .7-.3 2.8-.9 3-.6 .3-1.7-1.9-1.9-.9-2.4-.7-2.6z"/>
<path fill="#8cff75" d="M347 492.5l-1.8 2.8 2.6 2.6 .2 3.6 3.2 .1 3.2-.8 3.1-1 3.2 0 1.7 2 1.4 2.4 3 .4 3.1-1.2 3.1 .2 3.1 .4 1.3-.2 .1-2.8-.5-3-.9-2.6-.6-2.7-.5-2.7-1.8-1.9-1.8-1.9-1.4-2.2-1.9-2.2-.9-1.7-.4 .3-2.6 1.5-.8 3.4-2.2 2.1-2.7-.7-2.8 0-2.8-1.4-2.9 1.4-2.7 2.2z"/>
<path fill="#beff42" d="M187.9 244.2l-.6 2.8 2 1.6 1.1 2.3 1.9 1.7 .1 2.9-.6 2.8-1.6 2.7 1 3-.8 2.8 2.9 .3 3 .6 2.8 1.2 3 .3 3-.3 3 .4 1.9-1.9 2.5-1.1-.9-2.7-1.9-2.5-.5-2.8 .5-3 0-2.9 2.2-2.7 2.4-2.7 .1-3.8-.1-2-1.4-1.3-2.9-1.6-3-1-3.2-.4-1.2-.4-.6 1.5-4-1-3 0-3 3-2 3-1.3-2.1-.4-.5-.2 .8z"/>
<path fill="#46ffbd" d="M147.8 256.6l.2 1.7 0 2.7-.3 3-.2 3 .4 2.3 2.1 1.2 2.2 2.5 2.5 1.7 1.6-.2 2.6 1.4 3 .1 .8-1.9 1.9-.9 2.6-1.3 2.4-1.9 2.7-.8 3.1 .3 2.8-.8 1.3-1.5-1.7-2.7-1.8-2.8-.5-3.2-1.3-3-2.9 .9-2.8 1-2.4 1.9-2.2-1.8-2.9 .3-2.4-1.1-2.4-1.2-2.2-2-1.5-2.4-2.1 2.4-1.9 2.5zM280.9 238.4l-3.1-1.7-2.6 1.3-3.2 .1-2.5 1.8-2.5 1.5-2-2.3-2.3-1.8-2.2-1.9-2.8-1.1-.3 2.8-.8 2.6-2.3 1.8-1.3 2.2-2.3 1.9-2.7 1.2-2.8 1.1-2 2.4-2.2 1.8 1.2 1.1 .7 1.5 2.6 1.8 2.8 1.4 3 .7 3 .7 1.5 2.3 .5 3 .3 3.2 3.2 1.2 2.3 1.8 2.4 .5 2-1.5 2.1 1.3 2.5-.5 1.5-2.3 1.8-2.1 2.4-1.5 1.2-2.6 1.5-2.2 3.2-.9 3.3-.6 2.8-1.8-.5-2.9-.2-3.1-.4-2.9-1-2.7-2.6-2.3-.3-1.5 .4-1.6z"/>
<path fill="#78ff8a" d="M230.3 584.9l0 2.6 1.6 1.9-.4 3.2-.4 3.1 1 3.1 3 1.8 1.7 3.1 3.5 0 3.5 .3 3.5 .1 .8-2.6 1.1-2.5 .2-2.8 1.1-2.5-2-2.3-1.2-2.8 1.6-2.9-.1-3.3 1.3-3-2.5-1.7-2.6-1.4-1.7-2.6-2.2 2.3-2.8 1.6-3.4 .4-2.4 2.1-1.5 2.3z"/>
<path fill="#03a5d8" d="M216.5 186.3l-2.2 1.9 3.7 1.8 .6 2.7 1.4 2.3 .6 1.9 .3 .6 1.1 2.5-2 3-2 4 3 3 1.7 1.8 2.3 1.2-3.6 0-3.4 1-3 1.1-.7 .2 .3 .8 2.3 2.1 3.2-.2 3.2-.8 3.1 .4 3.2 .9 3.2 .1 2.6 1.8 .8-3 .2-3.2 1.3-2.7 1.8-2.4 2.6-2 1.4-2.6 1.8-2.4-1.4-2.4-1.9-2.1 .7-2.9 2.9-2.5-.1-3-1-3.1 0-3.1-2.5-1.9-2.6-1.1-2.7-1-3.1 1.4-2.8-.4-1.5-1.2-2.7 1.3-2.3 1.8-2.8 1.2-2.5 1.6z"/>
<path fill="#0167bd" d="M141.5 290.8l-.1 .1-.1 1.1-.3 3 .4 2.7 .2 2.6 .1 .1 .4 .1 2.4 1.7-.5 2.7 .1 2.6 .6 2.7-.3 2.7 2.1 1.6 2 1.7-.6 3 .7 2.8 .7 2.9 .7 2.8 .9 .1 2.2-2.3 2.1-2.4 2.4-2.2 3.1-1.2 2.6-1.8 1.9 0 1.8-.3-.2-3.1 1.1-2.9 .5-3 .4-3.1 .7-2.9-.6-.4 .6-3.2-.2-2.9-1.1-2.8-.8-2.9-1-2.8-.8-2.9 .2-.6-1.8-2.4-1.1-2.8-1-2.9-3-.1-2.6-1.4-1.6 .2-1.5 2.7-2.3 2.2-1.4 2.7-2.3 2.2-1.3 2.9-2.5 1.1z"/>
<path fill="#0035a6" d="M132.5 379.5l1.1 2.4 0 2.8 .7 .2 1.8-.6 1.8-.9 1-3.3 1.3-3.2-3.2-1.2-2.5-2-1.5-3.1-2.4 3.1-.3 3.9zM193.4 521.1l1.9-2.2 .6-3.1-1-1.9-1.3-1.1-1.7-.5 .3-2.4-.2-2.3 1.8-.1 1.2-1.4 1.7 .7 1.4 .9 0 2.2 2.4 .8 1.1 2.3 1-.1-1.2-3.1-.8-3.3 2.8-2 2.6-2.3 3.2-1.5-.5-.9-2.7-.3-2.7-.1-2.8 .4-2.6-.9-2.7-.3-1.6-1.5-2-1.1-2.7 1.7-2.1 2.3-2.9 1.3-.4 2-.7 1 .3 2.9-.1 2.9 .9 2.8 1 2.7-.4 1.3 2.6 1.7 1.9 2.5 2.3 2.2z"/>
<path fill="#0039a8" d="M370.4 558.5l3.2-1-1-3-.8-3 1.5-3.1 1.6-2.3 0-2.8-3.4-.4-2.8-1.5-2.4-2.3-2.5-1.9-2.6-.9-.9-2.5-2.3-.6-2.4 .5-1.8 2.5-2.4 1.3-3 .2-.4 1.5-.3 1.6-2 2.9-1.4 3.3 1.5 2.4 1.1 2.6 2.2 1.9 .5 3.2 1.1 3.2-1.1 3.3 3.1-.2 2.9-.9 2.5 1.3 2.6 .7 2.8 .1 2-2.2 2-2.2zM357.5 553.5l-1.9-.7 .4-2.6 1.5-2 1.8-.3 1.8 .9 1.3 1.4-1.9 1.9 0 2.7-1.8 .3z"/>
<path fill="#00269b" d="M326.3 537.8l.5-1-.8-2.9-2.3-2.1-1.7-2.3-.5-3.1 1.4-2.6 .9-2.9 2.2-2.2 1.2-2.7-.1-.4 1.2-3.6-.7-3.8-.4-.6-3.5-1.3-3.7 .6-1.6 2.7-2.2 2.2-1.9 2.4 .8 2.6 2.2 1.7-.2 .2-.9 2.4 .1 2.7 .9 1.1 1 1.2-2.9 1.3-1.3 2.8-1.1-1-1.4 .1-.4-3 .3-2.9-1.6-1.8-3.2 .9-3.3 .9 .2 2.7 .1 2.7 .2 2.7-.9 1.8 2.5 2.3 .4 3.3 2.2 .8 2.3 .3 3.1 .4 1.7 2.6 3.1-1.7 2.9-2 3.3-1.1z"/>
<path fill="#000888" d="M413.5 324.9l-2.6-1.2-2.7 .1-2.3 1.9-3.2 .1-3 .5-2.1 2-1.9 2.6-2.7 1.1-.3 1.5 2.4 1.6 2.4 1.9 2.1 2.1 2.1 2.2 2.8 1.1 2.9 .8 3.2 .2 2.7 1.1 3.4-1.7 1.8-3.3 2.7-1.7 1.9-3 2-2.8 3.5-.7 3.4-.8 2.5-2 1.9-2 2.7 .2 .6-2.6 .2-2.7-2.7-1.9-1.2-2.8-.7-3.1-.8-3-1-2.9-1.9-2.6 .2-3.2-.1-3.1 .7-2.7-.9-2.7-2.9-.8-3-.3-3.2 .6-3.2 .6-2.9-1.1-2.7-1.7-2.9-1.1-1.2 2.9-.6 2.9 1.1 2.8 1.6 2.9 0 2.9-.9 2.9 2-.3 1.8 .8 1.7 3.1 1.8 3.1 1.4 .8-2.2 1.8-1 2.6 1.1 2.2 .3 2.4-2.3 0zM302.1 416.2l1.5 .4 3.3-.2 3.5 .6 2.9-1.8 2.8-2.1-.1-2.8 .7-3.1 1.5-3.3-1.5-2.5-2.1-2.4-2.7-2.2-.3-2.9-1.5 .1-1.4 .4-2.5 2.2-2.8 1.8-2.9 1.7-1.1 3.6-2.9-.2-2.9-.1-2.5-1.4-2.3-2.1-2.8-.5 .2 3 .4 3.1-.8 2.8 .2 3-1.8 2.8 2.2 2 1.8 2.3 3.4 0 3-1.7 3.3-.4 3.1-1.2zM312.3 386l.1 3.3 .5 3.4 3.2-.4 3.4-1.4 3.1 .4 2.7 2.4 2.9 1.6 3.1 .2-.2 2.9 .3 3 .8 3-1.5 2.8-.9 2.9 2.5 1.4 2.3 1.6 2.3 1.6 2.8 1 1.9 2.3 1.9 2.1 .2 0 1.4-2.6 1-2.7 1.8-2.2 1.7-2.3 1.3-2.6-2.6-1.9-2.8-1.8-1.4-2.8-.8-3.3-2.7-.7-2.3-2.2-2.9-.1-2.8-.4 0-2.8 .5-2.6 .9-2.5 1-2.6-2.7-2.3-.3-2.9 .9-3.2-.7-2.8-1.4-.4-.8-1.2-3.1 .4-2.9 .9-3.1-.7-1.3 3.4-2.3 2.5-3.2 1.8-.9 3.3z"/>
<path fill="#001b94" d="M151.3 449.7l-2.8 1.6-1.8 2.6-.5 1.1-2.1 1.1-1.3 1.4-.7 1.8 .3 3.1 1.1 2.8 .7 2.9 1.1 2.8 2.5 .5 2.6 .5 2.3 1.3 2.1-2.6 2.9-1.4 2.4-2.2 .3-2.4-.8-2.2 .5-2.9 2.2-1.8 1.1-2.5 2-1.9-2.8-1.6-2.3-2.1-2.1-2.5-2.4-2-2.3 2.2z"/>
<path fill="#003daa" d="M424.3 405.6l3.1 1.2 3.4-.1 2.8-1.7 2.5-2 3.2-1.1 1.8-2.9 2.3-2.3-.8-3 .5-3.2-1.3-2.9-1.5-2.9 .3-3.2-2.7-2-3.4-.2-3 .9-2.4 1.6-2.3 1.8-2.4 1.6-2.4 1.6-2 2.2-2.5 1.5-1.8 2.4-2.6-.8-3.3 1.4-2.1-2.1-2.1-2.1-1.5 2.6-2.7 1.6-4.2 .4-2.1 2.1 .4 4.1-1 3 2.3 1.9 1.6 2.4 2.3 1.9 2.2 1.8 1.3 2.7 1 2.9 2.6-.5 2.8 .6 2.6-.8 1.5-2.5 .8-3 1.6-2.5 2.5-1.8 1.8-2.3z"/>
<path fill="#001590" d="M240.1 556.4l2.5 1.5 1 2.6 1.2 2.4-.2 3-.4 2.9-1.3 2.7 .4 2.2 1.7 2.6 2.6 1.4 2.5 1.7 2.5-3.1 4 .8 1.4-1.3-.4-1.7-1-2.8-.6-2.8-.6-2.8-.7-2.8 1.4-3.3 3.4-1.5-1.3-3.1-.6-3.3-.8-3.2-2.7 .1-2.8 .5-2.7-.4-2.6-1.2-2.8-.1-1.6 3.3-2.1 2.9 .6 1.4z"/>
<path fill="#002a9e" d="M128 524.8l.3 2.7 .2 2.8-2.4 1.8-2.3 1.7 .4 .5 2.8 1.7 2.5 2 2.5 2 2.4 1.2 2.6 .8 3 .5 2.5 .4-.2-3-.9-3 0-3.1-.4-3 .7-.8-.9-3.2 .5-3 1.2-3-1.6-2.4-1.8-2.1-2.1-1.9-2.4-1.5-2.7 2.1-2.1 3-3.3 1.5 .7 2.6zM168.8 602.2l3-.1 2.9-.8 2.9-.6 2.9-.5 1.2-.7 .3-1.4-.6-2.9-1.7-2.5-2.8-1.1-2.9-.9-2.9-1.1-1 0-.1 .4-.5 2.7-.8 2.7-.7 2.6-1.4 2.2-1.1 2.1 .3-.1zM106.8 482.2l-2.1 2.3-1.2 3.3-.8 .8 .3 1.4 2.2 1.8 2.1 1.9 1.7 2.3 1.2 1.4 1.8 .1 2.9-1.2 2.1-2.4 2.5-2-.3-3.3-.3-3.3-.3-3.3 2.3-1.7 2.1-1.9 2.8-.8 .5-3.3 .7-3.2-2.7-1.5-3.5 .5-2.7-1.6-2.7-1.6-2.8-1.3-1.8 .4-.8 1.6 .9 3.4-.6 3.6 1 3.4-2.2 2.2zM234 609l-.8 2.9 .1 3.1 2.7 1.8 2.5 2.1 2 2.7 3 1.5 .3 1 2.6 1.4 3.2-.7 2.6 1.7 2.3-2.5 2.3-2.3 2.9-1.8-1.2-2.5 .2-2.8-1.7-2.4 .2-2.9-2.4-.6-2.5-.5-2.5-.3-1.1-2-1.4-1.8-3.5-.1-3.5-.3-3.5 0-.7 2.9zM209.1 493.9l.8 2.9-1.2 3 .5 .9 .7 .8 1.4 1.2 1.7 .8 2.6-1.1 2.7-.6 2.6-1.1 3 .3 2.8-2.3 1.7-2.9 .4-3.6 .5-1.7-1.3-1.1 .7-2.7 1.9-2.2 .4-2.8 1.5-2.3-1-3.2-2.2-2.4-2.7-1.8-3.2-.7-3 .5-2.9 2.1-3.2-.9-1.6 2.7-.1 3.1 .1 3-.3 3-1.6 2.1-2.3 1.2 .3 2.9z"/>
<path fill="#001692" d="M177.7 579.2l2.3 2.2 2.5 1.6 2.8-1 2.4-1.5 .4-2.9 1.2-3-1.4-2.8-.6-2.9 3.3-.2 2.8-1.2 2.4-2.3 2.1 1.7 2.7 .3 2.4-1.4 2.7-.2 2.6-.5 1.5-3.1 0-3.2-.2-3.2 .5-3.1-.5-3.3-.9-1.7-1.9-.6-2.3 .5-2.3-.3-2.4 1.8-2.5 1.8-1.3 2.8-2.1 2.2-2.6-1.5-2.5-1.7-3.2-.1-1.3 .6 1 .8 2.7 1.2-1.6 3.3-2.4 2.7-1.5 2.2-1.4 2.3-.2 .4-.9 2.1-1.4 2.3-1.4 2.3-1.2 2.4-.7 2.2 .1 0zM223.3 523.4l.4 2.8-1.2 1.5-.6 3.5-1.5 3.3 1.9 1.7 1.9 1.8 .4 2.7 3.3-1 2.8-2.1 3.5-.6-2.2-2.8 .6-3.3 0-3.1 2.3-2.3 1.9-2.4 .3-2.7-.3-2.7-.4-2.6-.9-2.5-1.9-.4-1.9-.4-2.8 .9-3.2 .5-2.2 1.8-1.6 3 1.5 2.5z"/>
<path fill="#001390" d="M311.6 503.1l2.6 1.6 2.6 1.8 3.2 .4 3.7-.6 3.5 1.3 .6-3.1-1-3.2 1.3-3 1.3-3.1-.9-3.2-2.4-1.5-2.3-1.7-1.9-.1-2.9 1-3 .7-2.3 1.9-1.1 3.6-2.8 1.1-1.9-2.2-.6-3.3-2.6-1.4-2.7-1.4-2.2 1.5-2.4 1.3-2.5 1.2 .1 3.3-1.7 3-.7 3.2 0 3.3 3.1 1.7 3.6-.2 1.4-.6 1.5-.3 2.8-1.2 2.3-1.9 2.3-2.1z"/>
<path fill="#000788" d="M312.5 241.4l0 3.3-1 2.9-1.9 2.8-1.4 2.8-.8 3-2.6 1.8-2.6 1.2-2.8 .8-3-.4-3 0-.2 3 .1 3.1-2.7 2.7-1.1 2.9-1 2.9 1.9 3.3 .2 3.1 2.6 2 3.1 1.3 2.2 2.4 2.5 2.1 1.4-.3 1.3 .6 3.1-.3 2.8-1.5 1.7-2.5 .9-2.9 .3-3.3 1.2-2.8 2.6-2 1.9-2.4 1.5-2.7 3.1-.3 3.1-.7 3.3 .9 3.2-.4 3.1-.5 3-1.5 2.2-2.6 .3-3.1 .4-3.1 1.4-2.8 .3-3.2-2.1-2-1.7-2.6-2-2.3-2.4-1.8-2.1-2.2-2-2.3-2.3-1.9-1.9-2.4-2.7 .8-2.8 .6-2.7 1.4-2.9-.7-2.9-.6-.6 3.1zM340.7 571.8l-.1 2.8-1.3 3 .3 2.8 2.7 .9 2.6 1.1 2.8-1.1 2.6 .4 2.8-.8 .7-1.3 0-1.5-1.5-2.5-1-2.7-1-2.6-.6-2.9-.9-2.7 .8-1.1 1.1-3.3-1.1-3.2-.5-3.2-2.2-1.9-1.1-2.6-1.5-2.4-2.9 1.5-3 1-3.1 .8 1 3 .9 3 1.4 2.8 0 3.2-.3 3.2-1.1 1.2 1.6 2.6zM338.7 438.7l3.2 .5 2.2 2.4 2.1 2.6 2.7 1.4 2.1-1.7 .3-3.5 2.2-1.6 2.8-1.1 1.8-2.2-.6-3.3-.9-3.3-3.2-.8-2.6-1.7-2-2.8-2.7-1.5-2.4-2-.2 0-2.6 2-2.2 2.4-1.9 2.5-1.5 3-3-.2-2.8-1.1-3-.3-3-.4-2.8-.8-2.9 2.1-1.7 3-.2 2.7 .2 2.6 .9 2.5 1.2 2.5 2.8 .4 2.7 .6 2.8-.2 2.7-1.4 2.7 .1 2.6-1 .9-2.7z"/>
<path fill="#00239a" d="M161 544l3 1 3.2 .5 2.7 1.8 3.1 .7 2.4 .9 2.4 .7 2.2 1.4 2.9 .9 1.4 1.1 1.3-.6 1.8-2.4-.8-2.9 .6-2.6-.9-2.5-2.2-1.8-.3-2.9-1.4-2.2-1.3-.6-1.4 .3-2 1-3.1 1-2.8-.2-2.2-2.7-2.6-.7 .6-3.2-.4-3.1-2-2.8-3.1-2.3-3.8 .4-2.4 2.3-1.5 2.9-1.3 2.9 1.8 3 2.5 2.2 2.3 2.5 0 3.2-.1 2.4z"/>
<path fill="#0158b6" d="M441.8 387.6l1.3 2.9-.5 3.2 .8 3 3.4 1.7 2.9 2.4 3.1-.2 3.2 .1 2.8-1.1 2.1-3.1 2.8-.9 2.9-1 .7 3.1 .8 3.1 1.3 2.8 2 2.4 1.8 2.6 7.9 3.1 .9-3.1 0-3.6-.5-2.7 1-2.6-.5-2.7-.9-2.7-1.1-2.7-1.3-2.5-.8-2.7-.6-2.8-.1-.3-8.2 2.1-2.2-2-1.7-2.5-1.6-2.7-2.1-2.2-3.4-.6-2.3-1.9-2.6 1.1-2.6 1.3-2.6 1.1-2.3 1.7-2.6 1.3-2.4 1.5-.3 3.2z"/>
<path fill="#002c9f" d="M358.4 592.4l1.1 3.1 1.6 2.9 1.5 2.9 .1 3.4-2.1 2.6 .9 .9 3 1.4 3 1.3 3.3 .5 3.1 1.1 1.4-2.6 2.2-2 2.2-2 1.7-2.4 1.3-2.7-2.4-1.8-2.2-2-.6-3.2-1-2.6 .7-2.8-3.3-.7-1.6-3-2.8-.3-2.6 2.6-2.6 1.6-2.8-.6-2.9-1.2-2.8-.4 1.6 2.9z"/>
<path fill="#00249a" d="M118.1 468.5l2.7 1.6 3.5-.5 2.7 1.5 1.1-1.3 1.5-.8-.3-3.5 1.9-3-1.9-3.1-2.5-2.7 1.9-2.9 .9-3.2 .5-3.3-2.6-1.3-.3-2.9-1.4-.6-2.6 1-2.3 2.1-2.2 2.2-3.2-.5-3.1-.1-.3 1.7-3 .6-2.8 .9-.7 .3-.6 1.3-1 2.5-1 2.5 1.6 1.9 1.4 2.1 1.8 2.2 2.2 1.8-1.1 2.4 1.1 .2 .8-1.6 1.8-.4 2.8 1.3zM245.5 189.2l.1 3-2.9 2.5-.7 2.9 1.9 2.1 1.4 2.4 2.7-.6 2.5 .8 2.6 .6 2.3-2.5 1.8-2.8 .6-3.4-.4-3.2-1.4-3.2 .9-3.1 1.6-3.1-3.4 0-3.3-1.5-3.5 .4-1.2-2.9 .2-3.2-.7-2.9-.6-3.1-1.2-2.8-2.9-1.2-2.9-1-2.8-1.5-3-.6-3.4 1.3-3-.3-1.4 3.1 .7 2.7 .7 2.7 2.1 2.5-.6 2.8 1 2.7 1.5 1.2 2.8 .4 3.1-1.4 2.7 1 2.6 1.1 2.5 1.9 0 3.1z"/>
<path fill="#003ba9" d="M246.8 143.9l1.5 2.7 .6 3.2 1.5 2.7 1.2 2.8 2.3 2 2.8-.1 2.7 1.2 2.8-.7 2.7 .3 .1 2.9 0 2.9 .8-.9 .8-2.6 1.4-2.3 0-1.8 0-1.2 0-3-2.3-2.7-2.7-2.3-2.5-1.5-2.5-1.5-2.6-.8-2.8 .6-2.6-.8-3.4-.5-3.4-.4-1.9-.6 2.4 1.2zM263.9 175.1l-2.4 2.4-.6 2.8 2.8 1 3-.5 2.8 .9 2.8 .7 2.6 .1-.9-3.5-.8-3-.2-3-2.7-.6-2.3-1.4-2.6 .2-.3 1.2zM278 183.9l.9-2.9 1-2.9 1.1-2.8 0-.2-1-.1-2 3-1.8 2.3-1 2.2 .1 0zM277.7 468.8l-1.1 3.2-.2 3.3 2.9 .1 2.7 .5 1.4 3.3 2.6 .8 1.8-2.8 3.2-.7 3.3 .8 3.5 .2 3.1 1.7 1.6-2.2 2.4-1.8 2.1-1.9 .5-2.9 .4-3-.8-3.4-2.8-2.1-3.3-.1-2.9-1.5-3.1-.5-3-1-1.7 1.4-3.2-.1-3.1 1-3.1 .7-3.2 .4 .2 3.4z"/>
<path fill="#0037a7" d="M314.1 578.5l1.7 3 1.9 .8 1.9 1 2.7-1.5 2.4-1.7 1.7-2.6 2.5 1.6 1.7 3 3.2 .2 2.9 .7 1.4-1.4 1.5-1.2-.3-2.8 1.3-3 .1-2.8-1.9-2.5-1.6-2.6 1.1-1.2 .3-3.2 0-3.2-1.4-2.8-.9-3-1-3-1.7-.6-1.7-.5-2.9 1.6-1.9 2.7-2.8 1.5 1.4 2.9 .4 3.1-.1 3.1-.7 3.1-3.2-1.4-3.1 .2-2.7 2.7-3.1-.1 .4 3.2-1.2 3.7zM136.2 340.7l-1.1 3.6 .9 3.6 3.3 .9 2.7 2 2.3 2.6 2.9 1.4 .4-3.6 2.1-2.8 2-2.8-2.1-2.7-.9-3.7-3.7-1.3 .1-3 2.7-1.8 .8-2.8 1.2-2.5-2.7-1-2.8-1.1-2.5-2-2.1-1.3 .3 .6 1.3 3.4 .7 3.6-2.8 1.8-2.7 1.9-2.5 2.3-1.3 1.4 1.2 1.3z"/>
<path fill="#015ab7" d="M213.5 372.7l-.8 3-.4 3.1 2.6 2.4 1.4 3 .2 3.5 2.3-1.7 3 .3 2.5-1.2 2.5-1.3 2.4-1.4 2.8-.5 .2-3.5 .6-3.6-2.2-2-1.5-2.5-1.2-2.7 .8-2.6 .5-2.7 1-2.5 2.6-1.6-2-2.4-1.3-2.8-1.9-2.4-1.2-2.9-3.5-.6-3.5 .6-1.9 2.2-1.3 2.7-1.9 2.2-2.3 1.9-2.5 1.6 2.3 2.1 1 3.1 1.8 2.4 2.6 1.9-2.8 2.1z"/>
<path fill="#0035a5" d="M373.8 394.1l-2.5 2-1.9 2.5-1.3 3-1.9 2.5-.3 3.2-.3 3.3 3 1.9 1.2 2.7 1.5 2.6 3.4 1 3 1.8 3.1 1.6 1.2-3.1 2.9-1.9 3.5-1.5 2.3-2.3 .8-3.4 .5-3.5 1.1-3.1 1.4-.3 1-3-.4-4.1 2.1-2.1 4.2-.4 2.7-1.6 1.5-2.6-1.7-2.2-.3-2.9-3-1-3-.9-3.2 .1-3.2 .1-2.9-1.5-3.1-.5-3-1-3.2-.1-1.9 2.2-2.3 1.9-.9 2.9-.5 2 .9 2.8z"/>
<path fill="#000c8a" d="M328.1 498.3l-1.3 3 1 3.2-.6 3.1 .4 .6 2.9 .1 3-.2 2.9 1.9 2.9 1.4 3-1.9 2.9-1.1 1.9-3.3 .9-3.6-.2-3.6-2.6-2.6 1.8-2.8 .3-3.6 2.7-2.2-1.7-2.7-2.1-2.5 .2-3.5-3.2-.1-3.1-.8-1.5 2.8-1.8 2.5-2.2 2.4-.6 3.2-1.4 2.7-1.9 1.2-2.2 .1 .9 3.2z"/>
<path fill="#0040ac" d="M288.1 250.6l.2 3.1 .5 2.9 2.9 .6 1.7 2.4 3 0 3 .4 2.8-.8 2.6-1.2 2.6-1.8 .8-3 1.4-2.8 1.9-2.8 1-2.9 0-3.3-.5-3.3 .6-3.1 2.9 .6 2.9 .7 2.7-1.4 2.8-.6 2.7-.8 1.5-2.6 2.5-2.1 .9-2.9 1.3-2.6 1.5-2.6 .1-3.3 1.5-2.6-1.3-2.7-1-3-2.3-1.9-1.7-1.9-2.6 1.7-4 2-3.2-1.1-2.8-1.9-2.6 .2-2.4 .8-1 .3-.2 1.2-1.5 2-2.1 1.7-2.8-.9-2.8-1.3-2.6-2.5-2.8-1.1-3 .3-3.2 1.9-3.1 .9-2.8-.5-.1 0-1.5 1.5-.1 2.2 1.8 2.5 1.8 2.5 2.4 2.2 2 2.3 .5 3.3 .7 3.1 1.6 2.6-3.2 1.1-1.3 3.1-1.5 2.9-3 1.3-.4 1.6 .3 1.5 2.6 2.3 1 2.7z"/>
<path fill="#00299d" d="M178.6 606.5l-1.1 3.2 1.5 3.3 .8 3.2 .2 .2 2.9-1.5 2.9-1.5 3.4 .6 3.2 0 .2-2.9 1.2-2.7 .5-2.9 .9-2.7-3.4-1.1-.9-3.4 .9-2.9 .9-2.9 1.3-2.7 1.7-2.4 1.6-2.6-2.4-.9-2-2.2-2.8 0-2.4-1.2-2.4 1.5-2.8 1-2.2 2.9-1 3.2 .4 3.6 1.7 2.5 .6 2.9-.3 1.4-1.2 .7 .2 3.2z"/>
<path fill="#0042ac" d="M173.5 407.5l1.7 2.3 3 .6 2.7 .9 1.3 2.7 2.2 1.7 3-1.7 3.6-.1 3.1-1.4 1.7 2.5 2.3 1.6 2.9 .7 2.4 1.3 1.3-3 1.3-3 3.7-.8 2-2.4-1-2.7-.5-2.7-.8-2.6 .8-2.8 .8-2.8-3 .6-3 .6-3 .5-2.7-1.9-2.8-1.3-2 2.1-1.5 2.4-3.1 .3-3 .2-3.1 .8-3-1.5-2.9-1.2-1.3 2.5-2 2.1 0 2.9z"/>
<path fill="#03aada" d="M248.9 585.7l-1.6 2.9 1.2 2.8 2 2.3 3.3-1.4 3.2 0 3.3 .8 3.2 .7 .9-1 3.1 0 3.3 1.9 3-.9 3.1-1.8-.1-3.2 2.5-2.1 1.1-2.8-.4-1.2-2.6-.5-3.1 .9-2.2-1.9-2.2-1.8-3.2 1.3-3 1.6-2.5-1.5-2.7-1.3-1.9-2.4-4-.8-2.5 3.1-1.3 3z"/>
<path fill="#000a89" d="M232.6 452.9l1.6 3.4 0 3.2 2.7 2.1 3.2 1.1 3.2 1 .9 2.7 1.7 2.7-.1 2.8-.4 2.8-.6 2.9 .6 .3 1.7 0 1.7-2.4 1.5-2.6 2.6-1.1 2.7-1 2.6-1.1 2.6-1.2 .1-1.6-2.3-2.2-2.2-2.3-2.3-2.2-2.6-1.9 .6-2.8 1.3-2.6 0-3 .3-2.8-1.2-1.5-.2-2-2.6 1-2.3 3.1-2.7 .7-2.9-.1-3.2-1.6-2.8 .3-1.1 3z"/>
<path fill="#002ca0" d="M119.8 514.2l-.7-3 1-3.1-3-.6-3.5 .6-1.5-.3 .3 2.2-.4 3 .8 3.5 .2 3.5 .5 .9 1.3 2.2 2.2 2.9 1.6 2 1.8 1.9 1.6 2.1 1.8 1.8 2.3-1.7 2.4-1.8-.2-2.8-.3-2.7-.8-2.7-.7-2.6-3.2 0-2.1-2.4zM104.7 484.5l2.1-2.3 2.3-2 2.2-2.2-1-3.4 .6-3.6-.9-3.4-1.1-.2-.5 .9-2.4 2.7-2.3 2.8-1.7 3.2-.3 3 .3 3 .2 3.5 .5 2.1 .8-.8zM252.7 637.3l0 3.3-1.1 2.9-.1 .4 .5 .1 2.4 1.6 2.6 1.4 1.5 .5 .9-1 2.1-2 1.4-2.7 2.6-1.5 1.9-2.2 2-2.1-1.3-1.5-.2-3.3 2.1-3.4-.4-3.3-1.8-3.3-2.6-.7-2.9 .5-2.6-1.1-2.9 1.8-2.3 2.3-2.3 2.5 2.4 2.2 1.2 3.1-1.8 2.7z"/>
<path fill="#002299" d="M141.4 536.9l.9 3 .2 3 .5 .1 2.9-1 3.1 0 3 .2 3-.2 3 1.1 1.6 .5 .1-2.4 0-3.2-2.3-2.5-2.5-2.2-1.8-3 1.3-2.9 1.5-2.9 2.4-2.3-1.7-3-2-2.9-.7-3.5-2.3 1.5-2.5 1.3-3.1 .4-1.9 2.1-1.6 2.7-1.2 3-.5 3 .9 3.2-.7 .8 .4 3z"/>
<path fill="#00108e" d="M253.4 452.9l-1.3 2.6-.6 2.8 2.6 1.9 2.3 2.2 2.2 2.3 2.3 2.2-.1 1.6 .4 3 1.6 2.3 2.8 1.5 .9 2.7 1.8 2.2 2.9-1.2 2.7-1.6 2.5-2.1 .2-3.3 1.1-3.2 .2-3.2-.2-3.4-2.3-2.3-3.1-1.1-1.1-2.1-.3-2.4-2.8-1.3-2.8-1.3-2.6-1.9-2.8-1.3-3.3-.1-2.9-1.3-.3 2.8z"/>
<path fill="#03c2e5" d="M327.7 591.3l2.1-2.4 3.2-.2 2.6-1.4 1-2.1 .1-2.2-2.9-.7-3.2-.2-1.7-3-2.5-1.6-1.7 2.6-2.4 1.7-2.7 1.5-1.9-1-1.9-.8-2.9 1.1-3.4-.2-2.4 2.1-2.6 1.7 .7 2.7-.6 3.4 1.9 2.3 2.3 2.1-1.9 2-.5 3.8-2.3 1.5-3.7-.1-2.2 1.7 2.6 1.5 3 1 3 .9 3.2 .7 1.8 2.7 1.8 2.9 .6-.7 .7-2.9 1-3 .5-2.9 0-3-1.7-3.1-1.2-1.6 1.6-2.8 1.3-3.1 2.3-2.2 2.8-1.8 2.7 2.4z"/>
<path fill="#000587" d="M335.9 332l-.2 2.9 .7 3 1.4 3-.4 2.9-1 2.9-1.3 1.2-1.7 .5-.3 2.8-.7 2.8 .9 3.1-.4 2.9-.9 2.7-1.4 2.7-.2 2.9-.4 2.9 .8 1.2 1.4 .4 3-1.6 3.5 .4 3.2-.7 3.1-.8 1-.7 .2-2.7 .4-2.7 .4-2.6 2-2.2-1.3-2.7 .4-3.7-2-2.4-2.9-1.9 2.1-2 2.5-1 2.9 .1 2-2.5 1-3.4 .4-3.8 2.5-2.1 3.7-1.2 2.6-2-2-2.1-2.5-1.8-.9-2.7-.5-2.8-.7-2.8-1.2-.6-1-.8-2.7-1.1-2.5 .9-2.6 .9-1.2-2.7-.7-3-1.7-2.4-2.3-1.8-2.1-2.1-1.7-2.3-1.9-2.2-1.8-2.3-1.6-2.3-3.3 .9-3.5-.3-.8 2.7-1 2.8-.2 3-.5 2.9-2.1 2.3-1.4 2.5-1.1 2.7 1.8 2.6 1.1 3.1 2.9 1 3 .7 3-.6 3.1-.3 2.9 1.2 3.1-.4-.2 2.9-1.4 2.8z"/>
<g fill="#000586" stroke-width=".4"><ellipse cx="203" cy="154" rx="3.6" ry="2.4" transform="rotate(10 203 154)"/><ellipse cx="195.5" cy="157" rx="1.5" ry="3" transform="rotate(20 195.5 157)"/><ellipse cx="207.5" cy="167" rx="2.4" ry="1.8" transform="rotate(0 207.5 167)"/><ellipse cx="123" cy="236" rx="2.4" ry="0.9" transform="rotate(-15 123 236)"/><ellipse cx="147" cy="228" rx="3" ry="0.9" transform="rotate(-8 147 228)"/><ellipse cx="160" cy="225.5" rx="2.6" ry="0.9" transform="rotate(-5 160 225.5)"/><ellipse cx="170" cy="224.5" rx="2.2" ry="0.8" transform="rotate(0 170 224.5)"/><ellipse cx="135" cy="232" rx="2.4" ry="0.9" transform="rotate(-18 135 232)"/></g>
<path d="M201 130l-3.5 5-1.5 6 1.5 7" fill="none" stroke="#000586" stroke-opacity=".6" stroke-width="1.8" stroke-linecap="round"/>
</g>
<path d="M204 212L213 213.6 226 214.6 239 221.6 249.5 235.5 248 236.3 237.6 223.4 225 216.6 211 217.2 204 218Z" fill="#dde2e8"/>
<circle cx="538.3" cy="669.8" r="9.4" fill="#222"/><rect x="536.7" y="667.6" width="3.4" height="7.6" fill="#fff"/><rect x="535.4" y="667.6" width="3" height="1.6" fill="#fff"/><rect x="535.2" y="673.8" width="6.4" height="1.6" fill="#fff"/><circle cx="538.3" cy="664.4" r="1.9" fill="#fff"/>
</svg></div>
<div class="abs cbar" style="left:586px;top:110px;width:28.5px;height:576.5px"></div>
<div class="abs" style="left:614px;top:109.8px;width:6px;height:1.2px;background:#444"></div>
<span class="abs cbl" style="left:623.2px;top:102.1px">10</span>
<div class="abs" style="left:614px;top:224.9px;width:6px;height:1.2px;background:#444"></div>
<span class="abs cbl" style="left:623.2px;top:217.2px">8</span>
<div class="abs" style="left:614px;top:340.0px;width:6px;height:1.2px;background:#444"></div>
<span class="abs cbl" style="left:623.2px;top:332.3px">6</span>
<div class="abs" style="left:614px;top:455.1px;width:6px;height:1.2px;background:#444"></div>
<span class="abs cbl" style="left:623.2px;top:447.4px">4</span>
<div class="abs" style="left:614px;top:570.2px;width:6px;height:1.2px;background:#444"></div>
<span class="abs cbl" style="left:623.2px;top:562.5px">2</span>
<div class="abs" style="left:614px;top:685.3px;width:6px;height:1.2px;background:#444"></div>
<span class="abs cbl" style="left:623.2px;top:677.6px">0</span>
<span class="abs cbt" style="left:645.1px;top:399.5px">Neuinfektionen pro 100.000 Einwohner und Tag</span>
<div class="card" style="left:0;top:719px;width:675px;height:760px"></div>
<div class="cardhead" style="left:1px;top:720px;width:673px;height:144.5px"></div>
<span class="t lbl" style="letter-spacing:-0.043px;left:28px;top:741.2px">Wähle Landkreis:</span>
<div class="dd" style="left:28px;top:778.5px;width:609px;height:47px"></div>
<span class="t ddt" style="letter-spacing:-0.322px;left:43px;top:791.3px">Düren (LK)</span>
<svg class="abs" style="left:584px;top:795.3px" width="44" height="16" viewBox="0 0 44 16"><path d="M3.2 3.2l9.4 9.4M12.6 3.2l-9.4 9.4" stroke="#999" stroke-width="1.5" fill="none"/><path d="M26.5 5.2h12l-6 6.2z" fill="#999"/></svg>
<div class="navline" style="left:28px;top:967px;width:609px"></div>
<div class="tabact" style="left:28px;top:914px;width:130px;height:54px"></div>
<span class="t tab tact" style="letter-spacing:0.911px;left:49px;top:929px">geglättet</span>
<span class="t tab tin" style="letter-spacing:0.825px;left:180.4px;top:929px">ungeglättet</span>
<div class="inner" style="left:28px;top:990px;width:609px;height:438.5px"></div>
<div class="btn" style="left:56.2px;top:1018px;width:139.7px;height:49px"></div>
<span class="t btnt" style="letter-spacing:0.325px;left:73.7px;top:1031px">Vergrößern</span>
<div class="abs" style="left:40px;top:1070px;width:580px;height:262px"><svg width="580" height="262" viewBox="40 1070 580 262" style="display:block;overflow:visible">
<defs><clipPath id="cp1"><rect x="85.5" y="1076.25" width="506.4" height="196.25"/></clipPath></defs>
<rect x="85.5" y="1076.25" width="506.4" height="196.25" fill="#e5e5e5"/>
<path d="M85.5 1266.9H591.9M85.5 1224.5H591.9M85.5 1182.0H591.9M85.5 1139.6H591.9M85.5 1097.1H591.9M85.5 1076.25V1272.5M169.9 1076.25V1272.5M254.3 1076.25V1272.5M338.7 1076.25V1272.5M423.1 1076.25V1272.5M507.5 1076.25V1272.5M591.9 1076.25V1272.5" stroke="#fff" stroke-width="1" fill="none" clip-path="url(#cp1)"/>
<path d="M85.5 1227.2 89.7 1226.8 93.9 1226.1 98.2 1225.5 102.4 1225.1 106.6 1224.9 110.8 1224.9 115.0 1224.9 119.3 1225.1 123.5 1225.5 127.7 1226.1 131.9 1226.8 136.1 1227.0 140.4 1226.8 144.6 1226.1 148.8 1225.5 153.0 1225.3 157.2 1225.5 161.5 1226.1 165.7 1226.8 169.9 1227.1 174.1 1227.1 178.3 1226.8 182.6 1226.5 186.8 1226.1 191.0 1225.8 195.2 1225.5 199.4 1225.2 203.7 1225.0 207.9 1224.9 212.1 1224.9 216.3 1224.9 220.5 1224.9 224.8 1224.9 229.0 1224.9 233.2 1224.9 237.4 1224.9 241.6 1224.9 245.9 1224.9 250.1 1224.9 254.3 1224.9 258.5 1224.9 262.7 1224.9 267.0 1224.9 271.2 1224.9 275.4 1224.9 279.6 1224.9 283.8 1224.9 288.1 1224.9 292.3 1224.9 296.5 1224.9 300.7 1224.9 304.9 1224.5 309.2 1223.8 313.4 1222.8 317.6 1221.7 321.8 1221.0 326.0 1220.6 330.3 1220.4 334.5 1219.7 338.7 1218.8 342.9 1217.8 347.1 1216.7 351.4 1216.0 355.6 1215.9 359.8 1216.5 364.0 1217.4 368.2 1218.4 372.5 1218.7 376.7 1218.4 380.9 1217.5 385.1 1216.5 389.3 1215.6 393.6 1214.6 397.8 1213.7 402.0 1212.8 406.2 1212.3 410.4 1212.1 414.7 1212.1 418.9 1212.1 423.1 1212.4 427.3 1212.9 431.5 1213.6 435.8 1214.4 440.0 1214.7 444.2 1214.5 448.4 1213.8 452.6 1213.2 456.9 1212.6 461.1 1211.9 465.3 1211.3 469.5 1210.7 473.7 1209.9 478.0 1209.0 482.2 1207.9 486.4 1206.8 490.6 1205.6 494.8 1204.1 499.1 1202.5 503.3 1200.9 507.5 1199.8 511.7 1199.6 515.9 1200.4 520.2 1201.6 524.4 1202.4 528.6 1202.8 532.8 1202.8 537.0 1202.8 541.3 1202.5 545.5 1201.8 549.7 1200.9 553.9 1199.9 558.1 1199.3 562.4 1198.9 566.6 1198.8 570.8 1198.7 575.0 1197.6 579.2 1195.5 583.5 1192.4 587.7 1189.3 591.9 1187.3 591.9 1266.7 587.7 1266.7 583.5 1266.7 579.2 1266.7 575.0 1266.7 570.8 1266.7 566.6 1266.7 562.4 1266.7 558.1 1266.7 553.9 1266.7 549.7 1266.7 545.5 1266.7 541.3 1266.7 537.0 1266.7 532.8 1266.7 528.6 1266.7 524.4 1266.7 520.2 1266.7 515.9 1266.7 511.7 1266.7 507.5 1266.7 503.3 1266.7 499.1 1266.7 494.8 1266.7 490.6 1266.7 486.4 1266.7 482.2 1266.7 478.0 1266.7 473.7 1266.7 469.5 1266.7 465.3 1266.7 461.1 1266.7 456.9 1266.7 452.6 1266.7 448.4 1266.7 444.2 1266.7 440.0 1266.7 435.8 1266.7 431.5 1266.7 427.3 1266.7 423.1 1266.7 418.9 1266.7 414.7 1266.7 410.4 1266.7 406.2 1266.7 402.0 1266.7 397.8 1266.7 393.6 1266.7 389.3 1266.7 385.1 1266.7 380.9 1266.7 376.7 1266.7 372.5 1266.7 368.2 1266.7 364.0 1266.7 359.8 1266.7 355.6 1266.7 351.4 1266.7 347.1 1266.7 342.9 1266.7 338.7 1266.7 334.5 1266.7 330.3 1266.7 326.0 1266.7 321.8 1266.7 317.6 1266.7 313.4 1266.7 309.2 1266.7 304.9 1266.7 300.7 1266.7 296.5 1266.7 292.3 1266.7 288.1 1266.7 283.8 1266.7 279.6 1266.7 275.4 1266.7 271.2 1266.7 267.0 1266.7 262.7 1266.7 258.5 1266.7 254.3 1266.7 250.1 1266.7 245.9 1266.7 241.6 1266.7 237.4 1266.7 233.2 1266.7 229.0 1266.7 224.8 1266.7 220.5 1266.7 216.3 1266.7 212.1 1266.7 207.9 1266.7 203.7 1266.7 199.4 1266.7 195.2 1266.7 191.0 1266.7 186.8 1266.7 182.6 1266.7 178.3 1266.7 174.1 1266.7 169.9 1266.7 165.7 1266.7 161.5 1266.7 157.2 1266.7 153.0 1266.7 148.8 1266.7 144.6 1266.7 140.4 1266.7 136.1 1266.7 131.9 1266.7 127.7 1266.7 123.5 1266.7 119.3 1266.7 115.0 1266.7 110.8 1266.7 106.6 1266.7 102.4 1266.7 98.2 1266.7 93.9 1266.7 89.7 1266.7 85.5 1266.7Z" fill="#a5c161" fill-opacity="0.25" clip-path="url(#cp1)"/>
<path d="M85.5 1245.7 89.7 1245.7 93.9 1245.7 98.2 1245.7 102.4 1245.6 106.6 1245.6 110.8 1245.6 115.0 1245.6 119.3 1245.6 123.5 1245.6 127.7 1245.6 131.9 1245.6 136.1 1245.6 140.4 1245.6 144.6 1245.6 148.8 1245.6 153.0 1245.5 157.2 1245.5 161.5 1245.5 165.7 1245.5 169.9 1245.5 174.1 1245.5 178.3 1245.5 182.6 1245.5 186.8 1245.5 191.0 1245.5 195.2 1245.5 199.4 1245.5 203.7 1245.4 207.9 1245.4 212.1 1245.4 216.3 1245.4 220.5 1245.4 224.8 1245.4 229.0 1245.4 233.2 1245.4 237.4 1245.4 241.6 1245.4 245.9 1245.4 250.1 1245.4 254.3 1245.3 258.5 1245.3 262.7 1245.3 267.0 1245.3 271.2 1245.3 275.4 1245.3 279.6 1245.3 283.8 1245.3 288.1 1245.3 292.3 1245.3 296.5 1245.3 300.7 1245.3 304.9 1245.2 309.2 1245.0 313.4 1244.7 317.6 1244.4 321.8 1244.2 326.0 1243.9 330.3 1243.7 334.5 1243.5 338.7 1243.4 342.9 1243.3 347.1 1243.3 351.4 1243.2 355.6 1243.1 359.8 1243.1 364.0 1243.0 368.2 1242.9 372.5 1242.8 376.7 1242.8 380.9 1242.7 385.1 1242.6 389.3 1242.5 393.6 1242.5 397.8 1242.4 402.0 1242.3 406.2 1242.2 410.4 1242.1 414.7 1242.0 418.9 1241.9 423.1 1241.8 427.3 1241.7 431.5 1241.6 435.8 1241.5 440.0 1241.3 444.2 1240.9 448.4 1240.4 452.6 1239.8 456.9 1239.3 461.1 1238.8 465.3 1238.2 469.5 1237.7 473.7 1237.4 478.0 1237.2 482.2 1237.1 486.4 1237.1 490.6 1237.1 494.8 1237.1 499.1 1237.1 503.3 1237.0 507.5 1237.0 511.7 1237.0 515.9 1237.0 520.2 1237.0 524.4 1236.9 528.6 1236.9 532.8 1236.9 537.0 1236.9 541.3 1236.8 545.5 1236.8 549.7 1236.8 553.9 1236.8 558.1 1236.4 562.4 1235.7 566.6 1234.6 570.8 1233.6 575.0 1232.9 579.2 1232.5 583.5 1232.5 587.7 1232.5 591.9 1232.5 591.9 1258.0 587.7 1258.0 583.5 1258.0 579.2 1258.0 575.0 1258.0 570.8 1258.0 566.6 1258.0 562.4 1258.0 558.1 1258.0 553.9 1258.0 549.7 1258.0 545.5 1258.0 541.3 1258.0 537.0 1258.0 532.8 1258.0 528.6 1258.0 524.4 1258.0 520.2 1258.0 515.9 1258.0 511.7 1258.0 507.5 1258.0 503.3 1258.0 499.1 1258.0 494.8 1258.0 490.6 1258.0 486.4 1258.0 482.2 1258.0 478.0 1258.0 473.7 1258.0 469.5 1258.0 465.3 1258.0 461.1 1258.0 456.9 1258.0 452.6 1258.0 448.4 1258.0 444.2 1258.0 440.0 1258.2 435.8 1258.7 431.5 1259.5 427.3 1260.2 423.1 1260.7 418.9 1261.0 414.7 1261.1 410.4 1261.1 406.2 1261.2 402.0 1261.2 397.8 1261.3 393.6 1261.4 389.3 1261.4 385.1 1261.5 380.9 1261.5 376.7 1261.6 372.5 1261.7 368.2 1261.7 364.0 1261.8 359.8 1261.8 355.6 1261.9 351.4 1261.9 347.1 1262.0 342.9 1262.1 338.7 1262.1 334.5 1262.2 330.3 1262.2 326.0 1262.2 321.8 1262.2 317.6 1262.3 313.4 1262.3 309.2 1262.3 304.9 1262.3 300.7 1262.3 296.5 1262.3 292.3 1262.3 288.1 1262.3 283.8 1262.3 279.6 1262.3 275.4 1262.3 271.2 1262.3 267.0 1262.3 262.7 1262.3 258.5 1262.4 254.3 1262.4 250.1 1262.4 245.9 1262.4 241.6 1262.4 237.4 1262.4 233.2 1262.4 229.0 1262.4 224.8 1262.4 220.5 1262.4 216.3 1262.4 212.1 1262.4 207.9 1262.4 203.7 1262.5 199.4 1262.5 195.2 1262.5 191.0 1262.5 186.8 1262.5 182.6 1262.5 178.3 1262.5 174.1 1262.5 169.9 1262.5 165.7 1262.5 161.5 1262.5 157.2 1262.5 153.0 1262.5 148.8 1262.5 144.6 1262.6 140.4 1262.6 136.1 1262.6 131.9 1262.6 127.7 1262.6 123.5 1262.6 119.3 1262.6 115.0 1262.6 110.8 1262.6 106.6 1262.6 102.4 1262.6 98.2 1262.6 93.9 1262.6 89.7 1262.6 85.5 1262.7Z" fill="#92b747" fill-opacity="0.4" clip-path="url(#cp1)"/>
<path d="M85.5 1253.1 89.7 1253.1 93.9 1253.0 98.2 1253.0 102.4 1252.9 106.6 1252.9 110.8 1252.8 115.0 1252.8 119.3 1252.7 123.5 1252.7 127.7 1252.6 131.9 1252.5 136.1 1252.5 140.4 1252.4 144.6 1252.4 148.8 1252.3 153.0 1252.3 157.2 1252.2 161.5 1252.1 165.7 1252.1 169.9 1252.0 174.1 1252.0 178.3 1251.9 182.6 1251.8 186.8 1251.8 191.0 1251.7 195.2 1251.7 199.4 1251.6 203.7 1251.5 207.9 1251.5 212.1 1251.4 216.3 1251.4 220.5 1251.3 224.8 1251.2 229.0 1251.2 233.2 1251.1 237.4 1251.1 241.6 1251.0 245.9 1250.9 250.1 1250.9 254.3 1250.8 258.5 1250.7 262.7 1250.7 267.0 1250.6 271.2 1250.6 275.4 1250.5 279.6 1250.4 283.8 1250.4 288.1 1250.3 292.3 1250.2 296.5 1250.2 300.7 1250.1 304.9 1250.0 309.2 1250.0 313.4 1249.9 317.6 1249.8 321.8 1249.8 326.0 1249.7 330.3 1249.6 334.5 1249.6 338.7 1249.5 342.9 1249.4 347.1 1249.2 351.4 1249.1 355.6 1249.0 359.8 1248.9 364.0 1248.7 368.2 1248.6 372.5 1248.5 376.7 1248.3 380.9 1248.2 385.1 1248.1 389.3 1247.9 393.6 1247.8 397.8 1247.7 402.0 1247.5 406.2 1247.4 410.4 1247.2 414.7 1247.1 418.9 1247.0 423.1 1246.8 427.3 1246.7 431.5 1246.5 435.8 1246.4 440.0 1246.3 444.2 1246.2 448.4 1246.1 452.6 1246.0 456.9 1245.9 461.1 1245.8 465.3 1245.7 469.5 1245.6 473.7 1245.5 478.0 1245.4 482.2 1245.3 486.4 1245.2 490.6 1245.1 494.8 1245.0 499.1 1244.8 503.3 1244.7 507.5 1244.6 511.7 1244.5 515.9 1244.4 520.2 1244.3 524.4 1244.1 528.6 1244.0 532.8 1243.8 537.0 1243.7 541.3 1243.5 545.5 1243.4 549.7 1243.2 553.9 1243.1 558.1 1242.9 562.4 1242.8 566.6 1242.6 570.8 1242.5 575.0 1242.3 579.2 1242.2 583.5 1242.0 587.7 1241.8 591.9 1241.7" stroke="#2f8f1f" stroke-width="1.7" fill="none" clip-path="url(#cp1)"/>
<path d="M431.5 1090.25V1272.5" stroke="#9ccff5" stroke-width="1.5" stroke-dasharray="5 2.5" fill="none"/>
<path d="M515.9 1090.25V1272.5" stroke="#1e90ff" stroke-width="1.9" fill="none"/>
<circle cx="85.5" cy="1232.9" r="1.45" fill="#000"/>
<circle cx="102.4" cy="1254.2" r="1.45" fill="#000"/>
<circle cx="119.3" cy="1262.7" r="1.45" fill="#000"/>
<circle cx="136.1" cy="1237.2" r="1.45" fill="#000"/>
<circle cx="153.0" cy="1249.9" r="1.45" fill="#000"/>
<circle cx="169.9" cy="1258.4" r="1.45" fill="#000"/>
<circle cx="186.8" cy="1254.2" r="1.45" fill="#000"/>
<circle cx="203.7" cy="1258.4" r="1.45" fill="#000"/>
<circle cx="220.5" cy="1266.9" r="1.45" fill="#000"/>
<circle cx="237.4" cy="1258.4" r="1.45" fill="#000"/>
<circle cx="254.3" cy="1254.2" r="1.45" fill="#000"/>
<circle cx="271.2" cy="1258.4" r="1.45" fill="#000"/>
<circle cx="288.1" cy="1266.9" r="1.45" fill="#000"/>
<circle cx="304.9" cy="1258.4" r="1.45" fill="#000"/>
<circle cx="321.8" cy="1258.4" r="1.45" fill="#000"/>
<circle cx="338.7" cy="1258.4" r="1.45" fill="#000"/>
<circle cx="355.6" cy="1262.7" r="1.45" fill="#000"/>
<circle cx="372.5" cy="1258.4" r="1.45" fill="#000"/>
<circle cx="389.3" cy="1203.2" r="1.45" fill="#000"/>
<circle cx="406.2" cy="1241.9" r="1.45" fill="#000"/>
<circle cx="423.1" cy="1211.7" r="1.45" fill="#000"/>
<circle cx="440.0" cy="1237.2" r="1.45" fill="#000"/>
<circle cx="456.9" cy="1237.2" r="1.45" fill="#000"/>
<circle cx="473.7" cy="1258.4" r="1.45" fill="#000"/>
<circle cx="490.6" cy="1232.9" r="1.45" fill="#000"/>
<circle cx="507.5" cy="1249.9" r="1.45" fill="#000"/>
<path d="M430.7 1072.5H470.5V1068.7L483.5 1081.3L470.5 1093.8999999999999V1090.2H430.7Z" fill="#93d0fb" stroke="#a6d9fb" stroke-width=".8"/><text x="434.7" y="1084.9" font-family="Liberation Serif,serif" font-size="12" fill="#1f3f66" textLength="37.5" lengthAdjust="spacingAndGlyphs">Nowcast</text>
<path d="M515.1 1072.5H554.9V1068.7L567.9 1081.3L554.9 1093.8999999999999V1090.2H515.1Z" fill="#1e90ff" stroke="#1e90ff" stroke-width=".8"/><text x="519.1" y="1084.9" font-family="Liberation Serif,serif" font-size="12" fill="#1f3f66" textLength="37" lengthAdjust="spacingAndGlyphs">Forecast</text>
<path d="M81.9 1266.9H85.5M81.9 1224.5H85.5M81.9 1182.0H85.5M81.9 1139.6H85.5M81.9 1097.1H85.5M85.5 1272.5V1276.3M169.9 1272.5V1276.3M254.3 1272.5V1276.3M338.7 1272.5V1276.3M423.1 1272.5V1276.3M507.5 1272.5V1276.3M591.9 1272.5V1276.3" stroke="#666" stroke-width=".9" fill="none"/>
<text x="80.1" y="1269.9" font-family="Liberation Serif,serif" font-size="9" fill="#777" text-anchor="end">0</text>
<text x="80.1" y="1227.5" font-family="Liberation Serif,serif" font-size="9" fill="#777" text-anchor="end">10</text>
<text x="80.1" y="1185.0" font-family="Liberation Serif,serif" font-size="9" fill="#777" text-anchor="end">20</text>
<text x="80.1" y="1142.6" font-family="Liberation Serif,serif" font-size="9" fill="#777" text-anchor="end">30</text>
<text x="80.1" y="1100.1" font-family="Liberation Serif,serif" font-size="9" fill="#777" text-anchor="end">40</text>
<text transform="translate(103.3 1284.8) rotate(-45)" font-family="Liberation Serif,serif" font-size="10.4" fill="#666" text-anchor="end">28.08.2020</text>
<text transform="translate(187.7 1284.8) rotate(-45)" font-family="Liberation Serif,serif" font-size="10.4" fill="#666" text-anchor="end">02.09.2020</text>
<text transform="translate(272.1 1284.8) rotate(-45)" font-family="Liberation Serif,serif" font-size="10.4" fill="#666" text-anchor="end">07.09.2020</text>
<text transform="translate(356.5 1284.8) rotate(-45)" font-family="Liberation Serif,serif" font-size="10.4" fill="#666" text-anchor="end">12.09.2020</text>
<text transform="translate(440.9 1284.8) rotate(-45)" font-family="Liberation Serif,serif" font-size="10.4" fill="#666" text-anchor="end">17.09.2020</text>
<text transform="translate(525.3 1284.8) rotate(-45)" font-family="Liberation Serif,serif" font-size="10.4" fill="#e8343a" text-anchor="end">22.09.2020</text>
<text transform="translate(609.7 1284.8) rotate(-45)" font-family="Liberation Serif,serif" font-size="10.4" fill="#666" text-anchor="end">27.09.2020</text>
<text transform="translate(65 1174.9) rotate(-90)" font-family="Liberation Serif,serif" font-size="10.4" fill="#777" text-anchor="middle" textLength="150" lengthAdjust="spacingAndGlyphs">Fallzahlen/Tag nach Meldedatum</text>
<rect x="87.7" y="1078.8" width="116.6" height="66.6" rx="2" fill="#ebebeb" fill-opacity=".8"/>
<circle cx="105.0" cy="1089.8" r="1.45" fill="#000"/>
<path d="M94.10000000000001 1104.8H115.7" stroke="#2f8f1f" stroke-width="1.7"/>
<rect x="94.60000000000001" y="1116.7" width="20.2" height="6.9" fill="#92b747" fill-opacity=".5"/>
<rect x="94.60000000000001" y="1131.9" width="20.2" height="6.9" fill="#a5c161" fill-opacity=".27"/>
<text x="123.7" y="1093.2" font-family="Liberation Serif,serif" font-size="11" fill="#333" textLength="49" lengthAdjust="spacingAndGlyphs">Daten RKI</text>
<text x="123.7" y="1108.4" font-family="Liberation Serif,serif" font-size="11" fill="#333" textLength="30" lengthAdjust="spacingAndGlyphs">Modell</text>
<text x="123.7" y="1123.6" font-family="Liberation Serif,serif" font-size="11" fill="#333" textLength="77.5" lengthAdjust="spacingAndGlyphs">25%-75%-Quantil</text>
<text x="123.7" y="1139" font-family="Liberation Serif,serif" font-size="11" fill="#333" textLength="72.5" lengthAdjust="spacingAndGlyphs">5%-95%-Quantil</text>
</svg></div>
<span class="t body" style="letter-spacing:0.229px;left:54.5px;top:1322.2px">Es gibt eine Tendenz von <b>steigenden</b> Infektionszahlen mit</span><span class="t body" style="letter-spacing:0.189px;left:55.2px;top:1353.5px">einer Wahrscheinlichkeit von grösser <b>50%</b>.</span>
</div></div>
</body></html>
